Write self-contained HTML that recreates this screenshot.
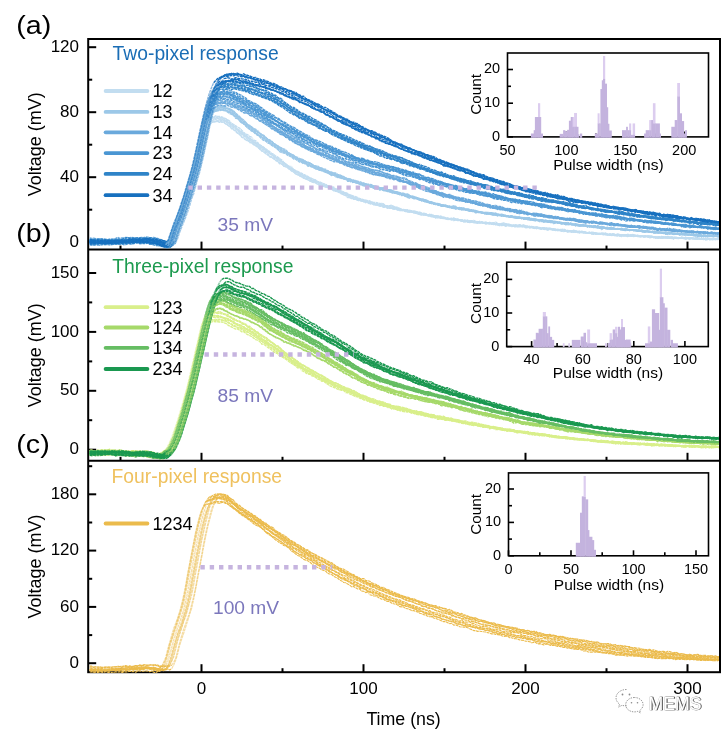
<!DOCTYPE html><html><head><meta charset="utf-8"><style>html,body{margin:0;padding:0;background:#fff;overflow:hidden;}svg{display:block}</style></head><body>
<svg width="724" height="733" viewBox="0 0 724 733" font-family='"Liberation Sans", Arial, sans-serif'>
<rect width="724" height="733" fill="#fff"/>
<g stroke="#000" stroke-width="2" fill="none">
<rect x="88.2" y="39.0" width="631.8" height="633.2"/>
<line x1="88.2" y1="249.6" x2="720.0" y2="249.6"/>
<line x1="88.2" y1="460.8" x2="720.0" y2="460.8"/>
<line x1="201.5" y1="249.6" x2="201.5" y2="241.6"/>
<line x1="363.5" y1="249.6" x2="363.5" y2="241.6"/>
<line x1="525.5" y1="249.6" x2="525.5" y2="241.6"/>
<line x1="687.5" y1="249.6" x2="687.5" y2="241.6"/>
<line x1="120.5" y1="249.6" x2="120.5" y2="245.6"/>
<line x1="282.5" y1="249.6" x2="282.5" y2="245.6"/>
<line x1="444.5" y1="249.6" x2="444.5" y2="245.6"/>
<line x1="606.5" y1="249.6" x2="606.5" y2="245.6"/>
<line x1="201.5" y1="460.8" x2="201.5" y2="452.8"/>
<line x1="363.5" y1="460.8" x2="363.5" y2="452.8"/>
<line x1="525.5" y1="460.8" x2="525.5" y2="452.8"/>
<line x1="687.5" y1="460.8" x2="687.5" y2="452.8"/>
<line x1="120.5" y1="460.8" x2="120.5" y2="456.8"/>
<line x1="282.5" y1="460.8" x2="282.5" y2="456.8"/>
<line x1="444.5" y1="460.8" x2="444.5" y2="456.8"/>
<line x1="606.5" y1="460.8" x2="606.5" y2="456.8"/>
<line x1="201.5" y1="672.2" x2="201.5" y2="664.2"/>
<line x1="363.5" y1="672.2" x2="363.5" y2="664.2"/>
<line x1="525.5" y1="672.2" x2="525.5" y2="664.2"/>
<line x1="687.5" y1="672.2" x2="687.5" y2="664.2"/>
<line x1="120.5" y1="672.2" x2="120.5" y2="668.2"/>
<line x1="282.5" y1="672.2" x2="282.5" y2="668.2"/>
<line x1="444.5" y1="672.2" x2="444.5" y2="668.2"/>
<line x1="606.5" y1="672.2" x2="606.5" y2="668.2"/>
<line x1="88.2" y1="242.2" x2="96.2" y2="242.2"/>
<line x1="88.2" y1="177.2" x2="96.2" y2="177.2"/>
<line x1="88.2" y1="112.2" x2="96.2" y2="112.2"/>
<line x1="88.2" y1="47.2" x2="96.2" y2="47.2"/>
<line x1="88.2" y1="209.7" x2="92.2" y2="209.7"/>
<line x1="88.2" y1="144.7" x2="92.2" y2="144.7"/>
<line x1="88.2" y1="79.7" x2="92.2" y2="79.7"/>
<line x1="88.2" y1="449.7" x2="96.2" y2="449.7"/>
<line x1="88.2" y1="390.8" x2="96.2" y2="390.8"/>
<line x1="88.2" y1="331.9" x2="96.2" y2="331.9"/>
<line x1="88.2" y1="273.0" x2="96.2" y2="273.0"/>
<line x1="88.2" y1="420.2" x2="92.2" y2="420.2"/>
<line x1="88.2" y1="361.4" x2="92.2" y2="361.4"/>
<line x1="88.2" y1="302.4" x2="92.2" y2="302.4"/>
<line x1="88.2" y1="663.2" x2="96.2" y2="663.2"/>
<line x1="88.2" y1="606.9" x2="96.2" y2="606.9"/>
<line x1="88.2" y1="550.6" x2="96.2" y2="550.6"/>
<line x1="88.2" y1="494.3" x2="96.2" y2="494.3"/>
<line x1="88.2" y1="635.1" x2="92.2" y2="635.1"/>
<line x1="88.2" y1="578.8" x2="92.2" y2="578.8"/>
<line x1="88.2" y1="522.5" x2="92.2" y2="522.5"/>
<line x1="88.2" y1="466.2" x2="92.2" y2="466.2"/>
</g>
<clipPath id="cpa"><rect x="89.2" y="40.0" width="629.8" height="208.6"/></clipPath>
<g clip-path="url(#cpa)" fill="none" stroke-width="1.4" stroke-linejoin="round" stroke-dasharray="3 0.6">
<path stroke="#c2ddf0" d="M89.7 241.7l2 .1 2 .1 2-.2 2 0 2-.4 2 0 2 .5 2-.3 2 .7 2-.9 2 .3 2-.4 2-.4 2 1.4 2-1.3 2 .2 2-.4 2 .9 2-.4 2-.1 2-.1 2-.3 2-.2 2 0 2-.6 2 0 2 .6 2-.6 2 .4 2 .4 2 1.2 2 0 2 1.5 2 .1 2 .8 2 .4 2 .3 2-.2M203.7 124.0l2-1 2-.8 2 .3 2-.2 2-.1 2-.8 2 .2 2 .8 2-.5 2 .7 2 1.3 2 1.3 2 1.4 2 2.2 2 .9 2 1.7 2 2 2 1.1 2 2.6 2 1.1 2 1.4 2 .5 2 2.5 2 .3 2 1.3 2 1.6 2 1 2 2.2 2 2.1 2 .1 2 2.6 2 1.1 2 1.7 2 .6 2 1.6 2 1.7 2 .7 2 1.7 2 1.2 2 1.2 2 1.4 2 1.3 2 1.6 2 1.5 2 .9 2 2 2 .7 2 .8 2 .8 2 1.7 2 0 2 1.6 2 1 2 1.3 2 .2 2 .9 2 1.3 2 1.2 2 .4 2 .5 2 .5 2 .6 2 .6 2 1.2 2 1.5 2 .5 2 .3 2 .5 2 1.2 2 1.3 2 .8 2 1.1 2 1.1 2 .6 2 .7 2 .2 2 1.1 2 0 2 .5 2 1 2-.2 2 1.1 2 .9 2 .2 2 .8 2 .4 2 .5 2 .5 2 .5 2 .9 2-.1 2 1.1 2-.4 2 .4 2 .5 2 .5 2 .2 2 1 2-.1 2 0 2 .3 2 .3 2-.5 2 1.6 2 .1 2 .4 2 1.2 2 .7 2 .5 2 0 2-.1 2 .9 2 .5 2 .6 2-.4 2 1.4 2-.7 2 .4 2 .6 2-1 2 1.8 2 .3 2 .2 2-.1 2 1.2 2-.5 2 0 2 .3 2 1 2 0 2-.5 2 1.4 2 .1 2-.5 2 0 2 0 2-.1 2 1.1 2-.6 2 .3 2 1.3 2-.6 2-.5 2 1.6 2-.2 2-.4 2 1.2 2 .7 2-.2 2-.1 2 .4 2-.3 2 .3 2 .8 2-.6 2-.4 2 .3 2 .3 2 .5 2-.1 2 1 2-.2 2 .4 2-.2 2 .5 2 .7 2-.5 2-.1 2 1.2 2-.2 2 .3 2 .7 2-.9 2-.1 2 .6 2 .4 2 .2 2 .1 2 .7 2-.8 2 .2 2 .4 2 .7 2-.2 2 .5 2-.6 2 .6 2 1 2-.6 2-.5 2 .7 2 .2 2 .5 2 .8 2 .2 2 0 2-.5 2 .2 2 .2 2 .5 2-.3 2 .7 2 .1 2-.7 2 .9 2 .7 2-.5 2-.1 2 1.1 2-1 2 .1 2 .5 2-.2 2 .3 2 0 2-.8 2 .6 2 .9 2-.4 2-.4 2-.3 2 .6 2 .2 2-.2 2 .7 2 .4 2 .4 2-.4 2-1.2 2 1.4 2-.6 2 .9 2-.6 2-.3 2 .6 2-.2 2 0 2 .3 2-.1 2 .4 2 .5 2 0 2 0 2-.5 2 .2 2-1.1 2 .4 2 1 2 .2 2-.6 2 1.5 2-.2 2-.5 2 .8 2-.3 2 0 2-.5 2 .3"/>
<path stroke="#c2ddf0" d="M89.7 241.7l2-.6 2 .2 2-.4 2 .1 2 .3 2-.5 2 .9 2 0 2-.8 2-.3 2 .3 2 0 2-.8 2 1.2 2 0 2-.1 2-.9 2-.3 2-.4 2-.3 2 .1 2 .5 2 .2 2-1.3 2 .8 2-.1 2 0 2 .1 2-.2 2 0 2 1 2-.4 2 .4 2 .5 2 .2 2 .4 2 .6 2 .5 2 1.9 2-.3 2-2.1 2-1.3M207.7 126.6l2-2.6 2-1.6 2-.5 2-.4 2-.5 2 .3 2 .8 2-.5 2 2.2 2 1 2 1.3 2 1.1 2 2.6 2 1 2 1.7 2 1.5 2 2.6 2 .9M245.7 140.4l2 .1 2 1.3 2 1.1 2 1.8 2 .5 2 2 2 1.7 2 1.6 2 1.5 2 1 2 1.3 2 2.4 2 .8 2 .9 2 1.8 2 1.1 2 2.5 2 .1 2 2.3 2 .4 2 .9 2 1.1 2 2.1 2 1.3 2 1.9 2 1 2 .3 2 1.5 2 .9 2 1.5 2 .6 2 .8 2 1.3 2 .7 2 .1 2 1.2 2 1.1 2 1.2 2 .4 2 .6 2-.1 2 1.6 2 0 2 1.8 2 .6 2 .6 2 1.4 2 .9 2 .9 2 .8 2 1.9 2 .1 2 1 2 .7 2 .1 2 .9 2 .5 2 .2 2 .4 2 1.3 2-.3 2 1.6 2-.7 2 1.4 2 0 2 .4 2-.4 2 .9 2 .8 2-.1 2 1.3 2 .6 2 .2 2 .5 2 0 2 1 2 .5 2 .2 2 .4 2 .5 2 .5 2-.5 2 .6 2 .5 2 .7 2 .2 2 .9 2 .2 2 0 2 .8 2 0 2 .7 2 0 2 1 2 .7 2-.4 2 .5 2 .5 2-.3 2 .6 2 0 2 .5 2 .2 2 .1 2-.2 2 1.3 2-.2 2 .1 2 1.2 2 0 2-1 2 1.9 2-.6 2 .7 2 0 2 .6 2-.3 2-.6 2 .8 2-.6 2 .5 2-.4 2 1.5 2-.2 2 .4 2 .3 2 .6 2-1.3 2 1.2 2-.1 2-.4 2 .1 2 .9 2-.6 2 .3 2-.1 2-.2 2 1.7 2-.5 2 1.8 2-1.2 2 .7 2-1.1 2 .8 2 .6 2 .4 2 .4 2 .1 2 .5 2-.4 2-.1 2 .3 2 .8 2 .5 2 0 2-.7 2 .8 2 .5 2-.5 2 .6 2 0 2-.3 2 .1 2 .5 2 .1 2 .7 2 .2 2 .1 2-.3 2 .3 2 .9 2-.3 2 .2 2-.1 2 1.2 2-.6 2 .4 2-.6 2 .4 2-.1 2 .6 2 .6 2 .2 2-.3 2-.1 2-.9 2 .6 2 1.3 2-.7 2 1.1 2 .2 2-.8 2 0 2 .8 2-1 2 1 2 .1 2-.4 2 .1 2 .2 2 0 2-.2 2 .3 2 .4 2 .7 2 .1 2-.5 2 .6 2-.2 2-.2 2 .6 2-.4 2-.4 2 .3 2-.4 2 .5 2 .4 2 .1 2 .4 2 .1 2-.9 2 0 2 .4 2 0 2 .9 2-.6 2 .7 2 0 2-.4 2 0 2-1.1 2 1.7 2-.7 2-.2 2 .4 2 .6 2-.9"/>
<path stroke="#c2ddf0" d="M89.7 244.9l2-1.2 2 .2 2-.2 2 .6 2-.7 2 .4 2 .5 2 .2 2-1.2 2 .5 2-1.1 2-.4 2 1.1 2 0 2-.3 2-.3 2 .3 2-.8 2 .1 2 .2 2 .2 2-.6 2-.4 2 .7 2-1.2 2 .7 2-.1 2 .5 2 0 2-.1 2 1.4 2 .8 2 .1 2 1.2 2 .4 2 .4 2 .6 2-.4 2-1M205.7 122.8l2-1.6 2-.7 2 .3 2 .5 2-.3 2-.4 2-.6 2 .8 2 .1 2 .8 2 1.5 2 1.5 2 1.6 2 1.6 2 1 2 1.7 2 1.9 2 1.7 2 1.9 2 1.1 2 2.4 2 .9 2 1 2 1.5M255.7 145.7l2 .6 2 1.3 2 1.9 2 .4 2 1.9 2 1.8 2 2.2 2 1.3 2 1.2 2 .8 2 1.9 2 1.7 2 1.3 2 .9 2 .3 2 1.2 2 2.2 2 .9 2 1.6 2 1.6 2 1.6 2 1.8 2 .7 2 1.5 2 0 2 .4 2 2 2 0 2 .5 2 0 2 1.3 2 .8 2 1.6 2 .8 2 .5 2 .8 2 .8 2 .3 2 1.1 2 1.5 2 .9 2 .4 2 1 2 .5 2 .7 2 1.5 2 .7 2 .7 2 1.3 2 .3 2 .9 2 .4 2 1 2 .5 2-.8 2 1.6 2 .3 2 .8 2 .6 2 .9 2 .3 2 .8 2 .3 2 0 2 .6 2 .5 2 1 2-.2 2 .9 2 0 2 .8 2-.6 2 .7 2-.4 2 1 2 1.1 2 .5 2-.6 2 1.4 2-.4 2 .8 2 0 2 1.1 2-.6 2 .4 2 1.1 2-.1 2-.4 2 1.3 2 .9 2-.4 2-.1 2 1.5 2-.2 2 .7 2-.3 2 .8 2-.4 2 .1 2 .8 2 .3 2 .7 2 .6 2 .5 2-.3 2 .6 2-.3 2 .3 2 0 2 .6 2-.1 2 .1 2-.6 2 1.1 2 0 2 .2 2 .3 2 .5 2 .4 2-.5 2 .8 2-.2 2-.3 2 .4 2 1.5 2-.8 2 0 2 0 2 .8 2-1 2 .4 2-.9 2 .5 2-.1 2 1.5 2 .8 2-.7 2-.1 2 .7 2-.6 2 .7 2 1.1 2-.1 2 .1 2 .1 2 .1 2 .2 2 .1 2 .1 2 .4 2 .5 2 .4 2 .2 2 .9 2-.5 2 .8 2-.1 2 .7 2-.7 2 .5 2 .4 2-.8 2 .7 2-1 2 .7 2 .7 2-.1 2 .2 2-.4 2 .5 2 .1 2 .9 2-.7 2-.1 2 .6 2 .6 2-.1 2 .8 2-.5 2 .5 2-.5 2 .1 2 .3 2-.5 2 .9 2-.2 2 .6 2-1.5 2 .3 2 .9 2-.3 2 .4 2 .3 2 .5 2 .2 2-.2 2 .7 2 .1 2-.2 2 .4 2 .3 2-.4 2 .3 2-.5 2 .6 2-.5 2 0 2 1.2 2-.5 2 0 2 .5 2-.7 2-.5 2 .4 2-.2 2 1.1 2 .1 2-.2 2 0 2 .2 2 .5 2 .1 2-.2 2-.5 2 1.3 2-1.7 2 .6 2 .7 2-.6 2 .8 2-.7 2 .5"/>
<path stroke="#c2ddf0" d="M89.7 242.1l2 .2 2-.1 2 .1 2 .1 2 .6 2-.3 2-.1 2-.1 2 .3 2 .5 2-.3 2-.1 2-.1 2 0 2-.3 2 0 2-.5 2-.2 2-.5 2-.6 2 0 2 .8 2 .2 2 0 2-.1 2-.9 2 1.3 2-1.2 2 .9 2-.7 2-.4 2 1.1 2 1.1 2-1.2 2 .5 2 1 2 .3 2 1.1 2 0 2 .5 2 .8 2-1.3M211.7 121.4l2-1.9 2-.1 2-.6 2 .3 2 .7 2 .4 2 .8 2 1.3 2 1.1 2 1.3 2 1.1M235.7 128.7l2 1.2 2 2.4 2 .7 2 2.4 2 1.5 2 .8 2 1.7 2 2.2 2 .3 2 1.4 2 1.1 2 1.5 2 1.1 2 1.5 2 1.7 2 1.1 2 2.4 2 1.1 2 2 2 .9 2 1.7 2 1.4 2 1.6 2 1.5 2 1.9 2 .5 2 1.2 2 1.6 2 1.2 2 1.4 2 .4 2 1.6 2 1.1 2 1.6 2 1 2 1.2 2 .1 2 2.1 2-.1 2 1.2 2 .9 2 1.2 2 .7 2-.2 2 1.3 2-.1 2 .8 2 .6 2 .7 2 1.9 2 .7 2 .6 2 1.9 2-.1 2 1.6 2 .7 2 1.1 2 .4 2 1.1 2 .4 2 1.2 2-.2 2 1.6 2-.1 2 .6 2 .7 2 1.3 2-.3 2 .7 2 .8 2 .1 2 .6 2 .1 2 .8 2-.2 2 .6 2 1 2 .7 2-.4 2 .6 2-.1 2 1 2 .9 2 .5 2-.1 2 .4 2 .6 2-.2 2 .3 2 .9 2 .7 2 0 2 1 2 .5 2-.7 2 .9 2-.4 2 .6 2 .8 2 .1 2 .1 2 1.4 2 .8 2 .3 2 0 2 .2 2-.1 2-.4 2-.4 2 1.4 2 .2 2 .4 2 0 2 1.2 2 .1 2-.5 2 .1 2-.1 2-.2 2 .9 2 .3 2 1 2 .2 2 .5 2 .1 2 .1 2 .3 2-.3 2 .1 2 1.2 2-1 2 1.4 2-.6 2-.1 2 .9 2 0 2 .4 2-.6 2 1.7 2-.5 2 .5 2-.8 2-.4 2 .2 2 .1 2 .5 2 .8 2-.6 2 .6 2 .7 2 .1 2-.1 2-.4 2 .1 2-.1 2 1.2 2 0 2-.5 2 .8 2 .2 2 1.1 2-.2 2 0 2 .4 2 .4 2 .8 2-1 2 .9 2 .4 2-1.2 2 .6 2 0 2 .6 2 .6 2 .2 2-.2 2-.2 2 .1 2 0 2 .3 2 .4 2-.1 2 0 2 .6 2 .1 2 .4 2 .7 2 .4 2-1 2 .4 2 .4 2-.7 2 .1 2 .5 2-.4 2 .4 2-.1 2-.4 2 .3 2 .9 2 .1 2-.4 2 .7 2 .4 2-.5 2 .6 2 1 2-.4 2-.8 2 .6 2 .3 2 1 2-.9 2-.7 2 .6 2-1 2 .3 2 .3 2-.2 2 .9 2 .1 2-.2 2-.3 2 .8 2-.9 2 .7 2 .4 2 .1 2 .8 2-.9 2 .4 2-.1 2 .7 2-.5 2-.5 2 .5 2 .1 2-.1 2-.2 2 .3 2 .2 2 .1"/>
<path stroke="#c2ddf0" d="M89.7 241.6l2-.6 2-.6 2 .7 2-.1 2 0 2-.1 2 1 2-.8 2 .4 2 .2 2-.4 2 .1 2 .3 2-.4 2 .3 2-1 2 0 2 .3 2-.8 2-.1 2 .3 2 .4 2-.5 2 0 2-.4 2 .9 2 0 2-1.1 2-.1 2 .3 2 .5 2-.3 2 .1 2 1 2 .9 2 .8 2 .3 2 1.6 2 .3 2-.5 2-1.5M209.7 120.3l2-1.1 2-.1 2-.7 2-.1 2 .7 2 .1 2 1.3 2 .6 2 1 2 2.2 2 1.3 2 .9 2 2.6 2 1.1 2 2 2 1.4 2 1.1 2 1.6 2 1.4 2 2.6 2 .2 2 2.3 2 .9 2 1.9 2 1.4 2 1.1 2 .1 2 1.8 2 2.1 2 1.4 2 1.1 2 1.6 2 1.6 2 1.5 2 1.6 2 .6 2 1.4 2 1.1 2 2.4 2 1.4 2 1.6 2 1 2 1.6 2 1.5 2 1.3 2 .2 2 1.1 2 .6 2 1.8 2-.1 2 2.1 2 .3 2 1.1 2 .1 2 1.1 2 1.2 2 .9 2-.1 2 1.2 2 .8 2 1.3 2 .6 2 .8 2 .8 2 1.6 2 .7 2-.2 2 1.8 2 .7 2 .8 2 1.2 2 .7 2 0 2 1.2 2-.3 2 1.7 2 .9 2 .1 2 .9 2-.7 2 1.6 2 0 2 1.1 2-.3 2 .7 2 .2 2 1 2 .4 2 .4 2 .2 2 .8 2-.2 2 .7 2 .1 2 .7 2 .6 2 .8 2-.1 2 1.3 2 .5 2-.4 2 .6 2 .1 2 .6 2-.6 2 1.4 2 .7 2 .2 2 .1 2 .1 2 1.3 2-.3 2-.1 2 2 2-.5 2 .2 2 .4 2 .4 2 1.2 2-1.3 2 .9 2 0 2-.3 2 1.5 2-.3 2-.2 2 .3 2 .4 2-.2 2 1 2 0 2 .2 2 1.2 2-.2 2-1.2 2 1.2 2 .2 2 .7 2-.1 2 .5 2 0 2-.4 2 1 2-.2 2-.3 2 .6 2 .2 2-.4 2 .9 2 0 2 .8 2-.7 2 .8 2 0 2 .7 2-.5 2 0 2 .2 2 .9 2 .1 2 0 2 .7 2-.1 2-.1 2 .9 2-.3 2 .4 2-.6 2 .2 2-.6 2 1.1 2 .7 2-.5 2 .5 2 .1 2 .1 2 .5 2-.2 2 1.4 2-1.1 2 .4 2 .6 2 .5 2-.6 2 .9 2-.4 2 .6 2 0 2 .2 2-.5 2 .7 2 .2 2 0 2 .4 2 .3 2-.8 2 .3 2 1.2 2-.6 2 .6 2-.8 2 .2 2 .5 2 .5 2-.4 2 .3 2 .2 2-.4 2 1 2 0 2 .3 2 0 2-.4 2 .7 2-.5 2 .6 2 .2 2-.7 2 .1 2 0 2 .2 2 .7 2 1.2 2-.7 2 .4 2 .3 2 .1 2-.3 2-.3 2 .3 2-.7 2 1.3 2-.5 2 .7 2-.4 2 0 2 .1 2 .6 2-.8 2 .8 2-1 2 .4 2-.4 2 .1 2 .5 2-.1 2 .8 2 .1 2-.4 2-.4 2 .9 2-.2 2-1 2 .8 2 0"/>
<path stroke="#c2ddf0" d="M89.7 241.1l2 1.1 2-.8 2 0 2 1.4 2-1.2 2 0 2 .2 2-.1 2-.1 2 .4 2 .1 2 .2 2-.2 2 0 2-.9 2 .8 2-.4 2 .7 2-.9 2 .5 2-1 2 1.2 2-1 2 .2 2-.1 2-.9 2 .1 2 .6 2-.5 2 1.1 2-.2 2 1.6 2 0 2 .5 2 .6 2 1.5 2 .6 2-.6 2-2M205.7 120.4l2-2.1 2 .1 2-.3 2-.5 2 .1 2-.4 2 .6 2-.2 2 1.2 2 .8 2 1.8 2 1.1 2 1.4 2 .8 2 1.3M237.7 129.0l2 1.4 2 1.7 2 1 2 2.4 2 1.4 2 .9 2 2.2 2 .7 2 2.3 2 .4 2 2.3 2 1.6 2 2.1 2 .9 2 1.1 2 1.9 2 .3 2 2 2 1.5 2 1 2 1 2 2.5 2 1.1 2 1.2 2 1.6 2 2.4 2 .3 2 1.7 2 1.7 2 .7 2 1.8 2 .7 2 .6 2 .5 2 1.2 2 .6 2 .9 2 .5 2 1.5 2 1.1 2 1.1 2 1.4 2 1 2 .5 2 0 2-.1 2 1.9 2 1 2 .2 2 .9 2 1.3 2 .2 2 1.1 2 1 2 1.2 2 .8 2 .3 2 2.1 2 .4 2 .2 2 1.5 2-.6 2 1.2 2 .5 2 .2 2 0 2 1.2 2 .7 2 .8 2-.2 2 .6 2-1 2 1.1 2 1.8 2-.4 2 .1 2-.5 2 2.1 2 0 2 0 2 1.6 2 .5 2 .7 2-.1 2 .9 2 0 2 1 2-.6 2 .5 2 .8 2 .3 2 .5 2 .9 2 .6 2 .3 2 .2 2 .7 2 .4 2 .2 2 0 2 .6 2-.4 2 .9 2 .3 2 .6 2 0 2 .4 2 .4 2-.3 2-.3 2 1.2 2 .2 2-.2 2 .5 2-.3 2 1 2 .1 2 .6 2-.1 2 0 2 .7 2-.3 2 .4 2 .8 2 .3 2-1 2 .6 2-.6 2 1.8 2-.7 2 .7 2 .1 2-.6 2 .1 2 .6 2-.2 2 1 2-.2 2 .4 2 .7 2-1.1 2 .4 2-.2 2 .9 2-.2 2 .2 2 .8 2 .5 2-.7 2 .5 2 .6 2 .3 2-.2 2 .6 2-.2 2-.2 2 .8 2 .3 2 .9 2 0 2-1 2 1 2-.2 2 .6 2 0 2-.2 2 .3 2 0 2 0 2 .5 2 0 2-.3 2 .7 2 .6 2 .7 2 .1 2 .1 2-.3 2 1.3 2-.2 2 0 2-.6 2 .6 2 .6 2 .1 2-.8 2 1.1 2-.8 2 .2 2 1.3 2 .1 2-.3 2 .3 2-.2 2-.5 2-.2 2 .2 2 1.1 2-.5 2 .1 2 .1 2 .4 2-.6 2-.1 2 1.1 2 0 2 .3 2-.3 2-.2 2-.1 2 0 2 .3 2-.1 2-.1 2 .4 2 1.2 2-.5 2 1.4 2-1.4 2 .5 2-.1 2-.8 2 .7 2-.2 2 .2 2-.3 2 .8 2 0 2 .3 2-1 2 1.3 2-.1 2-.8 2 .3 2 .8 2-.9 2 .5 2-.3 2 .4 2 .1 2 .6"/>
<path stroke="#c2ddf0" d="M89.7 240.3l2 .8 2-.3 2 .5 2-.7 2 .8 2-1.3 2 1.2 2 0 2 .4 2-.7 2 0 2-.5 2-.9 2 .1 2 .6 2 .4 2 0 2 0 2 .2 2-.9 2 0 2-.6 2-.1 2-.2 2-.5 2 .3 2 0 2 .8 2-.5 2 .1 2-.1 2 .4 2 .6 2 .2 2 .4 2 1.2 2-.2 2 .4 2 1.5 2-.1 2-.6 2-2M209.7 120.4l2-2.5 2-.4 2-.5 2 .2 2 .2 2 .6 2 .6 2 .6 2 1 2 2.3 2 .9 2 1.6 2 2.3 2 2.1 2 1.9 2 .5 2 2.5 2 .9 2 1.3 2 2.6 2 .5 2 2.5 2 .1 2 .5 2 2.4 2 1 2 1.4 2 2 2 1.2 2 2.2 2 1.5 2 1.4 2 1 2 1.2 2 1.4 2 1.9 2 1.8 2 1.5 2 1.4 2 1.3 2 .7 2 1.4 2 1.2 2 1.1 2 1 2 1.3 2 .8 2 1.2 2 1.1 2 1.4 2 .9 2 .5 2 .4 2 1.7 2 0 2 .9 2 1.7 2 1 2 .7 2 .7 2 1.9 2 .2 2 .6 2 .3 2 1.3 2 .1 2 1 2 1 2 .1 2 1.7 2 .9 2 .5 2 1.1 2 1.1 2 0 2 1 2 .9 2-.2 2 .2 2 .5 2 .8 2 .8 2 .8 2 0 2 1.5 2-.1 2 .4 2 .6 2-.4 2 .6 2-.8 2 .9 2 1.2 2 .9 2 .6 2 .7 2-.3 2 .9 2-.5 2 .6 2 .6 2 .1 2-.1 2 1.4 2-.4 2 1.2 2 .7 2-.2 2 1.5 2-.7 2 .5 2 .5 2 .2 2 .3 2-.1 2 .6 2 .8 2 .4 2 .6 2 .1 2 1.6 2-1.3 2 .6 2 1 2-.6 2 1 2 0 2 .8 2-.2 2-.2 2 .4 2 .1 2 .8 2-.7 2 .7 2-.2 2 .9 2-.9 2 .7 2 .4 2-.3 2-.1 2 1.3 2-.3 2 .7 2-1.2 2 .3 2 .5 2-.2 2 .5 2 .8 2-.2 2 0 2 .4 2 .6 2 .2 2-1.3 2 1 2 .3 2 .8 2-.6 2 .8 2 .5 2-.8 2 .7 2 .1 2 0 2 .8 2-.3 2-.2 2 1.3 2 .2 2 .1 2-.3 2 1 2-.3 2 0 2 1 2-.7 2 .4 2 .3 2-.9 2 .9 2 .6 2-.1 2 .6 2 0 2 .2 2 .2 2-.2 2 1.2 2-.5 2 .5 2-.1 2 .8 2-.5 2 0 2-.8 2 1.5 2 .3 2-.2 2-.1 2 .5 2-.1 2 .8 2-1.1 2 .9 2-.2 2-1.2 2 1.6 2 .4 2 .1 2-.9 2 1.1 2-.1 2-.1 2 .1 2-.2 2 .3 2 .4 2 0 2 .5 2 .2 2-.5 2 .4 2 .1 2 .3 2-.3 2 .9 2-.5 2 .1 2 .4 2-.8 2 .2 2-.1 2 .1 2 .4 2-.8 2 .5 2-.2 2-.1 2 1.2 2 0 2-.4 2-.2 2 0 2 1.3 2-1.3 2 .8 2-.5 2 .7 2-.3 2-.3 2 .8 2-.9"/>
<path stroke="#c2ddf0" d="M89.7 242.5l2 0 2 .2 2 .1 2-.4 2 0 2 .1 2 0 2 .5 2 .2 2-.6 2 .3 2-.3 2 .1 2 .3 2-.5 2-.7 2 .7 2 0 2-.7 2 .4 2-.1 2 .1 2 0 2-1.2 2 0 2 .1 2 0 2 .4 2 .1 2 .6 2 .2 2 .2 2-.2 2 .8 2 1.3 2 .7 2 .5 2 1.3 2-.6 2-1.2M207.7 119.2l2-1.8 2-.9 2 .5 2-1.2 2 .6 2 .1 2 .5 2 .8 2 .8 2 1.3 2 1M231.7 123.7l2 1 2 1.1 2 1.5 2 .9 2 2.1 2 2 2 1.9 2 .5 2 1.7 2 .8M253.7 140.3l2 .5 2 2.3 2 1.8 2 1 2 1.4 2 1.4 2 1.7 2 1.3 2 1.7 2 .9 2 1.9 2 .8 2 1.7 2 1.2 2 2.3 2 1.7 2 1.8 2 .8 2 0M293.7 170.0l2 1 2 .4 2 1.4 2 .5 2 1.1 2 .9 2 1.1 2 1.6 2 .5 2 1.2 2 .4 2 2.1 2 .8 2-.1 2 .9 2 .4 2 1.8 2-.1 2 1.9 2-1.1M335.7 189.4l2-.7 2 1.6 2 1.6 2 .7 2 0 2 1.3 2 1.1 2 .3 2 .9 2 .5 2 1 2 1 2 .6 2 .3 2 .6 2 .4 2 1 2 .4 2 .5 2-.1 2 .5 2 .5 2 1 2-.1 2 1.4 2 .7 2 .5 2 0 2 1 2 .5 2 .6 2-.7 2 1.2 2 .2 2 .8 2 .2 2-.2 2 .5 2 1.3 2 .1 2-.3 2 1.4 2 .1 2-.3 2 .3 2 1.6 2 .1 2-.8 2 1.1 2 .3 2 1 2-.5 2 .9 2 .1 2 .8 2 .1 2 .7 2 0 2 .2 2-.1 2 .8 2 0 2 .7 2-.2 2 0 2 .4 2 0 2 .6 2 0 2 .5 2 .3 2 .3 2-.3 2 .2 2-.3 2 .8 2-.6 2 1.3 2-.6 2-.9 2 1.5 2 .4 2-.2 2-.9 2 .8 2 .6 2 .3 2 1.3 2-.4 2-.7 2 1.8 2-.8 2 .4 2-.6 2 1.1 2-.2 2 0 2 .6 2 .2 2 .7 2 .2 2 .1 2-.2 2 .2 2 .2 2 1.1 2 0 2-.5 2-.3 2 .9 2-.2 2 0 2 0 2-.3 2 1 2 .5 2 .4 2-.4 2 .6 2 .1 2 .4 2-.5 2 .9 2 .8 2-.7 2 .7 2-.5 2-.4 2 .4 2 .7 2 .5 2 .1 2-.4 2 .5 2 .5 2 .1 2-.6 2 .1 2 .4 2 .4 2 .7 2 0 2-.9 2 .2 2 .2 2-.1 2-.3 2 .5 2 .6 2 .2 2-.4 2 1.3 2-1.2 2 1.4 2-.1 2-.7 2-.4 2 .7 2 1.3 2-.7 2 .8 2-.2 2-.4 2-.1 2 0 2 .1 2-.2 2 .4 2 .4 2-.4 2 .4 2-.1 2 .2 2 0 2-.2 2 .2 2-.3 2 .3 2 .6 2 .2 2 .2 2-.5 2 .8 2 .2 2-.5 2-.5 2 1.4 2-1.2 2 .2 2 .3 2-.1 2-.1"/>
<path stroke="#9cc8e8" d="M89.7 242.8l2 .6 2-.2 2 .1 2-.2 2-.1 2-.8 2 .9 2-.8 2 .6 2 0 2-.2 2 .7 2-.3 2-.5 2 .7 2-.2 2-.5 2-.2 2-.1 2 .7 2-1.2 2 .3 2-.2 2 .5 2-.9 2 .1 2-.7 2 .4 2 .8 2 .2 2 .3 2 .2 2 1.5 2 0 2 .4 2 .7 2 .4 2 .2 2-.1 2-.7M209.7 113.3l2-1.5 2-.1 2-.7 2-.3 2-.1 2-.6 2 .2 2 .5 2 1.4 2 1.4 2 .8 2 1.3 2 2.6 2 .3M239.7 121.2l2 1.7 2 .5 2 2.1 2 2.3 2 .9 2 1.2 2 1.8 2 1.8 2 1.6 2 1.6 2 2.3 2 1.3 2 .7 2 2.1 2 .5 2 1.7 2 1 2 1.3 2 1.8 2 2.3 2 .8 2 .6 2 .2 2 2.1 2 .6 2 1.2 2 1.8 2 .1 2 1.4 2 1.6 2 .3 2 1.5 2-.5 2 2.6 2 .3 2 .5 2 1 2 .5 2 1 2 .7 2 .5 2 1 2 .2 2 .6 2 1.5 2 1.7 2-.6 2 1.9 2-.1 2 1.1 2 .1 2 1 2 0 2 .8 2 1.2 2 1.6 2-.4 2 .9 2 .2 2 1 2 1 2 .5 2 .5 2-.5 2 .8 2 1 2 .5 2 .4 2 .6 2 1 2-.8 2 .8 2 .8 2 .3 2 .8 2 .4 2 .3 2 .5 2 .1 2 .7 2-.1 2 1.2 2 .8 2 .8 2-.1 2 .9 2 .9 2-.3 2 1.3 2 .4 2 1.3 2 .4 2 .4 2 .1 2 1.2 2 .6 2-.1 2 1 2 .5 2 .5 2 .8 2-.3 2-.2 2 .6 2 .2 2 1.5 2-.6 2 1.2 2-.2 2 .9 2-.2 2 0 2 .5 2 .6 2 .8 2 .2 2 .5 2 1 2-.4 2-.2 2 .5 2 .1 2 .1 2 .7 2 .3 2 .8 2-.2 2 .1 2 1 2-.3 2-.2 2 1.1 2-.1 2 .4 2 .8 2-.1 2 .3 2 .6 2 .1 2-.2 2 0 2 .2 2 0 2 1 2-.2 2 .9 2 .5 2-.2 2 .2 2 1.2 2-.2 2-.2 2 .1 2 1 2-.2 2 .1 2-.5 2 0 2 .4 2 .4 2 .4 2-.1 2 1.9 2-.9 2 .5 2 .5 2-.1 2 0 2 .1 2 .5 2-.3 2 .4 2 .4 2 1.3 2-.2 2-.5 2 .6 2-.5 2 1.1 2-.9 2 .7 2 .5 2 .5 2 .2 2 .4 2 0 2-.1 2-.1 2 .5 2 0 2 .2 2 .8 2 .2 2-.9 2 .8 2-.8 2 .5 2 .6 2-.4 2 .3 2 1 2 .7 2-.7 2 0 2 .1 2 0 2 .7 2 .5 2-.2 2-.4 2 .5 2 .6 2 .2 2 .5 2-.7 2-.1 2 1.1 2-.3 2-.5 2 1.5 2-.7 2 .4 2-.2 2 .2 2-.2 2-.3 2-.4 2 1.4 2 .5 2 .3 2-.8 2-.1 2 1 2-.5 2 .1 2-.3 2 .2 2 0 2 .6 2 0"/>
<path stroke="#9cc8e8" d="M89.7 243.0l2 .1 2 0 2-.2 2-.6 2-.1 2-.5 2 .8 2-.3 2 0 2-.1 2-.1 2 .1 2 .3 2 0 2-.5 2 .2 2-.6 2 .6 2-.3 2-.6 2 .8 2-.3 2-.5 2 .3 2-.2 2-.2 2 .1 2 .5 2 .6 2-.1 2 .4 2 .6 2 0 2 .8 2 1.5 2 .2 2 .8 2-1.4 2-2.5M205.7 114.6l2-2.1 2-.7 2-.5 2-.4 2-.6 2-1.3 2 .7 2-.2 2 1 2 0 2 .7 2 .8 2 1.2 2 1.9 2 1 2 1.3M239.7 120.5l2 1.7 2 1.8 2 1.7 2 2 2 1.9 2 1.6 2 .8 2 2.1 2 1 2 .7 2 1.3 2 1 2 1.3 2 1.6 2 1.5 2 2.6 2 1 2 1.2 2 1.3 2 1.2 2 1 2 1.6 2 .5 2 1.2 2 1.7 2 .3 2 1.3 2 1.1 2 1 2 1.1 2 1.2 2 1.1 2 .3 2 1.2 2 .4 2 1.8 2 .7 2 1.8 2 0 2 1.3 2 .1 2 .7 2 1.2 2 .5 2 1.3 2 .8 2-.5 2 1 2 .8 2 1 2 .5 2 1 2-.2 2 2.6 2 .2 2-.1 2 .6 2 .5 2 .8 2 .8 2-.4 2 .7 2 .9 2 .4 2-.3 2 1.7 2 .6 2 .1 2 1 2-.1 2 .7 2 .5 2 1 2 .7 2-.1 2 1.3 2 .3 2 .3 2 .8 2 .4 2 1 2-.1 2 1 2 1.1 2 .7 2-1.1 2 1.2 2 .3 2 .7 2 .7 2-.6 2 1.7 2 .1 2 .6 2 .8 2 .4 2 .2 2 .6 2-.5 2 1.3 2 .2 2 1.2 2 .3 2 .7 2 .7 2-.2 2 1 2 .3 2 0 2 .2 2 .9 2-.1 2 .1 2 .1 2 .7 2 .6 2-.1 2 .9 2 .3 2-.1 2 .9 2 .1 2 .7 2-.1 2-.1 2 .2 2 .4 2 1.1 2-.9 2 .9 2 .7 2-.8 2 .7 2 0 2-.7 2 1.6 2 .4 2 .4 2 .5 2-.8 2 1.3 2 .5 2-.3 2-.3 2-.2 2 1.1 2-1 2 1 2 .9 2 .1 2-.1 2 .6 2 .5 2 0 2-.6 2 .2 2 .8 2 .5 2-.7 2 1.3 2 .9 2 .1 2 .2 2 .4 2-.2 2 .4 2 .1 2 .1 2 .5 2 .4 2 0 2-.7 2 .9 2 .2 2-.2 2 .7 2 .6 2-.3 2 .4 2 .5 2 .2 2-.5 2 .5 2 .5 2 .1 2-.8 2 .8 2-.1 2 .2 2 .5 2-.1 2 .6 2-.1 2-.5 2 .5 2-.3 2 .7 2 0 2 .4 2 .7 2-.8 2 .1 2 .6 2 .1 2 .3 2-.2 2-.1 2-.1 2 .7 2 .2 2 .2 2 .3 2 1.1 2-1.2 2 1.3 2 .1 2-.6 2 0 2 .1 2 .6 2 0 2-.1 2-.3 2 .9 2 .3 2-.1 2 .5 2 .5 2 .8 2-1 2 .9 2-1.4 2 .7 2-.3 2 .7 2 .1 2 .1 2-.3 2 .8 2-.1"/>
<path stroke="#9cc8e8" d="M89.7 242.2l2-1.2 2 .8 2-.3 2 0 2 .3 2 .3 2-.4 2-.1 2-.2 2 .2 2 .1 2-.5 2 .4 2 0 2-.5 2-.1 2 .5 2-1 2 .2 2 .8 2-.2 2-1.1 2 .3 2 .1 2-.3 2 .1 2-.1 2-.1 2 .7 2-1 2 2.1 2 0 2-.8 2 .3 2-.2 2 .8 2 .4 2 .9 2 1 2 .8 2-2.1M211.7 113.5l2-1.8 2-.4 2-.9 2-.8 2-.1 2 .1 2 .8 2 .7 2 1.3 2 1.6 2 1.1 2 1.9 2 1.4 2 2.5 2 .7 2 2.1 2 1.9 2 1.7 2 1.6 2 1 2 1.7 2 1.6 2 1.4 2 1.6 2 .9 2 1.5 2 1.9 2 1.5 2 1 2 2 2 .4 2 1.9 2 1.5 2 1.1 2 1.8 2 .2 2 1.2 2 .8 2 1.2 2 1.9 2 .3 2 2 2 .9 2 .3 2 1.3 2 1.2 2 .6 2 1.2 2 .8 2 .5 2 .8 2 1.5 2 0 2 1.3 2 .4 2 .1 2 1.2 2 1.1 2 .1 2 2.1 2 .4 2 .6 2 1.8 2-.1 2 1.1 2-.1 2 .6 2 .5 2 1.2 2-.1 2-.2 2 1 2 1.5 2 .7 2 1.3 2-.2 2 1 2 .7 2 .4 2-.3 2 1.6 2 1.1 2-1.6 2 1.7 2 .5 2 .9 2-.3 2 .9 2 .1 2 .8 2 .3 2 .5 2 .8 2 .2 2 .7 2 .7 2 0 2 1.8 2-.4 2 .8 2 1.1 2-.1 2-.4 2 .9 2 1 2 .9 2 1.1 2 .3 2 .8 2 .1 2-.1 2 .6 2 .5 2 .3 2 1.3 2-.6 2 .8 2 1 2 .1 2 .3 2 .3 2 .8 2-.6 2 .9 2 .6 2-.7 2 .8 2 .4 2 .9 2-.3 2 .8 2-.1 2 .8 2-.1 2 1 2 0 2 .9 2 0 2 0 2 .8 2 .3 2 0 2-.4 2 .5 2 1.1 2-1 2 1.3 2 .5 2-.3 2-.2 2 1.1 2 .5 2-.3 2 .2 2-.4 2 .9 2 .6 2 .3 2-.1 2 .4 2 .5 2-.1 2 0 2-.1 2 .7 2 1.5 2-.4 2 .1 2 .4 2-.1 2 .7 2-.2 2-.1 2 .6 2 .1 2 .1 2 .5 2-.2 2 .3 2-.1 2 .8 2-1 2 .9 2 0 2 1 2 .1 2 .2 2 .1 2 .1 2 .4 2 .4 2 .2 2 .9 2-.2 2 1.7 2-1.6 2 .3 2 .2 2-.3 2 .1 2 .4 2 .5 2 0 2 .1 2 .5 2-.2 2-.1 2 .2 2 .4 2 .2 2-.3 2 .2 2 .5 2 .1 2 .7 2 .5 2-.3 2-.2 2 .6 2-.4 2-1 2 1.7 2 .4 2-.6 2 .9 2-.1 2 .3 2-.3 2 .3 2 .4 2 .9 2-.7 2 .3 2-.6 2 .5 2-.4 2 0 2 1.1 2-.1 2-.5 2 .6 2 .4 2-.6 2 .3 2 1.3 2-.5 2 .3 2 .3 2-.1 2 .8 2 0 2-1 2 .4 2 .4"/>
<path stroke="#9cc8e8" d="M89.7 238.9l2 .2 2 .3 2 .1 2-.6 2 1 2-.7 2 .1 2 0 2 .3 2-.4 2 .6 2-1 2 .2 2-.5 2 .9 2-.4 2-.6 2 .1 2 0 2 .2 2-.4 2 .2 2-.7 2 0 2 .8 2-.8 2 .7 2 .1 2 0 2 .4 2-.3 2 .4 2 .9 2 0 2 1 2 .3 2 .7 2 .1 2-.7 2-2.6M207.7 112.8l2-1.1 2-.3 2-1.1 2-.6 2-.8 2-.1 2 .3 2-.3 2 1.2 2 .9 2 .5 2 1.2 2 2.2 2 1.7 2 1.6 2 1.5 2 2 2 1.4 2 1.8 2 1.3 2 1.9 2 1.4 2 1.1 2 2.1 2 1.7 2 .9 2 1.7 2 2.4 2 .9 2 1.1 2 1.4 2 1.5 2 1.2 2 1.5 2 .9 2 1.4 2 .7 2 2.2 2-.1 2 1.3 2 1.5 2 .6 2 1.9 2 1.2 2 1.1 2 .8 2 .4 2 1.3 2 .6 2 1.8 2 .4 2 1.5 2 .3 2 .9 2 1.4 2-.1 2 1.4 2 .7 2 .6 2 1.4 2 .5 2 1.7 2 0 2 .6 2 .8 2 .2 2 .4 2 1.2 2 1.2 2 .4 2 .6 2 .8 2 .2 2 .4 2 1.2 2 .5 2 .7 2 1 2 .6 2 .1 2-.1 2 .8 2 0 2 1.3 2 .1 2-.1 2 .8 2 1 2 .5 2 .3 2 .9 2 .5 2 .7 2-.1 2-.4 2 2.2 2-.8 2 1.6 2 1 2-.3 2 .6 2 .7 2 .1 2-.1 2 1.1 2 1.6 2 .6 2 0 2 .3 2 .9 2 .2 2 .2 2 2 2-.7 2 1 2 .5 2 .2 2 .7 2 .7 2 .4 2-.6 2 1.1 2 0 2 1.1 2-.3 2 0 2 .8 2-.1 2 1 2 .6 2 .2 2 .2 2 0 2 .3 2 0 2 .3 2 .7 2 .2 2 .4 2 .7 2-.4 2 .4 2 1.2 2 .2 2 .8 2-.4 2-.3 2 .6 2 .7 2-.3 2 .5 2 .4 2 0 2 .5 2-.5 2 1.3 2-.6 2 1 2 0 2 .8 2 .5 2-.6 2 .9 2 .5 2-.8 2-.3 2-.1 2 .4 2 1.8 2-.1 2 .8 2-.1 2 1.2 2-1 2 .2 2-.1 2 .3 2 .6 2 .8 2-.7 2 .6 2 0 2-.1 2 1.9 2-.4 2 .3 2-.1 2-.3 2 .3 2 .1 2 .8 2 .2 2 .1 2-.1 2 .3 2 .7 2-.3 2 .1 2 .5 2-.1 2-.5 2-.4 2 .9 2 .9 2-.6 2 .6 2 .8 2-.3 2 .1 2-.1 2 .9 2-.6 2 .6 2-.2 2 1.1 2-.8 2 .7 2 .5 2-.1 2 0 2 0 2 .2 2 1.3 2-.4 2-.3 2-.3 2 .6 2-.6 2 .5 2 1.2 2 .1 2-.8 2 1.1 2-1.3 2 .4 2 1.3 2-.4 2-.1 2 .7 2 .4 2-1.1 2 .7 2 .6 2-.6 2-.1 2 .1 2 .6 2 .3 2 .4 2-1 2 .6 2 .5 2 .1 2-.1 2 .2 2-.3"/>
<path stroke="#9cc8e8" d="M89.7 241.8l2 .1 2 .7 2 .3 2-.2 2-.5 2 .2 2 .7 2-.2 2-1.1 2 .8 2-.6 2 .4 2-.5 2 .2 2 .3 2-1.2 2 0 2 .4 2 .5 2-.5 2-.2 2-.3 2 .1 2 .8 2-.8 2-.9 2 .8 2-.4 2 .6 2-.7 2 1.2 2-.3 2-.5 2 1.3 2-1.3 2 1.6 2 1.3 2 .5 2 .8 2 .8 2-1 2-1.5M213.7 112.2l2-1.6 2-2.3 2-.4 2-.2 2 .8 2-.6 2 1.1 2 1.1 2 1.4 2 1.8 2 1.3 2 1.3 2 2.4 2 1.5 2 2.2 2 1 2 2.4 2 1.5 2 1.3 2 1.4 2 1.8 2 1 2 1.1 2 1.6 2 1.8 2 .8 2 2.1 2 1.9 2 1.3 2 1.1 2 .9 2 1.5 2 1.5 2 2.2 2 .7 2 .7 2 1 2 1.3 2 .9 2 1.5 2 .9 2 1.2 2 1.2 2 0 2 1.4 2 .5 2 1.4 2 .2 2 .8 2 2 2 .4 2 1.4 2-.3 2 1.9 2 .6 2 .7 2 .3 2 1.9 2 .4 2 .6 2 1.2 2 .8 2 .5 2 1.2 2 .2 2 .5 2 .6 2 .3 2 1 2 .3 2 .7 2 .5 2 1.1 2 .2 2 .8 2 .6 2 .7 2 .8 2-.1 2 1.2 2-.6 2 1.2 2 .7 2-.3 2 .8 2 1 2 .3 2 .7 2 0 2 1 2 .5 2-.1 2 .5 2 .9 2 0 2 1 2-.2 2 1.9 2 .3 2 .5 2 .1 2 .8 2 .6 2 .4 2 .4 2 .8 2 1.2 2 .6 2 .4 2 1.7 2 .3 2-.3 2 .2 2 .7 2 .3 2 .9 2 .1 2-.2 2 1.5 2 0 2 .6 2 .3 2 .1 2 1.1 2 0 2 0 2 .3 2 1.1 2-1 2 .1 2 1.6 2-.4 2 .6 2 .4 2 .6 2-.6 2 .6 2 .6 2-.1 2 1 2-.6 2 .6 2 .5 2-.8 2 .8 2 .7 2 .9 2 .1 2-.3 2 .6 2 .3 2 0 2 .2 2 .9 2-.7 2 .7 2-.6 2 1.1 2 .2 2 .8 2-.3 2 .9 2-.2 2 0 2 .1 2 .7 2 .1 2 .5 2 .5 2-.5 2 .7 2 .9 2 .2 2 .3 2-.9 2 1.2 2-.4 2 .3 2 .5 2 0 2-.1 2 .7 2 1.1 2-.4 2 .3 2-.4 2 1 2-.6 2-.2 2 .8 2-.5 2 .4 2 .4 2 .8 2-.7 2 1 2 .9 2 0 2 .1 2-.4 2 .3 2-.3 2 .3 2 .5 2-.1 2-.2 2 .2 2 1 2-.2 2-.2 2 .8 2-.1 2 .4 2-.4 2 .8 2 .1 2-.3 2 .5 2 .1 2-.2 2 .7 2 .2 2-.4 2 .5 2 .2 2-.5 2 1.1 2-1 2 1.1 2 .1 2 .1 2 .5 2-.4 2 .6 2 .6 2-.2 2-.7 2 .5 2 0 2 .6 2-1 2 1.2 2-.1 2 1.4 2-.6 2 .4 2-.4 2-.2 2 .3 2-.5 2 0 2 .3 2 .6"/>
<path stroke="#9cc8e8" d="M89.7 240.9l2 .8 2-.4 2 .3 2-.9 2 .7 2-1.6 2 .8 2-.1 2 .3 2-.2 2-.9 2 .4 2 .7 2-1 2-.2 2 .9 2-.1 2-.7 2 1.5 2-1.7 2 .6 2-.5 2-.4 2 .1 2 .1 2-.4 2 .6 2-.5 2 .6 2-.3 2 .6 2 .7 2 .5 2-.2 2 1.3 2 .6 2 .7 2 .4 2 .5 2-1M209.7 111.9l2-2.5 2-.6 2-1.5 2-.5 2-.9 2 1.8 2-.9 2 1.4 2 .2 2 1 2 1 2 2.3 2 2.2 2 1.4 2 1.7 2 1.2M243.7 122.3l2 .6M247.7 125.8l2 .1 2 1.9 2 1.9 2 .8 2 1.5 2 1.3 2 1.2 2 1.7 2 1.5 2 1.5 2 .6 2 2 2 1.7 2 1.3 2 2.2 2 1.4 2 1.1 2 .7 2 2 2 .9 2 .9 2 1.4 2 1.2 2 .4 2 1.8 2 .1 2 1.1 2 1.4 2 .9 2 .3 2 .4 2 1.6 2 1.2 2 .5 2-.4 2 2.4 2 .5 2 .7 2 .9 2 .3 2 1.6 2 .4 2 .8 2 .8 2 1 2 .6 2 .9 2 2 2-.7 2 .8 2 .9 2 .4 2 1.7 2-.6 2 1.1 2 .8 2 .4 2 .1 2 .9 2 .1 2 1.2 2-.4 2 .7 2-.4 2 1 2 .8 2 .5 2 1.4 2-.3 2 1.5 2 .3 2-.7 2 2 2 .1 2 .1 2 1 2 .5 2 .7 2-.6 2 1.2 2 .4 2 1.8 2-.2 2 1.1 2-.5 2 1 2 1.1 2 .3 2 .6 2 .6 2 .1 2 .4 2 .8 2 .5 2 1 2 .8 2-.1 2 1.4 2-1.1 2 .8 2 1.1 2-.6 2-.8 2 1.7 2 .3 2-.3 2 1.3 2-.6 2 1.3 2 .1 2 .2 2 .8 2-.1 2 1.2 2 .2 2-.3 2 .6 2 .4 2-.2 2 0 2 .2 2 0 2 .5 2 .5 2 1 2 .3 2 .5 2 .2 2 .4 2-.4 2 1 2-.5 2 .5 2-.2 2 1 2-.9 2 1.2 2 .6 2 .2 2 1 2-.9 2 .5 2-.2 2 0 2 .6 2 1.1 2 0 2 .7 2-1.3 2 1.3 2-1 2 1 2-.2 2 .6 2 .9 2-.5 2 .5 2 .4 2-.3 2-.2 2 1.4 2 .1 2 .6 2 0 2 .2 2 .1 2-.2 2-.4 2 .7 2 .9 2-.4 2 .8 2-.1 2 .7 2 0 2 1 2-.1 2-.9 2 1.9 2-.8 2 .3 2 .2 2-.6 2 1 2 .4 2-.3 2 .2 2 0 2-.2 2 .7 2 .2 2 .4 2 .1 2-.2 2 0 2 .1 2 .7 2 .7 2 .1 2-.8 2 .1 2 1.4 2-.9 2 .4 2 .7 2 .5 2-.9 2 .5 2 .8 2-.3 2-.5 2 .8 2-.8 2 1.2 2-1.2 2 .9 2 .6 2-.5 2-.4 2 1.1 2-.7 2 0 2 1.5 2-.7 2 .2 2 .5 2 1.2 2-1.2 2-.1 2-.6 2 1.4 2 0 2-.2 2-.5 2 1.1 2-.3"/>
<path stroke="#9cc8e8" d="M89.7 241.5l2 .2 2 .4 2 .8 2-1.4 2 .6 2-.1 2 .3 2 .1 2 .1 2-.3 2-.8 2 .7 2-.8 2-.2 2 .5 2-.5 2 .5 2 .2 2-.2 2-.8 2-.2 2 .9 2-.9 2 .6 2-.7 2-.4 2 .3 2 .4 2-.4 2 .8 2 .4 2 .2 2 .9 2 .7 2 .3 2 .4 2-.1 2 1.7 2-1.2 2-2.5M207.7 111.8l2-2.5 2-.7 2 0 2-1 2-.3 2-.2 2 .1 2-1 2 .8 2 1.2 2 .5 2 1.2 2 1.3 2 2.2 2 2 2 1.2 2 2.5 2 1.8 2 1M247.7 124.6l2 .7 2 1.6 2 1.9 2 .5 2 2.6 2 1.3 2 1.4 2 .7 2 2 2 2 2 1.7 2 .7 2 1.8 2 1.2 2 1.3 2 1 2 1.4 2 .5 2 .7 2 2.4 2 1.3 2 1 2 1.5 2 1.4 2 1.1 2 .8 2 0 2 .7 2 1.6 2 .5 2 1.6 2 .5 2 1.5 2 1.1 2 .9 2 0 2 .4 2 1.4 2 0 2 1.7 2 .7 2 1 2 .2 2 .1 2 1.6 2 .2 2 1.6 2 .1 2 1.4 2 1.2 2-.2 2 .8 2 .5 2 .3 2 .8 2 .4 2 .7 2 .5 2 1.4 2 0 2 0 2 .5 2 1.1 2 .4 2 .7 2 .5 2 .7 2 0 2 .3 2 .9 2 .2 2 .9 2 .7 2 .5 2 .6 2 1.5 2 .2 2 .4 2 .6 2-.9 2 1.5 2 .8 2 2 2-.7 2 .8 2 1.3 2-.3 2 .3 2 1.1 2-.1 2 1.1 2 .4 2 1.1 2 .3 2 0 2 .3 2 .9 2 .6 2-.4 2 1 2 .2 2 .1 2 .3 2-.5 2 1.5 2 0 2 .1 2 .8 2 .9 2-.5 2 .5 2 .4 2 .7 2-.1 2 1.4 2-.2 2 .4 2 1.4 2 .1 2 .1 2-.4 2-.6 2 1.2 2-.7 2 .8 2 .4 2 .9 2-.6 2 .7 2 .9 2 .2 2-.5 2 1.1 2-.3 2 .8 2 .2 2 .3 2 0 2-.4 2 .3 2 2 2-.3 2-.3 2 1.1 2-.1 2 .1 2-.7 2 .8 2-.2 2 .3 2-.1 2 .8 2 .7 2 0 2 .5 2 0 2-.2 2 1.3 2-.2 2-.7 2-.1 2 .6 2 .6 2 .5 2 .9 2-.2 2-.1 2 0 2 .3 2 .1 2 .9 2 .3 2 .5 2 .4 2-.1 2-.3 2-.6 2 .7 2 .4 2-.3 2 1.7 2 .2 2-.5 2-.1 2 .2 2-.2 2 .3 2 1.2 2-.8 2 .6 2-.3 2 .1 2 .9 2 0 2 .5 2-.9 2 .5 2-.1 2 .3 2 .4 2-.3 2 1.3 2-.1 2 0 2 .3 2 .7 2-.9 2 .4 2 1.3 2-.8 2-.2 2-.1 2 .7 2 .4 2-.1 2-.2 2 .8 2-.3 2 .2 2-.1 2 .3 2 .4 2-.1 2 .1 2 .1 2 1 2-1.1 2 1.7 2-.8 2-.4 2-.3 2 .1 2-.6 2 .8 2 1 2 .5"/>
<path stroke="#9cc8e8" d="M89.7 241.2l2-.4 2 .1 2 .6 2-.8 2 .7 2 0 2 .3 2-.5 2-.4 2 .4 2-.1 2 .4 2-.5 2 .2 2-.8 2 .9 2-.5 2-.1 2-.7 2 .2 2 .9 2-1.5 2 .8 2-.9 2 1.2 2-.8 2-.4 2 1.2 2-.3 2-1.6 2 1 2-.3 2 1.1 2 .6 2 .3 2 .3 2 .6 2 .6 2 1.1 2-.2 2-.2 2-2.1M213.7 109.5l2-1.7 2-.9 2 .1 2-.8 2 1.1 2 1.4 2-.2 2 .1 2 1.6 2 1 2 2 2 1.6M239.7 117.5l2 1.1 2 1.2M245.7 122.6l2 2.1 2 1.3 2 1.2 2 1.5 2 1.2 2 .3M259.7 133.1l2 1.6 2 1.1 2 2.1 2 1.3 2 1.3 2 .6 2 2.2 2 1.6 2 .8 2 1.4 2 1 2 1.8 2 1.2 2 1.2 2 1 2 1.2 2 .7 2 1.7 2 .5 2 1.3 2 .9 2 1.7 2 .5 2 1.3 2 0 2 1.5 2 1 2 .8 2 .7 2 1.1 2 1.1 2-.4 2 1.4 2 .8 2 .7 2 .3 2 1.2 2 .7 2 .6 2 .5 2 .6 2 1.4 2 1 2 .4 2 .6 2 1 2 .6 2 1.1 2 .6 2 .4 2 1 2 .6 2-.7 2 1.2 2 .3 2 .6 2 .3 2 .8 2 .8 2 .6 2 0 2-.6 2 1 2 1 2 0 2 .4 2 1.4 2 .2 2 .3 2 .7 2 .5 2 .2 2 .8 2 .7 2 .7 2 .4 2 .4 2 1.4 2-.1 2 1.9 2-.4 2 .5 2 .1 2 .8 2 1.9 2-.2 2 .4 2 1 2 .5 2 .3 2 .6 2-.1 2 .4 2 1.3 2 .2 2 .7 2-.9 2 1.3 2 .1 2-.1 2 .6 2-.3 2 .5 2 .3 2 1 2 0 2 1 2-.2 2 .7 2 .1 2 1 2 .2 2 1.3 2-.3 2-.5 2 .6 2-.3 2-.3 2 1.2 2-.3 2 1.3 2 .1 2 0 2 .7 2 .3 2-.7 2 .2 2 1.3 2 .2 2 0 2-.1 2-.2 2 .9 2-.5 2-.1 2 1 2 .2 2 .7 2 0 2 .8 2 .1 2 .4 2 .3 2-.3 2 .4 2-.5 2 .7 2 0 2 .5 2-.1 2 1.5 2 0 2 .4 2 0 2 .4 2-.1 2 .1 2 1.2 2-1.2 2 .7 2 .1 2 .8 2-.2 2 0 2 .7 2 0 2-.5 2-.2 2 .1 2 1.1 2 .1 2 .6 2 .4 2 .4 2-.4 2 .6 2-.2 2 .5 2-.2 2 .1 2-.4 2 1.4 2-.7 2 1.1 2-.5 2 0 2 .9 2-.3 2-.5 2 1 2-.8 2 1.4 2-.5 2 .9 2 .2 2-.3 2 0 2-.1 2 .6 2 .2 2 .3 2-.2 2 1.5 2-.6 2-.3 2 .5 2 0 2 .3 2-.3 2 .3 2-.4 2 1 2-.4 2 .5 2 .5 2 .4 2 .3 2 .2 2-.6 2-1.2 2 1.1 2-.2 2 .3 2 .4 2-.4 2 1 2-1 2 1.2 2-.9 2 .4"/>
<path stroke="#6aa9dc" d="M89.7 242.2l2-.4 2 .3 2-.3 2 .3 2 .5 2-.4 2 .5 2-.5 2-.1 2 .2 2 .2 2 .2 2-.8 2 .4 2-1 2 .1 2 .4 2-.3 2-.2 2 0 2-.2 2-.3 2-.3 2-.1 2-.1 2-.2 2 1.1 2-.3 2 .2 2-.2 2 .6 2 .3 2-.3 2 .3 2 1 2 .7 2 1 2 .2 2 1.4 2-.1 2 0M213.7 108.7l2-1.9 2-1.2 2-.7 2 .5 2 .3 2 .3 2-.6 2 1 2 .8 2 .3 2 .2 2 1.5 2 1.2 2 1 2 1.4 2 .4 2 .1 2 2 2 .7 2 .7 2 1.9 2 .5 2 2.1 2 .6 2 1.4 2 1.3 2 1.2 2 1.1 2 2.1 2 .5 2 1.8 2 .7 2 1.9 2 1 2 .5 2 2.1 2 .4 2 2.2 2 .5 2 2.1 2 .7 2 .9 2 1 2 1.5 2 .4 2 1.7 2 .7 2 1.2 2 .5 2 .7 2 1.3 2 1.2 2 .6 2 1.1 2 1 2 .9 2 .9 2 1.1 2 .6 2 1.1 2 .1 2-.2 2 1.5 2 .3 2 1.1 2 1 2 .3 2 .9 2 .3 2 .2 2 1.9 2-1.3 2 1.9 2 1 2 .2 2 .8 2 .2 2 1.6 2 .7 2 .6 2-.1 2 .4 2 .4 2-.1 2 1 2 .9 2 .8 2 .6 2-.2 2 1.2 2-.4 2 .5 2 1.7 2 0 2 .7 2 0 2 1.2 2 1 2 1 2 .7 2 .3 2 1.4 2 .9 2 .7 2 .6 2 1.1 2 .4 2 .3 2 .5 2 1 2 .3 2 1.5 2 .2 2 .6 2 1.5 2-.7 2 .3 2 .7 2 .2 2 1.3 2 .8 2 .7 2 .1 2-.3 2 .7 2 .4 2 .7 2-.2 2 1.6 2-.7 2 1.3 2 .1 2 .8 2 .7 2-.1 2-.1 2 1.3 2 .7 2 .7 2 0 2-.1 2 1.2 2-.4 2 1.2 2-.5 2 0 2 1.1 2 .6 2 .1 2 .1 2 1.2 2 .3 2 .5 2-.6 2 .6 2 .2 2 .9 2-.7 2 .5 2 1.2 2 .6 2-.7 2 .5 2 0 2 .7 2-.2 2 .7 2 .4 2 .1 2-.4 2 .3 2 .2 2 .3 2 .6 2-.3 2 1.4 2-.2 2 .4 2-1.1 2 .9 2 .7 2 0 2 1.5 2-.6 2 .4 2 1.1 2-.6 2 .5 2 .2 2-.5 2-.2 2 .5 2 .2 2 .9 2-.3 2 .2 2 .9 2 .4 2-.7 2 .5 2 .2 2-.4 2 .7 2-.7 2 .5 2 1.2 2-1.2 2 .8 2 .8 2 .2 2 .2 2 0 2-1 2 1.4 2-.1 2 .7 2 .3 2-.3 2 .2 2 .1 2 .3 2 1.3 2-.3 2 .1 2 .5 2-.5 2-.7 2 .2 2 1 2 .4 2 0 2 .3 2-.3 2 .8 2-.6 2 .2 2 .8 2-.6 2 .4 2 .1 2 .3 2 .6 2 0 2-.5 2 .7 2-.5 2 .2 2 .5 2-.4 2-.2 2 .5 2 .4 2-.4"/>
<path stroke="#6aa9dc" d="M89.7 241.8l2 0 2-1.2 2 .5 2 .3 2 .4 2-.4 2 .2 2 .4 2 .1 2 0 2-.2 2-.1 2-.2 2 .2 2-.5 2-.7 2 .2 2 .6 2-.1 2 .1 2-.7 2-.2 2 .7 2-.3 2-.2 2-.2 2-.1 2 .1 2-.3 2 .6 2-.3 2 0 2 1.3 2 .5 2-.1 2 1.4 2 .7 2 1.3 2 0 2-1.5M211.7 106.2l2-1 2-1.2 2 .2 2-1.1 2 .6 2-.6 2 .8 2 .3 2 .1 2 1.4 2 .7 2 .4 2 2 2 .3 2 .9 2 .5 2 1.6 2 .3 2 1.5 2 1.2 2 1 2 .2 2 2.6 2 1.2 2 .8 2 1.9 2 .4 2 1.7 2 1.2 2 1.9 2 1 2 .9 2 1.9 2 1 2 1.2 2 .9 2 1.9 2 .6 2 1.1 2 1.6 2 1.6 2 .9 2 1.9 2 0 2 1.7 2 1 2 .4 2 1.5 2 .7 2 .4 2 1.4 2 .4 2 .9 2 1.4 2 .4 2 .7 2 .8 2 1.3 2 .2 2 1.1 2 1.1 2 .6 2 1 2 .7 2 .1 2 1.4 2 .8 2 1.6 2 .4 2 1.2 2 .1 2 .2 2 1.5 2 .3 2 .1 2 .9 2 1.2 2 .5 2-.4 2 1 2 1.2 2 .2 2 .9 2 .2 2 .5 2-.1 2 .8 2 .6 2 .1 2-.3 2 1.9 2 .1 2 1.4 2 .6 2 0 2 .6 2 .4 2 .7 2 .7 2 1 2 .6 2 .8 2 .4 2 1.4 2 .4 2 .4 2 .9 2 1.2 2 .7 2 1 2 1 2 0 2 .7 2 .4 2 1.4 2 .4 2-.4 2 .6 2 .8 2 .2 2 .9 2-.1 2 1.5 2-.8 2 2.1 2-.2 2 1.4 2-.8 2 .5 2 .6 2 .6 2 .7 2 .9 2 .5 2 .1 2 .4 2-.6 2 1 2 0 2 .9 2 1 2 .5 2-.4 2 1.4 2-.4 2 .3 2 1 2-.5 2 .7 2 .6 2 .1 2-.6 2 1.4 2-.3 2 .8 2-.4 2 1.4 2 .7 2-.2 2 .7 2-.1 2 .3 2 .5 2-.2 2 .8 2-.3 2 .8 2-.1 2 1.1 2-.5 2 1.4 2-.1 2-.1 2 .7 2-.5 2 1.2 2 .2 2-.3 2 .3 2 .5 2 .1 2 .3 2 .7 2 .6 2-.3 2 .5 2 .2 2-.6 2-.1 2 .8 2-.5 2 .8 2 .2 2 1.1 2-.6 2-.2 2 .7 2-.4 2 .3 2 .6 2-.2 2-.1 2 .9 2-.1 2 .3 2 .6 2 .3 2 .6 2 .2 2 0 2-.8 2 1 2 0 2 .5 2-.3 2-.2 2 .8 2 .3 2-.2 2 .5 2-.4 2 1.4 2-.7 2-.9 2 1.1 2-.2 2 .2 2 .7 2 .2 2 .5 2 .8 2-.7 2-.3 2 .6 2 .2 2 .6 2-.1 2 .1 2-.2 2-.7 2 .8 2 .6 2 0 2-.2 2 .3 2 .8 2 .1 2-.2 2-.3 2 0 2 .8 2-.4 2 1 2-1.3"/>
<path stroke="#6aa9dc" d="M89.7 241.4l2-.1 2 .2 2 .2 2 .9 2-.2 2 .3 2-.6 2 .3 2 .5 2-1.2 2 0 2-.2 2 .2 2 0 2-.8 2 .2 2-.4 2 .1 2 .2 2-.5 2 .7 2-.3 2-.3 2 .3 2-.9 2 .9 2 0 2-.2 2-.5 2 1.2 2 .3 2 .7 2 .8 2 .4 2-.1 2 1.1 2 .4 2-.5M209.7 105.2l2-1.2 2 .1 2-.3 2-1 2-.6 2 .5 2 .6 2 0 2 .2 2-.1 2 .5 2 1.9 2 .7 2 .5 2 1.1 2 .8 2 .9 2 1.1 2 .3 2 1.4 2 1.7 2 .4 2 1.3 2 1.2 2 .6 2 1.5 2 2.4 2 .8 2 1.1 2 1.8 2 .9 2 1.8 2 .6 2 2 2 1.3 2 .6 2 2.2 2-.1 2 2.1 2 2 2 1 2 1.1 2 1.7 2-.3 2 .6 2 2.3 2 .6 2 .5 2 1.9 2 .4 2 1 2 1.9 2 .1 2 .6 2 1.3 2 .9 2 .3 2 .7 2 1.3 2 1.6 2 .1 2 .8 2 .7 2 .8 2 1.1 2 .4 2 1.3 2-.5 2 1.5 2 .8 2-.1 2 1.5 2 .3 2-.2 2 2 2 .1 2 .2 2 .7 2 1.3 2 .3 2 1.3 2 0 2 .8 2 .8 2 .1 2 .4 2 1 2 1.1 2 0 2 .1 2 .6 2 1.1 2 .2 2 .9 2 .4 2 .9 2 .8 2-.2 2 .7 2 .9 2 1.4 2-.2 2 .9 2 1.4 2 .6 2 .5 2 .9 2 .6 2 .4 2 .8 2 1.6 2 .2 2 .3 2 .7 2 1.3 2-.5 2 1 2 .8 2 1 2 0 2 .3 2 .5 2 .6 2 0 2 .7 2 .6 2 1.3 2 .1 2 0 2 .8 2 .2 2 .6 2 1.3 2 0 2 .1 2 1.6 2-.5 2 .8 2 .6 2 .8 2-.9 2 .9 2 .7 2-.6 2 1.4 2 .1 2 .2 2 .7 2 .1 2 .8 2 .2 2 .7 2 .3 2-.1 2 1.3 2-.8 2 .1 2 .8 2 .3 2-.1 2 .9 2 .2 2-.3 2 1 2-.2 2 .5 2 .7 2 0 2-.2 2 .3 2-.1 2 1.4 2 0 2 .4 2 .2 2 .8 2-.5 2 1 2-.5 2 .4 2 .8 2-.1 2 .5 2 1.1 2-.4 2 0 2 .1 2 .3 2-.5 2 .4 2 .2 2 .6 2 .2 2 .8 2-.6 2 .4 2-.2 2 .5 2 .5 2 .7 2 .1 2 .8 2-.1 2-.2 2 .1 2-.1 2 .9 2 0 2 .5 2-.5 2 .7 2 .2 2-.3 2 .1 2 1 2-.7 2 .6 2 .1 2-.2 2 .5 2-.5 2 .4 2 .9 2 0 2 0 2-.2 2 0 2-.2 2 1.8 2-.5 2-.7 2 1.1 2 .1 2 .2 2 .4 2-.6 2 1.2 2-.9 2 1 2-.7 2 .9 2 0 2 .5 2-.3 2 .2 2 .4 2-.1 2 .3 2-.3 2-.1 2-.5 2 1.5 2-.5 2 .1 2 .1"/>
<path stroke="#6aa9dc" d="M89.7 240.1l2 .1 2 .2 2 .7 2 .4 2-.5 2 0 2 .4 2 .5 2 0 2-.4 2-.8 2 .7 2-.2 2-.1 2-1.3 2 0 2 .8 2-.3 2 0 2-.1 2 .4 2-1 2 .9 2-.1 2-.4 2 0 2-.3 2 .1 2-.4 2 1.1 2-.7 2 .6 2-.4 2 1.1 2 .8 2 .3 2 .8 2 0 2 1.2 2-.4 2-1.1 2-2.5M213.7 103.7l2-1.6 2-1 2-.5 2 .4 2 .4 2-.1 2 .6 2 .5 2 .9 2 .8 2 .5 2 .7 2 1.4 2 .4 2 1.5 2 .7 2 1.4 2 .5 2 .8 2 1.3 2 1.3 2 .5 2 1.7 2 .6 2 1.8 2 1.5 2 1 2 1.6 2 1.6 2 2.1 2 .8 2 1.8 2 .9 2 1.6 2 1 2 1.1 2 1.3 2 1.7 2 .9 2 1.2 2 1.4 2 1.3 2 .3 2 2.4 2-.2 2 1.8 2 .5 2 1.3 2 1.1 2 1.6 2 .5 2 1.1 2 .9 2 .5 2 1.2 2 0 2 .5 2 1.6 2 1.1 2 .4 2 .8 2 .5 2 1.6 2 .2 2 1.1 2 1.4 2 0 2 0 2 .2 2 1.7 2 .2 2 .6 2 1.1 2 .6 2-.5 2 2 2-.3 2 .7 2 .7 2 1.2 2 .5 2-.1 2 .4 2 1.1 2 .7 2 .5 2 .3 2 .7 2 1.1 2 1 2 .3 2 .4 2-.1 2 1.5 2 .3 2 1.1 2 .4 2 0 2 .2 2 1 2 .4 2 1.1 2 1.1 2 .4 2 1 2 .6 2 .8 2 1 2 .1 2 1.1 2 0 2 1.4 2 .7 2 .6 2-.3 2 1.5 2 .3 2 .5 2 .9 2 .7 2 .7 2 .2 2 .1 2 .6 2 1.1 2 .6 2 .2 2 .3 2 .2 2 .3 2 1.6 2 .5 2 .2 2-.1 2 .1 2 1 2 .4 2 .9 2 .2 2 .6 2-.4 2 .8 2 0 2 .4 2 .8 2 .2 2-.1 2 .2 2 .6 2 .4 2 1.6 2-.1 2-.6 2 1 2 .2 2 .1 2 1.9 2-.6 2 .1 2 .5 2-.1 2 .6 2 .4 2 0 2 0 2 .8 2 0 2 0 2 .7 2 .6 2 .1 2 .2 2 1.1 2 0 2-.3 2 0 2 .1 2 .6 2 .3 2-.2 2 .5 2 .6 2-.4 2 1.6 2-.2 2-.1 2 .5 2-.1 2-.4 2 .5 2 1 2 0 2 .7 2-.1 2 0 2 0 2 1.1 2-.5 2 .2 2 .1 2 .5 2 .4 2 0 2 .3 2 .2 2-.5 2 .6 2 .6 2-1.1 2 1.1 2 .4 2 .3 2-1.2 2 1.8 2-.3 2 0 2 .2 2 1.1 2 .1 2-.4 2 0 2 1.9 2-1.3 2 .2 2 .1 2-.1 2 .7 2-.4 2-.3 2 .6 2 1.2 2-.5 2 1.2 2 .2 2-1 2 .9 2-.1 2-.1 2-.1 2 .8 2 0 2 0 2 .8 2-.9 2 0 2 .2 2 .9 2-.6 2 1 2-.4 2 .4 2-.4 2 .5"/>
<path stroke="#6aa9dc" d="M89.7 239.7l2 .1 2 .5 2 .2 2 .2 2 .7 2-.5 2-.1 2-.2 2-.7 2 .6 2-.1 2-.4 2 .7 2-.3 2-.6 2 .1 2 .1 2-.3 2 .3 2-.4 2-1.1 2 1.3 2 .3 2-.5 2-.5 2 1 2-.4 2-.6 2 .3 2-.4 2 .6 2 .4 2 .8 2 .2 2 .5 2 .7 2-.4 2 1.2 2 .1 2-2.1M209.7 105.8l2-2.2 2-.4 2 .2 2-.4 2-.4 2-.5 2 .3 2 .3 2 .4 2 .6 2 .8 2 .4 2 1.3 2 .5 2 .7 2 1.6 2 .6 2 .7 2 1.2 2 0 2 1.8 2 0 2 1.3 2 1.7 2 1.1 2 1.7 2 .6 2 1.9 2 .9 2 2.5 2 1.2 2 .3 2 2.3 2 1.3 2 1.6 2 .9 2 .8 2 1.3 2 1.7 2 1.3 2 .7 2 1.3 2 1.5 2 .3 2 2.1 2 1 2 .7 2 1.4 2 1.3 2 1.3 2 0 2 2.4 2 .3 2 1.3 2 1.1 2 .2 2 .8 2 .5 2 .8 2 .6 2 1.1 2 1.5 2-.2 2 1.2 2 1.2 2-.6 2 1.5 2 .6 2 .4 2 .4 2 .8 2 .1 2 1.8 2 .5 2 .5 2 .2 2 .7 2 1.8 2-.4 2 1 2 1.4 2-.9 2 1.4 2 .8 2-.4 2 .5 2 .8 2 1.1 2 .1 2 .9 2 .4 2 .9 2 .4 2 .7 2 .3 2 .4 2 1.6 2-.1 2 .8 2 1.3 2 .4 2 .7 2 .4 2 1.3 2 0 2 1.7 2 0 2 1 2 .3 2 .5 2 1.2 2 .6 2 .5 2 .3 2 1.3 2 .6 2 1 2 .7 2 .9 2 .6 2 .1 2-.2 2 .5 2 .8 2 .2 2 .7 2 1.1 2-.2 2 .9 2 .7 2 .4 2 .3 2 0 2 .9 2 .1 2 1.3 2 .2 2 .4 2 .5 2 .9 2 0 2 .6 2-.2 2 .6 2-1.4 2 1.4 2 .6 2 .7 2-.4 2 .2 2 1.6 2-.1 2 .7 2 .1 2 .7 2-.3 2 1.3 2-.1 2 .2 2 .7 2-.6 2 1 2 .4 2 .5 2 .3 2 .3 2 .6 2-.3 2 1 2 0 2-1.2 2 1.4 2 .2 2-.6 2 .7 2 .4 2 .2 2 .4 2 0 2 .5 2 .3 2 .1 2 1.2 2-.3 2-.4 2 1 2-.7 2 .4 2 1.2 2 0 2-.2 2 .2 2 .5 2 .3 2 .6 2-.3 2 .1 2 .4 2-.4 2 .9 2-.8 2 .5 2 .3 2 .8 2-.1 2-.1 2 .4 2-.3 2 1.8 2-.1 2 .6 2-.5 2 .1 2 .4 2-.6 2 .2 2 1 2-.5 2-.3 2 1.1 2-.6 2 1.1 2 1 2-.2 2 0 2 .3 2-.2 2 0 2 .4 2-.4 2 .7 2-.2 2 .5 2-.5 2-.4 2 1.7 2-.4 2 .8 2 .2 2 0 2 0 2 0 2 0 2 .2 2 .3 2-.1 2-.1 2 0 2-.5 2 1.8 2 .3 2-1.1 2 .3 2 .7 2-.1"/>
<path stroke="#6aa9dc" d="M89.7 238.0l2 .5 2-.3 2 .4 2 .2 2 0 2 .2 2-.1 2 .6 2 .1 2-.3 2-.3 2 .1 2-.7 2-1.1 2 1.1 2-.4 2-.1 2-.5 2 .3 2 0 2-.2 2 .2 2 .3 2-.2 2 0 2-.4 2 .3 2-.8 2 .2 2 .4 2 .2 2-.2 2 .5 2 .5 2 .8 2 .5 2 .8 2 .4 2-.2 2 .9 2 0 2-2 2-2.3M215.7 102.9l2-2 2-.6 2-.5 2-.6 2 1.4 2 .3 2 .4 2 1 2 .6 2 1.5 2 .9 2 .6 2 .9 2 .7 2 .9 2 1.3 2 1 2 1.4 2 1.2 2 .8 2 1.6 2 .7 2 1.1 2 2.1 2 1.1 2 1.5 2 2 2 1 2 1.6 2 .8 2 1.6 2 .2 2 2 2 1 2 1.7 2 1.5 2 .1 2 1.5 2 1.2 2 .7 2 2 2 .7 2 1.4 2 1 2 1.7 2 1.2 2 .3 2 .6 2 1.3 2 .5 2 1.4 2 1.1 2 .3 2 1.1 2 .9 2 1.4 2 .4 2 .3 2 1.5 2-.1 2 1.1 2 1.2 2 1.1 2-.4 2 1.6 2-.3 2 1.1 2 1 2 .3 2 .7 2 .9 2 1.2 2 .8 2-.2 2 .8 2 1 2 0 2 1 2-.3 2 2.3 2-.8 2 .8 2 1.5 2-.5 2 1.3 2-.7 2 2.5 2 .1 2-.2 2 1.4 2-.8 2 1.4 2 1.6 2 .1 2 .8 2 0 2 .6 2 .5 2 1.3 2 .7 2 0 2 2 2 1.4 2 .5 2 0 2 .8 2 1.6 2 .3 2 .9 2-.2 2 1.2 2 0 2 .8 2 1 2-.4 2 1.6 2-.1 2 1 2 .6 2 .6 2-.3 2 .9 2 .4 2 .8 2 .9 2 0 2 .4 2 .9 2-.8 2 1.3 2 1 2 .5 2-.2 2 .4 2 .4 2 .3 2 1.1 2 .2 2-.4 2 1 2 0 2 .4 2 .5 2 .4 2 .9 2 .5 2 1.3 2-.9 2 0 2 1.1 2-.5 2 .3 2 .7 2 .7 2 .7 2 .3 2 .5 2 .3 2 .5 2-.2 2 .5 2 .7 2-.2 2 .2 2 .1 2 .6 2 .1 2 .3 2 .3 2 .5 2 .2 2-.1 2 .4 2 .3 2 .2 2 .2 2 .3 2 .9 2 .1 2-.9 2 1.4 2 0 2-.3 2 .3 2 .4 2 .3 2 .6 2 .3 2-.5 2 .4 2 .6 2-.1 2 .2 2 .2 2 .5 2 .1 2 .1 2 .3 2 1.2 2-.2 2 .2 2 .7 2-.3 2 .4 2 .7 2-.7 2 .7 2-.3 2 .2 2 0 2 .6 2 .5 2-.5 2 .6 2 .3 2-.5 2 1.2 2-.8 2 1.1 2-.7 2 .9 2 .1 2 .7 2-.8 2 1.4 2 0 2 .1 2 .7 2-1 2 0 2 .3 2 .5 2-.7 2 .7 2 .3 2 .3 2 .5 2-.2 2 .7 2-1.1 2 .5 2-.6 2 .7 2 0 2 .7 2-.4 2 .2 2 .1 2 .2 2 .9 2-.8 2 1.3"/>
<path stroke="#6aa9dc" d="M89.7 243.7l2 .9 2-.6 2-.2 2 1 2-1.2 2 .1 2-.6 2 .5 2 .5 2-.7 2 1 2-.4 2-1 2 .7 2 0 2-.1 2-.7 2 .5 2-1.1 2 .1 2-.8 2 1.2 2-1 2 .1 2 1 2-.4 2-.5 2 0 2-.1 2-.4 2 1.5 2 .4 2-.3 2 .5 2 1.6 2 .2 2 .6 2 1 2-.6 2-1.1 2-1M213.7 102.0l2-2.2 2-1.8 2-.5 2 .1 2-.8 2-.1 2 1.1 2 .2 2 1.2 2 .2 2 1.3 2 .8 2 1.2 2 .6 2 1.1 2 .9 2 1.7 2 .7 2 .9 2 1 2 .9 2 1.7 2 1.7 2 1.1 2 2.4 2 1.4 2 .6 2 1.5 2 1.4 2 1.7 2 1 2 1.9 2 .5 2 1.3 2 1.9 2 1.7 2 1.2 2 .8 2 1.1 2 1.4 2 1.2 2 1.4 2 1.3 2 1.3 2 0 2 1.2 2 .8 2 1.8 2 0 2 1.7 2 .9 2 1.3 2 .7 2 .3 2 .9 2 1 2 .5 2 2.2 2 .6 2 .4 2 1 2 .7 2 .9 2 .7 2 .5 2 1.4 2 .4 2 .5 2 .5 2 .8 2 1.7 2-.5 2 .5 2 1.6 2-.1 2 .6 2 .4 2 1.1 2 .6 2 .1 2 .9 2 .1 2 .7 2 .5 2 1.2 2 .4 2 .7 2 .3 2 1.3 2 .6 2 .7 2-.2 2 .6 2 .6 2 1.1 2 .2 2 .6 2 1.7 2 .5 2 .5 2 .5 2 1.5 2 1.2 2-.2 2 .3 2 1.8 2 .3 2 .3 2 1.8 2 .6 2 0 2 .8 2 1 2 .4 2 .3 2 1.2 2 .2 2-.3 2 1.1 2 1.2 2 .5 2-.1 2 .5 2 .6 2-.1 2 1 2 .1 2 .6 2 .9 2 .2 2 1.6 2-.4 2 .3 2 1.2 2 .5 2 .4 2 .3 2 .2 2 .6 2 .1 2-.3 2 1.2 2-.1 2 .2 2 1.2 2 .6 2 .1 2 .5 2 1.4 2 .3 2-1.3 2 1.2 2-.4 2 1.4 2 .1 2 1.3 2 .5 2-.2 2 .3 2-.5 2 0 2 .4 2 .7 2-.1 2 .9 2 .3 2 .3 2 .8 2-.4 2 .7 2 1 2-1.1 2 1 2 1 2-.3 2 .4 2 1 2-1.7 2 .7 2-.3 2 1 2 .4 2 .5 2-.1 2 .3 2 .7 2-.2 2 .8 2 .5 2-1.1 2 1 2 .9 2-.8 2 .5 2 .3 2 .4 2 .2 2 0 2-1.1 2 2 2 .1 2-.4 2 0 2 .4 2 .2 2 .2 2 .6 2 .3 2-.4 2 0 2 .6 2-.4 2 .3 2 .5 2-.5 2 .4 2 1.3 2-.7 2 .6 2 .4 2 1 2-.2 2 .2 2-.4 2 0 2 1.1 2-.5 2 .1 2 .5 2-1.2 2 1.8 2 .1 2-.2 2-.5 2 1.3 2-.1 2-.7 2 1.2 2-.2 2-.5 2 1.4 2 .3 2-.5 2-.2 2 .5 2 .9 2-.9 2 .1 2 1 2-.3 2-.2 2 .4 2-.3"/>
<path stroke="#6aa9dc" d="M89.7 241.7l2 .6 2-.4 2-.1 2-.5 2 .9 2-.2 2-.4 2 .6 2 .4 2 0 2 .4 2-.6 2-.3 2-.9 2 .3 2-.7 2 .8 2-.5 2 .4 2-.2 2 .4 2-.2 2 .6 2-1.1 2-.2 2 .1 2 .5 2-.3 2-.6 2 .5 2 .9 2 1 2-.7 2 .8 2 1.7 2 0 2 .6 2-.1 2-1.2M211.7 98.7l2-.3 2-1.4 2 .4 2-.7 2 1.1 2-1.7 2 .6 2 .8 2 .3 2 .5 2-.1 2 2 2 1.5 2 0 2 1.6 2 1.5 2 .9 2 1.4 2 .9 2 .9 2 1.3 2 .3 2 1.2 2 1.9 2 1.3 2 1.3 2 1.9 2 1 2 1.2 2 1.1 2 2 2 .7 2 1.8 2 1.5 2 .9 2 1.9 2 .1 2 2.3 2 1 2 1.8 2 1 2 1 2 .3 2 2 2 .7 2 2.3 2 .6 2 .9 2 1.2 2 .9 2 .6 2 2 2 .7 2-.1 2 1.2 2 .7 2 2 2-.2 2 1.6 2 .1 2 1.2 2 1 2-.1 2 1.3 2 .6 2 1.1 2 1.4 2 .5 2 .2 2 .4 2 .3 2 .7 2 1.3 2 1.1 2 .2 2 1.2 2 .6 2 .1 2 1 2 .4 2 .8 2 .1 2 .2 2 .3 2 1.3 2 .6 2 .9 2-.1 2 1.3 2 .8 2-.1 2 .4 2 .7 2 1.2 2 .1 2 0 2 .4 2 1.7 2 .8 2 .6 2 1.7 2-.2 2 .9 2 1.2 2 .8 2 .4 2 .6 2 .6 2 1.1 2 .8 2 .9 2 .7 2 1.3 2 .6 2-.3 2 1.6 2 .6 2 .1 2 .1 2 1.4 2 0 2 .8 2 .3 2 1.5 2-.6 2 .2 2 1 2 .6 2-.2 2 1 2 .1 2 0 2 .8 2 .7 2-.1 2 1.2 2 1.3 2-.9 2 1 2 1.3 2 1 2-.4 2 .3 2-.1 2 .5 2 .8 2 .2 2-.1 2 .1 2 .9 2 .1 2 .1 2 1.2 2 .1 2-.7 2 1.3 2 .2 2 .6 2 .9 2 .6 2-.2 2-.1 2 0 2 .7 2-.1 2 .5 2 .7 2 .2 2-.2 2 .9 2 .3 2-.2 2 .6 2 .6 2 .2 2 .5 2 .6 2-.6 2 .7 2 .4 2-.2 2 0 2 1.2 2-.2 2 .3 2 .9 2-.4 2 .2 2 .6 2 .2 2-.5 2 .2 2 1 2-.5 2-.5 2 1.1 2 0 2 .7 2-.4 2 .2 2 .4 2 .1 2-.1 2 .7 2 .2 2 .4 2 .2 2 .6 2-.5 2 .6 2 .1 2 .4 2-.7 2 1.1 2 .1 2-.2 2 .3 2 .1 2 .5 2-.4 2 .3 2 .6 2 .5 2 .4 2 .1 2 .1 2-.1 2-.8 2 .2 2 1.6 2-.5 2-.3 2 1.4 2-.1 2 .1 2-.1 2 .6 2 0 2 .2 2 .1 2 .4 2-.1 2-.5 2 1.4 2-.6 2-.2 2 .1 2 .6 2 .2 2-.5 2 .2 2 .3 2 .1 2 .6"/>
<path stroke="#4a96d3" d="M89.7 241.0l2 .6 2 .1 2-.5 2 .2 2 .4 2-.6 2-.4 2 0 2-.1 2 .6 2-.3 2 .5 2-.3 2 .6 2-1.7 2 .6 2-.4 2-.5 2 .1 2 .2 2-1 2 1.2 2 .2 2-.4 2 .1 2 0 2-.3 2 .2 2-1.5 2 1.2 2 1.5 2 .2 2 .6 2 1.2 2-.1 2 1.3 2-.6 2 .5 2-1.6M209.7 102.9l2-1.3 2-.9 2-1 2-.1 2-.5 2-.8 2 .7 2-.4 2 1.3 2-.2 2 .5 2 1.4 2 .7 2 1.3 2 0 2 1.9 2 1.4 2 .2 2 2.3 2 .3 2 .9 2 .8 2 1 2 1.7 2 .7 2 1 2 2.4 2 .6 2 1.3 2 1.6 2 1.5 2 .2 2 1.2 2 .7 2 1.9 2 1.4 2 1 2 .8 2 1.1 2 .5 2 1.2 2 .8 2 1.7 2 1.4 2 .8 2 .9 2 2.4 2-.4 2 2 2 .2 2 1.8 2 .1 2 .8 2 1.4 2 1.7 2 .4 2 1 2 .7 2 .5 2 .6 2 .5 2 1.4 2 .8 2 1.3 2 .8 2 .8 2 1.5 2-.5 2 1.1 2 .2 2 .7 2 .3 2 1.5 2 .1 2 .6 2 1.3 2 .2 2-.1 2 .9 2 .3 2 1.3 2-.5 2 .7 2 .3 2 1.3 2 .7 2 .2 2 .4 2 .4 2 .9 2-1.3 2 1.1 2 0 2 1.1 2 .7 2 1 2 1.1 2 .2 2 1.1 2-.6 2 .7 2 .5 2 .2 2 1.1 2 1.3 2-.5 2 .6 2 1.3 2 .9 2 1 2-.4 2 1.7 2-.8 2 1.6 2 .3 2 .5 2 .1 2 .7 2 .8 2 1.4 2 .3 2 0 2 .3 2 .9 2 .6 2-.1 2 .9 2 .5 2 .2 2 .3 2 .6 2-.1 2 .1 2 .9 2 .9 2-.1 2 .8 2 0 2 .4 2 .3 2 1.1 2 1 2 .1 2 .5 2 0 2 .7 2 .5 2 0 2 .5 2 .6 2 1.1 2-.7 2 .8 2 .2 2 .4 2 .4 2-.5 2-.3 2 1.5 2-.4 2 1 2-.1 2 .9 2-.5 2 1.7 2 .7 2-.5 2-.1 2 .9 2 .5 2 .2 2 0 2 .9 2 0 2 .3 2-.3 2 .9 2 .2 2 1 2-.3 2 0 2 .8 2-.1 2 .1 2 1.4 2-.4 2 1.1 2 0 2-.1 2 .3 2 .6 2 .1 2 .8 2 .1 2-.1 2 .4 2 .3 2 1.1 2-.5 2 .8 2-.8 2 0 2 1.4 2-.2 2 .5 2 1 2-.6 2 1.6 2-.4 2 .1 2-.4 2 .7 2-.2 2-.9 2 1.5 2 0 2 .9 2 .1 2 .4 2 .1 2-.3 2 .5 2 .2 2-.4 2 .3 2 .6 2 0 2-.4 2 .9 2 .6 2-.6 2 .2 2 .2 2 .6 2 .3 2-.1 2 1.2 2 .4 2-.5 2-.1 2-.1 2 .3 2 .3 2 .1 2 0 2 .2 2 .4 2-.2 2 .3 2 .4 2 0 2 1.3 2-.4 2-.4 2 .1"/>
<path stroke="#4a96d3" d="M89.7 240.3l2 .1 2-.7 2-.2 2 0 2 0 2 .2 2 .8 2 0 2-.7 2-.1 2 1 2-1 2 .1 2 .8 2-.4 2-.6 2 .3 2-1 2 .9 2-.6 2 .5 2-.8 2 .8 2-1 2 .9 2-.4 2-.5 2-.3 2 .3 2-.4 2 .2 2 .7 2 .4 2 .5 2-.4 2 2.1 2-.5 2 1.1 2 .7 2 .3 2-.8 2-1.2M215.7 99.8l2-1.3 2-1.7 2-.1 2-1.2 2 .6 2 0 2 .9 2 1 2 1 2 .4 2 1.2 2 .7 2 1.1 2 1.4 2 1.5 2 1.3 2 .9 2 1.3 2 .6 2 1.5 2 1.4 2 1.7 2 .9 2-.1 2 2 2 1.6 2 1.2 2 1.5 2 1.2 2 1.7 2 .6 2 .7 2 1.7 2 1.8 2 .3 2 .9 2 1.4 2 .8 2 1.6 2 .1 2 2.1 2 .3 2 1.3 2 1.6 2 .5 2 1.6 2 1 2 .4 2 0 2 1.4 2 1.8 2 .4 2 .2 2 2 2 .2 2 .9 2 .8 2 .9 2 1.5 2 .7 2 .5 2 .4 2 .8 2 .6 2 1 2 .4 2 1.1 2 1.1 2 1 2 .1 2 .5 2 .9 2 .8 2 .4 2 .8 2 .6 2 .7 2 .5 2 1 2-.4 2 .5 2 .3 2 .4 2 .4 2 .5 2 1.2 2 .3 2 .2 2 .8 2 .3 2 .2 2 1.4 2-.2 2 1.5 2 .1 2 .2 2 .4 2 .9 2 1.7 2 .3 2 .3 2 .9 2 .3 2 .7 2-.3 2 .6 2 1.2 2 .2 2 1.3 2 1.3 2 .1 2 .3 2 .4 2 .9 2 .4 2 .1 2 1.3 2 .2 2 .3 2 .6 2 0 2 1 2 .1 2 .3 2 1.2 2 .4 2 1.1 2-.2 2 0 2 .3 2 1.1 2 .4 2-.1 2 .9 2 .3 2 .9 2-.6 2 .9 2 .7 2-.5 2 1.4 2-.2 2 1.1 2-.1 2 .7 2 .3 2-.4 2 1 2 .6 2-.2 2 .9 2 .1 2 .4 2 .2 2 1.3 2-.9 2 1.3 2-.4 2 .7 2 .3 2 .5 2 .4 2 .3 2 .5 2-.1 2 .4 2 .5 2 0 2 .6 2 .4 2 .4 2 .6 2-.5 2 .8 2 .6 2 .6 2 .3 2 .1 2-.3 2 .7 2 .5 2-.5 2 .7 2-.4 2 1.6 2-.5 2 .5 2 1.1 2-.1 2 .7 2-.5 2 .2 2 .7 2 .6 2 .6 2 .2 2-.3 2 .5 2 .9 2-.4 2-1 2 .8 2-.3 2 .9 2-.1 2 1 2-.3 2 .8 2 .7 2-.2 2 .5 2 0 2 .1 2 .3 2 0 2 1.1 2-.3 2 .6 2 0 2 0 2 .7 2-.3 2-.1 2 1.3 2-.6 2-.1 2 .5 2 .5 2 .5 2 .4 2-.2 2 .2 2 0 2 .4 2 .6 2-.9 2 1.4 2-.4 2 .6 2-.5 2 .5 2 .6 2-.4 2 .3 2-.6 2 1.7 2 .2 2 .2 2-.8 2 1.2 2-.7 2 .3"/>
<path stroke="#4a96d3" d="M89.7 244.9l2 .2 2 .1 2-.4 2-.1 2 .6 2-.5 2-.3 2-.2 2 .3 2 .3 2-.3 2-.4 2 0 2 0 2-.2 2 .1 2 .6 2-.2 2-.7 2 0 2 .4 2-.6 2-.3 2-.9 2 1.3 2-.1 2-.4 2 .5 2-.8 2 1.5 2-.1 2 .5 2 .8 2-.2 2 .2 2 .5 2 .6 2 1.4 2 0 2-1.3M213.7 99.8l2-2.3 2-1.2 2-.5 2-1.8 2 .4 2 0 2 .2 2 .9 2 0 2 1.9 2 .9 2 1 2 1.8 2 .5 2 .8 2 1.7 2 .3 2 1.6 2 1.6 2 1.3 2 .5 2 1.5 2 .3 2 2.1 2 .7 2 1 2 1.5 2 .8 2 1.2 2 .5 2 1.3 2 1.6 2 1.6 2 1.2 2 1.5 2 1.2 2 1.8 2 .6 2 1.5 2 1.4 2 .3 2 1.5 2 .5 2 1 2 1.3 2 .9 2 1 2 1.4 2 .7 2 2 2 .2 2 .5 2 .8 2 1 2 .4 2 1.5 2 .9 2 1.4 2-.1 2 1.7 2 .4 2 .6 2 .8 2 .7 2 1.2 2 1.5 2 .2 2 .4 2 .8 2 1 2 .7 2 .6 2 .2 2 1.2 2 .4 2 1 2 .1 2 .2 2-.3 2 1.3 2 .1 2 0 2 2.2 2 .2 2 .6 2-.5 2 .8 2 1.1 2 .6 2-.4 2 1.1 2 .7 2 .5 2 .3 2 .6 2-.1 2 1.9 2 0 2-.2 2 .8 2 .5 2 1.3 2 .6 2 1.3 2-.1 2 1.1 2 .4 2 .4 2 .7 2 .3 2 1.1 2 .5 2 0 2 1.3 2 .4 2 .5 2 .8 2 1.3 2-.6 2 .7 2 .7 2 .1 2 .7 2 .9 2-1 2 1.4 2 .8 2 .4 2 .4 2-.4 2 .7 2 1.2 2 0 2 .6 2-.8 2 2.6 2-.1 2 .5 2 .8 2 .3 2 .3 2 0 2 .4 2 0 2 .4 2 .6 2-.1 2 1.3 2-.1 2 .7 2 .9 2-.4 2 .3 2 .6 2-.2 2 1.7 2-.4 2 .3 2 .2 2 1.2 2 .2 2 0 2 .7 2-.1 2-.1 2 .5 2 .9 2 1.2 2 .1 2-.3 2 .6 2 .4 2 .1 2 .9 2-.2 2 .2 2-.7 2 1.4 2-.1 2 1.4 2-.5 2 .5 2 .5 2 0 2 0 2 .1 2 .9 2 .2 2 .1 2 .5 2 .1 2 .6 2 .5 2 1.4 2-.8 2 .1 2 .7 2-.2 2 .8 2-.2 2 .3 2-.6 2 .8 2 .9 2 .2 2 .2 2 .1 2-1 2 .4 2 1.7 2-.5 2 1.2 2-1.1 2 1.3 2-.1 2 .7 2 0 2 .1 2 .3 2 .2 2 .3 2-.2 2-.3 2 .4 2 .9 2-.5 2 1.1 2 0 2-.5 2 .2 2 .9 2 .6 2-.5 2 2 2 0 2 .2 2-.7 2 1.5 2-.6 2-.1 2-1 2 1.4 2-1.9 2 .9 2 1 2-.2 2 .5 2-.1 2 .5 2-.5 2 .5 2 .3 2-.2"/>
<path stroke="#4a96d3" d="M89.7 241.7l2 .1 2 0 2-.4 2 .7 2-.3 2 .1 2-.1 2-.3 2-.4 2 1.4 2-.2 2-.7 2 0 2-.5 2 .3 2 .4 2-.4 2 .1 2 0 2-.6 2-.1 2-.3 2 0 2-.4 2-.4 2 .9 2 .1 2-.5 2 1 2 .7 2-.7 2 2 2 .6 2-.2 2 .1 2 1.9 2-.4 2-1.5 2-1.9M209.7 97.7l2-1.1 2-1.6 2 .1 2-.8 2-.6 2-1 2 .6 2-.7 2 .1 2 1.5 2 .8 2 0 2 1.8 2 1.6 2 0 2 .9 2 1.7 2 1 2 .6 2 1.7 2 1.5 2 1 2 .4 2 1.5 2 1.4 2 1 2 .7 2 1.8 2 1.7 2 .8 2 2 2 1.2 2 1.2 2 1.5 2 .9 2 .8 2 1.2 2 1.2 2 1.2 2 1.2 2 .7 2 1.2 2 .9 2 1.3 2 1 2 1.2 2 1.5 2 .9 2 .5 2 2.1 2 1 2 1.3 2 1 2-.3 2 1.3 2 1.1 2 1.3 2 .2 2 .9 2 1.2 2 1.2 2-.1 2 1.3 2 1.4 2-.6 2 1.5 2 1.1 2 1.6 2-.1 2 1 2-.8 2 1.1 2 .6 2 .2 2 .6 2 1.1 2 .6 2 .4 2 .9 2 .2 2 .7 2 1.5 2-.3 2 1 2 .9 2 .1 2 .5 2 .1 2 .6 2 .4 2 .6 2 .2 2 1.3 2 .7 2 1 2 0 2 1.3 2-.6 2 .5 2 .9 2 .7 2 .7 2 .3 2 .5 2 1.8 2 .7 2 .3 2-.2 2 1.3 2 .5 2 .2 2 .1 2 .5 2 1.1 2 .6 2-.6 2 1.7 2 0 2 .2 2 1.6 2-.1 2 .4 2 1 2 .8 2-.1 2 1.1 2 1 2 0 2 1 2-.3 2 .4 2 1 2 0 2 1.3 2-.7 2 1 2 .2 2-.1 2 1.2 2 .2 2 1.1 2 .3 2-.3 2 .9 2 .2 2 1.4 2-.6 2 .8 2 .3 2 0 2 .5 2 1.4 2-.2 2 .9 2-.4 2 .7 2 0 2 .3 2-.2 2 1.4 2 .8 2 0 2 1.1 2-.1 2 1 2-.2 2-.3 2 .3 2 1.1 2 .5 2 0 2 .5 2 .9 2-.2 2-.1 2 .4 2 .1 2 .5 2 .3 2 0 2 1.1 2 .3 2-.1 2 .6 2-.5 2 .5 2 1 2 1.1 2 .5 2 .5 2-.5 2 .3 2 .4 2-.7 2 .4 2 .9 2-.7 2 2 2-1.1 2 1.4 2-.7 2 .4 2 .8 2 1 2-.6 2 .7 2-.9 2 .6 2 .1 2 .3 2-.6 2 1.6 2 .4 2-.5 2 1.6 2 0 2-1.2 2 .7 2 .5 2-.6 2 .3 2 .5 2 .5 2-.3 2 .8 2 .6 2 .7 2-.2 2 .7 2-.4 2 1 2 .2 2 .2 2-.6 2 .3 2-.1 2 0 2 .4 2 .4 2 .9 2-.5 2 .3 2-.3 2 .8 2-.4 2 1.2 2-.1 2-.4 2 0 2-.1 2 .6 2 .6 2-.6 2 .8 2-.1"/>
<path stroke="#4a96d3" d="M89.7 241.6l2 .1 2-.1 2-.2 2-.4 2-.4 2 .7 2 .3 2 0 2 .3 2 .6 2-.3 2-.3 2 .2 2-.7 2-.5 2 .5 2-.2 2-.2 2 .3 2-1.1 2 .5 2-.1 2-.7 2 1.1 2-1.1 2 .8 2-.5 2 .2 2 .4 2 .1 2-.2 2 .7 2 .3 2 1.3 2-.3 2 1.1 2 .3 2 .5 2 .6 2-.1 2-1.7M215.7 97.5l2-1.8 2-1.2 2-.5 2-.4 2 .4 2-.3 2 .2 2 2.1 2 .3 2 .9 2 1.5 2 .5 2 2 2 1.7 2 .7 2 .2 2 1.6 2 .8 2 1.4 2 1.4 2 .6 2 1.1 2 2.3 2 .2 2 2.2 2 1.8 2 .3 2 1.3 2 1.4 2 1 2 1.2 2 1.2 2 1.1 2 1.6 2 0 2 1.7 2 1.5 2 1.2 2 .6 2 1.2 2 1.2 2 1.3 2 .6 2 1 2 1.1 2 .8 2 1.9 2 .9 2 1.2 2 1.6 2 .4 2 .8 2-.1 2 1.1 2 1.6 2-.9 2 1.3 2 2 2 .9 2 .3 2 1.1 2 1 2 .7 2 .4 2 1 2 .3 2 1.4 2 .9 2-.1 2 1.3 2 .4 2 .4 2 .7 2 .3 2 .6 2 .3 2 1.5 2 .3 2 .1 2 .2 2 1 2 .5 2 .7 2 .5 2 .2 2 .8 2 .6 2 .7 2 0 2 .9 2-.3 2 1.1 2 1.4 2-.4 2 .7 2 .6 2 1 2 .7 2 .4 2 1.5 2 .6 2 .7 2-.1 2-.1 2 1.4 2 .3 2-.3 2 1.6 2 .8 2 .1 2 .4 2 .5 2 .5 2 .6 2 .7 2 .3 2 .9 2 .9 2 .3 2 1.5 2-.8 2 .7 2 .3 2 1.7 2-.1 2 .6 2 .9 2-.4 2 .8 2-.2 2 1 2 .1 2 .8 2 .2 2 .8 2 .7 2-.1 2 .2 2 .9 2 .1 2 .2 2 .9 2 0 2 .6 2 .5 2-.4 2 .3 2 1.8 2-.7 2-.2 2 1.1 2 .6 2 .4 2 .9 2-.2 2 1.3 2 .1 2-.4 2 .7 2-.5 2 .3 2 1.3 2-.3 2 .5 2 .7 2 .7 2 .1 2 .5 2 .8 2 .7 2-.2 2-.8 2 .9 2 .7 2-.3 2 .5 2 .3 2 .2 2 .3 2 .1 2 1.4 2 0 2 .8 2-.1 2 .5 2 .5 2-.1 2 .6 2 .2 2 .3 2 0 2 1.1 2-1.6 2 1.1 2-.1 2 .6 2-.3 2 .3 2 .5 2 .6 2 0 2 .5 2 .4 2 1.1 2-.3 2 .3 2 1.1 2 .4 2-.1 2-.9 2 .5 2 .7 2 .4 2 0 2 0 2 .6 2 .6 2-.6 2 .3 2 .4 2 .9 2-.1 2 .5 2 .4 2 .1 2-.1 2-.1 2 .3 2 .1 2 .5 2 .6 2-.6 2 .5 2 .9 2-.7 2 .3 2 0 2 1 2-.3 2 0 2 .5 2-.1 2 .1 2 0 2 .6 2 1.3 2-.7 2 .6 2 .2 2-.8 2 1 2-.1"/>
<path stroke="#4a96d3" d="M89.7 241.4l2 .2 2 .1 2 .1 2 0 2 .6 2-.4 2-1.3 2 .5 2 0 2-.4 2-.2 2 1 2-.6 2-.1 2-.1 2-.2 2 .7 2-.5 2-.4 2-.1 2-.6 2 .3 2-.8 2 1.4 2-.8 2-.5 2 .2 2 .3 2 .1 2-.1 2 1.1 2 1.2 2 .5 2 1.4 2-.3 2 .5 2 1.5 2-1 2-1 2-2.2M211.7 97.1l2-1.8 2-2 2-.1 2-.1 2-1.3 2 1.2 2 .1 2-1.1 2 1.7 2 .9 2 .2 2 1.5 2 .2 2 1.6 2 .6 2 2.1 2 .3 2 1 2 .8 2 1.1 2 1.5 2 .9 2 1.1 2 1.4 2 1.5 2 1.1 2 1 2 2.1 2 1 2 .9 2 2.3 2 1.9 2 .6 2 1.8 2 .5 2 1.5 2 .6 2 1.7 2 1.3 2-.3 2 1.3 2 1.5 2 1.6 2 1.1 2 1.3 2 .3 2 .6 2 1.6 2 .8 2 1.2 2 1.3 2 1.2 2 .9 2 0 2 2.2 2-.2 2 1.3 2 1.2 2 .4 2 1.3 2 .4 2 .2 2 1.5 2 1.2 2 .5 2 .4 2 1.4 2 .2 2 1.6 2-.2 2 .3 2 1.4 2 0 2 1.2 2 .8 2-.4 2 1.5 2 1 2 0 2 .7 2 1 2 .2 2 .4 2 .7 2 .6 2-.3 2 .4 2 1.4 2-.3 2 .4 2 0 2 2 2-.5 2 1.6 2-.4 2 1.2 2 .1 2 .1 2 1.5 2 .5 2 .8 2 .1 2 .7 2 1.3 2 1.2 2 .7 2 .6 2 .2 2 1.3 2-.6 2 1.4 2 0 2 0 2 1.2 2 .8 2 0 2 1 2 .9 2-.2 2 .8 2 .1 2 .6 2 1.5 2-.3 2 .9 2-.4 2 1.6 2-.4 2 .2 2 .5 2 1 2-.1 2 1.3 2 .8 2 .2 2 .3 2 .3 2 1.1 2 .3 2 .3 2-.2 2 1.9 2-.3 2-.2 2 1 2-.2 2 .8 2 .3 2-.1 2 .4 2 1.7 2-.4 2 .1 2 1.2 2-.8 2-.2 2 .8 2 1.5 2 .7 2 .2 2 .6 2 .2 2-.3 2 .7 2 0 2 .3 2 .2 2 .5 2 .5 2 .7 2 .4 2 .4 2 0 2 .2 2 .2 2 .7 2-.1 2-.1 2 .8 2 .1 2-.2 2 .6 2 1.4 2-.1 2 1.3 2 .2 2 .9 2-.7 2 .7 2-.3 2 0 2 .9 2 .1 2 .5 2-.4 2 .7 2-.7 2 .9 2 1.3 2-.2 2 .7 2-.3 2-.7 2 .9 2 1 2-.3 2 .4 2 .5 2-.4 2-.1 2 .4 2 1.2 2-.3 2 1.4 2-1 2 .8 2 .2 2 .1 2-.6 2 .9 2 .6 2 .1 2 .8 2-.5 2 0 2 1.3 2-.4 2 .4 2-.2 2 .1 2-.4 2 1 2 1 2-.2 2 .2 2 .7 2-.5 2 .5 2-.2 2 .9 2 .1 2 0 2-.3 2 .5 2 .2 2 .4 2-.2 2-.3 2 .4 2 .1 2 .5 2 .3 2 .5 2 0"/>
<path stroke="#4a96d3" d="M89.7 242.8l2-.1 2 .3 2 .6 2-1.6 2 .8 2-.1 2-.3 2-.6 2 1.3 2-.2 2-.3 2 .3 2-.6 2 .8 2-.9 2 .2 2-.6 2 .6 2-1 2-.8 2 .6 2 .2 2 .3 2-.4 2-.1 2 .9 2-.3 2-.7 2-.4 2-.8 2 1 2 .5 2 .2 2 1.7 2-.5 2 .9 2 .3 2 .3 2 .4 2 1.7 2-.6 2-1.1 2-1.8M219.7 93.5l2-1.6 2-1.5 2-.8 2 .1 2 1 2 .3 2 1.3 2-.2 2 1.6 2 .9 2 .8 2 1.8 2 .8 2 2.4 2 .5 2 1.2 2 1 2 .6 2 1.4 2 1.6 2 1.2 2 1.7 2 1.3 2 1.3 2 1 2 1.5 2 .6 2 2.3 2 .3 2 1.5 2 1.8 2 .5 2 1.2 2 1.7 2 .9 2 1.4 2 .3 2 1.4 2 1.5 2 1 2 1.1 2 1.3 2 1.1 2 .8 2 .8M311.7 139.2l2 .4 2 .2 2 .9 2 .6 2 1.1 2 1 2 .7 2 1.7 2 .3 2 .2 2 2.1 2-.1 2 1.2 2 .7 2 1.3 2 .1 2 .9 2 .8 2 1.1 2 .6 2 .8 2 1.7 2 .5 2 .5 2-.2 2 .4 2 2.2 2-.8 2 .9 2 .6 2 .1 2 .2 2 .4 2 .8 2 .8 2 .7 2 .8 2 0 2 .7 2 .4 2 .2 2 1 2 .2 2 .9 2 .4 2 .7 2 .3 2 .8 2 .8 2 .3 2 .1 2 1.4 2 0 2 .6 2 1.8 2 0 2 1.7 2-.5 2 1 2 .3 2 .6 2 1.1 2 .3 2 1.6 2 .3 2 .4 2 .7 2 .3 2 .6 2 .7 2 .3 2 0 2 .9 2 .4 2 .7 2 1.6 2 .2 2-1.1 2 2.2 2-.5 2 .9 2 .4 2-.1 2 .5 2 .5 2 .5 2 .6 2-.4 2 .7 2 1 2-.7 2 1.3 2 .5 2 .2 2 1.4 2-.1 2 .4 2 .7 2 .9 2 0 2 .3 2 0 2 1 2-.5 2 1.2 2-.2 2 .5 2 0 2 .3 2 .2 2 .5 2 1 2 .4 2 .1 2 .3 2 0 2 .7 2 .7 2 .2 2 .9 2 .1 2 .6 2-.1 2 .6 2-.4 2 1.3 2 .8 2-.3 2 .9 2-.1 2-.2 2 .7 2 .9 2-.5 2 .7 2 .6 2 0 2 .4 2 .1 2 .4 2 .1 2-.3 2 1.5 2 .1 2-.3 2 .4 2 .5 2 .4 2 .5 2-.2 2 .6 2-.3 2 .1 2 .4 2 .6 2 0 2 1.3 2 .3 2-.2 2 .5 2 0 2 .5 2 .1 2 .5 2 .3 2 .1 2-.4 2 .8 2 1.1 2-.9 2 .8 2-.9 2 .7 2 .1 2 .6 2 .1 2 .1 2 .3 2 .7 2-.7 2 1.2 2-.2 2 1 2-.4 2 .2 2 .5 2 .2 2 .4 2-.9 2 .8 2-1 2 2.4 2-.6 2 .9 2-.4 2 .2 2-.2 2 1.2 2-.9 2 .4 2 .2 2-1 2 1 2 .2"/>
<path stroke="#4a96d3" d="M89.7 241.6l2 .4 2 0 2-.3 2 .1 2 .1 2-.7 2 .4 2-.3 2 .1 2 .8 2-.5 2 .5 2-1.2 2 .3 2-.1 2-.3 2-.7 2 .3 2-.3 2 0 2 .4 2-.3 2 .3 2 .6 2-1.1 2-.1 2 .1 2 0 2-.7 2 .9 2-.1 2 .5 2 1.1 2 1.2 2-.2 2 .6 2 .8 2 .1 2 .5 2 .2M213.7 97.0l2-2.2 2-1.9 2-1 2 .1 2-1 2 1 2-.7 2 1.1 2 .4 2 .7 2 .1 2 1.4 2 1.5 2 1.2 2 1.1 2 1.1 2 1.3 2 1 2 .6 2 1.6 2 .8 2 1.6 2 .5M261.7 110.1l2 .5 2 1.7 2 .9 2 1.5 2 1.3 2 1.2 2 .6 2 1.3 2 1.2 2 1.2 2 1.4 2 1.5 2 .9 2 1.5 2 .7 2 1.7 2 .9 2 1.4 2 1.2 2 1.3 2 .5 2 1 2 1.4 2 .8 2 .3 2 1.5 2 1.5 2 .8 2 1.2 2 1.1 2 .6 2 .6 2 .6 2 .5 2 1.6 2 .8 2 .1 2 2.1 2-.3 2 2 2 .8 2 1.1 2 .9 2 .3 2 0 2 1.3 2 .3 2 .9 2 1.5 2-.1 2-.8 2 1.5 2 .1 2 2 2-.2 2 .6 2 .4 2 .5 2 .5 2 .3 2 .7 2 1 2-.5 2 .6 2 .3 2 .5 2 1 2-.1 2 2 2 .2 2 .2 2 .7 2 .5 2 .9 2 0 2 .9 2 .6 2 .4 2 .5 2 .4 2 1.8 2 .5 2-.1 2 1 2 1 2 1.1 2 0 2 .9 2-.4 2 .7 2 1.4 2 .4 2 .5 2 .2 2 .8 2 .8 2 1 2-.1 2 .1 2 .8 2 .5 2 .9 2 .6 2 .2 2-.3 2 1.3 2 .5 2 .5 2 .2 2 1 2-.8 2-.4 2 1.7 2 .6 2 .8 2-.3 2-.2 2 1 2 .4 2 .1 2 1.6 2-.2 2 1.1 2 1 2 .1 2-.4 2 .4 2 .4 2 .4 2 .3 2 .6 2 .6 2-.5 2 1.5 2 .5 2-.8 2 1 2 0 2 .6 2-.4 2 1.7 2 .5 2 .1 2 .7 2-.4 2 1.3 2 .1 2 .6 2-1 2 .9 2-.3 2 1.3 2 .6 2 .3 2 .9 2-1.9 2 1.3 2 .2 2 .9 2 .1 2 .3 2 1 2 .8 2-.7 2 .2 2-.5 2 .7 2 .4 2 .2 2-.3 2 1 2 .5 2-.2 2 .5 2 .5 2-.8 2 .4 2 .9 2-.2 2 1.6 2 .1 2 .2 2 .1 2 .8 2 .4 2-1.3 2 1.3 2 .3 2-.1 2 .9 2 0 2 .4 2 .1 2 .2 2-.3 2 0 2 .5 2 .4 2 0 2 .5 2 .4 2 .8 2-.6 2 .3 2 .2 2-.3 2 .7 2 .4 2 0 2 .1 2-.1 2-.1 2 1.6 2-.1 2-.4 2 1 2 0 2 1 2-.7 2 .2 2 .3 2 .2 2-.1 2 .5 2-.4 2 .5 2 .4 2 .6 2-.8"/>
<path stroke="#2f84c8" d="M89.7 240.8l2 .1 2 .7 2 .2 2 .8 2-1.1 2 .6 2 0 2-.8 2-.1 2-.3 2 .5 2 .1 2-.8 2-.5 2 .6 2 0 2 0 2 .3 2 .2 2-.6 2-.5 2 .1 2 1.2 2-1.6 2-.5 2 .8 2-.8 2-.1 2 .7 2-.7 2 1.1 2 .6 2-1.1 2 2 2 .2 2 .6 2 .9 2 .3 2 .8 2-.3 2-2.3M215.7 93.4l2-2 2-1.8 2-.4 2-.2 2 .2 2-1.8 2 1.4 2 .7 2-.8 2 .3 2 .6 2 .4 2 .6 2 .2 2 .9 2-.1 2 1.7 2 .6 2 .8 2-.4 2 1.4 2 .3 2 1.2 2 .7 2 .7 2 .1 2 1.6 2 0 2 2.1 2 .6 2 1.4 2 1.7 2 .8 2 1.1 2 1.8 2 1.2 2 1.8 2 .5 2 1.6 2 .4 2 1.7 2 1.4 2 .5 2 .9 2 1.5 2 1.5 2 .5 2 .9 2 .9 2 .1M317.7 127.9l2 .7 2 .6 2 1 2 .8 2 .1 2 1.5 2 1.7 2 1.3 2 .5 2 1 2 1.1 2 .9 2 1 2 .8 2 1.1 2 .8 2 .7 2 .9 2 1.3 2 .5 2 1.1 2 .7 2 .9 2 .8 2 .1 2 1.5 2 .2 2 .7 2 1.5 2 1 2 1.3 2 0 2 .9 2 1.3 2-.2 2 .9 2 .6 2-.2 2 1.4 2 .4 2 .6 2 1.8 2-.1 2 0 2 .6 2 1.2 2 .1 2 1.5 2-.2 2 1.2 2 1.2 2-.4 2 1 2 1.2 2 .6 2 .4 2 .7 2 .7 2 .9 2 .7 2 .7 2 .4 2 .5 2 0 2 .7 2 1.1 2 .5 2 .2 2 1.2 2 .8 2 .8 2 .3 2 .8 2 .1 2 .4 2 1.1 2 .2 2 .1 2 .7 2 .8 2 .9 2-.7 2 1.7 2 .7 2 .6 2-.5 2 1 2 .6 2 .1 2 .4 2 0 2 .6 2 .3 2 1.2 2 0 2 .4 2 0 2 .2 2 .5 2 .6 2 1.1 2 .1 2 .9 2 .4 2 .3 2 .9 2 .2 2 .4 2-.4 2 1.3 2 .1 2 .2 2 .6 2 1 2-.1 2-.3 2 1 2-.5 2 .7 2-.7 2 .9 2 .2 2 .5 2 1.3 2 .8 2-.3 2 .8 2-.1 2 .6 2 .1 2-.3 2 .9 2 .3 2 .5 2 .1 2 .7 2 .2 2-.7 2 1.4 2 .6 2 0 2 1 2 .1 2 .4 2-.2 2 .3 2 0 2 .3 2 1 2 .3 2 .5 2-.2 2-.3 2 .6 2 .8 2-.4 2 .2 2 .6 2 .1 2-.5 2 1.6 2 .1 2 .2 2-.3 2 1.5 2-.4 2 .6 2 .1 2 .3 2 0 2 .6 2-.3 2 .6 2 1 2-.7 2-.1 2-.1 2 1.4 2-.3 2-.1 2 .9 2-.6 2 .6 2 .1 2 .1 2 .9 2-.2 2 .6 2 .2 2 .9 2 .4 2 .1 2-.6 2 .1 2 .3 2-.4 2-.2 2 0 2 1.1 2 .3 2-.1"/>
<path stroke="#2f84c8" d="M89.7 241.6l2-1 2 .4 2 0 2 0 2-.4 2-.1 2 .1 2 .4 2-.4 2 .3 2-1.1 2 1.1 2-.2 2-.9 2 .3 2 .2 2-.6 2-.3 2 .6 2-.5 2 0 2 .4 2-.3 2 .6 2-1.2 2 .5 2-.2 2 .1 2 .2 2 1.1 2 .3 2-.8 2 1.2 2 .4 2 .6 2 .2 2 1.3 2-.5 2-.7M211.7 92.7l2-2.1 2-.3 2-1.7 2-.7 2-1.3 2 .5 2-.9 2 1.5 2-.3 2-.5 2 .9 2-.1 2 .2 2 .5 2-.1 2 1.8 2 .5 2 .2 2 .7 2 1 2 .6 2 1.4 2 .3 2 .7 2 .7 2 .3 2 1 2 .5 2 1.3 2 1.2 2 .6 2 .8 2 1.5 2 1.6 2 .6 2 .3 2 2 2 1.1 2 1.5 2 1M293.7 114.2l2 .3 2 1.8 2 .8 2 1.1 2 .5 2 .9 2 2 2 1.3 2 0 2 2.1 2 .9 2 .9 2 1.3 2 .9 2 1.4 2 .9 2-.2 2 2 2 1 2 .3 2 .8 2 1.5 2 1.1 2 .7 2 .8 2 .9 2 1.3 2 .8 2 .1 2 1 2 .3 2 .6 2 1.5 2 .9 2 1.1 2 1.1 2 1.4 2-.4 2 1.2 2 1 2 1.1 2 1 2-.3 2 1.1 2 .4 2 .5 2 1 2 .1 2 1.6 2 .4 2 1 2 .3 2 1 2 1.8 2-.6 2 1.1 2 .9 2 1.4 2-.5 2 1.4 2-.1 2 1.1 2 .1 2 1.2 2-.3 2 .6 2 1.3 2 1 2 .4 2 1.2 2 .3 2 1.4 2-.1 2 0 2 2 2 0 2 .3 2 .7 2 .7 2 .9 2 .4 2 .8 2-.2 2 .7 2 .4 2 .7 2 .5 2 .7 2 .8 2 .3 2 .3 2 1.1 2 .4 2 .5 2 .6 2 .2 2-.1 2 1.1 2-.1 2 .5 2 .8 2 .5 2 .6 2-.7 2 1.5 2 0 2 1.8 2 0 2 .4 2 .1 2 .5 2 .6 2-.1 2 .6 2 .9 2 .2 2 .6 2 .2 2 .6 2-.2 2 .8 2 1.3 2 .1 2 1.2 2-.4 2 .1 2 .6 2-.2 2 0 2 .4 2 .5 2-.2 2 1.4 2-.4 2 .5 2 .5 2 .1 2 .8 2 .3 2 .8 2-.1 2 1.9 2-.5 2 0 2 .3 2-.1 2 .4 2-.1 2 1.3 2 .5 2 .3 2-.3 2 .2 2 .8 2 .4 2 .3 2 .5 2-.9 2-.3 2 1.5 2-.4 2 1.5 2-.5 2 .8 2-.6 2 .5 2 .7 2 1.1 2-.2 2 .9 2 .5 2 .6 2-.1 2-.9 2 .5 2-.2 2 .8 2 1 2 .5 2-.3 2 .2 2-.1 2 .1 2 .8 2-.2 2 .2 2-.9 2 1.4 2 .3 2 .5 2 .3 2 .1 2 0 2 .8 2-.8 2 .7 2-.3 2 1.3 2-.5 2-.4 2-.1 2 1.5 2-.5 2 1.3 2-1.1 2 0 2 .1 2 .6 2-.5 2 .7 2 .7 2-1.5 2 .4"/>
<path stroke="#2f84c8" d="M89.7 239.2l2 .7 2-.4 2 .2 2 0 2-.3 2-.3 2 .8 2-.1 2 .2 2 .2 2-.4 2 .5 2-.7 2-.6 2 .7 2-.2 2-.9 2-.7 2-.4 2 .9 2-.4 2 .2 2-.1 2-.1 2 .2 2-.6 2 .9 2-.8 2 .8 2-.7 2 .4 2 .6 2-.5 2 .9 2 .6 2 .2 2 1.3 2-.1 2 1 2 .8 2-.5M217.7 90.0l2-2.3 2-1 2-.6 2-1.2 2 .4 2-.1 2-.4 2 .9 2-.1 2 1.1 2-.5 2 1.4 2 .5 2 1.1 2 .1 2-.1 2 .2 2 .8 2 1.4 2 .5 2 .4 2 .8 2 1.4 2 .6 2 1.1 2 .1 2 1.6 2 .9 2 .7 2 2.2 2 .4 2 1.4 2 .6 2 1.1 2 1.8 2 1.5 2 1.5 2 1.4 2 1.2 2 1.1 2 .9 2 1 2 2.1 2 .2 2 1.9 2-.3 2 1.4 2-.4 2 1.6 2 2.2 2 1.2 2 .8 2 1.3 2 1.9 2 .4 2 .9 2 1.2 2 .8 2 1.1 2-.1 2 1.8 2 .9 2 1.6 2 .4 2 1.1 2 .4 2 1.5 2 .1 2 1.7 2 .8 2 .9 2 .9 2 .3 2 .3 2 2.2 2 .1 2 .8 2 1.9 2-.3 2 .5 2 .1 2 .6 2 1.2 2 1.1 2 .1 2 .5 2 1.6 2 0 2 1 2 1.1 2-.4 2 2 2 .5 2 1.1 2 .5 2-.1 2 1.7 2-.2 2 1.5 2 .6 2 1.1 2 .4 2 .9 2 .6 2-.3 2 1.5 2 .6 2 1.2 2-.2 2 .9 2 1.3 2 .2 2 .6 2 .5 2-.1 2 1.4 2 .9 2-.8 2 1.7 2-.3 2 .9 2 .9 2-.4 2 1.1 2 1.1 2 .3 2 .7 2 .1 2 .5 2 .6 2 .4 2 2 2-.7 2 1.1 2 .2 2 .3 2 1 2 .6 2 0 2 .3 2 .4 2 .9 2 .3 2 .8 2 .9 2 0 2 .6 2-.2 2 .8 2 .5 2 .1 2 1 2 .2 2 .3 2-.4 2 .7 2 .5 2 .1 2 1.3 2 .1 2 .7 2-.4 2 1 2 .6 2 .8 2-.1 2 .9 2 .1 2 .3 2 .9 2-.1 2 .1 2 .7 2-.2 2 .4 2 .2 2 2 2-.7 2-.3 2 .8 2 .6 2 1.1 2 .4 2 .3 2-.7 2 1.1 2 .1 2 .6 2-.1 2 0 2 .9 2 .2 2-.1 2 .7 2 .1 2-.2 2 1.3 2-.2 2 .4 2 .9 2 .7 2-.3 2-.2 2 .2 2 .2 2 .9 2-.1 2 .3 2-.2 2 .5 2 .2 2 .5 2 .4 2 .6 2-.3 2 .9 2-.4 2 .9 2 0 2 .2 2 .5 2-.1 2-.5 2 .1 2 .5 2-.4 2 1.3 2 .3 2 0 2-.3 2 .6 2 .6 2-.2 2 .3 2 .4 2-.1 2 1.1 2-.4 2-.1 2 .6 2 .7 2-.2 2-.2 2 .2 2 .7 2 1 2-.6 2 1.2 2-.2 2-.6 2 0"/>
<path stroke="#2f84c8" d="M89.7 241.6l2-.5 2 .1 2 0 2-.3 2 1.3 2-.7 2 0 2-.5 2 .1 2 .5 2-.8 2 .6 2-.2 2-.6 2 0 2 .5 2-.4 2-1 2 .3 2 .7 2 .5 2-.8 2-.6 2 0 2-.1 2 .4 2 .3 2-.2 2 1.2 2-.8 2 1 2 0 2 .2 2 .6 2 .9 2 .7 2 1.2 2 0 2-.9M213.7 91.9l2-2.6 2-1.2 2-.9 2 0 2 .1 2-.1 2-.5 2-.2 2 .6 2 .2 2 .7 2-.5 2 1.4 2-.1 2 .4 2 1.3 2-.1 2-.5 2 2.2 2 0 2 1.5 2 .2 2 .5 2 1 2 .9 2 .8 2-.1 2 1.4 2 1.2 2 .8 2 1.4 2 1.7 2 .4 2 1 2 1.6 2 1.4 2 1.8 2 1 2 1 2 1.6 2 1.4 2 .7 2 1.5 2 1 2 .7 2 1.9 2 .3 2 1.3 2 1.4 2 1.1 2 0 2 1.8 2 .7 2 1.9 2 .6 2 .8 2 .8 2 .6 2 2.1 2 .3 2 1.3 2 1.6 2-.4 2 1.3 2 1 2 .6 2 .5 2 1.2 2 .1 2 1.9 2 .6 2 1.1 2 1.2 2 1.1 2 .3 2 .7 2 1.1 2 .3 2 1 2 0 2 1.4 2 1 2 .2 2 .4 2 .6 2 1.2 2 1.2 2 1.5 2 .5 2 .4 2 1.4 2 .5 2 .3 2 .6 2 .2 2 .7 2 .2 2 1.5 2 .8 2 .7 2 .2 2 1.2 2 1 2 1 2-.1 2 .8 2 1.2 2 0 2 1.1 2 .4 2 1.2 2 .1 2 .7 2 .5 2 .6 2 .8 2 .8 2 0 2 1.4 2 .2 2 1 2 .2 2 .9 2 .6 2 .3 2 .2 2 .4 2 .6 2 .7 2 .1 2 1.1 2-.1 2 .2 2 1.1 2 .5 2 .5 2 .9 2 .3 2 1.5 2-.9 2 1.1 2-.2 2 .8 2 1.1 2-.6 2 2 2-.5 2 .8 2 .3 2 .5 2 0 2 1.2 2 .1 2 .4 2 .3 2 .3 2 .2 2-.2 2 .4 2-.3 2 1.3 2 .1 2 .8 2 0 2 1.2 2-.4 2 1.4 2 .5 2 .4 2 .1 2-.7 2 1.2 2 .1 2 .9 2 .1 2 1.4 2-.6 2 .5 2 .3 2 .1 2 1.3 2-.1 2 0 2 1.1 2 .5 2-.4 2 .5 2 .2 2 1.4 2-1.2 2 .7 2 .7 2 .1 2-.4 2 1.3 2 1.1 2-.5 2 .4 2-.4 2 .6 2 .4 2 .2 2 .4 2 .2 2 1.2 2 0 2 .1 2 1 2-.2 2 0 2 .1 2 .5 2 .3 2-.1 2 .6 2-.8 2 .9 2-.2 2-.5 2 1.4 2-.1 2 .8 2 .2 2 .1 2 .6 2-.2 2-.1 2 .4 2-.4 2 1.2 2-.3 2 .8 2 .1 2 .1 2 .6 2-.5 2 1.4 2 .1 2-.6 2-.4 2 .8 2 .5 2 .4 2 .2 2 0 2-.1 2 1 2-.3 2 0 2 .1 2 1.1 2-.6 2 .1"/>
<path stroke="#2f84c8" d="M89.7 242.5l2-.2 2 .4 2 .4 2-.7 2 .7 2 .4 2-1 2 .2 2-.2 2-.3 2-.7 2 .7 2 .3 2-.1 2-.6 2 .5 2-.7 2 .8 2-.4 2-.3 2 .3 2-.7 2 .3 2 .6 2-.2 2-.1 2-.5 2 .8 2 0 2 .4 2 .9 2-.3 2 .6 2-.4 2 1.3 2 1.3 2 .5 2-.9 2-1.5M213.7 88.2l2-1.4 2-1.6 2 .1 2-1.1 2-.5 2-.1 2 .1 2 .6 2-.4 2-.1 2 .1 2 1.2 2 .7 2 .1 2 .5 2 .7 2 .4 2 1.1 2 .3 2 .6 2 1.4 2-.7 2 1 2 1.3 2 .4 2 .8 2 .8 2-.2 2 1.3 2 2 2 .9 2 1.2 2 1.5 2 .8 2 1.8 2 1.6 2 1.4 2 1.2 2 1.1 2 .8 2 1.7 2 1.4 2 1.8 2 .2 2 1.7 2 1 2 1 2 .9 2 1.3 2 .9 2 1.2 2 .6 2 .7 2 1.7 2 .5 2 2.5 2 .1 2 1.4 2 .7 2 .8 2 1.3 2 .7 2 1 2 .9 2 1.5 2 .7 2 1.2 2 .5 2 .5 2 .3 2 1.5 2 1.1 2 .7 2 1.1 2 .6 2 1.5 2 1.2 2-.4 2 1.1 2 1.3 2-.4 2 1.2 2 .8 2 .5 2 1.4 2 1.2 2 .3 2 .2 2 .8 2 .4 2 .2 2 1.6 2 .8 2 1.3 2 0 2 1.3 2 .5 2 1 2 .2 2 .4 2 1.2 2 .7 2 1.2 2 .8 2-.1 2 1.2 2 1.4 2 .6 2 .7 2 .4 2 .9 2 .4 2 .8 2-.3 2 1 2 .2 2 .4 2 1.3 2-.5 2 1.1 2 1.4 2 .4 2 .2 2 1 2 .7 2 .1 2-.1 2 1.1 2 0 2 1.7 2-.5 2 1.4 2 0 2 .3 2-.1 2 1 2 .2 2 1.7 2-.8 2 .5 2 .7 2 .9 2-.1 2 .5 2 .9 2 1 2-.5 2 .4 2 1.5 2-.5 2 .6 2 .9 2-.7 2 1.5 2 .1 2 .1 2 1.2 2 .6 2 .3 2 1 2 .1 2 .4 2 .4 2 .9 2 .3 2-.9 2 1.6 2-.1 2-.3 2 .8 2 1.3 2 .4 2-.4 2 .9 2-.2 2-.4 2 2.1 2-.2 2-.8 2 1 2 0 2 1 2 .1 2 .4 2 .8 2 .3 2 .2 2 .2 2 .6 2 .1 2 .8 2-.7 2 1.4 2-.6 2 .7 2 .1 2 .6 2 .4 2 .1 2 .3 2 .9 2 .3 2-.1 2 .6 2-.1 2 .8 2-.7 2 .9 2 .3 2 .1 2 .1 2 .6 2 1.4 2-.2 2-1 2 .5 2 1.2 2-.2 2 1.1 2-.3 2 .4 2 .8 2-1 2 .7 2 .1 2-.5 2 1.7 2-1.5 2 .9 2-.1 2 .2 2 .6 2 .3 2 .1 2 .2 2 .2 2 .7 2 1.4 2-.7 2-.1 2 .8 2-.1 2 .1 2-.2 2 .8 2-.5 2 .3 2-.1 2 .9 2-.3 2 .8 2 0 2-.6"/>
<path stroke="#2f84c8" d="M89.7 243.7l2 .5 2 0 2-.1 2 0 2-.7 2 .3 2 .3 2-.1 2-.4 2-.2 2 .9 2-.7 2-.5 2 .7 2 .2 2-.7 2 .2 2 0 2-.1 2-.3 2 .1 2-.4 2-.5 2 .7 2-.6 2 .5 2 .1 2-.1 2-.3 2-.3 2 1.1 2-.1 2 .1 2 .6 2 .8 2 1.2 2-.7 2 1.8 2-.2 2 .8 2-1.6M219.7 87.2l2-1.3 2-.8 2-.7 2-.3 2 .4 2-.7 2 .5 2 0 2 1.1 2 .1 2 .4 2 0 2 1.7 2 .4 2 .4 2 1.2 2 .4 2 .2 2 1.8 2 .3 2 .8 2 .5 2 .6 2 .7 2 .4 2 2.2 2 1.1 2 .7 2 1.1 2 .8 2 2.1 2 .9 2 .6 2 2.2 2 1.2 2 1.5 2 1.4 2 .7 2 .5 2 1.4 2 1.3 2 1.1 2 .5 2 1.9 2 1.5 2 1 2 1.3 2 1 2 1.2 2 1.3 2 .7 2 .8 2 1 2 2 2-.5 2 1.8 2 1.4 2 .4 2 1.6 2 .2 2 .5 2 2 2 1 2 .3 2 2.1 2 .4 2 1.1 2 .9 2-.3 2 1.1 2 .7 2 .6 2 .7 2 1.5 2 .9 2-.8 2 2.3 2 .4 2 1 2 .3 2 .9 2 .8 2 1.3 2 .2 2 .8 2 .2 2 .8 2 .9 2 1.1 2 .7 2 0 2 1.6 2-.2 2 1.8 2 .4 2 1 2 .4 2 1.4 2 .6 2 .5 2 1.3 2-.3 2 .7 2 .9 2 .6 2 .6 2 1.4 2 1.1 2-.5 2 .6 2 1.3 2-.2 2 1.4 2 .2 2 .9 2 .2 2 1.1 2 .1 2 .3 2 .8 2 .3 2 .9 2 .7 2 .8 2 .5 2-.2 2 1.4 2-.1 2 .8 2 .8 2-.5 2 .6 2 .5 2 .9 2 .3 2 .4 2 .3 2 1.5 2 0 2 .8 2 1.2 2-1 2 .4 2 .3 2 1.1 2 .3 2 .6 2 .3 2-.1 2 1.1 2 1 2-.2 2 .8 2 .6 2 0 2 0 2 1 2-.7 2 1.6 2-.3 2 .6 2 .5 2-.3 2 1.5 2 .1 2-.9 2 1.2 2 .2 2-.1 2 .5 2 .4 2 1 2 .6 2 0 2 1 2 .3 2 .7 2 .7 2 0 2 .6 2 .3 2 .4 2 .2 2-.8 2 .7 2 .1 2 1.4 2-.6 2 .2 2 .7 2 .8 2 .3 2 .1 2 .6 2-.1 2 .4 2 .5 2 .4 2 .2 2 .5 2-1.1 2 .5 2 1.2 2 0 2 .7 2 .1 2 .3 2 .5 2-.2 2 .3 2 1.1 2-.5 2 0 2 .4 2 .2 2 .9 2-.1 2-.5 2 .9 2 .3 2 1.7 2-.7 2 .3 2 .4 2 .2 2-.3 2 .2 2 .7 2-.1 2 0 2 .6 2 0 2 .4 2 0 2 .9 2-.2 2-.3 2 1.4 2-.7 2 .6 2-1.4 2 1.2 2 1 2-.5 2-.1 2 .3 2 1 2-.5 2 .4 2-.4"/>
<path stroke="#2f84c8" d="M89.7 243.1l2-.5 2 .4 2-.3 2 0 2-.3 2-.5 2 .4 2 .4 2-.6 2 1.2 2-.7 2-.6 2 .5 2 0 2-.6 2-.6 2 .9 2-1 2 .7 2-1.1 2 .5 2-.2 2-.3 2 .4 2 .3 2-.6 2 1 2-.8 2 .4 2 .2 2 1.2 2-.7 2 .4 2 1 2 .4 2 1.1 2 1.1 2 0 2-1.4 2-2.4M215.7 86.5l2-2.1 2-.9 2-.5 2-1.4 2 .3 2-.8 2 .4 2 .6 2 .3 2 .2 2 .2 2 .7 2 1 2 .6 2 .3 2-.2 2 1.3 2 .3 2 .1 2 1.8 2-.2 2 .9 2-.3 2 1.6 2 1.6 2 .4 2 1.6 2 .7 2 .9 2 1.3 2 1.2 2 .6 2 1.3 2 1.6 2 1.7 2 1.4 2 .8 2 2 2 .7 2 1.2 2 1.3 2 1.2 2 1.5 2 1 2 .8 2 1.6 2 1.3 2 1.2 2 1.1 2 .5 2 1.5 2 .3 2 1.3 2 .9 2 .2 2 2 2 1.2 2 2 2 0 2 1 2 1.9 2 .4 2 1.2 2 .7 2 1.4 2 1 2 .7 2 1.2 2 0 2 1.7 2 .9 2-.6 2 1.9 2 1.2 2 .4 2 1 2 .2 2 .3 2 1.4 2 .6 2 .7 2 1 2 .9 2 .5 2 1.7 2 .2 2 .4 2 1.5 2-.3 2 .7 2 1 2 .1 2 .2 2 1 2 1 2 .9 2 .3 2 1.9 2 .3 2 .7 2 .9 2 .7 2 1.4 2 .1 2 1.8 2 .1 2 1.1 2 1 2 .2 2-.2 2 1.2 2 .2 2 .6 2 1.4 2 .2 2 .9 2 .3 2 .5 2 1.2 2 .3 2 .4 2 .6 2 .2 2 1.4 2-.4 2 1.1 2 0 2 .7 2 1 2 .3 2 .3 2 .6 2 .4 2 .7 2 0 2 0 2 1.8 2 0 2 2.3 2-.6 2 .7 2-.1 2 .7 2-.4 2 .7 2 .4 2 .8 2 1.1 2 0 2 0 2 .5 2 0 2 1.4 2 .4 2-.1 2 .6 2 .3 2 .1 2 1.2 2-.1 2 1.2 2-.1 2 .7 2 .7 2-.5 2 .6 2 .8 2 .6 2 0 2 1.5 2-.3 2 .5 2 1.1 2 .6 2-.5 2-.1 2-.1 2 .3 2 .8 2 0 2 1 2 1.2 2-.5 2-.5 2-.4 2 1.9 2 .3 2 .3 2 .6 2 .7 2-.2 2 .8 2-.1 2 .5 2 .4 2-.2 2 .5 2 .9 2 .8 2-.2 2-.1 2-.2 2 .3 2 .2 2 .4 2 .4 2 .3 2 .9 2-.5 2 .7 2 0 2 0 2 1 2-.4 2 1 2-.4 2 .7 2-.1 2 .1 2-.1 2 1.3 2 1 2-.4 2 .4 2 .1 2 .2 2-1.4 2 .8 2 1.2 2-.2 2 .1 2 .2 2 1.1 2 .2 2 .3 2 .2 2 .2 2-.5 2 .3 2-.1 2 .5 2 .4 2-.1 2 .9 2 .6 2 .8 2-.4 2-.5 2 .4 2 0 2-.6 2 .6"/>
<path stroke="#2f84c8" d="M89.7 241.6l2 .4 2 .2 2-.4 2 0 2-.1 2 0 2-1.2 2 1 2-.1 2 .1 2 .1 2 .1 2-.4 2-.6 2 1.3 2 .2 2-.9 2 1.5 2-1.5 2-1 2 .9 2-.9 2 .7 2-.9 2 .9 2-.3 2 .3 2 .3 2-.5 2 .2 2-.3 2-.4 2 .7 2 .3 2 .2 2 .9 2-.7 2 1.9 2 0 2 1.1 2-.1 2-.8M221.7 84.5l2-1.5 2-.8 2-1.2 2 .2 2-.7 2 .1 2 .6 2 1.1 2-.4 2 1 2 .4 2 .1 2 .4 2 1.3 2 0 2 2 2-.1 2 1.2 2 1.2 2 .8 2-.3 2 .6 2 .8 2 1.8 2 .2 2 1.9 2 .1 2 2.1 2 .8 2 .5M283.7 101.7l2 1.2 2 1.5 2 1.5 2 1.6 2-.1 2 1.6 2 1.2 2 1.8 2 1.1 2 .4 2 1.4 2 1.6 2-.1 2 1.5 2 1.2 2 .7 2 1.4 2 1.3 2 .8 2 1.7 2 1.3 2 1.1 2 .7 2 1.6 2 1 2 .8 2 .9 2 .9 2 .8 2 .9 2 .5 2 1.4 2 .5 2 .9 2 1.3 2 .6 2 1.1 2 .7 2 .6 2 1.2 2 1.4 2 .2 2 .5 2 1.3 2 .8 2 1 2 .2 2 .7 2 .7 2 .9 2 .8 2 1.3 2 1.1 2-.2 2 1.6 2-.1 2 .8 2 .5 2 .5 2 1.4 2 .6 2 .6 2 1.2 2 .1 2 1.8 2 .4 2 1.4 2-1 2 1 2 .6 2 .8 2 .8 2 .9 2 1.4 2-.1 2 1 2 1 2 .8 2-.5 2 1.9 2-.4 2 1.6 2 .2 2 1.4 2-1 2 1.4 2 .8 2 .2 2 1.1 2 0 2 .7 2 1.1 2-.4 2 .9 2 .7 2 .7 2 .1 2 .5 2 1 2 .1 2 .1 2 .8 2 .7 2 .3 2 1.5 2-.6 2 1.1 2 .9 2 0 2-.2 2 .6 2 1.2 2 .4 2 .5 2-.2 2 .7 2 .4 2 .5 2 .2 2 .9 2 .5 2 .3 2-.2 2 1 2-.2 2 1.5 2 .9 2 .1 2-.7 2 .6 2 .8 2 1.2 2-.1 2 .1 2-.3 2 1.1 2 .2 2 .5 2 .3 2-.3 2 .7 2 .5 2 .2 2 .6 2 .4 2 .8 2 .6 2 .3 2 .3 2 .8 2-.2 2 .4 2 1 2 .2 2 .2 2 .2 2 .4 2-.2 2 .8 2-.3 2 .7 2 .8 2 .5 2-.2 2 .1 2 .1 2-.2 2 .3 2 0 2 .6 2 1.4 2-1 2 1 2-.4 2 .8 2 .7 2 0 2 1.2 2 .1 2-.1 2 .6 2-.2 2-.1 2 .9 2 .3 2 .4 2-.3 2 .9 2-1.3 2 .6 2 .6 2 .1 2 .6 2 0 2 .5 2 .3 2 .1 2 .6 2 .3 2-.7 2 1.1 2 .3 2-.4 2 1 2 .6 2 .3 2-.4 2 .4 2-.2 2-.7 2 1 2-.3 2 .2 2 .3 2 .3 2 0 2 1.2 2-.3"/>
<path stroke="#1770bf" d="M89.7 239.8l2 .2 2 .3 2 .7 2-1.2 2 .8 2 0 2-.1 2-.4 2 .9 2-1 2 1.4 2-.6 2-.3 2-.1 2 .2 2-.5 2 .1 2 .3 2-.6 2-.9 2 .6 2-1 2 .5 2 .4 2-.8 2 1 2-.8 2-.3 2 .6 2-.2 2 .8 2-.3 2-.2 2 .7 2 .5 2 .1 2 .1 2 1.1 2 1.2 2 .6 2 .3 2-1.1 2-1.9M221.7 84.9l2-1.9 2-1.2 2-.1 2-.1 2-.1 2 .1 2 .1 2 .2 2 1.1 2-.9 2 .4 2 .3 2 .3 2 .1 2 1.1 2 .8 2 .6 2-.6 2 1.8 2-.6 2 1.1 2 1.2 2 .1 2 .5 2 1.2 2 0 2 .8 2 1 2 .1 2 .7 2 1.8 2 1.2 2 .4 2 1.3 2 1 2 .8 2 .2 2 .9 2 1.9 2 .1 2 .7 2 1 2 .3 2 1.8 2 1.3 2 .9 2 .5 2 .3 2 2.2 2 .6 2 .5 2 1.4 2 1.2 2 1.7 2 0 2 1.5 2 .8 2 1.3 2 .2 2 2.2 2 .9 2 .7 2 .8 2 .8 2 1.6 2 .9 2 1.1 2 .8 2 1.1 2 .9 2 .1 2 1.1 2 .9 2 .7 2 1.5 2-.1 2 1.3 2 .8 2 .3 2 1.8 2 .8 2 .2 2 1.5 2 .4 2 .9 2 .9 2 1.1 2 .3 2 .9 2 1.1 2 1.1 2 .6 2 .8 2 .6 2 .6 2 1.1 2 .9 2-.4 2 .7 2 1.4 2 .4 2 1.7 2 .5 2 .7 2 .6 2 .1 2 1.1 2 1.3 2 .2 2 .8 2 2.2 2-.3 2 .4 2 .6 2 1.3 2-.6 2 1.3 2 1.5 2 .5 2 0 2 .2 2 1.8 2 0 2 1.3 2 .7 2 1.2 2 .3 2 0 2 1.1 2 .4 2 .6 2 .8 2 .3 2 .6 2 .7 2 1 2 .7 2-.8 2 2 2 .8 2-.4 2 1.5 2 .1 2 1.4 2 .1 2 .8 2 .6 2 0 2 .7 2 .9 2 .3 2 1.2 2-.2 2 .3 2 .9 2 .3 2 1 2-.1 2 .3 2 .9 2 .1 2 .1 2 1.7 2-.6 2 .9 2-.2 2 .8 2 .7 2 .1 2-.1 2 .9 2-.6 2 2.1 2 1.2 2-1 2 1.1 2 .2 2 .1 2-.9 2 1.4 2 0 2 .3 2 .4 2 .7 2 .3 2 .4 2-.1 2 .5 2 .8 2 .3 2 .5 2 .3 2 .4 2 .3 2 .1 2 .6 2-.3 2 .4 2 .2 2 .1 2-.3 2 1 2-.1 2 .8 2 0 2 .7 2 1.2 2-.5 2 .3 2 .1 2 1 2 .5 2-.5 2 .4 2 .8 2 .2 2 .8 2-1.2 2 1.7 2-.1 2 .7 2-.2 2 .1 2 .2 2 .2 2 .2 2 .7 2 .4 2-.4 2 1.1 2-.2 2-.7 2 1.1 2-.4 2 0 2 .7 2 .4 2-.3 2 .2 2 1.4 2-.3 2 .9 2 .4 2-.7 2 .3 2-.2 2 .1 2 .3 2-.2"/>
<path stroke="#1770bf" d="M89.7 242.3l2 .2 2-.8 2 1.5 2-.5 2 .7 2-1.1 2 1.3 2-.4 2-.4 2-.5 2 .8 2-.3 2-.3 2 .5 2-.7 2-.2 2-.5 2 .3 2-.1 2 .1 2-.3 2-.3 2 .2 2 .3 2-.8 2-.2 2 .6 2 .3 2 .2 2 0 2 .7 2 .7 2-.1 2 .1 2 1.5 2-.4 2 .5 2 .5 2 .7 2-1.2M217.7 86.3l2-2.6 2-1.1 2-.5 2-1.2 2 .1 2-1.1 2 .6 2-1 2-.5 2 .4 2 .6 2 1.3 2-.2 2 1.3 2-.3 2 1.8 2 .1 2 .7 2 .9 2 .3 2-.2 2 1 2 .3 2-.3 2 2 2 .7 2 .6 2 .3 2 1.3 2 .3 2 1.7 2 .5 2 .7 2 1.3 2 .7 2 .7 2 .4 2 .6 2 .5 2 1.4 2 1.2 2 1.1 2 1 2 .9 2 .8 2 .6 2 1.8 2 .8 2 1.1 2 .2 2 1.1 2 .9 2 .5 2 2.4 2 .3 2 1.1 2 .6 2 1.4 2 1.3 2 1.3 2 .9 2 .4 2 1.6 2 .9 2 .4 2 .8 2 1.1 2 1.3 2 .5 2 1.2 2 .8 2 .8 2 .2 2 1.4 2 .7 2 1.6 2-.1 2 1.7 2 1.8 2 0 2 1.8 2 1 2 .1 2 1.7 2 .3 2 .6 2 .4 2 1.2 2 .2 2 1.1 2 1.1 2 .7 2 .3 2 1.1 2 1.2 2 .3 2 1.9 2-.4 2 .7 2 .9 2 1 2 .7 2 1.1 2-.3 2 1 2 .5 2 .8 2 1.6 2 .3 2 .5 2 1.1 2 .8 2 .4 2 1.6 2 .5 2 .2 2 .9 2 1 2 .2 2 1 2 .1 2 .2 2 1 2 2 2-.3 2 .7 2 .9 2 1.5 2-.5 2 .9 2 .9 2 0 2 2.1 2-1 2 .8 2 1.6 2 .1 2-.6 2 1.4 2 1 2 .8 2 .6 2 .3 2 .6 2 .8 2 1 2 0 2 .1 2 .1 2 .6 2 .8 2 1.6 2 .5 2 .1 2 1 2 .9 2-.9 2 .7 2-.2 2 .3 2 .4 2 1.3 2 1.4 2-.1 2 .2 2 .9 2 0 2 .9 2 .4 2 .3 2 .2 2 .2 2 .6 2 .2 2 .2 2 1.4 2-.4 2 1.4 2-.1 2 .7 2-.3 2 .9 2-.4 2 .3 2-.2 2 .8 2 .4 2 .1 2 .6 2-.6 2 1.7 2-.4 2 .8 2 .3 2 .9 2 .7 2-.5 2-.2 2 1.5 2-.4 2 2 2-1.5 2 .9 2 .5 2 .5 2-.6 2 1.3 2-.4 2-.1 2 1 2 .5 2-.2 2 .8 2 .1 2 1.1 2-.1 2 .1 2 .2 2 .5 2-1 2 .3 2 .4 2 1.6 2-.1 2 .7 2 .2 2-.6 2 1 2-.3 2 .3 2-.3 2 .3 2 1 2-.2 2 1.3 2 0 2 .2 2-.5 2 .9 2 0 2 0 2-.1 2 .6 2-.5 2 1.5 2-.7 2 .6 2-.4 2-.1 2 1 2 .2"/>
<path stroke="#1770bf" d="M89.7 242.2l2 .6 2 0 2-.1 2 .1 2 .3 2-.2 2 .5 2 .1 2-.5 2 .4 2-1.4 2 1.1 2-.6 2 .5 2-.9 2 .5 2-.4 2-.2 2 .6 2-.9 2 .7 2-.9 2 .5 2 0 2-.4 2 .2 2 .1 2-.3 2-.4 2 1.7 2-.5 2 .4 2 .7 2 .7 2 .3 2 .7 2 .5 2 .9 2-1.6 2-2.5M217.7 82.8l2-1.3 2 0 2-.7 2 .1 2 .2 2-.4 2-1 2 1 2-1.2 2 .8 2 .1 2 1.1 2-.6 2 .6 2 .8 2 .7 2-.2 2 1.1 2 .6 2 .3 2-.3 2 2.1 2 .2 2 .5 2 1 2-.2 2 1.5 2 .4 2 .8 2 1.3 2 .4 2 .6 2 .9 2 .9 2 1.1 2 .4 2 .6 2 1 2 .7 2 1.5 2 1.1 2 1.1 2 .5 2 .8 2 .6 2 1.4 2 .4 2 .9 2 2.3 2 .9 2 .5 2 1.3 2 .5 2 1.8 2 .4 2 1.2 2 .8 2 1.1 2 .7 2 1.6 2 .6 2 .5 2 1.3 2 1 2 1 2 1 2 .2 2 1 2 1.7 2 1.2 2 .2 2 1 2 1 2 .9 2 1.6 2 .9 2 .9 2 .6 2 .7 2 .6 2 1.2 2 1.3 2 1 2 .2 2 1.5 2 .3 2 1.2 2 .1 2 .9 2 .8 2 2 2 .5 2 .8 2 1.1 2 0 2 1.2 2-.3 2 1.6 2 .6 2 .2 2 .9 2 1.4 2 1.4 2 .3 2 .3 2 1.7 2 .4 2 .6 2 .3 2 .6 2 .7 2 1.3 2 .5 2 .2 2 .5 2 .9 2 .8 2 .8 2 1.2 2 .8 2 .4 2 .4 2 .7 2 1.3 2 .7 2-.7 2 1.4 2 .8 2 .8 2 .4 2 .6 2 1.2 2 1 2-.3 2 .9 2 .2 2 .5 2 .7 2 .8 2 1.4 2 .1 2 1.2 2 .6 2 .6 2 .1 2 .9 2 .7 2 1 2-1 2 .8 2 .7 2 .5 2 .7 2 .2 2 .6 2 .8 2 .2 2 .5 2 .8 2 .5 2 .4 2 0 2 .9 2 .3 2-.4 2 1.6 2 .3 2 .6 2-.3 2 1.8 2-.1 2 .1 2 .5 2 .4 2 .4 2-.4 2 1.3 2 .1 2 .3 2 .6 2 .2 2 0 2-.1 2 1.2 2-.6 2 2.1 2-.7 2 1.3 2-.2 2 1.9 2-1.8 2 1.2 2-.1 2 .2 2 .5 2 .7 2-.3 2 1.2 2-.3 2 .1 2-.1 2 .8 2 .7 2-.3 2 1.2 2 .2 2 .4 2-.6 2 .5 2 .8 2-.2 2 .4 2 .6 2 .3 2 .6 2 .2 2-.6 2 1.1 2 .3 2-.3 2 .9 2 .3 2 .1 2 .4 2 .6 2 .2 2 .4 2-.3 2 0 2 .1 2 .7 2 .3 2-1.2 2 1.6 2 .5 2 .5 2-.1 2 .4 2 .4 2-.1 2 .7 2 .1 2-.6 2 1 2 .3 2 .3 2 .6 2-.7 2 .2 2-.2 2 .5"/>
<path stroke="#1770bf" d="M89.7 241.0l2-.1 2-.4 2 .1 2 .3 2 .7 2-.4 2-.2 2 .5 2-.8 2 .5 2 .1 2-.2 2 .3 2 .3 2-.5 2 .1 2-.6 2 1.3 2-1.1 2 0 2-.9 2 1 2-.5 2-.2 2 .3 2 0 2-.7 2 .2 2 .1 2 0 2-.4 2 .8 2 .5 2 0 2-.2 2 1 2 1.3 2-.1 2 .8 2 .6 2-1.3 2-1.1M219.7 84.2l2-2.4M223.7 78.6l2-.3 2-.5 2 .3 2 1.1 2-.8 2-.8 2 .6 2 .5 2 .2 2 .2 2 .9 2-.4 2 1.8 2-.3 2 .3 2 .9 2 0 2 1.1 2 .4 2 1.1 2 .3 2 .7 2 .4 2 1 2 .7 2 .7 2 .7 2 .5 2 1.3 2 .7 2 .6 2 1.7 2 .4 2 .5 2 1.4 2 1.3 2 .5 2 .8 2 1.4 2 .3 2 .6 2 1.2 2 .8 2 1.3 2 .2 2 1.4 2 .6 2 2.2 2 1.1 2 1 2 .5 2 1.3 2 .5 2 1.1 2 2.1 2 .2 2 2 2 1.6 2-.2 2 1.6 2 .1 2 .9 2-.1 2 2.2 2 1.5 2 .3 2 1 2 1.2 2 .5 2 1.2 2 1.1 2 .7 2 .4 2 1.3 2 0 2 2 2 1.6 2 0 2 .8 2 1 2 1.4 2 0 2 1.5 2-.2 2 1.5 2 .9 2 .5 2-.1 2 1.9 2 1.5 2-.6 2 1.6 2 1 2 1.1 2 .7 2 .4 2 .9 2 1.3 2 .3 2 .7 2 .6 2 1.8 2 0 2 0 2 .8 2 1.2 2 .3 2 1 2 .8 2 .4 2 1.2 2 .9 2 .5 2 .3 2 .6 2 .9 2 .9 2 1 2 .9 2-.1 2 1.6 2 .7 2-.1 2 .3 2 .8 2 1 2 .8 2 .8 2 1 2 .4 2 .9 2 .2 2 .8 2 1.2 2 .3 2 .3 2 .8 2 .5 2 1.4 2 .3 2 .9 2 .6 2 .3 2 .2 2 .7 2-.1 2 .6 2 1.4 2-.5 2 .7 2 1.3 2 .9 2-.1 2 .4 2 1 2 .1 2 1.1 2 .3 2 0 2 .2 2 .5 2-.2 2 .6 2-.1 2 1.4 2 .6 2 .7 2 .1 2 .9 2 .1 2-.1 2 .3 2 .3 2 1.1 2 0 2 .1 2 .7 2 .9 2 .7 2-.2 2 0 2 .9 2 .2 2 .4 2 .6 2 0 2 1 2 .2 2 .4 2 .2 2 .8 2-.6 2 .8 2 .3 2-.3 2 .2 2 .4 2 0 2 .4 2 .8 2 .7 2 .3 2 .6 2-.3 2 .7 2-.2 2 .6 2 .9 2 .6 2 .8 2-.4 2 .2 2 0 2-.5 2 .5 2 .1 2 .7 2 1 2 .8 2 .5 2-1 2 .5 2 0 2 .7 2 .1 2 .3 2-.1 2 .1 2 .5 2 .1 2 .4 2 .5 2 .1 2-.1 2 .5 2 .6 2-.3 2 .5 2-.8 2 1 2 .9 2-.4 2 .3 2 .3 2 .4 2-.3 2 .4 2 .6"/>
<path stroke="#1770bf" d="M89.7 241.0l2 0 2 .4 2 0 2-.4 2 1 2-.9 2 1 2-.4 2-.1 2 .4 2-.9 2 .2 2-.6 2 0 2 .2 2 .1 2-.1 2 .7 2-1.1 2-.3 2 .1 2 .3 2-.7 2 .6 2-.6 2 .2 2-.1 2-.3 2 1 2-.8 2 .4 2 1 2-.1 2-.2 2 1.8 2 .1 2 .3 2 1.3 2 0 2-.8 2-2.5M219.7 78.7l2-1.6 2-1.4 2 .2 2-.1 2-1.9 2 .4 2-.5 2 .5 2 0 2 .4 2 .6 2 1 2-.2 2 1.5 2-.4 2 .8 2 1.2 2 0 2 .7 2 .6 2 .2 2 .9 2 1 2 .6 2 .4 2 1 2 1 2 1 2-.4 2 1.6 2 .9 2 0 2 .4 2 1 2 1.2 2 .3 2 2 2 .2 2 1.9 2 1.3 2 1.7 2-.3 2 1.6 2 .8 2-.9M311.7 102.7l2 1 2 .3 2 .7 2 1.9 2 1.5 2 .4 2 1.5 2 .6 2 .8 2 .8 2 1.2 2 .9 2 1.6 2 1.3 2 .2 2 2.1 2 .5 2 .3 2 1.1 2 .8 2 1.8 2 .9 2 .7 2 1.2 2-.1 2 2 2 .3 2 .8 2 1 2 2 2 1 2 .7 2 .9 2-.1 2 1.9 2 .5 2 1.2 2 .4 2 .9 2 1.1 2 .8 2 1.5 2 .8 2-.2 2 .7 2 .9 2 1 2 .8 2 1.4 2 .4 2 1 2 .2 2 1.7 2 .5 2 .7 2 .6 2 1 2 0 2 2.1 2-.3 2 .6 2 1.8 2 .1 2 1.2 2 .3 2 1.2 2-.1 2 1.4 2 1.1 2-.3 2 .8 2 .5 2 .9 2 .6 2 .7 2 .7 2 .8 2 .9 2 .6 2 1.1 2 0 2 1.5 2 1.1 2 .4 2 1 2-.4 2 1.2 2 1.2 2 .5 2 0 2 1.7 2-.1 2 .9 2 .1 2 .6 2-.1 2 1.8 2 .5 2 .1 2 1.1 2 1 2 .4 2 .9 2 1 2 .4 2 .1 2 .6 2 .5 2-.4 2 .4 2 .8 2 1.3 2-.4 2 .9 2 .7 2 .5 2 .3 2-.4 2 1.3 2-.4 2 .9 2 .8 2 .1 2 1 2-.2 2 1.2 2 0 2 .3 2 .1 2-.1 2 1 2 .3 2 .6 2 .1 2 .8 2 1 2 .1 2 .2 2 .8 2-.4 2 1.3 2-.4 2 1 2 .1 2-.1 2 0 2 0 2 .7 2 .7 2 1.1 2-.2 2-.1 2 1 2-.2 2 .5 2-.5 2 1.3 2 .6 2-.4 2 .3 2 .9 2-1.1 2 1.5 2 .4 2-.2 2 .5 2 .8 2-.2 2 .7 2 .6 2 .3 2 .5 2-.2 2 .3 2 1 2-1.3 2 1 2 1 2-1.6 2 1.2 2-.1 2-.1 2 .3 2 1.4 2 .2 2 1.2 2-.6 2 .7 2 .9 2-1.4 2 .6 2 .1 2 .3 2 .1 2 .6 2 1.5 2-.8 2-.3 2 .2 2 .5 2 .6 2 0 2 .7 2-.7"/>
<path stroke="#1770bf" d="M89.7 242.5l2-.1 2 .5 2-.2 2-.3 2 .6 2-1.4 2 .5 2 .2 2 1.1 2-.5 2 .6 2-1.3 2 .8 2-.2 2-.6 2-.4 2 .7 2-.1 2-.2 2-.6 2 .1 2 .4 2-.7 2 0 2-.2 2 .2 2 .6 2-.1 2 1.3 2-.5 2 1 2-.2 2-.1 2-.2 2 1.6 2 1.4 2-.9 2-1.2 2-2.6M213.7 82.7l2-2.2 2-1.9 2-1.1 2-.3 2-.9 2-.2 2 .2 2-.6 2-.2 2 .4 2-.7 2 .7 2 .4 2 .4 2-.4 2 1.7 2-.5 2 .5 2 .9 2 .5 2 .9 2 .4 2 1 2 .7 2 1.7 2-1.1 2 .1 2 2.3 2-.1 2 .7 2 1 2 1 2 .8 2-.1 2 1.7 2 1.4 2-.5 2 2.1 2-.1 2 1.3 2 .5 2 1.2 2 1.1 2 .6 2 1.4 2 .1 2 1.2 2 .6 2 1.3 2 1.5 2 1.3 2 1.2 2 .4 2 1 2 1.3 2 1 2 .9 2 .8 2 .4 2 1.8 2 1.1 2 1.1 2 .8 2 1.3 2 1.3 2 .6 2 1.3 2 .8 2 1.7 2-.2 2 1.6 2 1.1 2 .2 2 1.6 2 .8 2 1.5 2-.2 2 1.4 2 .7 2 1.7 2-.5 2 .9 2 1.5 2 1 2 0 2 1.9 2 .7 2 .9 2 .9 2 .8 2 .5 2 .8 2 1.7 2 1.2 2 .2 2 .7 2 1.1 2-.8 2 1.5 2 1 2 1 2 1.4 2 .9 2-.1 2 2.1 2-1.1 2 1.8 2 1.6 2 .3 2-.3 2 2 2 .7 2 .9 2 .2 2 .5 2 .9 2 1 2 .4 2 .5 2 .9 2 .6 2 .4 2 1.4 2 .2 2 .8 2 1.2 2-.1 2 .9 2 0 2 1.3 2 .9 2 1.1 2 1 2 1 2-.6 2 1.6 2 .4 2 1.3 2 0 2 .8 2 .1 2 .8 2 .6 2 1.3 2-.2 2 .3 2 1.9 2 .6 2 .7 2-.6 2 .3 2 .4 2 .8 2 .8 2 .9 2 .3 2 .3 2 0 2 .5 2 .1 2 1.1 2-.2 2 1 2 .8 2 .4 2 .6 2 1.3 2 .3 2 .6 2 .3 2-.7 2 1.2 2-.3 2 1.1 2 .3 2 .5 2 .8 2-.1 2 .4 2-.5 2 1.1 2-.1 2 .7 2 0 2 1.2 2 .6 2 .4 2-.3 2 1 2-.3 2 .4 2 .9 2-.1 2-.2 2 1.5 2 .3 2 .1 2 .6 2 .4 2 0 2 .3 2 .4 2 .7 2 .2 2 .2 2 .3 2-.5 2 .8 2 .7 2 .1 2-.8 2 1.6 2-.3 2 0 2 .4 2 .7 2 .4 2 .4 2 .4 2-.2 2 0 2 .8 2 .8 2 .8 2-.8 2 .5 2-.8 2 1.3 2 .9 2-.4 2 1.1 2 1.2 2-1.1 2 .7 2-.1 2 .7 2 .5 2-.9 2-.1 2 1.3 2 .2 2-.3 2 .9 2-.5 2 .4 2 0 2 .3 2-.6 2 1.5 2 .7 2 .5 2-.3 2-.3"/>
<path stroke="#1770bf" d="M89.7 240.4l2-.5 2 1.1 2 0 2 .2 2-.3 2 .8 2-.2 2-.1 2-.4 2 .6 2-.2 2-.3 2 .1 2 .2 2-.5 2-.7 2 .6 2 0 2 .1 2-.8 2-.1 2-.1 2 .5 2-.6 2-.1 2 .3 2-.6 2-.2 2-.6 2 .3 2 1.8 2-.1 2 1 2 .4 2 .5 2 .4 2-.3 2 1.3 2 1.2 2-.7 2-2.4M221.7 77.4l2-.8 2-1.8 2 .3 2-1.2 2 .4 2-.8 2 .7 2 .5 2-.3 2 1.7 2-.4 2 .9 2 .8 2 .5 2 .5 2 .4 2 .7 2 .3 2 .9 2 1.1 2-.3 2 .2 2 1.4 2 .3 2 .7 2 .4 2 .5 2 2 2 .4 2 .9 2 .2 2 .3 2 1.8 2-.2 2 1 2 1.7 2 .7 2 .2 2 2.1 2 .9 2 2.1 2 .3 2 .6 2 1.3 2 1 2 1.4 2 .8 2 .6 2 1.5 2 1.1 2 1.2 2 .9 2 1.3 2 .1 2 1.5 2 1 2 1 2 1.7 2 .7 2 .2 2 1.1 2 .7 2 1.3 2 1.2 2 1 2 1.1 2 .3 2 .7 2 1.9 2 0 2 2.3 2-.5 2 1.6 2 .9 2 .4 2 1 2 1.2 2 1.3 2 1.6 2 .5 2 .4 2 1.6 2 0 2 1.7 2 .7 2 .9 2 .7 2 .8 2 1 2 1.1 2 .6 2 .3 2 1.6 2 .4 2 .8 2 .3 2 1.6 2-.1 2 .7 2 .8 2 1 2 .9 2 .7 2 .5 2 1.4 2 .5 2 1.3 2 .6 2 .5 2 .7 2 .8 2 1.7 2-.8 2 1.9 2 .2 2 1 2 0 2 .8 2 1.1 2 .4 2 .9 2 .4 2 .7 2 1 2 1.3 2 1.7 2-1.3 2 1.1 2 1.4 2 .2 2 .3 2 1.2 2 .8 2 .5 2 1.1 2 .8 2-.8 2 1.4 2 .7 2 .7 2 .5 2 .4 2 .1 2 1.2 2 .5 2 1.1 2 .2 2 .3 2 .9 2 .3 2-.2 2 .6 2 .6 2 1 2 .1 2 1.2 2-.8 2 1.3 2 1 2-.3 2 .7 2 .3 2 .2 2 .7 2 .7 2 .9 2-1 2 .8 2 1.8 2-1.1 2 2.2 2-.5 2 .5 2 .9 2 0 2 .4 2 1 2-.3 2 .7 2-.1 2 1.1 2 .2 2-.4 2 .6 2 .1 2 .7 2 0 2 1 2-.3 2 .8 2 1.1 2 .3 2 0 2 .9 2-.4 2-.4 2 1.6 2-.5 2 .4 2 1.4 2 .3 2 .2 2 .3 2-.2 2 1.1 2-.8 2 .6 2 .4 2 1.1 2 .5 2-.4 2 .4 2 0 2 .5 2-.1 2 .6 2 .3 2 0 2 .5 2 .2 2 .2 2 .2 2-.3 2 .2 2-.1 2 .5 2 .7 2 .3 2 .5 2 .5 2 .5 2 .4 2-.2 2 .6 2-1.1 2 1.4 2-.5 2 .4 2-.2 2 .9 2 0 2 .2 2 .9 2 .6 2 .2 2 .5 2 0 2 1.3 2-1"/>
<path stroke="#1770bf" d="M89.7 244.1l2-.6 2 .2 2-.8 2-.5 2 .8 2-.6 2-.3 2 1.3 2-.4 2 .2 2-.4 2 .5 2-.3 2-.1 2-.5 2 .4 2-.3 2 .2 2-.1 2 .1 2 0 2 0 2-.9 2 .4 2 .4 2-.3 2 0 2-.9 2 .3 2 .3 2 .4 2 0 2 1.1 2 .5 2 1 2 .1 2 1.1 2 .5 2-.2 2-2M217.7 80.5l2-2 2-2.1 2-.6 2-1.7 2 .1 2 .1 2-1 2 .8 2-.4 2-.4 2 1.1 2 .4 2-1 2 1.4 2 .1 2 .7 2 .8 2 .9 2-.3 2 1.5 2-.2 2 1.4 2-.3 2 .9 2 .7 2 .9 2 1.2 2-.1 2 1.1 2 1 2 1.1 2 .3 2 1.6 2 1 2 .7 2 .4 2 .4 2 1.1 2 .2 2 2.1 2 .5 2 1.6 2-.2 2 2.1 2 .9 2 1.2 2 .7 2 .9 2 1.4 2 .3 2 1 2 1.6 2 .7 2 .4 2 1.5 2 .9 2 1.3 2 1.3 2 .9 2 1.9 2 .6 2 .8 2 1.3 2 .9 2 .5 2 1.7 2 1.3 2-.2 2 1 2 .5 2 1.6 2 1.2 2 .9 2 1.9 2 1 2 .4 2-.1 2 1.4 2 .5 2 1.7 2 .1 2 1.2 2 .7 2 .8 2 1 2 1 2 1.7 2 .9 2 .5 2 1.4 2 .5 2 .3 2 2 2 .2 2 1.1 2 .4 2 1.4 2 .5 2 1.1 2 .5 2 .3 2 .6 2 .9 2 1.5 2-.1 2 1 2 .3 2 .6 2 .9 2 1.7 2 .3 2 .9 2 .7 2 .8 2 .8 2 1 2 .3 2 1 2 .9 2 1.4 2-.1 2 1.1 2 0 2 .6 2 .3 2 1.1 2 1 2 1 2 .8 2 .6 2 .3 2 .8 2 0 2 1.4 2 .6 2 1.2 2-.4 2 1 2 .8 2 .4 2 1.1 2 .7 2 .7 2 1 2 1.2 2 .4 2 0 2 .7 2 .9 2 .7 2-.4 2 1.3 2-.4 2 .7 2 .8 2 .2 2 .5 2 1.1 2 .2 2 .7 2 .3 2 .4 2 .2 2-.3 2 1.6 2-.2 2 1 2 .3 2 1.1 2-1.4 2 1.2 2 .7 2-.3 2 .6 2 1.6 2-.3 2 .6 2 .4 2 .8 2 .5 2 .4 2 .2 2 0 2 .2 2 .4 2 .4 2 .2 2 .7 2 .1 2 .1 2 .9 2 .9 2-.2 2 .8 2-.1 2 .8 2 .4 2 .3 2 .3 2-.3 2 1.7 2-.9 2 0 2 .1 2 1.1 2 .4 2 .2 2 .6 2-.5 2 .9 2 .1 2 .8 2 .1 2 0 2-.1 2 .2 2 .6 2-.2 2 .9 2 .2 2-.2 2 2.1 2-.7 2 .8 2-.3 2 .4 2 0 2 .2 2 .1 2 .5 2 .6 2 .4 2 .2 2-.2 2 1.6 2-.3 2 .3 2 .5 2-1 2 .5 2 .1 2 .7 2-.5 2 .6 2 .5 2 .1 2 .5 2 .2 2 .5 2 .4 2-.3"/>
<path stroke="#c2ddf0" stroke-opacity="0.5" d="M165.7 244.8l2-2.8 2-4.6 2-7.2 2-5.2 2-4.3 2-6 2-5.8 2-6.3 2-4.6 2-6.7 2-7.5 2-5.7 2-7.1 2-8.3 2-9.2 2-8.5 2-9.1 2-7.2 2-4.7"/>
<path stroke="#9cc8e8" stroke-opacity="0.5" d="M169.7 245.2l2-4.2 2-5.3 2-6.8 2-4.9 2-4.2 2-6.1 2-6 2-5.9 2-5.7 2-6.4 2-7.6 2-6 2-7.8 2-9.2 2-8.3 2-9.9 2-8.8 2-8.5 2-7.1 2-3.2M237.7 118.5l2 2.7"/>
<path stroke="#6aa9dc" stroke-opacity="0.5" d="M171.7 246.0l2-4 2-3.7 2-6.9 2-5.1 2-6.3 2-4.3 2-6.1 2-5.8 2-6.4 2-6.1 2-6.7 2-6.9 2-6.8 2-7.7 2-8.6 2-9.1 2-9.5 2-9.4 2-7.5 2-6.9 2-3.5"/>
<path stroke="#4a96d3" stroke-opacity="0.5" d="M167.7 242.8l2-3.7 2-5.2 2-6.6 2-4.9 2-5.8 2-5.2 2-5.9 2-5.8 2-6.3 2-5.5 2-6.9 2-7.5 2-7.1 2-8.4 2-9 2-9.3 2-9.2 2-9.8 2-8.1 2-5.7 2-4"/>
<path stroke="#2f84c8" stroke-opacity="0.5" d="M171.7 242.1l2-3.8 2-6.2 2-5.2 2-6.1 2-4.5 2-6.1 2-4.5 2-6.8 2-5.6 2-6.6 2-7 2-7.5 2-7 2-8.9 2-9.1 2-9.1 2-9.8 2-9 2-8.9 2-7.3 2-5.5 2-4.2M315.7 125.2l2 2.7"/>
<path stroke="#1770bf" stroke-opacity="0.5" d="M175.7 240.9l2-5.3 2-6.5 2-5 2-5.1 2-5.2 2-5.8 2-7.2 2-5.4 2-6.5 2-6.5 2-7.1 2-6.6 2-7.8 2-8.5 2-9.4 2-8.9 2-9.8 2-8.2 2-9.1 2-7 2-7.3 2-4.4 2-3.4"/>
<path stroke="#c2ddf0" stroke-opacity="0.5" d="M173.7 240.8l2-6.6 2-6.4 2-4.6 2-6.1 2-4.8 2-5.3 2-5.9 2-5.8 2-7 2-6.5 2-7.1 2-6.5 2-9.6 2-8 2-9.2 2-8.6 2-6.2M243.7 137.5l2 2.9"/>
<path stroke="#9cc8e8" stroke-opacity="0.5" d="M167.7 242.6l2-5 2-6.1 2-5.6 2-5.4 2-5 2-5.9 2-4.9 2-7.2 2-5.4 2-6.9 2-7 2-7 2-7.2 2-9.3 2-8.6 2-10 2-9.1 2-8.2 2-4.2M237.7 117.4l2 3.1"/>
<path stroke="#6aa9dc" stroke-opacity="0.5" d="M169.7 244.1l2-2.7 2-6.1 2-6.1 2-5 2-5.3 2-5.6 2-5.8 2-6.2 2-5.9 2-6.3 2-7.5 2-6.5 2-6.7 2-8.1 2-9.4 2-9.6 2-9 2-9 2-8.9 2-5.4 2-2.8"/>
<path stroke="#4a96d3" stroke-opacity="0.5" d="M173.7 241.4l2-5.2 2-6.5 2-5.4 2-3.9 2-6.4 2-4.8 2-5.6 2-7.2 2-6.1 2-5.7 2-6.4 2-7.3 2-8.3 2-9.2 2-9 2-9.1 2-9.6 2-8.9 2-7.3 2-5.9 2-3.8"/>
<path stroke="#2f84c8" stroke-opacity="0.5" d="M167.7 242.7l2-4.6 2-6.5 2-4.9 2-5.1 2-4.9 2-6.3 2-5.9 2-6.2 2-6.7 2-5.8 2-7.3 2-7 2-7.6 2-8.8 2-8.6 2-10.4 2-8.3 2-9.5 2-8.6 2-7.2 2-5.9 2-3.9M291.7 111.5l2 2.7"/>
<path stroke="#1770bf" stroke-opacity="0.5" d="M169.7 244.9l2-3 2-5 2-6.8 2-4.4 2-5.4 2-5.2 2-6.5 2-6.2 2-6.2 2-6.5 2-6.7 2-6.8 2-6.9 2-8.2 2-8.6 2-9.4 2-10.4 2-8.2 2-9 2-8.5 2-6.9 2-5.9 2-4.4 2-3.5"/>
<path stroke="#c2ddf0" stroke-opacity="0.5" d="M167.7 246.0l2-3.5 2-5.7 2-6.7 2-5.3 2-4.2 2-5.7 2-4.6 2-5.2 2-6.8 2-6.7 2-7 2-7.8 2-8 2-7.8 2-9 2-8.7 2-8.7 2-7.3 2-4.5M253.7 143.0l2 2.7"/>
<path stroke="#9cc8e8" stroke-opacity="0.5" d="M171.7 243.1l2-3 2-6.2 2-5.3 2-6.1 2-4.6 2-5.1 2-5.9 2-5.9 2-5.6 2-6.7 2-7.3 2-7.7 2-5.6 2-8 2-10 2-9.3 2-9.4 2-7.7 2-6.9 2-3.3"/>
<path stroke="#6aa9dc" stroke-opacity="0.5" d="M165.7 244.5l2-2.7 2-4.3 2-6 2-4.9 2-4.8 2-5 2-5.8 2-6.2 2-6.4 2-6.2 2-6.7 2-6.6 2-7.3 2-8.1 2-8.3 2-9 2-9.2 2-9.4 2-8.6 2-6.8 2-4.1 2-2.9"/>
<path stroke="#4a96d3" stroke-opacity="0.5" d="M169.7 246.8l2-3.5 2-6.2 2-5.7 2-4.9 2-4.5 2-6.1 2-6.1 2-5.9 2-6.3 2-6.9 2-6.3 2-6.6 2-8.1 2-7 2-10.1 2-9.4 2-8.3 2-10.2 2-8.2 2-7.2 2-6.4 2-3.1"/>
<path stroke="#2f84c8" stroke-opacity="0.5" d="M171.7 242.5l2-3 2-3.7 2-7.3 2-5.1 2-4.5 2-4.5 2-6.3 2-6.1 2-6.1 2-6.3 2-6.3 2-7 2-7.3 2-7.3 2-9.7 2-8.6 2-8.6 2-10.3 2-9.3 2-8.2 2-7.3 2-5.8 2-3.9"/>
<path stroke="#1770bf" stroke-opacity="0.5" d="M169.7 242.5l2-5.6 2-6 2-5.5 2-4.8 2-5.6 2-6 2-6.8 2-4.9 2-6.7 2-7 2-6.7 2-6.6 2-8.9 2-8.3 2-9.3 2-9.3 2-9.1 2-8.9 2-9 2-6.6 2-6.8 2-5 2-3.4 2-2.9"/>
<path stroke="#c2ddf0" stroke-opacity="0.5" d="M173.7 244.5l2-2.7 2-5.9 2-5.5 2-6 2-4.6 2-5.4 2-6 2-5.8 2-6.1 2-6.1 2-6.9 2-6.1 2-7.7 2-7.4 2-9 2-10.2 2-8.7 2-7.9 2-5.1M233.7 125.8l2 2.9"/>
<path stroke="#9cc8e8" stroke-opacity="0.5" d="M169.7 238.8l2-4.9 2-5.3 2-5.6 2-5.5 2-5.4 2-5.5 2-6.2 2-6.3 2-5.7 2-6.5 2-6.7 2-5.9 2-9 2-8.8 2-9.8 2-7.8 2-10 2-7.1 2-4"/>
<path stroke="#6aa9dc" stroke-opacity="0.5" d="M173.7 240.2l2-6.5 2-6.6 2-3.7 2-5.8 2-6.1 2-5.5 2-5.3 2-7 2-6.9 2-5.9 2-7.6 2-6.7 2-8.8 2-9.1 2-8.6 2-9.3 2-10.2 2-7.1 2-6.8 2-3"/>
<path stroke="#4a96d3" stroke-opacity="0.5" d="M167.7 241.8l2-6.4 2-5.8 2-6.2 2-4 2-5.9 2-5.8 2-5.6 2-6.4 2-6.7 2-6.2 2-7.4 2-7.1 2-7.6 2-8.8 2-10.4 2-9.3 2-8.5 2-8.9 2-7.7 2-5.8 2-3.6"/>
<path stroke="#2f84c8" stroke-opacity="0.5" d="M167.7 244.3l2-3.1 2-4.5 2-6.4 2-5.9 2-4.8 2-4.8 2-5.8 2-6.6 2-6.1 2-6.3 2-5.6 2-7.6 2-7.7 2-6.4 2-10.3 2-9.1 2-9.4 2-8.8 2-9 2-8.7 2-7 2-4.8 2-3.7"/>
<path stroke="#1770bf" stroke-opacity="0.5" d="M173.7 242.1l2-5.1 2-6.3 2-6.1 2-4.4 2-5.2 2-5.8 2-5.9 2-6.4 2-6.1 2-5.8 2-6.9 2-8.2 2-7.2 2-7.9 2-9.7 2-9.4 2-9.7 2-9.4 2-7.7 2-7.8 2-5.6 2-6.5 2-4.8M221.7 81.8l2-3.2"/>
<path stroke="#c2ddf0" stroke-opacity="0.5" d="M171.7 243.0l2-4.3 2-5.2 2-6.2 2-4.5 2-5.4 2-5.9 2-5.4 2-6.7 2-7.1 2-5.7 2-6.8 2-6.6 2-7.9 2-7.7 2-9.7 2-9.1 2-9.6 2-5.7 2-3.2"/>
<path stroke="#9cc8e8" stroke-opacity="0.5" d="M173.7 243.5l2-3.7 2-5.8 2-6 2-4.8 2-5.4 2-4.7 2-5.9 2-6.3 2-5.4 2-7.5 2-6.6 2-6.7 2-7.8 2-8.6 2-8.7 2-9.6 2-9.3 2-8.1 2-6.4 2-4"/>
<path stroke="#6aa9dc" stroke-opacity="0.5" d="M169.7 241.0l2-3.4 2-6.9 2-5.6 2-5.1 2-4 2-5.7 2-7.1 2-7 2-5.6 2-6.6 2-6.2 2-6.9 2-7.8 2-8.2 2-9.3 2-9.9 2-9 2-8.8 2-6.7 2-5.4"/>
<path stroke="#4a96d3" stroke-opacity="0.5" d="M171.7 243.4l2-2.8 2-6.4 2-5.5 2-4.6 2-6.2 2-4.9 2-6.3 2-6.3 2-6.4 2-5.6 2-6.2 2-7.3 2-8.4 2-7.7 2-9.2 2-9.6 2-9.6 2-8.4 2-8.9 2-7.5 2-4.7 2-3.4"/>
<path stroke="#2f84c8" stroke-opacity="0.5" d="M167.7 244.1l2-6 2-6.2 2-4.9 2-6 2-6.5 2-4.6 2-5.8 2-5.8 2-6.3 2-6.6 2-6.8 2-7.1 2-7.7 2-9.2 2-9.3 2-9 2-10.2 2-8.4 2-8.7 2-6.2 2-6.4 2-4.9 2-3.3"/>
<path stroke="#1770bf" stroke-opacity="0.5" d="M171.7 241.2l2-5.8 2-6.5 2-5.3 2-5.5 2-5.1 2-5.4 2-6.6 2-5.6 2-7 2-6.3 2-7.2 2-7.1 2-8 2-9.1 2-8.9 2-11 2-9 2-7.8 2-8.1 2-7.5 2-7.4 2-5.3 2-4.2 2-2.8M309.7 99.9l2 2.8"/>
<path stroke="#c2ddf0" stroke-opacity="0.5" d="M167.7 243.6l2-2.9 2-6.7 2-5.2 2-5.7 2-5.3 2-5.4 2-5.8 2-5.7 2-6.3 2-6.1 2-6.6 2-7.4 2-7.8 2-7.7 2-9.7 2-8.9 2-8.8 2-7.3 2-3.9M235.7 126.1l2 2.9"/>
<path stroke="#9cc8e8" stroke-opacity="0.5" d="M169.7 243.5l2-2.7 2-6.3 2-5.7 2-4.6 2-4.9 2-6 2-6.4 2-5 2-7.1 2-5.9 2-6.5 2-6.9 2-7.3 2-7.9 2-8.9 2-9.3 2-9.5 2-8.8 2-6.4 2-5.5M241.7 119.2l2 3.1M245.7 122.9l2 2.9"/>
<path stroke="#6aa9dc" stroke-opacity="0.5" d="M175.7 237.4l2-6.5 2-5.6 2-5.5 2-4.9 2-4.8 2-7.3 2-5.1 2-6.6 2-6.2 2-7.1 2-6.1 2-7.7 2-8.6 2-9 2-9.7 2-9.7 2-8.2 2-7.5 2-5.1 2-3.3"/>
<path stroke="#4a96d3" stroke-opacity="0.5" d="M169.7 241.5l2-5.5 2-6.4 2-5.9 2-4.8 2-5 2-6 2-5.5 2-6.3 2-7 2-6.6 2-6.8 2-7.1 2-8.4 2-8.7 2-9 2-10.2 2-8.6 2-8.2 2-7.7 2-7.2 2-3.5"/>
<path stroke="#2f84c8" stroke-opacity="0.5" d="M171.7 246.0l2-4.9 2-6 2-5 2-5.3 2-6 2-4.8 2-5.1 2-6.5 2-6.6 2-6.4 2-7 2-7.3 2-7.3 2-8.1 2-9.4 2-9.4 2-9.8 2-9.6 2-7.7 2-8.1 2-7.9 2-4 2-3.5 2-3.1"/>
<path stroke="#1770bf" stroke-opacity="0.5" d="M167.7 241.5l2-5.7 2-5.7 2-5.9 2-5.4 2-4.7 2-5 2-7.1 2-5.6 2-7.3 2-6.9 2-6.6 2-7.1 2-8.6 2-9.1 2-8.9 2-9.7 2-9.3 2-8.8 2-8.4 2-7.1 2-6.3 2-5.1 2-4.5"/>
<path stroke="#c2ddf0" stroke-opacity="0.5" d="M173.7 241.0l2-5.6 2-6 2-5.9 2-4.8 2-5.6 2-6.4 2-5 2-7.3 2-5.7 2-6.8 2-6.9 2-6.7 2-8.4 2-8.9 2-9.1 2-9.4 2-7.8 2-4.3"/>
<path stroke="#9cc8e8" stroke-opacity="0.5" d="M169.7 242.0l2-5.2 2-6.3 2-5.2 2-6 2-5.7 2-4.5 2-6.5 2-5.7 2-6.5 2-6.9 2-6.6 2-7 2-8.7 2-8.7 2-8.9 2-9.1 2-9.2 2-7.7 2-5.8M245.7 121.9l2 2.7"/>
<path stroke="#6aa9dc" stroke-opacity="0.5" d="M171.7 244.3l2-4.7 2-6.4 2-5.5 2-4.1 2-6.7 2-4.8 2-5.8 2-5.8 2-7 2-5.7 2-6.7 2-7.1 2-8.3 2-9 2-9.6 2-9.3 2-8.1 2-10.4 2-8 2-5.7 2-3.6"/>
<path stroke="#4a96d3" stroke-opacity="0.5" d="M175.7 242.9l2-4.5 2-6.1 2-5.1 2-4.9 2-5.1 2-5.4 2-6.1 2-7.1 2-4.9 2-7.7 2-7.2 2-6.4 2-8.7 2-8.3 2-9.6 2-8.7 2-10.6 2-8.3 2-8.3 2-6.9 2-5.4 2-4.1M309.7 136.2l2 3"/>
<path stroke="#2f84c8" stroke-opacity="0.5" d="M169.7 242.4l2-6.2 2-6.2 2-5.5 2-4.5 2-5.4 2-6 2-6.2 2-4.5 2-7.4 2-6.7 2-6.5 2-7.8 2-8.4 2-8.9 2-8.7 2-9.8 2-10.3 2-7.3 2-8.4 2-8 2-4.5 2-5.6 2-3.1"/>
<path stroke="#1770bf" stroke-opacity="0.5" d="M171.7 242.0l2-3.7 2-7.3 2-5.2 2-4.8 2-4.8 2-5.6 2-6.2 2-5.3 2-6.7 2-6.9 2-5.5 2-7.1 2-8.9 2-8.3 2-8.7 2-10.1 2-8.9 2-9.3 2-7.6 2-8.1 2-7.9 2-5.5 2-5.4 2-3.6 2-3.2"/>
<path stroke="#c2ddf0" stroke-opacity="0.5" d="M169.7 245.2l2-3.3 2-6.4 2-5.5 2-4.9 2-5.9 2-6.4 2-5.4 2-5.8 2-6.1 2-6.5 2-6.6 2-7 2-7.1 2-8.7 2-9.1 2-10.4 2-8.5 2-7.2 2-5.2M229.7 120.9l2 2.8M251.7 137.2l2 3.1M291.7 166.5l2 3.5M333.7 186.7l2 2.7"/>
<path stroke="#9cc8e8" stroke-opacity="0.5" d="M173.7 241.6l2-5.6 2-5.9 2-5.6 2-4.7 2-5.3 2-5.9 2-5.6 2-6.3 2-6.2 2-7.6 2-6 2-6.9 2-7.8 2-10.4 2-9.5 2-8.8 2-8.8 2-7.5 2-5 2-2.7M237.7 114.8l2 2.7M243.7 119.8l2 2.8M257.7 130.2l2 2.9"/>
<path stroke="#6aa9dc" stroke-opacity="0.5" d="M167.7 244.0l2-3.1 2-6.7 2-5.7 2-4.3 2-5.6 2-5.9 2-5.4 2-5.8 2-6 2-6.2 2-6.8 2-6.8 2-6.9 2-9.4 2-8.8 2-9.3 2-8.8 2-8.7 2-9.4 2-7.2 2-5.3 2-3.2"/>
<path stroke="#4a96d3" stroke-opacity="0.5" d="M169.7 245.0l2-3.7 2-5.4 2-5.8 2-5.4 2-5 2-6.4 2-4.8 2-5.8 2-6.1 2-6.5 2-7.1 2-6.1 2-8 2-7.7 2-9.1 2-9.4 2-8.8 2-9.3 2-9 2-7.4 2-7.1 2-4.1M259.7 107.3l2 2.8"/>
<path stroke="#2f84c8" stroke-opacity="0.5" d="M173.7 243.8l2-3.1 2-7 2-5.4 2-4.4 2-5.6 2-5.9 2-5.6 2-6.4 2-5.4 2-7 2-6.3 2-7.9 2-6.7 2-8.7 2-9.3 2-8.6 2-9 2-9.9 2-7.8 2-9.1 2-7.2 2-6 2-4.3 2-2.7M281.7 98.7l2 3"/>
<path stroke="#1770bf" stroke-opacity="0.5" d="M169.7 244.7l2-4.7 2-7 2-5.7 2-4.2 2-5.5 2-5.4 2-6.6 2-6.3 2-7 2-6.3 2-6.8 2-6.8 2-7.2 2-8.2 2-9.9 2-9 2-9.3 2-9.2 2-8.5 2-8.3 2-6.8 2-5.9 2-6 2-3.6"/>
</g>
<clipPath id="cpb"><rect x="89.2" y="250.6" width="629.8" height="209.2"/></clipPath>
<g clip-path="url(#cpb)" fill="none" stroke-width="1.4" stroke-linejoin="round" stroke-dasharray="3 0.6">
<path stroke="#d9ef8b" d="M89.7 452.7l2 0 2-.5 2 .6 2-.3 2-.1 2 .5 2 .4 2-.3 2-.6 2 .3 2-.1 2 .7 2-.4 2 0 2 .3 2-.6 2 .9 2 .4 2 0 2-.7 2 .7 2-.3 2 .2 2-.2 2-.1 2 .3 2-.2 2 .2 2 1.3 2-.5 2 .7 2 .4 2 .8 2-.4 2 .2 2-1.5 2-1.1 2-2.2 2-2.1M203.7 323.8l2-1.9 2 .5 2 .1 2-.6 2-.4 2 .2 2 0 2 .3 2-.1 2 .7 2 .7 2 1.5 2 1.3 2 .9 2 1.2 2 .9 2-.1 2 1.1 2 1.7 2 0 2 1.4 2 1.5 2 .8 2 1.1 2 1.5 2 1.5 2 .6 2 1.2 2 2.6 2 .1 2 1.5 2 1.7 2 1.2 2 1.5 2 1.6 2 1.4 2 .7 2 2.3 2 .6 2 1.3 2 1.2 2 1.3 2 1.8 2 1.1 2 1.3 2 1.4 2 1.9 2-.2M301.7 370.7l2 .7 2 1.4 2 1.2 2 .3 2 1.4 2 .5 2 1.2 2 1.7 2 .5 2 1.6 2-.3 2 2.1 2 1.2 2 1.4 2 .9 2 .9 2 .9 2 .9 2 .5 2 .6 2 .2 2 2 2 .3 2 1.1 2 .9 2 .9 2 .8 2 .4 2 1.2 2 .9 2 .5 2 .7 2 1 2 .3 2 1.2 2-.1 2 .9 2 .8 2 1.2 2-.4 2 1.2 2-.6 2 1.9 2-.2 2 .8 2 .3 2 .5 2 1.2 2 .3 2 .7 2 .4 2 .2 2 .2 2 .4 2 .3 2 .7 2 .8 2 .3 2 .4 2 .1 2 .7 2 .6 2 0 2 .9 2 .4 2 .2 2 .2 2 1.3 2 0 2-.2 2 .7 2 .5 2 .1 2-.4 2 1 2 .2 2 .4 2 .8 2 .1 2 .8 2 .2 2 .3 2-.2 2 .9 2 .1 2 .9 2-.5 2 .8 2 .4 2 .8 2 .3 2-.3 2 .5 2 1.3 2-.7 2 .5 2 1 2-.1 2 .1 2 0 2 .5 2 .8 2-.7 2 .6 2-.1 2 .5 2 .5 2-.1 2 .3 2 .7 2 .3 2 .7 2 .2 2 .7 2-.2 2 .9 2-.4 2 .3 2-.4 2 .1 2 .1 2-.5 2 1.5 2 1.1 2-.1 2 .5 2 .2 2 .3 2 .2 2 .1 2 0 2 .6 2 0 2 .2 2-.1 2 .7 2 .2 2-.4 2 .2 2-.2 2 .8 2 .5 2-.4 2-.1 2 .9 2 0 2 .6 2 .1 2 .4 2 0 2 .2 2 .2 2 0 2 .1 2 .3 2 .5 2 .3 2-.8 2-.1 2 .4 2-.4 2 .8 2 0 2-.3 2-.4 2 1 2 .2 2-.8 2 1.2 2-.3 2 .3 2 .2 2 .3 2-.5 2 1.2 2-.3 2 0 2-.3 2 .2 2-1.2 2 .7 2 .8 2 .1 2-.1 2 .3 2 .7 2-.6 2-.2 2-.3 2 .1 2 .8 2-1.2 2 .8 2-.5 2-.3 2 1.2 2 .5 2-.7 2 .3 2 0 2 .5 2-.7 2 .9 2 .6 2-.3 2 0 2-.4 2 .1 2 0"/>
<path stroke="#d9ef8b" d="M89.7 450.8l2-.6 2 .5 2 .1 2-.5 2-.1 2-.4 2 .4 2 0 2 0 2-1 2 1.4 2-.7 2 .6 2-.2 2 .4 2-.3 2 1 2-.1 2-.3 2 .5 2-.9 2 0 2 .8 2-.4 2 .8 2 0 2-.3 2-.7 2 1.1 2 .5 2 .2 2-.2 2 1.6 2-.1 2 .3 2 .8 2-1.5 2-1.7 2-1.4 2-1.7M207.7 321.3l2-1.6 2 .1 2 .5 2-.2 2-1 2 .1 2 .4 2 .9 2 .1 2 1.3 2 1.5 2 1.3 2 1.7 2-.1 2 1.6 2-.1 2 .5 2 1.4 2 .5 2 1.9 2 1 2 1.6 2 1.2 2 1.5 2 .7 2 1.7 2 1.4 2 1.7 2 1.1 2 .5 2 2.2 2 1.4 2 1.5 2 1.8 2 1.5 2 .8 2 1.5 2 1.8 2 1.2 2 1 2 1.2 2 1.8 2 .9 2 1.4 2 1.4 2 .9 2 1.8 2 .3 2 2.2 2 .9 2 1.2 2 1.2 2 1 2 1.5 2 .9 2 .5 2 1.6 2 .7 2 1.3 2 1 2 .8 2 .8 2 .8 2 1 2 .8 2 .3 2 2.2 2 .4 2 .7 2 1 2 .7 2 1.1 2 1.3 2 .3 2 1.2 2-.2 2 1 2 1.7 2 .6 2 1.1 2 1.3 2 .2 2 1 2 .1 2 .6 2 .5 2 .2 2 1.4 2 .4 2 .4 2 .5 2 1.9 2-.3 2-.1 2 1.1 2-.3 2 .2 2 1.3 2 0 2 .3 2 .6 2 1.3 2-.3 2 .7 2 0 2 .6 2 .5 2 .2 2 .7 2 .4 2 .7 2 .1 2 0 2 .5 2 .5 2 .6 2 .5 2 0 2 1.5 2-1 2 1.3 2-.7 2 .4 2 .8 2-.1 2 .4 2 .5 2 .7 2 .7 2 .4 2 .3 2 .9 2 0 2 .2 2 .4 2 .4 2 .3 2-.3 2 1.4 2-.1 2 .4 2 .1 2 .5 2 .2 2 .5 2 .1 2 .9 2-.1 2 1.1 2-1.1 2 .3 2 1 2 .5 2 .8 2 .3 2-.5 2 .3 2 .5 2 .2 2 .2 2-.2 2 .5 2 .7 2 0 2 .3 2 1.1 2-.5 2 .2 2 0 2 .9 2-.5 2 .2 2-.2 2-.1 2 1.3 2 0 2-.4 2 1.3 2 .2 2-.1 2 .8 2 0 2 .4 2 .2 2-.4 2-.4 2 1 2-.4 2 .6 2 .6 2 .1 2 .7 2 .2 2-.1 2 .4 2-.4 2 .9 2-.4 2-.1 2-.1 2-.5 2 1.2 2-.5 2 .7 2-.3 2-.2 2 .7 2-.3 2 .5 2 .5 2 .3 2 .5 2-.2 2-.4 2 .2 2 .7 2-.9 2 .4 2 .9 2 0 2-.4 2 1 2-.3 2 0 2 0 2 0 2-.4 2 .4 2 .2 2-.7 2 1.4 2 0 2-.2 2-.1 2-.4 2 .4 2-.1 2 1.4 2-1.3 2-.1 2 .6 2-.4 2 .5 2-.1 2-.6 2 .8 2 .5 2-.4 2 .6 2 0 2 0 2-.1 2-.7 2 .1 2 .7 2-.8"/>
<path stroke="#d9ef8b" d="M89.7 450.2l2 .3 2 .1 2 .1 2-.2 2 .1 2 .4 2-1.1 2 .8 2-.7 2 .5 2-.4 2 .2 2 1.3 2-.5 2 .1 2 .7 2-.4 2 .5 2-.4 2 .5 2-.7 2 .1 2-.2 2 .4 2-.7 2 0 2 1.4 2 .4 2 .5 2-.1 2 .2 2 .8 2 .5 2-.9 2-.3 2-1.2 2-1.3 2-1.4M203.7 321.2l2-1.6 2-.6 2-.2 2 .8 2 0 2 .7 2-.1 2-.4 2 .5 2 .7 2-.2 2 1.7 2 .9 2 .8 2 1.3 2 1 2 1.5 2 .1 2 1.6 2 1 2 1.3 2-.1 2 1.4 2 .8 2 1 2 1.6 2 1.9 2 .6 2 1.6 2 1.8 2 .8 2 1.5 2 2.4 2 .8 2 .9 2 1.7 2 1.3 2 1.1 2 1.7 2 1.8 2 1.3 2 1.4 2 1.2 2 1.9 2 1.8 2 .9 2 1.4 2 .9 2 .9 2 1.6 2 1.1 2 1.8 2 1.2 2 .7 2 1 2 .9 2 .9 2 .6 2 1.7 2 1.5 2 .3 2 1.5 2 .3 2 1.1 2 1.8 2 .8 2 .5 2 1.8 2 .1 2 .7 2 .7 2 .7 2 .7 2 .9 2 1.5 2 1.6 2 .1 2 .2 2 1.5 2 1.6 2-.3 2 .7 2 1.6 2-.6 2 1.2 2 .1 2 .8 2-.3 2 2.4 2 .1 2 .9 2-.1 2 .7 2 .4 2 .9 2 1.2 2 .3 2 .6 2 0 2-.1 2 .1 2 .4 2 .5 2 1.1 2 .3 2 1 2 .3 2 .1 2 .8 2 .6 2 .5 2-.2 2 .9 2 .7 2-.2 2 .4 2-.4 2 .9 2 1 2 0 2 .3 2 .4 2 .7 2 .1 2 .1 2 .4 2 .7 2-.5 2 1.5 2-.1 2 .9 2 .9 2 .3 2 .4 2 .2 2-.5 2 1 2-.1 2 .7 2 .3 2 .7 2-.5 2 .8 2 .6 2 .1 2-.5 2 1.1 2 .2 2 1 2 .2 2 0 2 1 2-.9 2 .6 2 .1 2 .6 2 .2 2 .6 2-.2 2 .3 2 0 2 .6 2 .3 2-.6 2 1.5 2-.1 2 0 2 0 2 1.1 2-.3 2 .2 2 .3 2 .6 2-.2 2 1 2 .1 2 .7 2-.6 2 .5 2-1 2 .5 2 .9 2 0 2 .5 2 .4 2-.2 2 .4 2 .4 2 .4 2-.7 2 .6 2 .2 2-.2 2 .4 2 .3 2-.3 2 .2 2 .5 2 .9 2-.2 2 .4 2-.3 2 .6 2 .3 2-.5 2 .5 2 .2 2-.2 2-.2 2 .4 2-.4 2 .9 2-.4 2 .6 2 .5 2 .1 2 .5 2-.3 2 0 2-.7 2 .5 2 .5 2-.3 2-.3 2 .3 2 .1 2 .5 2 0 2-.8 2 .6 2-.3 2 .2 2 .3 2 .4 2 .3 2-.2 2 .7 2-.3 2 0 2 .3 2 .6 2-.6 2-.2 2 .3 2 .9 2-1 2-.6 2 1.7 2 .5 2-.8 2 0 2-.2 2-.2 2 .2 2-.1 2 .2 2 .2 2 0"/>
<path stroke="#d9ef8b" d="M89.7 452.9l2 .1 2-.3 2 .3 2 .3 2 .1 2-.3 2 0 2-.3 2 .2 2 .2 2-.7 2 .8 2 0 2 0 2 .3 2-.1 2 .3 2 .1 2-.5 2 .7 2-.2 2-.1 2-.2 2-.2 2 .7 2 .2 2-.3 2-.4 2 .8 2 .7 2-.3 2 .9 2-.1 2-.1 2 .7 2-.6 2 1.1 2-1.6 2-1.4 2-1.7 2-1.9M209.7 318.6l2-1.3 2 .1 2 .3 2-.3 2 0 2 .1 2 .9 2 1.2 2 .6 2 1 2 .2 2 1.8 2 1 2 1.2 2 1.4 2 .8 2 .5 2 1.3 2 .7 2 1.2 2 1.2 2 1.2 2 1.6 2 1.5 2 2.1 2 .6 2 1.3 2 1.8 2 1.2 2 1.1 2 .7 2 1.7 2 1.3 2 2.4 2 .4 2 2.4 2 1.4 2 1.2 2 1.5 2 .6 2 2.2 2 1.5 2 .8 2 1.5 2 2.2 2 1.2 2 1.3 2 .9 2 .3 2 1.2 2 1.2 2 1.1 2 1.5 2 .7 2 1.6 2 1.4 2-.3M325.7 381.5l2 .3 2 1.1 2 1.3 2 .9 2 .5 2 .6 2 1.4 2 .4 2 .9 2 .6 2 2.2 2 .3 2 1.1 2 .4 2 1.5 2 1 2 .9 2 .6 2 .8 2 .1 2 1 2 1.5 2 .1 2 1 2 .2 2 .7 2 .6 2 .2 2 .7 2 .5 2 .8 2 .5 2 .2 2 1.4 2 .6 2 .7 2 .1 2 .4 2-.1 2 .5 2 .6 2 .2 2 1.2 2-.1 2 .6 2-.4 2 .9 2 1.2 2 .3 2 0 2 1.8 2 .1 2 .1 2 .3 2 .7 2-.2 2 .5 2 .4 2 .5 2 .4 2 .1 2 .6 2 .1 2 1.3 2-.5 2 .8 2 .5 2 0 2 .4 2 0 2 .3 2 .3 2 .4 2 .9 2 .4 2 1 2 .1 2-.2 2 .3 2 1 2-.1 2 0 2 .7 2 0 2 1 2 0 2 .6 2 .3 2 .1 2 .1 2 1.3 2-.5 2 .3 2 .6 2 .1 2 1.1 2-.4 2 0 2 .7 2-.1 2 .2 2 .7 2-.2 2 .2 2 .9 2 0 2 .5 2 .2 2 .8 2-.9 2 .6 2 .1 2 .3 2 .3 2 .6 2 0 2 .2 2 .4 2-.1 2 .4 2 .2 2-.2 2 .3 2 .4 2 .3 2-.1 2 .7 2-.8 2 1.2 2 .5 2-.2 2 .3 2 .5 2 .4 2 0 2-.7 2 .8 2 .3 2-.6 2 1.1 2 .2 2-.4 2 .2 2-.3 2 1.6 2-.3 2 1 2-.6 2 .5 2-.3 2 .1 2-.9 2-.1 2 .7 2 .1 2 0 2-.1 2 .5 2-1.5 2 1.6 2-.2 2 .6 2 .8 2 .1 2-.6 2 .1 2-.1 2 .4 2-1.3 2 .4 2 1.3 2-.7 2-.3 2 .7 2 0 2-.3 2 .3 2 .9 2-.6 2 .6 2-.9 2 1.2 2 .3 2-.7 2-.4 2 .7 2 .2 2 .5 2-.6 2 1.1 2-1.2 2 .7 2-.1 2 .4 2-.1 2-.9 2 1"/>
<path stroke="#d9ef8b" d="M89.7 454.3l2-.4 2 0 2 .4 2 0 2-.5 2 .4 2 0 2-.6 2 1.5 2-.6 2 0 2 .3 2-.6 2 .7 2-.6 2 0 2 .3 2 .5 2-.5 2 .1 2-.1 2 .3 2 0 2 .4 2 .4 2 .9 2-.3 2-.2 2 1.2 2 .2 2-.3 2 .1 2 1.3 2-1 2-.8 2-.8 2-1.4 2-2.6 2-2.1M205.7 317.0l2-1.2 2 .5 2-.3 2-.2 2 .2 2-.2 2 0 2 1 2 .8 2 .5 2 .5 2 1.2 2 1.1 2 1.1 2 1.6 2 .7 2 .8 2 1.1 2 .7 2 1.7 2 1.1 2-.2 2 1.6 2 1.3 2 1.1 2 1.1 2 1.4M261.7 339.4l2 .5 2 .9 2 2.4 2 1.1 2 .8 2 .8 2 1.8 2 .9 2 2.1 2 1.1 2 1.3 2 2 2 1.7 2 1.2M291.7 360.8l2-.3 2 2.1 2 .9 2 1.3 2 1.4 2 2.6 2 .1 2 1.2 2 1 2 1 2 1 2 2.1 2 .6 2 1.1 2 1.3 2 .6 2 1.3 2 .9 2 1.4 2 .4 2 .6 2 1.8 2 .9 2 .7 2 .7 2 .9 2 1.6 2-.2 2 1.2 2 1.2 2 .9 2 1 2 .4 2 .9 2 .9 2 .5 2 .9 2 .9 2 .6 2 .9 2 1.1 2-.3 2 1.5 2 0 2 1.7 2 .2 2 .1 2 .3 2 1 2 .6 2 .4 2 .5 2 1 2 .3 2 .6 2 .4 2 0 2 1.4 2-.1 2 .2 2 1.4 2 .4 2-.2 2 .3 2 .2 2 1.3 2-.4 2 0 2 .9 2-.2 2 .3 2 1.8 2-.2 2 .7 2 .9 2 .5 2 .2 2 .9 2-.1 2-.1 2 0 2 .9 2-.2 2 .7 2 1.3 2-.3 2 1 2 .3 2-.6 2 .3 2 1.4 2 .2 2 .4 2 .1 2 .3 2 .4 2 .5 2-.6 2 1.2 2 .5 2-.1 2 1.1 2-.3 2 .5 2 .2 2 .7 2-.1 2 1.1 2 .3 2 0 2 .5 2-.6 2 1 2 .7 2-.5 2 .2 2 .4 2 .9 2 .1 2 0 2 .2 2 .3 2-.1 2 1 2-.3 2 .3 2 .1 2 .7 2 .4 2 .1 2 .1 2 .6 2-.3 2 0 2 .3 2 1.2 2-.4 2 .8 2-.7 2 .4 2 .3 2 .6 2 .7 2-.1 2-.1 2 .3 2-.1 2-.9 2 1.4 2-.3 2 1.3 2-.5 2-.1 2 .3 2 0 2-.1 2 1.4 2-.5 2 0 2 0 2-.3 2 .7 2-.3 2 .3 2 .5 2 .1 2 .7 2-.1 2 .2 2 .2 2 .2 2-.5 2 .5 2-.6 2 .5 2 .2 2 .4 2-.5 2 .1 2 .2 2 .6 2-.3 2 .3 2 .2 2 .4 2-.1 2 .4 2-.1 2-.4 2 .7 2-.9 2 1.6 2-1 2 .3 2-.2 2 .3 2 .7 2-.8 2 0 2 .5 2 .9 2-1.2 2 .7 2-.2 2-.5 2 0 2 .5 2 .2 2-.7 2 .2 2 .6 2 .4 2-.3 2 .6"/>
<path stroke="#d9ef8b" d="M89.7 452.3l2-.9 2 1.1 2-.5 2 0 2 .3 2-.4 2-.1 2-.4 2-.1 2 .3 2-.7 2-.1 2 .3 2 0 2 .6 2 1.3 2-.7 2 1.1 2-.1 2-.5 2 .1 2-.2 2-.8 2 .7 2-.7 2-.3 2 .2 2 1.2 2 .3 2-.4 2-.2 2 1.3 2 .5 2 .2 2 .1 2 .1 2-.1 2-1.2 2-1.6 2-1.8 2-2.3M209.7 317.2l2-1.1 2-1 2 .5 2 1 2 0 2 .6 2 .7 2 .9 2 .3 2 .6 2 1.6 2 1.8 2 .5 2 1.4 2 .4 2 .7 2 .7 2 1.5 2 1 2 1.4 2 1.4 2 .4 2 2.3 2 1.6 2 .1 2 1M263.7 340.2l2 .7 2 1.4 2 1.8 2 1.5 2 1.4 2 1.5 2 1 2 1.9 2 1 2 2 2 .7 2 1.6 2 1.4 2 2 2 1.3 2 1.1 2 1.2 2 2 2 1.2 2 1.2 2 1.3 2 1.2 2 .9 2 1.5 2 .7 2 1.2 2 .6 2 1.8 2 1 2 1.8 2 .2 2 .8 2 1.1 2 .5 2 1.3 2 .9 2 .7 2 1.8 2 .3 2 .9 2 .7 2 1.6 2 .5 2 .3 2 .7 2 1.7 2-.2 2 1.7 2 1.4 2 0 2 1.2 2 .3 2 1.4 2 .6 2 .6 2 .5 2 .8 2 .8 2 .3 2 .8 2 .5 2 .8 2-.3 2 1.1 2 .4 2 .9 2 .6 2 .1 2 .4 2 .9 2 .6 2 .7 2 .3 2 .3 2 .4 2 .8 2 .1 2 .7 2-.6 2 1.1 2 1 2 .4 2 .9 2 .5 2-.2 2 .3 2 1 2 .1 2 .3 2-.8 2 1.1 2 .1 2 .7 2-.4 2 .5 2 1.3 2 .3 2 .8 2 .1 2 .4 2 .6 2 0 2 0 2 .3 2 .9 2 .2 2 .9 2-.7 2-.2 2 1.1 2 .1 2 .7 2 1.3 2-.7 2 .5 2 .9 2-.2 2-.2 2 .8 2 1 2 0 2 .4 2 0 2 .8 2 0 2 .6 2 .7 2-.4 2 0 2 .7 2-.5 2-.6 2 1.6 2-.5 2 0 2 .6 2 .8 2-.4 2 1.3 2 .1 2 .8 2-.8 2 1.5 2 .1 2 .2 2-.3 2 .3 2-.2 2 .4 2 .3 2 .2 2 .6 2 .2 2 .4 2-.1 2 .1 2 .9 2-.1 2-.3 2 .4 2 .2 2-.1 2 .5 2 .9 2-1 2 1.3 2-.7 2 .8 2 0 2 .9 2-.5 2 .3 2 .2 2-.2 2 .1 2-.2 2 .9 2 .2 2-.8 2 .5 2 0 2 .8 2-.4 2 0 2 .4 2-.2 2-.4 2-.4 2 1 2-.1 2 .9 2 .4 2-.5 2 .6 2-.5 2 .3 2-.2 2 .9 2 .2 2 .2 2-.5 2-.7 2 .1 2 .3 2 .4 2-.1 2 .6 2-.1 2-.2 2 .1 2 .1 2-.2 2 .3 2-.1 2 .6 2 0 2-.6 2 .6 2 .7 2-.9 2 .3 2 .2 2 .7 2-1.3 2 0 2-.2 2 .6 2-.3"/>
<path stroke="#d9ef8b" d="M89.7 452.9l2 .5 2-.1 2-.3 2 .2 2 0 2 0 2 .1 2 0 2-.1 2 .5 2-.2 2-.3 2 .9 2-.7 2 .7 2 .3 2-.4 2 0 2-.3 2 0 2 1 2-.2 2 .3 2 0 2-.6 2 .1 2 .2 2 .4 2 .7 2-.2 2 1.1 2 0 2 .7 2 .3 2-1.8 2-.2 2-1.9 2-1.4 2-2.5M205.7 317.7l2-1.4 2 .2 2-.9 2 .3 2 .1 2 .9 2-.3 2 0 2 1.2 2 .2 2 1 2 1.1 2 .9 2 .7 2 1.6 2 .8 2 .9 2 .8 2 1.4 2 1 2 1.2 2 1.4 2 1.3 2 1.2 2 1.3 2 1.4 2 1.7 2 1.2 2 1 2 2 2 1.2 2 1.2 2 1.1 2 2 2 1.3 2 1.4 2 1.1 2 1.5 2 1.4 2 1.6 2 .7 2 2 2 2.3 2 1.2 2 1.5 2 1 2 1.9 2 .7 2 1.7 2 .9 2 1.2 2 .7 2 1.2 2 1.6 2 .2 2 2.1 2 .8 2 1.4 2 0 2 .8 2 1.4 2 1.8 2 0 2 .6 2 2 2 .2 2 .9 2 1.2 2 1.4 2 .5 2 1.3 2 .4 2 1.6 2 .3 2 1.1 2 1.4 2 .6 2 .4 2 .3 2 .7 2 .3 2 1.7 2 1 2 .3 2 1.2 2 .8 2-.4 2 1.2 2 .6 2-.3 2 1.7 2 .8 2 0 2 .4 2 1.4 2 .1 2 .1 2 .1 2 .4 2 .5 2 1.4 2 .2 2-.3 2 1.5 2-.8 2 1.1 2 .2 2 1 2 .2 2 .4 2 .7 2-.2 2 1.5 2-.5 2 1.2 2-.3 2 .3 2 1 2-.5 2 .7 2 1 2-.1 2 0 2 .8 2 .2 2 0 2 .6 2 .3 2 .5 2 .5 2 .2 2 1.1 2 .2 2-.1 2 1 2-.3 2 .9 2 .3 2 .9 2 0 2-.2 2 1 2-.5 2 .5 2 1 2 1.1 2 0 2-.1 2 0 2 1 2-.3 2 .4 2 .9 2-.5 2 .7 2 .6 2-.7 2 1.2 2 .5 2 .3 2-1 2 .5 2 .4 2 .7 2-.1 2 .4 2-.2 2 1.2 2-.4 2 0 2 .9 2 .6 2-.3 2 .5 2 .2 2 .1 2-.3 2 1.3 2 0 2-.5 2 1.4 2-.6 2 .5 2-.2 2 .3 2-.3 2 1.4 2-.5 2 .7 2-.4 2 .5 2 .3 2-.5 2 .4 2 .2 2 .2 2 0 2-.5 2 .5 2 .3 2-.3 2 1.2 2 .2 2 .5 2 .5 2 .1 2-1 2 .8 2-.1 2-.2 2 .3 2 .5 2 0 2 0 2-.2 2 .8 2 .2 2-.2 2 .4 2-.3 2 .1 2-.6 2 .8 2 .3 2-.4 2 1 2 .6 2-.9 2 .3 2-.3 2-.1 2 .5 2-.5 2 .9 2-.4 2 0 2 .7 2-.5 2 .3 2-.6 2 .8 2 .6 2 .1 2-.9 2 .4 2-.2 2 .7 2 .1 2 .7 2-.6 2-.1 2 .2 2-.5 2 .5 2-.4 2 .4 2 .4"/>
<path stroke="#d9ef8b" d="M89.7 455.2l2-.7 2 0 2 .2 2-.8 2 .2 2 .3 2 .2 2 .3 2 0 2-.6 2 0 2 0 2-.4 2 .8 2 .2 2 .1 2 .2 2-.1 2 .6 2-.1 2-.3 2 .2 2-.1 2-.3 2-.5 2 .6 2-.1 2 0 2 .1 2 .9 2 .2 2 .3 2 .9 2 .8 2 .2 2 .1 2-.9 2-1.9 2-1M209.7 313.8l2-1 2-.7 2 .1 2-.1 2-.8 2 1.4 2 1.1 2 .3 2 .3 2 2 2 1.4 2 .6 2 1.5 2 1.1 2 .1 2 1.5 2 .8 2 .3M247.7 326.5l2-.2 2 2.5 2 .5 2 2.2 2 .6 2 1.9 2 1.2 2 1.5 2 .6 2 1.5 2 2.1 2 1.5 2 .8 2 2.2 2 .5 2 1.7 2 1.9 2 2.5 2 .9 2 .8 2 2.3 2 .8 2 1.7 2 1.3 2 1.6 2 1.4 2 2.1 2 1 2 1.3 2 .6 2 2.1 2 .1 2 .9 2 1.2 2 1.8 2 .8 2 .6 2 1.2 2 1.2 2 1.3 2 1.6 2 .9 2 .9 2 .8 2 .6 2 1.1 2 1.4 2 .4 2 1.1 2 1.4 2-.6M351.7 391.3l2-.5 2 1.4 2 1 2 1.1 2 .7 2 .6 2 .6 2 1.1 2 .8 2 .5 2 .5 2 1 2 .8 2 .1 2 1.4 2 .3 2 .7 2 1 2-.2 2 1.2 2 .5 2 .8 2-.1 2 .5 2 .1 2 .5 2 .4 2 1 2 .4 2 .9 2 .5 2-.3 2 1.1 2 .1 2 .2 2 .9 2 .2 2 .8 2 .4 2 .2 2 .2 2 1.3 2 0 2 .7 2 .1 2 .1 2 1.2 2 .2 2-.4 2 .4 2 1.1 2 0 2 .4 2 .3 2 1.5 2-.3 2-.4 2 1 2 .5 2-.1 2 .3 2 .3 2 .3 2 .9 2 .3 2 .4 2 .8 2 .4 2 1 2 .2 2 .8 2 0 2 .3 2 .8 2-.9 2 .7 2 0 2 .2 2 0 2 .4 2 .3 2 1 2 0 2 0 2 .8 2 .2 2-.3 2 .3 2 .4 2 .8 2 0 2 .4 2-.2 2 .8 2 .3 2-.4 2 1.1 2-.4 2 .2 2 .8 2 .2 2 .3 2-.3 2 .8 2 .3 2-.3 2 .3 2 .6 2 .2 2 .3 2 0 2 .3 2 .2 2 .5 2-.3 2 .8 2 .3 2 .2 2 .2 2-.2 2 0 2 .3 2 .4 2 0 2 .5 2-.5 2 .2 2 .6 2 .1 2-.5 2-.1 2 1.2 2-.4 2 .4 2 1 2-.1 2-.1 2 .5 2-.6 2 1.5 2-.4 2-.2 2 0 2 .1 2-.2 2-.2 2 .8 2 .1 2 .4 2 .3 2-.3 2-.7 2 .6 2 0 2-.2 2 .3 2 .4 2-.3 2 0 2 .1 2 .6 2 .4 2-.1 2 .2 2-.3 2-.4 2 .4 2 .2 2-.8 2 1.7 2-.7 2 .4 2 .2 2-.5 2 0 2-.8 2 .7 2-.4 2 1.3 2-1.3 2 .6 2-.2 2 1 2-.6"/>
<path stroke="#d9ef8b" d="M89.7 452.0l2 .2 2 0 2-.2 2-.1 2-.2 2-.2 2-.5 2 .4 2 .4 2 .3 2 .1 2-.3 2 .8 2 0 2-.4 2 .3 2-.1 2-.4 2 .4 2 .2 2 0 2 .4 2 .5 2-.4 2-.2 2 .1 2 .1 2 .1 2-.3 2 1.4 2 .3 2 .5 2 .5 2-.5 2-.8 2-.6 2-2.2 2-1.5M205.7 314.6l2-1.4 2-.6 2 .1 2-.1 2-.1 2 .7 2 .1 2 .6 2 .4 2 .2 2 1.8 2 .9 2 1.3 2 1.2 2 .5 2 .7 2 .9 2 1.3 2 1 2 .9 2 1.8 2 1.3 2 .7 2 1.3 2 1.5 2 1.5 2 1.4 2 1.8 2 1.1 2 1.6 2 1.7 2 .8 2 1.5 2 1 2 2.1 2 .7 2 1.3 2 2.5 2 1.4 2 1.5 2 1.5 2 1.2 2 1.1 2 2 2 1.3 2 2 2 1.2 2 .9 2 1 2 .8 2 1.1 2 1.1 2 2 2 .9 2 1.2 2 .9 2 .9 2 .8 2 1.7 2 1.9 2 .7 2 .6 2 .8 2 1.6 2 .2 2 1.3 2 .7 2 2.4 2 0 2 .8 2 .5 2 1.2 2 1 2 .8 2 1.5 2 1.4 2 0 2 1.2 2 1.1 2 0 2 1.5 2 .4 2 .6 2 1 2 .3 2 1.2 2 .1 2 .9 2 0 2 1 2 .2 2 1 2 .7 2 .1 2 .8 2 .8 2 .1 2 .9 2 .1 2 .9 2 .1 2 .8 2 .1 2 .8 2 .2 2 .2 2 .5 2 .1 2 .5 2 .8 2 1.2 2 .2 2 .9 2-.4 2 .9 2 .6 2 .1 2 .6 2-.1 2 .4 2 1.1 2-.1 2 .8 2-.3 2 1.5 2-.9 2 .9 2 .5 2 0 2 1.1 2-.1 2 1.4 2-.9 2 .3 2 .5 2 1 2-.4 2 .3 2 .5 2 .6 2 .2 2 .6 2 .2 2 .1 2 .5 2 .1 2 .7 2 .7 2 .3 2 .5 2-.1 2-.5 2 1.4 2-.6 2 1.2 2 0 2 .7 2-.4 2-.1 2 .9 2-.2 2 .8 2-.1 2 0 2 1 2 .1 2 .6 2-.5 2 .2 2 .5 2 .2 2 .9 2-.1 2 .6 2 1.1 2 .1 2 .2 2-.4 2-.2 2 .1 2 .1 2 .6 2 .5 2-.2 2 .6 2 .8 2-.2 2-.4 2 .1 2 .3 2 .4 2 .2 2-.1 2 .5 2 .3 2 1 2 0 2-.3 2 .3 2 .2 2 .7 2-.5 2 .2 2 .4 2-.3 2-.5 2 .6 2 .1 2-.4 2-.4 2 .8 2 .4 2 .4 2-.6 2 .7 2 .2 2 .2 2 .3 2 0 2-.5 2-.2 2 1 2-.5 2 1.2 2 .2 2-.3 2 .2 2 0 2 .5 2 .4 2-.7 2 1 2-1.3 2 .3 2 .4 2 .2 2-.5 2 1.6 2-.7 2 .4 2-.6 2 .2 2 0 2 0 2-.2 2 .2 2 .8 2 .3 2-.7 2 .8 2-.6 2-.2 2 1.1 2-1.4 2 .2 2 .1 2-.1"/>
<path stroke="#d9ef8b" d="M89.7 453.2l2-.5 2-.3 2-.1 2 .3 2-.4 2-.2 2 0 2 .5 2-.2 2 0 2-.2 2 .4 2-.2 2 .8 2 .2 2-1 2 .2 2 .3 2-.2 2-.5 2 .1 2-.2 2 .4 2 .5 2 .1 2-.6 2 .2 2 1.2 2-.3 2-.2 2 1 2 .3 2 .1 2 .6 2 .1 2 .5 2-.2 2-1.6 2-1.5 2-1.4 2-2.4M209.7 314.5l2-1.7 2 .2 2-.4 2 1 2-.7 2 .2 2 1.1 2 .6 2 1.6 2 .2 2 1.1 2 1.9 2 .3 2 1.5 2 .1 2 2.3 2 .4 2 .5 2 2.3 2 .8 2 1.1 2 1.3 2 1.7 2 .8 2 1.3 2 1.1 2 1.6 2 .8 2 1.8 2 1.5 2 1.3 2 1.9 2 1.4 2 .5M279.7 348.6l2 1.3 2 1.3 2 1.9 2 1.7 2 .9 2 2.4 2 .6 2 2.4 2 1.5 2 1 2 1 2 .6 2 2.1 2 1.1 2 .8 2 1.5 2 1.2 2 .9 2 .7 2 1.6 2 1.5 2 .8 2 1.6 2 0 2 2.2 2 .3 2 1.3 2 .2 2 .8 2 1.6 2 .5 2 1.2 2 1.5 2-.4 2 1 2 .8 2 .7 2 1.1 2 1.4 2 1 2 1.5 2-.3 2 2.1 2-.2 2 1.2 2 .4 2 .2 2 1.3 2 .4 2 1.5 2-.5 2 .3 2 1.2 2 1 2 .5 2 1.2 2 .3 2 .1 2-.4 2 .9 2 .8 2 .7 2 0 2 .4 2 1.3 2 .4 2 .2 2 .5 2 .7 2 1 2 .8 2-.1 2 .1 2 0 2 1.1 2 1.1 2-.1 2 .7 2-.1 2-.4 2 .6 2-.3 2 1.3 2 .3 2 .7 2 .4 2 .5 2 .5 2 .1 2 .9 2 .1 2 .4 2 .7 2 .6 2-.1 2 .3 2 .7 2 .4 2 .8 2-.1 2-.2 2 1.2 2-.5 2 .2 2 .6 2 .5 2-.1 2 .7 2 1 2-.5 2 .2 2 1.2 2 .3 2 .2 2 .1 2 .3 2 .3 2 .8 2-.5 2 .7 2 .2 2 .6 2 .1 2 .9 2 0 2 .2 2 .2 2 .1 2 .4 2 .4 2-.2 2 0 2 .2 2 .4 2 .4 2 .2 2 .2 2 1 2 .4 2-.1 2 .3 2 0 2-.2 2 .6 2 1.1 2-.4 2 .3 2 .2 2 .1 2 .2 2-.2 2 .9 2 .3 2-.2 2-.2 2 .8 2 .1 2 .6 2 0 2-.2 2 .2 2 .3 2 .2 2-.1 2 .1 2 .2 2 .4 2 .5 2-.4 2-.1 2 1.3 2-.6 2 .7 2 0 2 .3 2 .5 2-.5 2 .4 2-.3 2 .5 2-.2 2-.6 2 .4 2-.6 2 .3 2 .2 2-.4 2 .2 2 .1 2 .3 2-.1 2 .2 2 .3 2 .9 2-.6 2-.1 2 .6 2-.4 2 .5 2 .5 2 0 2 .6 2 .2 2-.6 2 .8 2-1.4 2 .6 2-.6 2 .5 2 .3 2 .1 2-.5 2 0 2 .3 2 .5 2-.6 2-.1 2-.2 2 .8 2-.2"/>
<path stroke="#a6d96a" d="M89.7 454.4l2-.8 2 .2 2-.8 2-.4 2 .7 2 0 2 .1 2 .3 2-.2 2 .5 2-.2 2 0 2 0 2-.5 2 .1 2 .2 2 1.1 2-.2 2 .3 2-.3 2 .5 2 0 2-.3 2-.5 2 .7 2-.4 2 .3 2 .1 2 0 2 .9 2-.5 2 1.6 2 .2 2 0 2-.2 2-.3 2-1.2 2-.4 2-1.1 2-2M211.7 309.9l2-.5 2-.2 2-.9 2-.2 2 .4 2 1 2 1.5 2 .5 2 1.8 2 .7 2 1.2 2 .6 2 .3 2 1.4 2 .3 2 1.1 2 .3 2 .9 2 .7 2 1.1 2 1 2 1.2 2 .9 2 1.2 2 .7 2 2.2 2 1.1 2 1.8 2 2 2 .6 2 1.5 2 1.5 2 .5 2 .8 2 .9 2 1.4 2 .4 2 1.4 2 .1 2 1.6 2 .3 2 1 2 1.3 2 .4 2 1.1 2 .6 2 .9 2 1.4 2 .8 2 1.3 2 1.5 2 1.5 2 1.5 2 .9 2 1 2 .1 2 1.4 2 1 2 1.1 2 1.8 2 1 2 .8 2 1 2 1.1 2 1.4 2 1 2 1.9 2 .4 2 1.4 2 1.6 2 .5 2 1 2 .6 2 1.5 2 1.5 2 .6 2 .1 2 2.2 2 .2 2 .7 2 .9 2 .8 2 1.2 2 .5 2 .6 2 .4 2 1 2 .6 2 .1 2 .2 2 .9 2 .9 2 .4 2 .8 2 .6 2 1.1 2 .3 2 .2 2 .3 2 .1 2 .2 2 1.2 2 0 2 .3 2 1 2 .5 2 .4 2-.1 2 .9 2-.1 2 .8 2 .5 2 0 2 .4 2 .6 2 .5 2 .5 2 .6 2-.1 2 .6 2 .2 2 1.1 2 .1 2 1.4 2 .4 2 .3 2 .7 2-.5 2 1.3 2-1.1 2 2.2 2 .3 2 .4 2 0 2 1.1 2-.3 2 .7 2 .4 2 .5 2 .9 2 .4 2 .6 2 .1 2 .9 2-.5 2 1.4 2-.2 2 .4 2 .5 2 .7 2-.1 2 1.1 2 0 2 .7 2 .8 2-.4 2 1.6 2-.7 2 .8 2 .7 2-.4 2 0 2 .9 2-.1 2-.4 2 1 2 .4 2-.5 2 1.4 2 .3 2 .1 2 .6 2 .5 2-.3 2 .5 2 .9 2 .6 2-.2 2 0 2 0 2 .9 2 .5 2 .1 2 .2 2 .1 2 .4 2-.4 2 .3 2 .6 2-1.2 2 .9 2 1 2 .1 2 1 2 .3 2 .3 2 0 2-.3 2 .6 2 .2 2 .4 2 .3 2-.2 2-.1 2 0 2 .6 2 .6 2-.3 2 .7 2 .2 2-.2 2 0 2 1.1 2-.5 2 .6 2-.3 2 .3 2 .1 2-.3 2 .7 2-.2 2-.3 2 .5 2 .2 2 .8 2-.2 2 .3 2-.1 2-.8 2 1.1 2 .3 2-.1 2 .4 2 .6 2-.1 2-.5 2 .3 2 .1 2 .5 2 .1 2 .4 2-.3 2-.5 2 .6 2-.4 2-.3 2 1 2-.4 2 .5 2 .1 2 .3 2-.2 2 .4 2 .1"/>
<path stroke="#a6d96a" d="M89.7 452.6l2-.9 2 .3 2 .1 2-.2 2 .1 2-.3 2 .4 2-.7 2 .6 2-.3 2 .7 2-.2 2-.8 2 .5 2 .2 2-.8 2 1.2 2-.3 2 .7 2-.5 2 .3 2 .5 2-.9 2 .7 2-1 2 .7 2 0 2 .2 2 .1 2 0 2 .2 2 .7 2 .7 2-.4 2 .7 2 1.1 2-.4 2-.1 2-1.1 2-1 2-2.3 2-2.5M213.7 311.5l2-1.7 2-.7 2-.6 2 .8 2 1.2 2 .4 2 1.4 2 .8 2 1.2 2 .8 2 1 2 .4 2 1.6 2 0 2 .7 2 .7 2 .5 2 1.2 2 1.5 2 .3 2 1 2 .9 2 1.7 2 1.6 2 1.4 2 1.5 2 1.7 2 1.1 2 1.1 2 1.5 2 .4 2 1.1 2 1 2 1.2 2 1.8 2 .4 2 .7 2 .9 2 .4 2 1.6 2-.1 2 1.1 2 .5 2 1.1 2 1.8 2 .7 2 .5 2 1 2 1.2 2 1.8 2 .7 2 1.7 2 .2 2 1.4 2 1.7 2 .2 2 1.8 2 1.2 2 .8 2 2 2 .1 2 1.6 2 1.5 2 .5 2 2.1 2 .2 2 1.8 2 .4 2 1.9 2 1 2 .1 2 1.8 2 .5 2 1.4 2 .6 2 .7 2 1.2 2 .3 2 .8 2 1 2 .3 2 1.2 2 .3 2 1.3 2 .5 2 .2 2 1.6 2 1.2 2-.3 2 1.2 2 .5 2-.2 2 1.7 2-.4 2 .4 2 .2 2 1.6 2 .5 2-.6 2 .6 2 .5 2-.2 2 1.6 2-.3 2 1 2 .4 2 .4 2 .1 2 .3 2 .2 2 1 2-.3 2 1.6 2 1 2-.5 2 .7 2 .4 2 .3 2 .9 2-.4 2 .3 2 .5 2 1.6 2 .1 2 1.3 2 0 2 .5 2 .4 2 .7 2 .3 2 .7 2 .6 2 .2 2-.1 2 1.6 2-.4 2 1.1 2-.4 2 .3 2 .4 2 .8 2 .3 2 0 2 .4 2 .6 2 .7 2 .1 2 1.1 2 .5 2 1.6 2-.4 2-.4 2 .7 2 1.3 2-.1 2-.4 2 .9 2 .4 2 .3 2 .3 2 .4 2-.6 2 1.2 2-.1 2-.1 2 .5 2 0 2 .8 2 .3 2 .1 2 .7 2-.1 2 1.4 2-.7 2 .6 2 .7 2 1.1 2-.3 2 .2 2-.2 2 .3 2 .1 2 .4 2 .3 2 .1 2 .5 2 .6 2-.2 2-.3 2 1.1 2 .6 2 .6 2-.7 2 .9 2-.2 2 .9 2-.4 2-.6 2 .1 2 .1 2 1.1 2-.1 2-.1 2-.1 2 .9 2 .2 2 .2 2 .4 2 0 2 0 2 .8 2-.6 2 .7 2 .2 2-.7 2 1 2-.7 2-.1 2 .9 2 .5 2-.3 2 .7 2 0 2 .3 2 .7 2-.4 2-.3 2 .6 2 0 2 .4 2 .4 2-.7 2-.1 2 .4 2 1.1 2-.2 2-.2 2 .4 2-.2 2-.3 2 .1 2-.3 2 1.2 2 .5 2-.4 2-.4 2 .9 2-.8 2 .3 2-.7 2 .2 2 .6 2 .5"/>
<path stroke="#a6d96a" d="M89.7 450.5l2 .3 2 .3 2-.3 2 .4 2-.4 2 .4 2-.3 2 .4 2-.7 2 .7 2-.3 2 .2 2 .4 2-.8 2 .7 2-.7 2 .3 2 .8 2 .4 2-.6 2 .4 2-.5 2-.1 2 .4 2-.5 2 .9 2-.1 2 .3 2 .9 2-.2 2 .3 2-.2 2 .7 2-.1 2 0 2-.6 2-.3 2-1.2 2-1.4 2-2.3M209.7 308.4l2-2.2 2-.5 2-1.1 2-.2 2-.4 2 .3 2 .4 2 1.9 2 .8 2 1.6 2 .9 2 .6 2 1 2 1.2 2 .2 2 .6 2 1 2 .7 2 1.2 2 .6 2 1 2 .3 2 1.1 2 1.3 2 .7 2 1.9 2 2.2 2 .5 2 2.4 2 2.1 2 .3 2 1 2 1.5 2 1.4 2 0 2 2.1 2 .9 2 1.1 2 .9 2 1.6 2 .4 2 .6 2 .2 2 1.6 2 .8 2 .8 2 .5 2 .9 2 1.5 2 1.4 2 1.5 2-.1 2 1.8 2 1 2 1.1 2 1.4 2 .4 2 1.6 2 .9 2 2.2 2 .7 2 1.8 2 1.3 2 1.4 2 .3 2 1.2 2 .8 2 1.8 2 1.4 2 1 2 1.2 2 .3 2 1.3 2 2.1 2 .1 2 1.8 2 .4 2 1.4 2-.2 2 2.1 2 .6 2 .4 2 1.2 2 .4 2 1.3 2 .1 2 .5 2 2.1 2-.5 2 .7 2 1.2 2-.1 2 .6 2-.2 2 1.1 2 .1 2 1.1 2 .2 2 .2 2 1 2 0 2 .9 2 .5 2 .8 2 .5 2 .3 2 .3 2 1.4 2 0 2-.2 2 .5 2 1 2-.5 2 .3 2 1.4 2 .2 2 .7 2 .2 2 .5 2 .3 2 .7 2 1 2-.2 2 .7 2 1 2-.3 2 .4 2 1.3 2 0 2 .9 2 .3 2 .5 2 .9 2-.1 2 1 2 .4 2 .4 2 1 2-.3 2 .5 2-.2 2 1.3 2 0 2 .5 2 .6 2 .3 2 .3 2-.1 2 1.4 2 .1 2 .6 2 .5 2 .9 2 .3 2-.3 2 1 2 .4 2 .5 2 .3 2 .3 2 .5 2 .5 2 .6 2-.8 2 .9 2 .4 2 .3 2 .3 2 .5 2 1 2-.2 2-.2 2 0 2 .7 2 .2 2 .1 2 1.1 2-.6 2 .3 2 .2 2 .6 2 .1 2 .4 2 1.2 2 .1 2 .3 2 .3 2 .7 2 .1 2 .3 2-.5 2-.3 2 .7 2 .3 2 .9 2 .1 2-.4 2 .9 2 .3 2 .2 2 .1 2 .3 2 0 2-.1 2 .4 2-.4 2 1.6 2-.4 2-.5 2 1 2 .4 2 .3 2-.4 2 .1 2 .7 2-.4 2 .8 2-.2 2 .2 2-.2 2 .6 2-.4 2 .8 2 1.4 2-1.6 2 .1 2 .6 2 .2 2 .2 2-.1 2-.3 2 0 2 1 2 .6 2-.8 2-.2 2 .4 2 .5 2-1.2 2 1.4 2-.7 2 1.2 2 .1 2-.2 2 .2 2 .1 2 .1 2-.5 2-.1 2 1.2 2-.2 2-.9 2 1 2 .8 2-.9"/>
<path stroke="#a6d96a" d="M89.7 450.6l2-.3 2 .7 2-.1 2-.6 2 .6 2-.5 2-.1 2 0 2-.1 2-.1 2 .5 2-.3 2 0 2 .8 2-1.3 2 .5 2 .8 2-.1 2-.2 2 .8 2-.1 2-.1 2-.2 2 .5 2 0 2 .1 2-.3 2-.3 2-.1 2 .8 2-.2 2 1.1 2 .5 2 .4 2 .2 2-.4 2 1.1 2-1 2-1.2 2-.5M171.7 449.2l2-2.4M213.7 307.8l2-2.3 2-.9 2-.7 2-.5 2 1.1 2 .7 2 1.9 2 1.2 2 1.7 2 .3 2 .7 2-.1 2 1.4 2 .9 2-.3 2 .9 2 2.1 2 .3 2 1.2 2 1 2 1.3 2 .8 2 .6 2 1.5 2 1.5M265.7 326.8l2 1 2 1.3 2 1.6 2 .6 2 1.1 2 1.6 2 1 2 1.2 2 .6 2 1.1 2 1.8 2 .6 2 .4 2 1 2 .3 2 1.7 2 1.1 2 .4 2 1.5 2 1.3 2 .9 2 .7 2 1.3 2 .9 2 1.1 2 .9 2 1 2 1.7 2 .8 2 1.5 2 1.5 2 .8 2 .6 2 2 2 .5 2 .8 2 1.5 2 2.3 2 .5 2 .9 2 1.3 2 1.5 2 .9 2 1.4 2 1.4 2 1.1 2 .6 2 1.3 2 1.2 2 1.2 2 .3 2 .2 2 2 2 .2 2 2 2-.6 2 .7 2 1.3 2 .5 2 .7 2 .4 2 .2 2 1.3 2 .3 2 .6 2 0 2 .6 2 .5 2 .8 2 .9 2 .4 2 .4 2 .8 2 .4 2 .7 2 .7 2-.5 2 .6 2 .4 2 .5 2 0 2 1.7 2-.2 2 .1 2 .7 2 1.1 2 .1 2 1 2 .4 2 .1 2 .2 2 .1 2 1.1 2 .4 2 .3 2 .8 2-.2 2 1.2 2-.6 2 1 2 1.2 2 0 2 1.1 2-.1 2 .5 2 .9 2 1.2 2-1 2 1.1 2 .7 2 1.1 2 0 2 1.2 2-.5 2 .7 2 .6 2 .1 2-.2 2 1.3 2 .1 2 .7 2 1.5 2-1 2 .6 2 .4 2 .6 2-.3 2 .9 2 .9 2-.1 2 .9 2 .6 2-.3 2-.5 2 1.6 2-.4 2 .4 2 .5 2 .1 2-.2 2 1.5 2-.6 2 .2 2 1.3 2 .8 2-.2 2 .3 2 .2 2 .5 2 .6 2-.5 2 .4 2 1.2 2-.5 2 0 2 .3 2 .9 2 .4 2-.7 2 1.7 2-.3 2-.1 2-.1 2 .9 2 .3 2-.3 2 .4 2 .7 2 .6 2-.3 2-.1 2 .9 2-.4 2 .6 2 .6 2 0 2-.7 2 .8 2 .1 2 .3 2 1.2 2-.7 2 .3 2 .2 2 .6 2-.3 2 .2 2-.1 2-.3 2 1.3 2 .1 2-.5 2 .2 2-.3 2 .4 2 1.1 2-1 2 .9 2 .3 2 .3 2 .7 2-1 2 .8 2 0 2-.6 2-.1 2-.2 2 1.3 2-.2 2 0 2 .6 2 .1 2-.9 2 .9 2-.3 2 .7 2-.4 2-.1 2 1.2 2-.6 2-.7 2 .6 2 0 2 1 2-.1 2 .3 2-.5"/>
<path stroke="#a6d96a" d="M89.7 454.7l2 .1 2-.6 2 0 2 1.1 2-.9 2 .5 2 .3 2-.6 2-.7 2 .2 2 .2 2-.1 2-.3 2 1.2 2-.5 2 .8 2-.8 2-.2 2 1.1 2 .3 2-.4 2 .6 2-.1 2-.5 2 .3 2-.8 2 .8 2-.3 2 0 2 1.8 2-.5 2 .7 2 0 2 .9 2-.5 2 .7 2-2.2 2-1.3 2-1.6M209.7 308.4l2-2.6 2-.3 2-.8 2-.2 2-.5 2 .5 2 .6 2 1.6 2 0 2 1.6 2 1.4 2 .2 2 1.2 2 1.4 2 .4 2 .5 2 1 2 .4 2 1 2 .5 2 2 2 1.1 2 .6 2 2.1 2-.5 2 1.2M263.7 325.5l2 .6 2 2.3 2 1.2 2 .9 2 1.7 2 .9 2 1 2 1.6 2 .8 2 .9 2 1.2 2 .4 2 .6 2 1.8 2 1.1 2 1.1 2 .2 2 1.1 2 1.3 2 1.2 2 .2 2 2 2-.3 2 1.9 2 1 2 1.9 2 .7 2 .8 2 1.7 2 .4 2 2.6 2 .7 2 1.1 2 1 2 .6 2 1.1 2 1.4 2 1.8 2 1.5 2 .2 2 2 2 .3 2 1.6 2 1 2 .7 2 1.1 2 1.8 2 1.4 2 .1 2 1.9 2 .4 2 1.7 2 .2 2 .9 2 0 2 .6 2 .8 2 1.2 2 .6 2 1.5 2 .2 2 .1 2 1.1 2 1.3 2-.2 2 .6 2 .4 2 .5 2 .6 2 .8 2 .8 2-.1 2 .3 2-.2 2 1 2 1 2 .6 2 .4 2 .2 2 .7 2 .8 2 .1 2 .6 2 0 2 .2 2 1.5 2 .2 2 .2 2 .9 2 1 2-.5 2 1.2 2 .6 2-.2 2-.2 2 1.1 2 1.3 2-.7 2 0 2 .3 2 .4 2 1.1 2 1.4 2 .4 2 .4 2 .7 2 .4 2 .2 2 .6 2 .4 2 .2 2 .3 2 .7 2 .4 2 .1 2 .9 2-.5 2 .9 2 .1 2 1.5 2 .4 2 1.1 2 .1 2 0 2 .1 2 1.4 2 .1 2 .2 2 .6 2 .3 2 .7 2 .3 2 .7 2-.7 2 .8 2 .3 2 .1 2 .5 2-.1 2 .4 2 .4 2 .2 2 0 2 1.1 2-.3 2 1.4 2-.2 2 .3 2 .2 2 .7 2 .3 2 .3 2 0 2 .2 2 .7 2-.5 2 1.2 2 0 2 .6 2 .5 2 .6 2 0 2 .5 2-.1 2 .2 2 .3 2 .3 2 .5 2-.3 2-.1 2 .1 2 .7 2 1.1 2-.1 2 0 2 .2 2 .2 2-.2 2 .1 2-.4 2 1.3 2-.8 2 1 2 0 2 .3 2-.5 2 .7 2 1.1 2-.7 2-.5 2 1 2 .2 2 .6 2-.9 2-.4 2 1 2 .5 2-.5 2 .1 2 .3 2 .2 2-.5 2 .5 2 .3 2 .4 2 .1 2 .5 2-1 2 .7 2 .1 2 .2 2 .7 2-.5 2 1.1 2 .1 2-.5 2 .1 2-1 2 1.1 2 0 2 .1 2-.4 2 .7 2-.1 2 .3 2-.1 2 .2 2 .2"/>
<path stroke="#a6d96a" d="M89.7 453.8l2-.2 2 0 2-.2 2 .2 2-.3 2 .3 2 .4 2-.4 2-.3 2-.3 2 .2 2 0 2-.3 2 .1 2-.4 2-.3 2 .8 2 .7 2 0 2-.1 2 .2 2 .4 2-.7 2 .6 2-.1 2-.4 2-.5 2 1.4 2-.5 2 .2 2-.3 2 1.4 2-.2 2 .7 2 .4 2 .4 2 .2 2 .2 2-.8 2-1 2-1.5M173.7 451.1l2-2.4M215.7 305.8l2-1.6 2-.7 2-.3 2 .2 2 1.9 2 0 2 1.2 2 2.2 2 .5 2 1.2 2 .5 2 .5 2 0 2 1.7 2-.2 2 1.4 2 .7 2 1 2 1.4 2 .9 2 .9 2 1 2 2.3 2 1.2 2 1 2 2.4 2 .7M271.7 330.6l2 .9 2 1.2 2-.1 2 1.8 2 .3 2 1.3 2 1.5 2 1.1 2 .3 2 .1 2 2 2 .2 2 2.3 2-.2 2 2 2 1 2 .6 2 .8 2 1.5 2 .5 2 1.3 2 1.8 2 .7 2 1.2 2 1.3 2 1.7 2 .3 2 1.6 2 1.2 2 1.1 2 1.2 2 1.7 2 .5 2 1.6 2 .9 2 1.3 2 1.4 2 1.1 2 1.3 2 1.3 2 .3 2 1.2 2 1 2 .3 2 1.9 2 .1 2 1.4 2 .5 2 1.7 2 .3 2 2.3 2 .8 2 .4 2 .3 2 .9 2 1.4 2-.5 2 .5 2 1.9 2 .9 2-.3 2 .5 2 .6 2 .3 2 .6 2 1 2 .3 2 .3 2 1.1 2-.6 2 .1 2 .5 2 1.4 2 .2 2 .6 2 .5 2 .1 2 1.1 2-.3 2-.2 2 1.3 2 0 2 .8 2 1.1 2 .6 2-.3 2 .5 2 .6 2 1 2-.1 2 .5 2 .6 2 .4 2 .7 2 .4 2 1.6 2 .1 2-.1 2 .5 2 .6 2 .3 2 1.1 2-.5 2 1 2 .2 2 .2 2 1 2 .1 2 1 2 .2 2 .4 2 1.1 2-.3 2 1.1 2 1.2 2-.3 2 .6 2 .1 2 .9 2-.3 2 1.5 2-.1 2 .3 2 .6 2 .6 2 0 2 .7 2 .3 2 0 2 .3 2 .2 2 .4 2 .5 2 0 2 .8 2 0 2 0 2 1.1 2 .8 2 .1 2-.3 2 1.1 2 .3 2-.2 2 .8 2 .3 2-.5 2 1 2 .7 2 .4 2-.4 2 .9 2-.3 2 .7 2 .1 2 .8 2-.1 2-.3 2 .5 2 .3 2 .6 2-.1 2 .9 2 .3 2 .3 2-.4 2-.3 2 1 2-.3 2 .5 2-.4 2 1.1 2 .3 2-.6 2 1.1 2-.5 2 .1 2 .4 2 .3 2 .8 2-.3 2-.2 2 .1 2 .1 2 .3 2-.5 2 .8 2 0 2 .6 2 .1 2 0 2 .2 2 .2 2 .2 2 0 2 .3 2 .1 2-.8 2 1.4 2-.1 2 .8 2 .3 2-.3 2 .6 2-.5 2 .3 2-.8 2 .3 2 .4 2 .8 2-.7 2-.3 2 1.3 2-.2 2-.2 2 0 2 .3 2 .3 2 .3 2-.1 2 0 2 .5 2-.7 2 .6"/>
<path stroke="#a6d96a" d="M89.7 454.3l2-.9 2 .1 2 .2 2 0 2-.6 2 .5 2 .2 2-.4 2-.3 2 .1 2 .1 2 .1 2 0 2 .5 2 .8 2 .4 2-.1 2-.3 2 .1 2-.2 2 .3 2-.2 2-.5 2 .6 2 0 2 .3 2 0 2 0 2 .8 2-.3 2 .4 2 0 2 1 2-.1 2 .9 2-1.2 2-.7 2-1M209.7 306.7l2-2.3 2-.6 2-.4 2-1.1 2 .2 2 .1 2 1 2 .1 2 1.6 2 .5 2 1 2 1.7 2 .7 2 .5 2 .5 2 1 2 1 2 .4 2 1.8 2 1.1 2 .1 2 .5 2 1.3 2 .8 2 1.6 2 1.8 2 1.2 2 1.8 2 .4M269.7 327.9l2 2 2 .5 2 1.6 2 1.4 2 .7 2 .6 2 1.1 2 .9 2 1.6 2 0 2 1.3 2 .2 2 1.5 2 .1 2 1.5 2 1.2 2 1.5 2 .7 2 1.4 2 1.4 2 .8 2 1.1 2 1.4 2 .8 2 1.1 2 1.4 2 1.6 2 1.2 2 1.1 2 .9 2 1.1 2 1 2 .9 2 1.6 2 1.3 2 1.4 2 1.2 2 1.3 2 .5 2 1.8 2 .2 2 1.2 2 1.1 2 1.5 2 1.3 2 .7 2 1.2 2 1 2 .3 2 .9 2 .6 2 1.3 2 .4 2 .8 2 1.3 2 .4 2 1.4 2 0 2 .7 2 .1 2 1.3 2 .8 2 .1 2 1 2 .9 2 1.2 2 .2 2 .2 2-.1 2 0 2 .5 2 .7 2-.2 2 1.2 2 1.1 2 .4 2 .3 2 .2 2 1.2 2-.2 2 1.1 2 .2 2 .5 2 .1 2 .3 2 .4 2 .7 2 .5 2 .3 2 1.3 2 .1 2 .7 2-.7 2 1.7 2 0 2 1.2 2 .2 2-.1 2 1.2 2 .3 2 .7 2 .9 2 .2 2 0 2 .2 2 1.5 2-.6 2 .1 2 1.1 2-.1 2 1.1 2 .7 2 0 2 .7 2 .3 2 .6 2 .5 2 .7 2-.5 2 2.2 2-.5 2 .4 2 .9 2 0 2 .6 2 .6 2 1.2 2-.2 2 0 2-.3 2 .9 2-.1 2 1.2 2-.6 2 .9 2-.2 2 .5 2 .1 2 1.1 2 .5 2-.2 2 .8 2-.7 2 1.1 2 .7 2 .7 2-.8 2 .2 2 .8 2 .4 2 .9 2-.7 2 .8 2-.1 2 0 2 .9 2 1 2-.3 2 .1 2 1.6 2-.8 2-.3 2 .4 2 1.1 2 .1 2-.3 2 .9 2 0 2 0 2-.2 2 .4 2 .2 2 .2 2 .5 2 .4 2-.8 2 1.1 2 .8 2 .1 2-.1 2-.6 2 .7 2-.6 2-.1 2 .7 2 .4 2 .4 2 1 2 0 2 0 2-.6 2 .5 2-.1 2-.8 2 0 2 1.2 2-.5 2 .4 2 .6 2 .1 2 .6 2 0 2 .2 2 .9 2-.7 2 .4 2 .1 2 .2 2-.3 2 .3 2 .2 2-.3 2 .2 2 0 2 .3 2-.5 2 .2 2 .5 2-.2 2 .5 2 .3 2-.5 2 .5 2 .3 2-.7"/>
<path stroke="#a6d96a" d="M89.7 453.0l2 0 2 0 2-1.1 2 .2 2 0 2 .2 2 .2 2 0 2-.4 2-.2 2 .7 2-.4 2-.3 2 0 2-.2 2 .2 2 .4 2 .5 2-.3 2-.2 2 1.3 2 .3 2-.7 2 1.3 2-1 2 .8 2-.8 2-.1 2 .6 2 0 2 .5 2-.3 2 .1 2 .5 2 1.1 2 1 2-1.2 2 .6 2-1.6 2-.3 2-2.2M215.7 303.9l2-2.3 2-.5 2-.4 2 .6 2 .6 2 1.1 2 .8 2 2.1 2 .8 2 1.1 2 .9 2 .6 2 .7 2 .4 2 1 2 .8 2 1.2 2 .7 2 1.5 2 1.6 2 .4 2 1 2 1.3 2 2.2 2 .8 2 2.6 2 .9 2 1.8 2 1.5 2 .6 2 .5 2 2.1 2 .6 2 .4 2 2.2 2 .1 2 .8 2 1.3 2 1 2 1.2 2 .4 2 1.9 2 .9 2 .7 2 1.1 2 .7 2 1.7 2 .7 2 1.1 2 1.1 2 1.7 2 .2 2 2.3 2 1 2 .6 2 1.5 2 .9 2 .9 2 1.8 2 1.5 2 1 2 1.7 2 1.5 2 .2 2 1.2 2 1.3 2 1.1 2 .4 2 1 2 1.8 2 .1M359.7 377.2l2 1 2 1.2 2 1 2 1.3 2 .3 2 1.2 2 .5 2 .8 2 .8 2 .3 2 .7 2 .9 2 .5 2 .6 2 .3 2 1.1 2 .6 2 .4 2 1 2 .3 2 .9 2 .7 2 0 2 .5 2 .9 2 .3 2 .6 2-.3 2 .8 2 .6 2 .8 2 0 2 .1 2 1.1 2 .8 2 .3 2 .2 2 .2 2 .2 2 1.4 2-.1 2 .8 2 .4 2 .9 2 .2 2 .1 2 1.1 2 .1 2 1 2 .1 2 1.5 2 .3 2-.5 2 .8 2 .7 2 .6 2 .8 2 .6 2 .3 2 .6 2 .7 2 .2 2 .3 2 .8 2-.6 2 1 2 .4 2 .4 2 0 2 1.3 2 .5 2 .7 2-.9 2 1.3 2 1 2-.4 2 .5 2 .7 2 .7 2 .4 2 .5 2 .7 2 .8 2-.6 2 .6 2-.3 2 .3 2 .9 2 .5 2 1 2-.7 2 .6 2 .1 2 .8 2 .3 2-.5 2 .9 2 0 2 .6 2 .9 2-.7 2 1.5 2-.1 2 .2 2 0 2 .8 2 0 2 .6 2 .9 2-.4 2 .7 2-.7 2 1.4 2-.3 2 .4 2 0 2 .2 2 1.2 2-.2 2 .2 2-.3 2-.8 2 1.4 2-.2 2 .5 2 .9 2-.2 2 .9 2 .1 2-.2 2-.2 2-.2 2 .7 2 .1 2 .2 2 .2 2-.1 2 .6 2-.4 2 0 2 .9 2 .3 2 .1 2 .2 2 .4 2 .8 2-.5 2 .2 2 .5 2 .2 2 0 2-.3 2 .3 2-.2 2 1.1 2-.8 2 .4 2 0 2-.6 2 .1 2 .6 2 .4 2 .2 2 .3 2-.1 2 .6 2 0 2 .2 2-.2 2 0 2 .3 2 .2 2 .4 2-1 2 .3 2 .9 2-.5 2 .8 2-.4 2 .6"/>
<path stroke="#a6d96a" d="M89.7 451.3l2 .4 2-.6 2 .3 2 .5 2 .1 2-.1 2 .5 2-.5 2 .5 2 .2 2-1.2 2 .1 2 .5 2-.3 2 .7 2 .2 2-.5 2-.6 2 1 2 .4 2-.9 2 1.1 2-.9 2 .1 2 0 2 .7 2-.6 2 .5 2 .3 2 1.2 2-.2 2-.1 2 .4 2 .5 2 0 2-.3 2-.7 2-.8 2-2.4 2-1.8M211.7 303.8l2-1.6 2-1.1 2-.8 2-.5 2 .8 2 .3 2 1.2 2 .4 2 1.8 2 1.5 2 .9 2 .5 2 1.4 2 .8 2 .1 2 1.9 2 .7 2 .6 2 .4 2 .9 2 .7 2 1.9 2 1.4 2 .2 2 1.9 2 2.6 2 1.1 2 1.4 2 1.1 2 1.9 2 1.5 2 1.5 2 .5 2 1.1 2 .3 2 1.9 2 .3 2 .7 2 1 2 1.2 2-.1 2 2.1 2 1.2 2-.2 2 .7 2 2.2 2 1.2 2 0 2 1.9 2 1.5 2 1.1 2-.3 2 2.2 2 1.6 2 .2 2 1.4 2 1 2 1.5 2 1.3 2 2.2 2 .2 2 1.9 2 1.3 2 .9 2 1 2 1.2 2 .8 2 1.8 2 .7 2 .6 2 2 2 .8 2 1.5 2 1.5 2 .5 2 1.5 2 .6 2 1.2 2 .9 2 1.3 2 1.4 2 .7 2 .3 2 .8 2 0 2 .3 2 .8 2-.1 2 1.3 2 .4 2 1.1 2 1.1 2 .2 2 0 2 1.9 2 0 2-.1 2 2 2 .2 2 .4 2-.2 2 .5 2 .5 2 .1 2 .2 2 1.4 2-.1 2 0 2 .7 2 .8 2 .6 2 .7 2 .3 2 0 2 .3 2 .2 2 1 2 .8 2 .5 2 1 2 1.1 2-.2 2 1 2 .2 2 .8 2 .2 2 .3 2 .7 2 0 2 .7 2 .7 2 .4 2 .4 2 .8 2 .2 2 .9 2-1 2 1.1 2 .4 2 .3 2 1.2 2-.3 2 .6 2 1.2 2 .5 2-.1 2 1 2 .7 2 0 2 0 2 1.8 2-.3 2-.5 2 1.1 2 1.1 2-.1 2 .5 2-.3 2 .6 2 .7 2-.4 2 1.1 2-.2 2 .4 2 .1 2 .1 2 1 2-.1 2 .6 2 1 2-.1 2 .2 2 .8 2 .3 2-.2 2 .4 2 .8 2 1.1 2-1.1 2 1.1 2 .4 2 0 2 .5 2 .2 2 .3 2 .2 2 .7 2 .8 2-.3 2 .7 2-.5 2 .9 2-.4 2 .5 2-.4 2 .5 2-.5 2 .9 2 .6 2 .8 2-.3 2 .1 2 .2 2 .5 2 .6 2-.7 2 .5 2 0 2 0 2 .6 2-.4 2 .9 2-.2 2 0 2-.1 2 .9 2-.3 2 .6 2 .7 2-.4 2-.2 2 .9 2-.2 2-.2 2 .6 2 .4 2-.5 2 0 2 .6 2 .6 2-.1 2 .4 2-.2 2-.3 2 .3 2 0 2 .7 2 .5 2-.1 2-.8 2 .5 2 .2 2-.5 2 1 2-.4 2 1.2 2-.7 2 .6 2-.5 2 0 2-.4 2 .9 2 .2 2-.6"/>
<path stroke="#a6d96a" d="M89.7 453.0l2 .1 2-.8 2 0 2 0 2 .1 2-1.2 2 .7 2-.3 2 .2 2-.2 2 .9 2-.5 2 0 2-.8 2 .7 2-.1 2 .5 2 .1 2-.1 2 .3 2 .9 2-.5 2-.3 2 1.1 2-1.1 2 .8 2 0 2-.1 2-.7 2 .6 2 0 2 .3 2 .7 2-.5 2 2.1 2-.4 2 .6 2-.5 2-.9 2-1.9 2-1.8 2-1.8M215.7 303.2l2-2.5 2-1.2 2-.2 2 1 2 .5 2 2.4 2 .4 2 1.1 2 1.3 2 .6 2 1.6 2 .5 2 .7 2-.3 2 1.9 2 0 2 1.4 2 .8 2 .8 2 .9 2 1.7 2 .8 2 1.3 2 1.5 2 1.8 2 2 2 1.6 2 1.7 2 .8 2 1.7 2 .6 2 .5 2 1.4 2 1.6 2 1.3 2 1.1 2 1.1 2 1 2 .7 2 .2 2 .6 2 1.7 2 .3 2 .9 2 1.4 2 1 2 1.4 2 .3 2 1.5 2 2.2 2 .2 2 1.5 2 .9 2 1 2 2.1 2 .9 2 1.7 2 .5 2 1.9 2 .9 2 .8 2 1.6 2 .7 2 1.9 2 1.3 2 1.7 2 1.4 2 .7 2 .8 2 1.2 2 1.3 2 1.2 2 1.3 2 .4 2 1.3 2 1 2 1.3 2 .3 2 .2 2 1.3 2 .7 2 1.3 2 0 2 1.7 2 1 2 .5 2-.1 2 .7 2 .6 2 .6 2 .7 2 .4 2-.9 2 1.4 2 .8 2 .6 2 1.2 2-.5 2 1 2 .7 2 0 2 .9 2-.1 2 .7 2 0 2 1 2 .6 2 0 2 .1 2 1.3 2 .2 2 .8 2-.4 2 1 2 .5 2 .5 2-.2 2 1.4 2 .3 2 1.3 2 .1 2 .5 2-.3 2 1.7 2 .4 2 .3 2 .6 2-.6 2 1.6 2 .4 2 .6 2 1.1 2-.3 2 .9 2 .4 2 0 2 1 2 .7 2-.4 2 1 2 .4 2 .4 2 .6 2 .4 2 .8 2-.5 2-.3 2 1.4 2 .3 2 .5 2 .5 2 .8 2 .4 2 .3 2 .5 2-.4 2 1.2 2 0 2 0 2 .3 2 .9 2-.9 2 1 2 .8 2 .1 2 0 2 1 2 0 2 .7 2-.2 2 .2 2 1.1 2 .7 2 .2 2 .3 2-.4 2 0 2 .8 2 .5 2 .9 2 0 2-.2 2 .5 2-.5 2 1.7 2-.6 2 .1 2 .5 2 .4 2 .2 2 .6 2-.2 2 .2 2 .3 2-.3 2 .9 2 .6 2 .9 2-.2 2-.2 2 .6 2 .4 2 0 2-.2 2 .7 2-.1 2 .3 2-.2 2 .6 2 .5 2 .1 2 0 2 .7 2-.2 2-.5 2 .2 2 .8 2-.4 2-.2 2 1 2-.2 2 0 2 .4 2 0 2 .4 2 .1 2-.4 2 .3 2 0 2-.1 2 .5 2-.1 2 .7 2 .5 2 .4 2-.2 2 0 2-.3 2 .5 2 .2 2-.1 2 .5 2-.4 2-.3 2 .1 2 .3 2 .6 2-.1 2 .6 2 0 2-.2 2 .2"/>
<path stroke="#66bd63" d="M89.7 455.1l2 .8 2-.9 2 .8 2-.5 2 .2 2-.1 2-.9 2-.4 2 .5 2 .2 2 .2 2-.2 2 1.2 2-.4 2-.9 2 .8 2 .1 2 .4 2-.8 2 .7 2 .3 2 .1 2 .7 2-.7 2-.6 2 .1 2 .8 2-.4 2 .2 2 .4 2 .5 2 .8 2 .2 2-.7 2 1.6 2-.4 2 0 2-1.7 2-.4 2-2.4 2-2.1M213.7 305.7l2-1.6 2-1.8 2-1.3 2-.3 2-.1 2 .4 2 1.4 2 .6 2 1 2 .9 2 1 2 .3 2 1.3 2-.2 2 0 2 1.5 2 1.5 2 .5 2 1.4 2 1.1 2 1.6 2 .8 2 1.3 2 1.5 2 1 2 1.4 2 .8 2 1.8 2 1.3 2 .4 2 1 2 1.5 2 1 2 .8 2 .6 2 1.1 2 1.8 2 .3 2 .9 2 .5 2 1.6 2-.2 2 1.4 2 1.6 2 .4 2 1.1 2 1 2 1.6 2 .8 2 .9 2 1.6 2 1.1 2 1.3 2 .8 2 1.5 2 .7 2 1.8 2 .7 2 .9 2 1.9 2 1.4 2 1.6 2 1 2 1.2 2 .6 2 2 2 .8 2-.6 2 2.5 2 1.1 2 .5 2 1 2 2.1 2 .2 2 1.5 2 1.4 2 1.1 2 1 2 .9 2 .3 2 1.1 2 .7 2 1.1 2 .2 2 .3 2 .5 2 .8 2 1 2 .3 2 1.4 2-.1 2 .9 2 0 2 1 2 .9 2 .3 2 .3 2 .6 2 .4 2 .2 2 1.3 2 .3 2 .6 2 .8 2 .6 2 .6 2 .7 2-.3 2 .2 2 .5 2 .7 2 .9 2 .1 2 0 2 .4 2 1 2 .2 2 1.7 2-.5 2 1.5 2 .1 2 .4 2 1 2 .3 2 .5 2 .6 2 .6 2-.5 2 1.9 2 .2 2 1 2-.4 2 .7 2 .3 2 1 2 .5 2 0 2 .5 2 1.5 2 .1 2 .3 2 .4 2 .6 2 .2 2 .6 2-.6 2 1.5 2 .1 2 .7 2 .1 2 1.4 2 .2 2-.2 2 .7 2 .4 2 .7 2-.1 2 1.2 2 .2 2 .7 2-.1 2 1.1 2 .8 2-.1 2-.3 2 .6 2-.1 2 .4 2 .6 2 .5 2 .6 2-.1 2 .1 2 .4 2 .5 2 1 2 .4 2 .4 2 .7 2 0 2 .2 2 .1 2 1.2 2 .6 2 .4 2-.8 2 .8 2 .1 2 .8 2 .4 2 .3 2 .4 2-.8 2 1.1 2-.6 2 .6 2-.2 2 .2 2 0 2 .6 2 .6 2 .1 2 .4 2 .7 2 .7 2-1 2 .8 2-.5 2 1.1 2 0 2 .2 2 .3 2 .1 2-.7 2 .6 2-.2 2 .6 2 .1 2 .3 2-.4 2 .7 2 0 2 .6 2-.3 2 .8 2-.8 2 .2 2 .1 2 0 2 .4 2 .9 2-.3 2 .3 2 .6 2-.1 2-.3 2 .4 2 .1 2 .1 2-.5 2 .4 2 .3 2 .2 2-.4 2 .6 2-.3 2-.2 2-.1 2 .8 2 0 2 .4 2-.1 2-.1"/>
<path stroke="#66bd63" d="M89.7 453.8l2 .3 2-.7 2 1 2-.6 2 .5 2-.6 2 .2 2-.8 2 .8 2 0 2-.4 2 .2 2 1.2 2-.5 2 .6 2-.1 2-.7 2 .4 2 .4 2-.4 2 .8 2-1 2 .9 2-.9 2 .6 2 .3 2 .8 2 .1 2 .4 2 .6 2 .6 2 .6 2-.6 2 .3 2 0 2-.7 2-1.7 2-1.3M209.7 303.2l2-1.3 2-.9 2-.8 2-1 2 .5 2-.4 2-.6 2 1.2 2-.2 2 1.6 2 .7 2 .5 2 1.5 2 .5 2 1 2 .2 2 1.1 2 .7 2 .7 2 1 2 .7 2 1 2 1.3 2 1.6 2 .7 2 1.5 2 1 2 2.4 2 .8 2 1.8 2 .2 2 2.6 2 1.4 2 .4 2 .8 2 .3 2 1.2 2 .9 2 .6 2 .4 2 1.8 2 .9 2 .3 2 1.9 2 .5 2 1 2 2 2 .4 2 .7 2 2.1 2 .5 2 .3 2 1.8 2 1.5 2 .8 2 1 2 .9 2 1.6 2 .7 2 1.2 2 1.1M333.7 356.5l2 .4 2 .7 2 1.7 2 1.5 2 1.3 2 1.7 2 1.2 2-.3 2 2.1 2 1 2 1.3 2 .9 2 .9 2 1.6 2 .1 2 1.1 2 1.2 2 1.7 2 0 2 1.2 2 .9 2 1.2 2 .6 2 .8 2 0 2 1.2 2-.3 2 .8 2 1.1 2 .9 2 1.4 2-.4 2 .8 2-.1 2 1.2 2 .2 2 .8 2 .1 2 .8 2 .6 2 .7 2 .5 2 .3 2 1 2 .6 2 .4 2 .4 2 .4 2 .8 2-.3 2 .5 2 .9 2 .6 2 .4 2 .3 2 .7 2 .6 2 1.1 2 0 2 1 2-.2 2 1.1 2 .2 2 .5 2 .5 2 .6 2 .7 2 .7 2 .7 2 .7 2 .1 2-.2 2 1.6 2 .5 2-.1 2 .9 2 .6 2 .9 2 .3 2 .5 2 .2 2 .3 2 1.2 2-.2 2 .9 2 .9 2-.4 2 1 2 .8 2-.8 2 .6 2 .9 2 .6 2 .4 2 .7 2 .3 2 .8 2 .1 2-.2 2 .6 2 .8 2 .4 2 1 2-.3 2 .7 2 0 2 .4 2 .4 2 .3 2 .4 2 .8 2-.2 2 1 2 0 2 .1 2 .7 2 .1 2-.4 2 .6 2 1 2 .1 2 .8 2 .4 2 .2 2 .5 2 .8 2-.1 2 .6 2 .1 2 1 2-.6 2 0 2 .8 2 .7 2-.8 2 .7 2-.3 2 .7 2 .2 2 .1 2 .4 2 .5 2 0 2-.2 2 1.5 2-.7 2 .6 2-.6 2-.1 2 .8 2 .3 2 .9 2-.9 2 .4 2 .5 2 0 2 .8 2-.5 2 .6 2-.1 2 .7 2 0 2 .8 2-.7 2 0 2-.1 2 .1 2 0 2-.3 2 .6 2 .5 2 .2 2 .2 2-.5 2 1.3 2-.5 2-.4 2 .8 2 .7 2-.6 2 .1 2 .5 2-.3 2 .1 2 .2 2-.2 2 .6 2 0 2-.1 2 .6 2-.5 2 .1 2-.2"/>
<path stroke="#66bd63" d="M89.7 453.6l2-.8 2 .7 2 .1 2-.3 2 0 2 .1 2-.1 2-.3 2-.5 2 0 2 0 2-.1 2 .2 2 .7 2-.3 2 .6 2-.5 2 .7 2-.4 2 .2 2 1.1 2-.6 2 .2 2-.4 2 .2 2-.3 2 .4 2 .1 2 .2 2 .6 2-.5 2 1 2-.1 2 1.4 2 .3 2 .6 2-.4 2-1.3 2-1.6 2-2.3 2-1.9M215.7 300.5l2-1.1 2-.4 2-.3 2 .3 2-.5 2 1.7 2 .3 2 .3 2 2.1 2 .5 2 1 2 1 2-.3 2 1.1 2 .2 2 1.1 2 .8 2 1.6 2 1.5 2 1.5 2 .5 2 2.4 2 .8 2 1.3 2 .9 2 1.8 2 .6 2 1.7 2 1 2 1.5 2 1.2 2 .7 2 1.1 2-.2 2 1.3 2 1.1 2 1.7 2 .5 2 1.1 2 .9 2 .2 2 .9 2 .7 2 1.5 2 1 2 .9 2 1.3 2 1.4 2 1.4 2 .2 2 1.8 2 .8 2 1.1 2 1.3 2 1.7 2 .9 2 1.7 2 .6 2 1.2 2 1.5 2 .5 2 2.6 2 1 2 1.4 2 1.5 2 .4 2 1.6 2 1 2 1.3 2 1.1 2-.1 2 1.5 2 .3 2 2.3 2 1.4 2 .3 2 .9 2 .7 2 1.7 2 .9 2 .8 2 .8 2 .3 2 1.5 2 .2 2 .2 2 .9 2 .2 2 .7 2 1.6 2-.1 2 .9 2 .2 2 .9 2 .1 2 1 2 .3 2 .4 2 1.2 2 .4 2-.1 2 .3 2 .8 2-.1 2 .9 2 .8 2 .5 2 .2 2 .9 2-.1 2 .9 2 1.1 2-.7 2 1.4 2 .7 2-.3 2 .5 2 .9 2 .9 2 .2 2 .3 2 .1 2 .9 2 1.3 2-.5 2 1.3 2 .1 2 1.4 2 .2 2 .1 2 1 2 .3 2 0 2 .5 2 1.2 2 1.1 2 .2 2 1 2-.2 2 .9 2 .4 2 .3 2 .5 2 .4 2 .2 2-.2 2 1.8 2 .1 2 .2 2 .5 2 .8 2-.2 2 0 2 .9 2 .9 2 .6 2-.2 2 .1 2 1.2 2 .1 2-.2 2 0 2 .8 2 .8 2 0 2 1.2 2-.2 2 .9 2 .8 2 .2 2-.6 2 .8 2 .2 2 1 2 .6 2 .1 2 0 2 1.1 2-.2 2 1.1 2-.4 2 .7 2 .5 2 .4 2 .5 2-.1 2 1 2-.6 2 .5 2-.3 2 .6 2 .4 2 .6 2-.5 2 .4 2 .8 2 .1 2 .3 2 1.5 2-.5 2-.5 2 0 2 .8 2 .1 2 .4 2 .3 2 .4 2-.1 2 .1 2 .9 2-.3 2 .6 2-.3 2-.6 2 .2 2 .6 2 .5 2-.2 2 .2 2 .1 2 .9 2-.6 2 .5 2-.4 2 .5 2 .8 2-.6 2 0 2 .4 2 .2 2 1.1 2-.1 2-.3 2-.3 2 .8 2-.9 2 1 2-.6 2 1.3 2-.4 2 .3 2-.5 2 .2 2-.1 2 .4 2-.2 2-.4 2 0 2 .5 2-.8 2 1 2-.2"/>
<path stroke="#66bd63" d="M89.7 451.6l2-.5 2-.4 2 .4 2 .1 2 .1 2 .1 2-.5 2 0 2 .9 2-.4 2-.4 2 .1 2 .6 2-.1 2 .2 2-.4 2 .7 2 0 2 .7 2 0 2-.3 2-.4 2 .3 2-.9 2 .3 2 .9 2-.6 2 .7 2 .7 2 .6 2 .6 2 .3 2-.2 2 0 2 .2 2-.8 2-1.6 2-1.6 2-2.3M209.7 301.9l2-1.3 2-1.6 2-.6 2-.9 2-.7 2-.5 2 .2 2 .3 2 1.1 2 1.4 2 .9 2 1.1 2 1 2 1.1 2-.1 2 2 2-.5 2 1.4 2 .4 2 .3 2 2.2 2 1.3 2 .8 2 .8 2 1.6 2 1.2 2 2.1 2 .9 2 1.5 2 .8 2 1.5 2 1.1 2 .7 2 1 2 1.6 2 .2 2 1.9 2 .2 2 1.6 2 .7 2 .6 2 1 2 .6 2 1 2 1.1 2 .8 2 1.8 2 .1 2 1.6 2 1.2 2 .6 2 1.7 2 1.4 2 1.5 2 .5 2 1.3 2 1.4 2 .9 2 .9 2 .8 2 2.2 2 1.3 2 .3 2 2.3 2 .7 2 1.7 2 1.7 2 1 2 .8 2 1.1 2 .9 2 1.7 2 1.7 2 0 2 2.3 2 .6 2 1.2 2 .4 2 1.3 2 .5 2 .9 2 .9 2 .5 2 1.2 2 .8 2 .4 2 .4 2 1.8 2-.3 2 1.5 2 .2 2-.1 2 1.2 2 .7 2 .8 2 .8 2 1 2 .8 2 .3 2 .4 2 .2 2 .6 2 .7 2 .5 2 .4 2 .7 2 .1 2 .4 2 .6 2 .1 2 1 2 .4 2 1.1 2 .3 2 .2 2 .4 2 .5 2 .6 2 .5 2 .4 2 1.1 2 .4 2 .8 2 1.3 2-.4 2 .9 2 .9 2 .4 2-.6 2 .7 2 .9 2 .5 2 .1 2 .7 2 .8 2 1 2 .1 2 1.5 2-.8 2 1.7 2-.5 2 .3 2 .6 2 .5 2 .3 2 1.4 2 .2 2 1 2 .8 2-.8 2 1.3 2-.2 2 .7 2 .8 2 .4 2 .2 2-.6 2 1.3 2 1 2 .3 2-.1 2 .5 2 .7 2 .5 2 .2 2-.3 2 1.8 2-.5 2 .9 2 .1 2 .2 2 .7 2 .4 2 .4 2 .7 2 0 2 .2 2 .1 2 .6 2 .5 2 .3 2-.2 2 .4 2 .9 2-.4 2 1.3 2 0 2 1 2-.6 2 .3 2 .3 2 1.9 2-.9 2 .6 2 .6 2 .1 2 .2 2 1 2 0 2-.2 2-.1 2 .4 2 .4 2-.6 2 .2 2 .3 2 1.3 2-.2 2 1 2-.2 2 .8 2 .1 2-.7 2 .2 2 .6 2-.5 2-.1 2 .1 2 .1 2 .7 2 .6 2-.3 2-.1 2 .5 2 .5 2-.2 2-.9 2 .8 2 .3 2-.1 2 1.3 2 .2 2-.5 2 .7 2 .1 2 .1 2-.4 2 1 2-1.2 2-.5 2 1.4 2-.2 2 0 2 .1 2 .5 2 .4 2 .1 2-.5 2-1 2 1.4 2-1.1 2 1.5 2-.6 2-.3 2-.2"/>
<path stroke="#66bd63" d="M89.7 454.5l2-1.3 2-.1 2 .5 2-.3 2 .6 2-.2 2-.6 2-.6 2 .2 2 .5 2 .3 2-.8 2 .2 2 .2 2-.3 2 .3 2 0 2 1.4 2 0 2-.6 2-.2 2 1.4 2-1.3 2 1 2-.7 2-.3 2 .7 2-.1 2 .3 2 .6 2-.5 2 1.1 2 .1 2-.3 2 .9 2 .9 2-.7 2-1.2 2-.5 2-2.3 2-1.8 2-2.6M215.7 299.8l2-2 2-.2 2-.1 2-.7 2 .8 2 1.1 2 1.2 2 .7 2 .6 2 1.1 2 .1 2 1.6 2 .5 2 .9 2 1 2 .6 2 .7 2 1.3 2 .8 2 1.1 2 1.6 2 1.3 2 1.8 2 1.3 2 1.4 2 1.2 2 .6 2 1.8 2 1.3 2 .9 2 0 2 2.6 2 .1 2 1.6 2 .4 2 1 2 1.4 2 0 2 1.2 2 1.2 2 .7 2 .8 2 1.3 2 1.3 2 .9 2 1.5 2 1.3 2 1.6 2 .8 2 .8 2 .7 2 1.7 2 .6 2 .8 2 1.2 2 .9 2 1.1 2 1.4 2 1.7 2 1.4 2 .9 2 1.5 2 .9 2 1.3 2 1.8 2 1 2 1.9 2 .7 2 .9 2 1.2 2 1.5 2 .7 2 1.1 2 .5 2 .8 2 1.6 2 .4 2 1.2 2 1.5 2 .5 2 1.1 2 .7 2 .2 2 .2 2 1.9 2 .9 2 .6 2 .9 2 1.3 2-.5 2 .7 2 .1 2 .9 2-.3 2 1.1 2-.2 2 .8 2-.2 2 1.8 2 .3 2 .6 2 1 2 .4 2 .3 2 .3 2 .7 2 .7 2 .1 2 .3 2 .5 2 1 2 .5 2 0 2 .4 2 1.2 2-.3 2 1.4 2 .9 2 0 2 .5 2 .5 2 .4 2 1.3 2 .9 2-.4 2 .7 2 .8 2-.3 2 1.2 2 .3 2 1.2 2 .2 2 .5 2-.2 2 1 2 .8 2 .1 2 .4 2 .7 2 .8 2 .3 2 .4 2 .3 2 .7 2 1.2 2 .6 2 0 2 .7 2 .4 2 0 2 .7 2 .1 2 .3 2 .8 2 .3 2 .6 2-.4 2 1.7 2-.6 2 .7 2 .7 2 .1 2 .7 2 .4 2 .4 2 .5 2 .8 2 .7 2 0 2 .5 2 1.1 2-.6 2 .9 2-.5 2 1.5 2-.4 2 .3 2 0 2 .7 2 .8 2 .2 2 .1 2 1.5 2 0 2-.2 2 0 2 .2 2 .2 2 .7 2 .2 2-.1 2 .4 2 .3 2 .3 2 .6 2 .5 2-.2 2 .3 2 .9 2-.3 2 0 2 .5 2 .5 2 .2 2-.2 2 .3 2 .2 2-1 2 .9 2 .2 2 .6 2 .1 2 .7 2 .2 2-.1 2-.4 2-.2 2 .8 2 .1 2 .6 2 .1 2 .4 2-.2 2 1 2-.8 2 .5 2-.2 2 .4 2 .3 2-.1 2 .3 2-.3 2 0 2 .2 2-.7 2 1.1 2 .4 2-.5 2 .1 2 .2 2-.1 2 .4 2-.3 2 .7 2-.3 2 .4 2-.2 2 .3 2-.2 2 .7 2-.5 2 .3"/>
<path stroke="#66bd63" d="M89.7 452.6l2 .6 2-1.1 2 .1 2 .3 2 .1 2-.4 2 0 2-.4 2 .2 2-.5 2 .7 2 .1 2 .6 2-.2 2-.2 2 .5 2-.1 2-.3 2 .3 2 .6 2 .1 2 .3 2-.5 2 .2 2-.6 2 .8 2 0 2 .9 2-.3 2 .3 2 0 2 1.2 2-.4 2 .3 2-.3 2-.4 2-1.2 2-1.3 2-2.4M209.7 301.5l2-1.5 2-2.2 2-.3 2-1.8 2-.4 2 .1 2-.5 2 1 2 .9 2 .9 2 1 2 1.8 2 .3 2 1.1 2 .6 2 .7 2 .7 2-.1 2 1.5 2 .8 2 .8 2 1.8 2 .4 2 1.4 2 1.2 2 1.5 2 1.6 2 .9 2 1 2 1.8 2 .9 2 1.9 2 1.7 2 .5 2 2.1 2 0 2 .4 2 1.5 2 .4 2 1.4 2 .9 2 .8 2 1.3 2 .9 2 .7 2 .7 2 1.6 2 1 2 2 2 .7 2 .8 2 1.1 2 .5 2 .4 2 1.9 2 2.2 2 1.1 2 1.2 2 .5 2 1.4 2 1.3 2 1.7 2 1.8 2 .7 2 1 2 1.3 2 .5 2 2.2 2 .3 2 1.7 2 1.1 2 2.2 2 .8 2 .4 2 .9 2 1.7 2 .8 2 .9 2 1.6 2 .5 2 1.6 2 .5 2 1.4 2 .1 2 1.3 2 .1 2 .4 2 .6 2 1.4 2 1 2 .3 2 1.3 2 .2 2 1.5 2 0 2 .7 2 .7 2 .2 2-.2 2 .7 2 .7 2 .1 2 .5 2 1 2 .4 2 .7 2 .4 2 .2 2 .8 2 .9 2 .5 2 .1 2 .3 2 .2 2 1.1 2 .7 2 .4 2 .3 2 .6 2 .6 2 .6 2 .3 2 1 2 .2 2 .3 2 .9 2 1 2 .3 2 .2 2 .9 2 .5 2 .5 2 .2 2 .9 2 .3 2 .6 2 .5 2-.1 2 0 2 1.5 2 .5 2 .7 2 .6 2 .6 2 .8 2 .9 2 .2 2 .6 2 .9 2-.5 2 .6 2 .5 2 .6 2 .4 2 1 2 .1 2 .5 2 .6 2 .8 2-.3 2 .6 2 .2 2 .4 2-.2 2 1.5 2-.3 2 0 2 .6 2 .8 2 .1 2 .2 2 1.2 2 .1 2 .8 2-.2 2 .8 2 .3 2 0 2 .7 2-.1 2 .6 2 0 2 1.3 2 .2 2 0 2-.1 2 .7 2-.3 2 1.5 2 .1 2 .3 2 .8 2-.7 2 .9 2 1.4 2-.3 2 .2 2 .4 2-.8 2 .6 2 .3 2 .4 2 0 2 0 2 .8 2-.7 2 0 2 .1 2 .9 2-.3 2 .8 2 .6 2 0 2-.2 2 .4 2-.3 2 .7 2 .3 2 .5 2 .3 2 .1 2 .7 2 .2 2-.2 2-.1 2 .4 2-.1 2 .3 2-.3 2 .2 2-.3 2 1.2 2 .1 2 .2 2-.1 2-.6 2 .5 2-.5 2-.2 2 .9 2 .2 2 .2 2-.2 2-.2 2 .4 2 .2 2 .2 2 .4 2 .4 2-.5 2-.4 2 0 2 .8 2 .3 2-.3"/>
<path stroke="#66bd63" d="M89.7 452.7l2 .8 2-.4 2-.2 2 .2 2 0 2-.5 2 1.2 2-.9 2-.2 2-.4 2 0 2 .3 2 .8 2-.3 2 .5 2 .3 2-.5 2 .8 2-.3 2-.3 2 .3 2-.6 2-.1 2 .7 2-.1 2-.3 2 1.2 2-1.4 2 .2 2 .2 2 .3 2 .9 2 1.2 2 .4 2 .1 2 .8 2-1.5 2-.5 2-1.6 2-1.1 2-2.1 2-2.2M217.7 294.7l2-1 2-.3 2-.2 2 .7 2 1 2-.1 2 1.8 2 .8 2 .6 2 1 2 1.6 2 1.1 2 .1 2 1.1 2 .6 2 1.5 2 .4 2 1.6 2 .8 2 .7 2 1.3 2 1.6 2 1.3 2 1.6 2 1.7 2 .3 2 2.4 2 .6 2 .8 2 1.6 2 .8 2 1.2 2 1.1 2 .7 2 1.6 2 .2 2 .9 2 1.4 2 1 2 .5 2 1.7 2 1 2 .5 2 2.1 2 .8 2 1.3 2 .5 2 1.5 2 1.7 2 .3 2 1.3 2 .9 2 1.9 2 .3 2 2.1 2 1.2 2 1.2 2 1.3 2 1.8 2 .6 2 1.6 2 1.1 2 1.5 2 .8 2 1.5 2 .1 2 1.3 2 1.5 2 1.5 2 .9 2 2 2 .2 2 .6 2 2.2 2 .4 2 .9 2 .8 2 1.6 2 .5 2 .8 2 1.2 2 .8 2 .8 2 .2 2 .2 2 1.5 2 .6 2 .6 2 1.2 2-.3 2 1.3 2 .1 2 .1 2 1.7 2 .1 2 .7 2 1.1 2 .4 2-.1 2 .8 2 .7 2 .1 2 .8 2 .2 2 .2 2 0 2 1.3 2 .8 2 .8 2 .5 2 .3 2-.2 2 1 2 .3 2 .1 2 1.4 2 .7 2 .5 2 .5 2-.2 2 .9 2 .8 2 .4 2 .5 2 .6 2 .7 2 1.1 2 .1 2 1 2 .4 2 .3 2 .7 2 .4 2 .7 2-.3 2 1.6 2 .6 2-.2 2 .4 2 .8 2 .4 2 1.1 2 .6 2 .2 2-.9 2 .2 2 1.4 2 .5 2 .7 2 1 2 .6 2 .3 2-.2 2 .5 2 .5 2-.1 2 .9 2 .3 2 .4 2 1.6 2-.5 2 .2 2 .9 2 .6 2 .5 2-.4 2 1 2-.1 2 .8 2 .1 2 .8 2 1.5 2-.6 2 .4 2 .3 2 .7 2 .3 2-.6 2 .9 2 .1 2 .6 2 .1 2 .5 2 .2 2 .8 2 .6 2-.1 2 .8 2 .4 2-.3 2 .5 2 .1 2 .2 2 1.2 2-.7 2 .7 2 .2 2 .3 2 .3 2 0 2-.2 2 .8 2 .3 2 0 2-.2 2 .7 2 0 2-.3 2 .8 2 .2 2 0 2-.1 2 .6 2 .3 2-.2 2 .4 2 .7 2-.2 2 0 2-.1 2 .5 2 .4 2 .2 2-.8 2 1.3 2-.1 2-.4 2 .6 2 .7 2 .2 2-.1 2 .6 2-.8 2 .5 2 .2 2 .6 2-.5 2 .1 2 0 2 .5 2-.5 2-.2 2 0 2-.1 2-.4 2 1.2 2 .4 2-.8 2 .9 2-.3 2-.1"/>
<path stroke="#66bd63" d="M89.7 451.4l2 0 2 .7 2-.5 2-.8 2 .8 2 0 2 .9 2-1 2 .3 2-.5 2 .6 2-.2 2 .3 2 .4 2-.4 2 .3 2-.7 2 .6 2 .2 2-.4 2 .8 2-.2 2-.5 2-.2 2-.4 2 1.2 2-.7 2 1.3 2-.2 2 1.7 2-1.2 2 1.1 2 0 2 1 2-1.6 2-.1 2-2.2 2-1.5 2-2M211.7 298.2l2-1.2 2-1.2 2-.1 2-.6 2-.6 2 .5 2 .8 2 .9 2 .9 2 .7 2 1.3 2 .4 2 .4 2 .3 2 1.3 2 .7 2 .7 2 .6 2 1.6 2 .4 2 1.8 2 .8 2 2.2 2 .2 2 1.7 2 1 2 1.8 2 1.9 2 .6 2 2 2 .8 2 1.3 2 1 2 1.7 2-.7 2 1.9 2 .7 2 .8 2 .5 2 1.5 2 1.4 2 .3 2 1.1 2 1.3 2 .4 2 1 2 1.3 2 1.5 2 1.2 2 .6 2 .9 2 1.5 2 .8 2 1.1 2 1.7 2 .4 2 1.6 2 1.9 2 1 2 1.6 2 1.3 2 1.4 2 1.2 2 1.7 2 1 2 1 2 .8 2 2 2 .5 2 .7 2 2.3 2 .8 2 1.1 2 .8 2 1.9 2 .5 2 1.2 2 1.1 2 1.1 2 .1 2 .5 2 2 2-.5 2 1.5 2 .5 2 .8 2 .6 2 .8 2 1.7 2 .2 2 .8 2 .6 2 .3 2 .6 2 1.3 2-.1 2 .9 2-.1 2 .1 2 .7 2 1 2 .7 2 0 2 .9 2 .5 2 .8 2 .1 2 0 2 1.3 2 .9 2 1.3 2-.2 2 .7 2 .1 2 .1 2 1.2 2-.6 2 .9 2 .5 2 1.7 2-.7 2 1 2 .5 2 .8 2 .2 2-.1 2 1.4 2 .4 2 .6 2 .6 2 .6 2 .7 2-.1 2 .9 2 .9 2 .7 2 .3 2 .5 2 .2 2 .7 2 .4 2 .8 2 .2 2 .6 2 1.2 2-.1 2 1.3 2-.1 2 .3 2-.3 2 1 2 .7 2 .3 2 .6 2-.2 2 .4 2 1 2 .2 2 .8 2 1.2 2 .2 2-.2 2 .5 2 1 2-.2 2 .4 2 .9 2-.2 2 .6 2 .3 2-.3 2 1.5 2-.1 2 .7 2 .4 2 .3 2 .4 2 1 2 0 2-.1 2 .6 2 .6 2 .5 2-.1 2 1 2 .5 2 .4 2-.3 2 .9 2-.7 2 .6 2 .2 2 1 2-.2 2 .8 2-1 2 1.1 2 .4 2 .5 2-.9 2 .8 2 1.2 2 .5 2-.4 2-.2 2-.3 2 .3 2-.5 2 .8 2-.2 2 .6 2 1.1 2-.8 2 .6 2 .7 2 .4 2-.4 2 .2 2 .4 2 .4 2-.5 2 .2 2 .1 2 0 2 .3 2 .6 2-.1 2-.9 2 1.1 2 0 2 .7 2-.2 2-.2 2 .8 2 .1 2-.1 2 0 2 .6 2-.4 2 .4 2 .2 2 .2 2 .1 2 .3 2 .4 2-1.1 2 .6 2 .3 2-.3 2 .1 2 .1 2-.2 2 .2 2 .5"/>
<path stroke="#66bd63" d="M89.7 454.3l2-.7 2 .1 2 .3 2-.1 2-.8 2 .1 2 0 2-.4 2 .7 2-.7 2 .5 2 .7 2-.4 2 0 2 .6 2-.2 2-.6 2 .3 2-.4 2 1.5 2-.5 2 1.2 2-1.2 2-.1 2-.4 2 1.1 2 .5 2 0 2-.9 2 .3 2 1.4 2 .7 2 .3 2 0 2 1 2-.1 2 0 2-1.6 2-1.8 2-.9M171.7 451.1l2-2.2M217.7 294.5l2-1.6 2-1.2 2 .7 2 .4 2 .3 2 1.1 2 2.2 2 .9 2 1.3 2 .5 2 .1 2 .3 2 1 2 1.3 2 .5 2 .1 2 1.7 2 2.4 2 .1 2 2.4 2 1.1 2 1.3 2 1.2 2 1.6 2 1.1 2 .9 2 1.2 2 1.2 2 1 2 1.4 2 1.2 2 1.3 2 .6 2 1.3 2 .5 2 1 2 1.1 2 1.7 2-.4 2 2.2 2 .5 2 1.6 2 .4 2 1 2 1.1 2 .9 2 1.7 2 .7 2 1.4 2 1.4 2 .9 2 .7 2 2.3 2 .5 2 1.2 2 1.8 2 .5 2 1.5 2 .9 2 1.7 2 1 2 1.8 2 1.1 2 1.3 2 .8 2 1.6 2 1.6 2 .8 2 2.1 2 .5 2 1.7 2 1.1 2 1.4 2-.3 2 2.2 2 .3 2 1.4 2 .6 2 .8 2 .7 2 .4 2 1.6 2 .9 2 .4 2 1.4 2-.1 2 .2 2 .9 2 .3 2 1.7 2 .1 2 .4 2 1 2 0 2 1.1 2-.1 2 1 2 .4 2 .4 2 .3 2 1.2 2 .3 2 .9 2 .4 2 .1 2 .6 2 1 2 .2 2 .7 2-.2 2 1.7 2 .2 2 .3 2-.2 2 .4 2 1.1 2 .8 2 .3 2 .7 2 .6 2 .3 2 1 2-.4 2 1.4 2 .2 2 .9 2 .1 2 .9 2 .2 2 1.4 2 0 2 1.1 2 .4 2 .1 2 .5 2 1.1 2 0 2 .8 2 .7 2 .6 2-.1 2-.2 2 1.4 2-.2 2 .7 2 .1 2 .9 2 1 2 .6 2-.3 2 1.4 2 0 2 1.4 2 0 2 .5 2-.4 2 .6 2 .6 2 1 2 .4 2 .1 2 .2 2 .1 2 .7 2 .5 2-.1 2 1.1 2-.1 2 .7 2 .6 2 .4 2-.1 2 1.3 2-.3 2 1.1 2-.1 2 .1 2 .5 2 .7 2-.3 2 1 2 1 2 0 2-.1 2 .7 2-.6 2 .9 2 .3 2 .9 2 0 2 .1 2 .6 2 .3 2 .4 2 .4 2-.4 2 .9 2-.6 2 .7 2 .6 2 .6 2-.6 2 .1 2 .8 2-1 2 .3 2 0 2 .7 2-.2 2 1 2-.8 2 1 2 .4 2-.3 2 .6 2-.3 2 .4 2-.6 2 .6 2 .6 2-.1 2 1.1 2-.5 2 1.1 2-.6 2 1.4 2-.6 2 .3 2-.1 2 .2 2 .1 2-.1 2-.3 2-.1 2 .3 2-.2 2 1.3 2-.4 2-.2 2 .6 2-.9 2 .1 2 .3 2 .5 2-.8 2 1.4 2-.3 2 .6 2-.3 2-.5 2 .7"/>
<path stroke="#66bd63" d="M89.7 453.4l2 0 2-.8 2 .3 2-.4 2-.4 2 .6 2-.2 2 .4 2-.5 2-.1 2-.7 2 .9 2-.1 2 .7 2-.5 2 .8 2 .1 2-.8 2 .8 2-.2 2 .4 2 0 2-.2 2 1 2-.6 2-.6 2 .3 2 .7 2 .9 2-.6 2 .7 2 .6 2-.3 2 .5 2-.2 2-.7 2-.9 2-2.4 2-1.5M211.7 297.2l2-1.8 2-2 2 0 2-1 2-.4 2 .3 2 .4 2 1.2 2 .5 2 1.1 2 1.1 2 1 2 .4 2 .7 2 .8 2 .6 2 .9 2 1 2 1.5 2 1.4 2 1.2 2 1.5 2 .6 2 1.6 2-.1 2 1.9 2 1.5 2 1.9 2 1.6 2 1.2 2 1.7 2 1 2 .3 2 1 2 .8 2 1.2 2 1.5 2 .6 2 .5 2 1.3 2 .4 2 2.2 2-.1 2 1.5 2 .8 2 .3 2 2.1 2 1 2 .9 2 1.4 2 1.7 2 .4 2 1.1 2 1.2 2 1.7 2 2 2 .6 2 2.1 2 .8 2 1.7 2 .7 2 .9 2 .8 2 1.7 2 1.1 2 .9 2 1.7 2 1.1 2 1.3 2 1.8 2 1.1 2 1.5 2 .9 2 .7 2 1.7 2 .9 2 .9 2 1.4 2 .2 2 1.7 2-.3 2 1.1 2 1.1 2 1 2 .9 2 1 2 0 2 .6 2 1.1 2 .6 2 .4 2 .3 2 1 2 .3 2 .7 2 1 2 1.3 2-.5 2 1.5 2 .1 2-.3 2 1.4 2 .4 2 .5 2 2.1 2-.6 2 .8 2-.1 2 .6 2 .5 2 .5 2 .7 2 1.1 2-.1 2 .4 2 .6 2 .3 2 .6 2 .9 2 .2 2 .4 2 .5 2 1.3 2 0 2 1.5 2 .1 2 .3 2 .9 2 1.1 2 .4 2-.1 2 .3 2 1 2 .8 2 .7 2 .1 2-.1 2 1 2 .3 2 .2 2 .5 2 1.5 2 .3 2 .4 2 .5 2 .8 2 .1 2 1.1 2 0 2 0 2 1.7 2-.3 2 .8 2 .2 2 .3 2 .2 2 1 2-.5 2 1.3 2 .1 2 .2 2 .9 2 .2 2 .2 2 1.4 2-1 2 .8 2 .9 2 0 2 .7 2-.2 2 1.1 2-.3 2 1 2 1.3 2-.1 2 .7 2 .1 2 1.2 2-.6 2 .8 2 0 2 1 2 .1 2 .6 2 .7 2 .3 2 .3 2 0 2 0 2-.5 2 1.2 2 0 2 .8 2 0 2 .6 2-.3 2 .9 2-.6 2 .3 2-.5 2 .8 2 1.4 2-.9 2 .1 2 .5 2 .5 2 .3 2-.1 2 1.2 2-.5 2-.4 2 .6 2-.1 2 .1 2 .6 2 .9 2-.4 2-.2 2 .3 2 .4 2 .4 2-.4 2 .8 2-.1 2-.3 2 .4 2-.4 2 1 2-.1 2-.4 2 1.2 2-.9 2-.2 2 .1 2 1.1 2-.3 2 .1 2 .4 2 0 2 .4 2 .1 2-.8 2 .9 2-.1 2 .1 2 .2 2-.1 2 .4 2-.3 2-.7 2 1.3 2-.4 2-.1"/>
<path stroke="#1a9850" d="M89.7 453.9l2 0 2 .7 2-.4 2 .3 2 .4 2-.5 2 .1 2 .2 2-.6 2 0 2 0 2 .7 2-.9 2 .1 2 .7 2 .7 2 .2 2 .1 2-.3 2 .2 2-.4 2 0 2 .1 2 .5 2-.1 2-.4 2 .8 2-.6 2 .2 2-.1 2 .2 2 .1 2 1.4 2 0 2-.1 2 .6 2-.1 2-.6 2 .2 2-1.3M171.7 453.2l2-2.2M217.7 296.4l2-2.4M221.7 291.1l2 0 2-1.1 2 0 2 .6 2 1.2 2 1.8 2 .8 2-.1 2 .5 2 .9 2-.1 2 1.6 2 0 2 1.6 2 .6 2 1.4 2 .4 2 .8 2 .8 2 .8 2 1.2 2 1.8 2 .3 2 1.4 2 1 2 .6 2 1.1 2 1.3 2 1 2 .9 2 1.4 2 1.3 2 1.2 2 .6 2 1.7 2 .2 2 1.5 2 1.4 2 1 2 .8 2 2 2 .1 2 1.1 2 1.2 2 1.5 2 .6 2 2.1 2 .4 2 1.2 2 1 2 1.9 2 .5 2 .9 2 1.1 2 1.5 2 1.5 2 .9 2 1.5 2 1.4 2 .5 2 1.3 2 2 2 1.4 2 .6 2 1.9 2-.1 2 1.4 2 1 2 .9 2 1.1 2 .9 2 1.6 2 .7 2 1.2 2 1.5 2 .1 2 1.4 2-.1 2 1.1 2 1.1 2 .5 2 .6 2 .9 2 1.3 2 1.4 2 .4 2 .8 2 .6 2 0 2 1.4 2 0 2 1.2 2 .4 2 1.7 2 .3 2 .3 2 1.6 2 .9 2 .1 2 1 2 .7 2 .2 2 1.1 2 .4 2 1.3 2 .2 2 .4 2 .9 2 .2 2 .7 2 1.5 2 0 2 .8 2-.3 2 1.7 2 .3 2 .8 2 .1 2 1.7 2 .2 2 .4 2 .6 2 .2 2 .7 2 .7 2 .4 2 .5 2 1 2 .5 2 .4 2-.4 2 1.5 2 .5 2 .1 2 1 2 .7 2 .1 2 .1 2 1.6 2-.1 2 .4 2 .6 2 .9 2 .8 2-.7 2 1.4 2 .7 2 .9 2-.3 2 1.1 2 .5 2 .2 2 0 2-.2 2 .9 2 .3 2 .3 2 .2 2 .5 2 .8 2 1.1 2-.1 2-.7 2 1 2 .7 2 .5 2 .5 2 .4 2 .7 2 1.3 2 .8 2-.3 2 .1 2 .1 2 .8 2-.1 2 .8 2-.1 2 1 2-.1 2 1 2 .3 2-.3 2 0 2 .9 2 .4 2-.5 2 .2 2 1 2-.3 2 .1 2 .3 2 .6 2-.1 2 .8 2-.3 2 .8 2 0 2 .3 2 .6 2 1.1 2-.8 2-.3 2 .7 2 0 2 1.1 2-.5 2 .1 2-.1 2 .4 2-.1 2 .7 2 .1 2 .5 2 .1 2-.3 2 .3 2 .6 2 .4 2-.9 2-.2 2 1 2 .3 2 .5 2-.1 2 .3 2-.9 2 .6 2 .2 2 .6 2 .1 2 .4 2 .2 2 .1 2 0 2 .4 2-.5 2 1 2-1 2 0 2 0 2 .5 2 .1 2 .2 2-.6 2 .5 2 1 2-.7 2 .1"/>
<path stroke="#1a9850" d="M89.7 455.0l2-.4 2 .2 2-.1 2 0 2-.6 2 .5 2-.6 2 .7 2-.7 2-.4 2 .4 2 .3 2-.3 2 .5 2 .4 2-.8 2 .5 2 .5 2-.1 2-.4 2 1 2-1 2 .6 2 .1 2 .4 2-.8 2 .2 2 .2 2 1 2-.7 2 1.5 2-.3 2 .4 2 .5 2 .1 2 .4 2-1.4 2-1.1 2-2 2-1.7M213.7 297.9l2-2.4 2-1.6 2-1.1 2-.5 2-1.1 2 .2 2 .2 2 1.4 2 .5 2 .8 2 .8 2 .9 2-.2 2 1.3 2-.2 2 .7 2 1.6 2 .9 2 .7 2 1.5 2-.1 2 1.8 2 0 2 1.9 2 .7 2 .9 2 1.1 2 .2 2 1 2 1.5 2 .7 2 1.6 2 1.3 2 .2 2 1.5 2 1.6 2 .5 2 1.4 2 1 2 1.3 2 .7 2 1.4 2 1.5 2 .8 2 1.7 2 1.5 2 1.2 2 .2 2 1.7 2 1.5 2 .3 2 1.4 2 .6 2 1.7 2 .4 2 1.1 2 1.4 2 .4 2 2.1 2 .9 2 .7 2 1.4 2 1.3 2 .9 2 .9 2 1.9 2 1.7 2 .4 2 .9 2 1.6 2 1.6 2 .6 2 1.4 2 .5 2 1.1 2 1.5 2 .3 2 1.8 2 .6 2 1.2 2 .8 2 0 2 .9 2 .1 2 2.3 2 .4 2 .3 2 1.8 2 .8 2-.1 2 .3 2 1.5 2 .8 2 .2 2 1.2 2 .2 2 1.3 2 .1 2 1.1 2 1.2 2 .9 2-.1 2 .4 2 1.4 2 .4 2 .6 2 1.3 2 .9 2 .5 2 .6 2 .7 2 .6 2 .3 2-.1 2 1 2 1 2 .9 2 .8 2 .7 2 .2 2-.4 2 1.5 2 1 2-.1 2 .6 2 1.2 2 .9 2 .1 2 .7 2 0 2 .5 2 .4 2 1.3 2-.2 2 .9 2 .8 2 0 2 .8 2 .3 2 1.6 2-.3 2 1.3 2-.2 2 .7 2 .8 2 0 2 .6 2 .2 2 .6 2 .9 2-.2 2 1.1 2 .8 2-.3 2 1 2-.4 2 1.4 2 .4 2 .5 2 .4 2 0 2 .9 2-.2 2-.3 2 .8 2 1.4 2 0 2 .6 2 .7 2 .2 2 .3 2 .7 2 .1 2 .5 2 .9 2 .2 2 .6 2 0 2 .4 2 .5 2 .3 2 .1 2 .1 2-.3 2 1.2 2-.4 2 .4 2-.2 2 .7 2 .7 2 .4 2 .5 2-.3 2 .5 2 .1 2 .5 2 1.6 2-1.5 2 .5 2-.1 2 .4 2 1.1 2-.4 2 .7 2-.3 2 1 2 .2 2-.5 2 1 2-.2 2 0 2 .5 2 0 2 .7 2-.2 2 1.2 2-.6 2-.3 2 0 2-.2 2 1.6 2-.8 2 .5 2 .1 2 1.1 2-.5 2 .6 2 0 2-.1 2 .1 2 .7 2 .9 2-.4 2 .6 2-.9 2-.4 2 .6 2-1 2 1 2-.6 2 0 2 .7 2 .6 2 .1 2-1 2 .6 2 .3 2-.3 2 .1 2-.2 2 .3 2-.5 2-.2"/>
<path stroke="#1a9850" d="M89.7 451.2l2-.1 2 .9 2-.8 2 .6 2-.7 2 .6 2-.5 2 0 2 .4 2-.2 2 0 2-.8 2 .8 2-.5 2 .2 2-.2 2 .1 2 .5 2-.4 2 1 2 .1 2 .4 2-.5 2-.2 2-.2 2-.6 2 .4 2 0 2 1.3 2-.8 2 .7 2 0 2 .9 2-.5 2 .9 2 1 2 .1 2-.3 2-.3 2-1.8 2-1.4 2-2M219.7 293.6l2-2.1 2-.8 2 .2 2-.5 2 1.2 2 1.1 2 1.7 2 0 2 .6 2 1.3 2 .1 2-.1 2 1 2 1.5 2 .5 2 .5 2 1.4 2 1 2 1.1 2 .9 2 .8 2 .7 2 1.8 2 .2 2 1.9 2-.2 2 1 2 2.2 2 .9 2 .6 2 1.5 2 .5 2 1.2 2 .4 2 1.9 2 1.3 2 .8 2 1.2 2 1.5 2 1.1 2 1.2 2 .4 2 1.6 2 1.7 2 .8 2 1 2 1.9 2-.4 2 1.7 2 1.1 2 1.4 2 .8 2 1.6 2 1.6 2 1 2 .3 2 1.2 2 .9 2 1.8 2 .8 2 1.3 2 .7 2 1.8 2 1.1 2 1.4 2 1.3 2 .9 2 1.9 2 .4 2 1.5 2 .8 2 1.9 2-.5 2 1.2 2 .2 2 1.9 2-.2 2 1.8 2 .2 2 1.4 2 1 2 .5 2 .9 2 .7 2 1 2 1.1 2 1.3 2-.1 2 1.3 2-.4 2 1 2 .7 2 .8 2 1.2 2-.3 2 1.6 2 1.2 2 .5 2 1.2 2 .8 2-.4 2 1.3 2 .6 2 .4 2 .7 2 .5 2 .9 2 1 2 .3 2 1.5 2 .4 2 .8 2-.3 2 .7 2 1.2 2-.4 2 1.1 2 .1 2 1.3 2 .5 2 .1 2 .4 2 1 2 .4 2 .6 2 1 2 .1 2 .9 2 .1 2 1.1 2 0 2 .8 2 .6 2 .5 2 .4 2 .9 2 .5 2 .7 2 .7 2-.4 2 1 2 0 2 .4 2 1.6 2-.1 2 .3 2 .7 2-.1 2 .8 2 0 2 .2 2 1.1 2 .7 2 .5 2 .7 2 .1 2 .8 2 .3 2 .6 2 .4 2 .1 2 .5 2 .8 2 .6 2 0 2 .8 2-.4 2 .3 2 .8 2 .6 2 .6 2 0 2 .1 2 .2 2 2 2-.1 2 .7 2-.3 2 1.1 2-.4 2 .4 2-.2 2 .5 2-.3 2 .1 2 .3 2 1.4 2-.4 2 1.2 2 .2 2-.1 2 .2 2 .1 2 1 2-.6 2 1.2 2-1.1 2 .8 2 1.3 2-.2 2-.2 2 1 2-.7 2 .9 2 .2 2-.2 2 .4 2-.5 2 .8 2 1 2-.7 2 .4 2-.7 2 .3 2 .1 2 .9 2-.9 2 1.3 2 0 2 .2 2 .1 2 .6 2-.2 2 1.1 2-.6 2 .5 2 1 2-.2 2-.5 2 .3 2-.1 2-.1 2 .3 2 .3 2 0 2-.2 2-.3 2 .7 2 0 2 .3 2 .8 2-.2 2-1.1 2 .8 2 .2 2 .6 2-.6 2 .6 2-.3 2 0"/>
<path stroke="#1a9850" d="M89.7 453.5l2 .2 2 .3 2-1.6 2 .4 2 .1 2 .8 2-.7 2 .9 2-.8 2 .9 2-1.1 2-.3 2 .2 2 0 2 .4 2-.1 2-.5 2 1 2-.3 2 .9 2-.2 2 .1 2 .8 2-.4 2 .2 2 .3 2-1 2-.7 2 .8 2 1.2 2-.1 2 1.1 2 .3 2 .1 2 .5 2-1.1 2-.4 2-1.4 2-1.5 2-2.1M215.7 291.4l2-2.6 2-1.3 2-1.4 2-.5 2 .3 2 .9 2 .7 2 1 2 1.2 2 1.3 2 .7 2 .7 2 .6 2 .5 2 .6 2-.4 2 1.7 2-.1 2 .6 2 1.3 2 1.9 2 .4 2 1.1 2 .9 2 1.1 2 1.3 2 .3 2 1.2 2 .9 2 1.1 2 .9 2 1.3 2 1.4 2 1.5 2 1.6 2 1.8 2 .7 2 .6 2 1.6 2 1 2 .7 2 1.4 2 1 2 1.2 2 1.6 2 1.2 2 1.2 2 .6 2 1.5 2 .1 2 1.6 2 1.4 2 1.3 2 1.6 2 .5 2 1.4 2 .9 2 1.4 2 1.1 2 .8 2 1.4 2 1.7 2 .8 2 2 2 .8 2 1.1 2 1.1 2 1.6 2 .6 2 1.1 2 .3 2 1.8 2 2.1 2 1.1 2 .6 2 .6 2 1.1 2 .4 2 1.1 2 .8 2 1.4 2 .3 2 1.1 2 1.1 2 .8 2 .6 2 1.2 2 .4 2 .8 2 .7 2 .2 2 1.6 2 .8 2 .3 2 .8 2 1.7 2 .4 2 .6 2 .5 2 .5 2 1.2 2 1.2 2-.7 2 .9 2 1.2 2 1.3 2 .1 2 .6 2 .9 2-.3 2 1.6 2 .4 2 .4 2 1 2 1.2 2 .5 2 .6 2 .5 2 1.1 2 .4 2 .3 2 .7 2-.4 2 1.4 2 .2 2 .9 2 .9 2 .8 2-.3 2 1 2 .7 2 .3 2 .6 2 1 2 .4 2 .4 2 .3 2 .8 2 .7 2 .4 2 1.4 2 .7 2 .3 2 1.4 2-.3 2 .6 2-.5 2 .3 2 .8 2 1.3 2-.3 2 1 2 .2 2 1.1 2 .2 2 .6 2-.5 2 .9 2-.1 2 1.2 2-.3 2 .5 2 .9 2 0 2 1.2 2 .1 2 .6 2 .5 2 .5 2 0 2 1 2-.3 2 .9 2 .1 2 .5 2 .5 2 .1 2 .6 2 .3 2 .5 2 .1 2 .5 2 .8 2-.5 2 1.4 2 .4 2 .1 2 .3 2 .3 2-.1 2 .1 2 .1 2-.1 2 1.1 2 1 2-.8 2 .6 2 0 2 .6 2-.6 2 0 2 1.1 2 .6 2 0 2 .5 2-.1 2 .1 2-.5 2 .6 2 1.3 2 0 2 .4 2 .1 2 .6 2 .5 2-.6 2 .4 2 .3 2-.4 2-.4 2 .2 2 .7 2 .1 2 .3 2 .7 2-.5 2 .9 2-.7 2-.2 2 1.1 2 .7 2-.5 2 .8 2-.3 2-.2 2-.3 2 .5 2 .4 2 0 2 .2 2-.1 2 .1 2 .7 2-.5 2 .3 2-.5 2-.1 2 .6 2-.8 2 .5 2-.1 2 .9"/>
<path stroke="#1a9850" d="M89.7 452.3l2-.6 2-.3 2 .1 2-.5 2 .5 2-.4 2 .5 2-.1 2 .4 2-.6 2 0 2 .5 2 .1 2 .1 2 .2 2-.5 2 .2 2 .3 2 0 2 .5 2 0 2 .2 2-.3 2 0 2-.3 2 0 2-.4 2 .2 2-.1 2 .1 2 .2 2 .8 2 .9 2 .6 2 .3 2 .5 2-1.4 2 .4 2-1 2-1.3 2-2.3 2-1.8M219.7 290.1l2-1.3 2-1.3 2 .1 2-.1 2 .5 2 1.6 2 1.6 2 .2 2 1 2 .8 2 .6 2 0 2 .8 2 .6 2 .7 2 1.1 2 1.4 2 .5 2 1.4 2 .2 2 1.2 2 1.6 2 .7 2 1.6 2 1.1 2 1.2 2 .9 2 .5 2 .8 2 .6 2 1.2 2 1.9 2 1.1 2 .7 2 1.4 2 1.9 2 .8 2 1.8 2 1.3 2 1 2 .8 2 1.1 2 1.7 2 .5 2 1.2 2 1.3 2 .3 2 1.1 2 1.7 2 .9 2 1 2 2 2-.3 2 1.5 2 .6 2 1.1 2 1.4 2 .7 2 1.6 2 1.2 2 1.1 2 1.4 2 1.3 2 1.7 2 2 2 .8 2 1 2 1.7 2 .9 2 .7 2 1.4 2-.2 2 .7 2 1 2 1 2 1.4 2 1.6 2 1 2 .5 2 .9 2 .6 2 1.4 2-.1 2 1.6 2 .8 2 .2 2 1.2 2 .3 2 1.9 2 .6 2 .5 2 .3 2 1 2 .4 2 1.1 2 .7 2 .5 2 1.3 2 .2 2 .7 2 1.1 2 .8 2 .8 2 .7 2 .7 2 .4 2 .4 2 1.2 2-.1 2 1.2 2 .7 2 .2 2 1 2 .8 2 .2 2 .2 2 1.3 2 .4 2 1.9 2 0 2 .2 2 .4 2 .8 2 .5 2 1.2 2-.2 2 .2 2 1.5 2-.2 2 1.4 2 .2 2 1.1 2-.1 2 .6 2 .6 2 .3 2 .2 2 1.7 2 0 2 .3 2 1.2 2 .1 2 1.2 2 .2 2 .9 2 0 2 0 2 .1 2 1.7 2 .1 2 .5 2 .1 2 1 2 .2 2 .3 2 1.1 2-.3 2 .1 2-.1 2 1.2 2 .3 2 1.3 2 .3 2 .4 2 .3 2 .6 2-.2 2 1.1 2 .1 2 .3 2 .3 2 .2 2 1 2 .3 2 .4 2 .2 2 .7 2 0 2 .4 2 .3 2-.2 2 1.3 2 .4 2-.5 2 .6 2 0 2 1.3 2 .1 2 .2 2 .2 2 .1 2 .6 2 .4 2 .2 2 .4 2-.8 2 .9 2 .9 2-.5 2 .3 2 .9 2 .4 2-.5 2-.2 2 .1 2 .5 2 .3 2 .1 2 .1 2 .1 2 .8 2-.4 2 .4 2 .4 2-.7 2 1.1 2-.2 2 .6 2 .6 2-.9 2 .5 2-.1 2 1.1 2-.5 2 .5 2 .3 2-.1 2-.3 2 .6 2 0 2 .4 2 .7 2 0 2 .2 2 .2 2-.8 2 .6 2-.2 2 .3 2 .2 2 0 2-.2 2 .2 2-.2 2-.1 2 .4 2-.3 2 1.4 2-.7 2 .5"/>
<path stroke="#1a9850" d="M89.7 451.7l2-.1 2 .7 2-.5 2 .7 2 .8 2-1.7 2 .5 2-.1 2-.1 2-.2 2 .5 2-.4 2 .6 2-.1 2-1 2 1.6 2-1.2 2 .5 2 .1 2-.1 2 .8 2-.2 2-.3 2 .9 2 .1 2 .1 2-1 2 1 2-.3 2 .7 2 .5 2-.2 2 .3 2 .5 2 .7 2-.1 2-.7 2-1.1 2-2.1 2-1.7 2-2.6M217.7 289.0l2-2 2-1.9 2 0 2-.4 2 .1 2 1 2 1.1 2 1.2 2 .9 2 .7 2 .9 2 .3 2 .6 2 1.1 2 1.5 2 .5 2 1 2 .9 2 .3 2 .8 2 .7 2 1.8 2 1 2 1.7 2 .4 2 1.4 2 .7 2 1.5 2-.2 2 1.4 2 1.8 2 .6 2 .6 2 1.4 2 1.6 2 2.1 2 .5 2 .7 2 2.4 2 .1 2 1.1 2 .8 2 2.1 2 .9 2 1 2 1.1 2 1.3 2 2.3 2 1 2 .9 2 1 2 .9 2 1.4 2 1 2 1 2 .7 2 1.6 2 .7 2 1.4 2 .5 2 2 2 1 2 1.2 2 1.5 2 1.1 2 1.1 2 1.5 2 1.1 2 .8 2 .9 2 1.7 2 .9 2 1.2 2 .7 2 1.7 2 .1 2 0 2 1.7 2 1 2 .6 2 2.1 2 1 2 .5 2 .5 2 .9 2 1.5 2 .9 2 .3 2 .7 2 .9 2-.3 2 1.3 2 .8 2 .8 2 .8 2 .9 2 .6 2 1 2 .6 2 .8 2-.1 2 1.3 2 .5 2 .7 2 1 2 .2 2 1.3 2 .6 2 .8 2 .9 2 .9 2-.7 2 1.5 2 .9 2 .1 2 1.2 2 .5 2 1.4 2-.1 2 1.1 2 .4 2 .1 2 1.5 2-.3 2 .9 2 0 2 .4 2 .7 2 1.4 2 1.3 2 .2 2 0 2 .9 2 .9 2 .5 2 .8 2-.6 2 .7 2 .8 2 .1 2 .3 2 1.1 2 .6 2 .7 2 .3 2 .2 2 .5 2 1.1 2-.3 2 .6 2 .6 2 1.1 2 .6 2 .9 2-.1 2 .7 2 .2 2 .1 2 .8 2 .4 2 .7 2 1.1 2-.1 2-.8 2 1.6 2 .1 2 .3 2-.2 2 .3 2 1 2 .3 2 .5 2 .5 2 .9 2-.5 2 .9 2-.1 2 1.4 2 .3 2 0 2 .4 2-.1 2-.1 2 .5 2 .7 2 1.1 2-.2 2 1 2-.1 2 .6 2-.7 2 1.3 2-.4 2 0 2 .5 2-.3 2 1.4 2 .2 2 1 2-.1 2-.5 2 .4 2-.1 2 .2 2 .2 2 .9 2-.2 2 .7 2 0 2 .4 2-.9 2 1.3 2 .1 2-.2 2 .2 2 .9 2 .1 2 .2 2 .2 2-.3 2 .1 2 .1 2-.2 2 .9 2-.1 2 .7 2-.5 2-.4 2 .7 2 .1 2 .8 2-.1 2 .5 2 .3 2-.2 2-.3 2 .5 2-.8 2 2 2-1.1 2 .6 2-.7 2 1 2-.3 2-.4 2 1 2-.6 2 .9 2-.8 2 .5 2-.5"/>
<path stroke="#1a9850" d="M89.7 453.4l2-.1 2-.1 2 .3 2-.4 2 .3 2 .5 2-1 2 .1 2-.7 2 .6 2-.2 2-.1 2-.2 2-.7 2 1.4 2-.6 2 .9 2 .2 2-.1 2-.2 2-.1 2 .5 2 .2 2-.4 2 .2 2 .3 2 1 2-1.5 2 .6 2 .2 2 0 2 .5 2 .6 2 .8 2 .8 2 0 2-.1 2 .1 2-1.3 2-1 2-2 2-2.3M221.7 289.3l2-2 2 .3 2 .2 2 .1 2 1.1 2 .6 2 1.7 2-.1 2 1.4 2-.2 2 1.4 2 .1 2 1.1 2 .8 2 .2 2 1.2 2 .6 2 1.8 2 .6 2 1.2 2 .1 2 1.5 2 1.2 2 1.1 2 .4 2 1.1 2 2.4 2 .2 2 .7 2 2.3 2 .8 2 1.3 2 .5 2 1.7 2 1 2 .9 2 1.2 2 1.3 2 1.4 2 .5 2 1.6 2 .5 2 1.4 2 .7 2 2.1 2 1 2 1.3 2 1 2 1.7 2 .9 2 1.4 2 1.3 2 .4 2 1.9 2 .1 2 1.3 2 .8 2 1.8 2 .9 2 1.7 2 .7 2 1.9 2 1.2 2 1.9 2 1 2 1.2 2-.3 2 2.3 2 .6 2 .7 2 1.2 2 .8 2 1.1 2 1.9 2 .8 2 .8 2 .6 2 1.1 2 .4 2 1 2 1.3 2 .6 2 .6 2 1.6 2-.5 2 .5 2 .8 2 .9 2 .9 2 1 2 .6 2 1.4 2 .1 2 1.1 2 .5 2 .3 2 1.1 2 .8 2 1.4 2-.1 2 .6 2 .9 2 .8 2 .3 2 1.2 2 .6 2 .8 2 .7 2 .7 2 .7 2-.2 2 1.2 2 .4 2 .6 2 .6 2 .6 2 .9 2 .3 2 .8 2 .4 2 1.4 2 .1 2 .7 2-.1 2 1 2 1 2 .8 2 .5 2 .8 2 .5 2 .4 2 .7 2 .2 2 1.1 2-.1 2 .7 2 .8 2 .8 2 .8 2 .3 2 .9 2 0 2 .9 2 .4 2 1.1 2-.8 2 .8 2 .5 2 .7 2 .2 2 .3 2 .3 2 .7 2 .2 2-.1 2 1.7 2-.3 2 .9 2-.5 2 1.9 2-.2 2 .8 2 .5 2-.4 2 .1 2 1.3 2-.2 2 .6 2 .9 2 0 2 .9 2-.2 2 .9 2-.5 2 0 2 1 2-.1 2 1.1 2 .5 2 0 2 1.1 2 .5 2 .4 2-.2 2 .4 2 .5 2 1 2-.2 2 .8 2-.1 2 .1 2 .6 2 .5 2-.5 2 .4 2 .6 2-.1 2 .7 2-.1 2 .1 2-.1 2 .9 2-.6 2 .8 2-.1 2 .5 2-.2 2-.1 2 .1 2 1 2-.4 2 .2 2 .7 2-1 2 .8 2 .4 2-.1 2-.1 2-.2 2 1.1 2-.4 2 .7 2 0 2 .8 2 0 2-.2 2 .5 2 .3 2-.3 2-.1 2 .6 2-1 2 1.2 2 .2 2-.4 2 .6 2-.1 2 .6 2-.2 2 0 2 .6 2 0 2-.1 2 .5 2 .1 2-.5 2-.1 2 .4 2 0"/>
<path stroke="#1a9850" d="M89.7 451.7l2-.1 2 .4 2-.2 2 .6 2-.6 2 0 2 .1 2 .2 2 .2 2-.4 2 .4 2 .2 2-.1 2 .2 2-.9 2 .2 2 .4 2 .2 2-.1 2 .2 2-.1 2 .7 2 0 2-.2 2 .2 2 .4 2-.6 2-.1 2 1.5 2-.5 2 .8 2 .3 2-.2 2 .3 2 .7 2-.2 2-1.6 2-1.7 2-.8M215.7 289.7l2-2.5 2-1.7 2 0 2-.7 2-.7 2 1.3 2 1 2 .2 2 2.1 2 .1 2 1.1 2 .3 2 .8 2 .2 2 .7 2 1 2 .4 2 1.4 2 .7 2 .6 2 1.6 2 1.8 2 .4 2 .8 2 1.7 2 .1 2 1.2 2 1.2 2 1 2 .5 2 1.4 2 1.3 2 1.4 2 1.1 2 1 2 1.4 2 .7 2 1.3 2 1.3 2 1.5 2 .8 2 1.9 2 1 2 1 2 1.2 2 .9 2 1.5 2 .4 2 .8M315.7 331.3l2-.3 2 1.3 2 1.1 2 1.6 2 1.3 2 1.2 2 .7 2 .8 2 .6 2 2 2 1 2 1.2 2 1.4 2 1.7 2 1 2 1.1 2 .8 2 1.6 2 1.3 2 1.5 2 .3 2 2 2 .5 2 1.5 2 .3 2 1.6 2 .3 2 1.9 2 0 2 .6 2 1.7 2 .6 2 1.3 2 .6 2 1.2 2 .6 2 .4 2 1.3 2 1.1 2 .6 2 0 2 1.5 2 .2 2 .8 2-.4 2 1.6 2 1 2 1.1 2-.2 2 .9 2 1.1 2 .7 2 .7 2 1.1 2 1.6 2 0 2-.1 2 1.1 2 1.1 2 .5 2 .9 2 .4 2 .7 2 .9 2 .7 2 1.4 2-.1 2 1.5 2 .1 2-.3 2 1.1 2 .5 2 .5 2 1.4 2 .6 2 1.2 2-.1 2 .4 2 .6 2 .1 2 .5 2 .5 2 1 2 .5 2 .8 2 .8 2 .4 2 .8 2 .5 2 .2 2 0 2 .7 2 1.5 2 .3 2-.2 2 1.3 2 .3 2 .8 2-.5 2 1.2 2 .6 2 .2 2 .6 2 1.2 2-.7 2 1.3 2 .1 2 .6 2-.2 2 .7 2 .8 2 .1 2 .7 2 .6 2 0 2 .8 2 .8 2 .3 2-.7 2 .1 2 1.2 2-.3 2 1.5 2 0 2 .6 2 .8 2-.8 2 .4 2 1.9 2-.7 2 .7 2-.5 2 1 2 .6 2 .3 2 0 2 .8 2-.5 2 1.7 2-.5 2 1 2 .7 2-1.7 2 1.6 2 .3 2 .5 2-.2 2 0 2 .8 2-.3 2 .7 2-.3 2 .9 2 .1 2-.5 2 .9 2 .5 2 0 2-.3 2 .4 2-.1 2 1.5 2-.1 2-.1 2 .4 2-.9 2 .8 2-.2 2 .6 2-.2 2 1 2 .1 2 0 2-.3 2-.1 2 .5 2 0 2 .1 2 .4 2 .4 2 .4 2 0 2 .5 2-.3 2 .3 2 .3 2 0 2-.4 2 .5 2 .4 2-.7 2 .1 2 .7 2 .5 2-.4 2-.2 2-.2 2 .4 2 .4 2 .3 2 .5 2 0"/>
<path stroke="#1a9850" d="M89.7 455.4l2-.4 2-.4 2 .1 2-1 2 .9 2 .3 2-.5 2 0 2-.4 2-.2 2 .5 2 .5 2 .7 2-.8 2-.3 2-.2 2 1 2 0 2 0 2 .7 2-.6 2 .1 2 .5 2-1 2 .1 2 1 2-.9 2-.3 2 .5 2 .3 2 .3 2 .7 2 .6 2 0 2 .1 2 .7 2-.1 2 .8 2-1 2-1.9 2-1.5M223.7 283.9l2-1.9 2-.2 2 0 2 1.6 2 1.3 2 .7 2 .9 2 .7 2 .3 2 0 2 1.6 2 .5 2 .7 2 2.1 2 .1 2 1.2 2 .8 2 .3 2 1 2 1.6 2 1.2 2 .7 2 1.1 2 1.5 2 .4 2 1.9 2 1.1 2 .7 2 .9 2 2.1 2 .3 2 1.9 2 1 2 1.2 2 1.2 2 2 2-.1 2 2.3 2 .5 2 1.7 2 1.2 2 1.3 2 .1 2 1.2 2 1.7 2 .9 2 1.1 2 1.2 2 .8 2 2 2 .2 2 1.6 2 1.7 2 .7 2 1.1 2 1.4 2 1.7 2 .4 2 1.8 2 1.4 2 0M347.7 347.2l2 .8 2 .8 2 1.5 2 1.5 2 1.7 2 .6 2 1.3 2 1.7 2 .6 2 .7 2 1.2 2 1.1 2 .7 2 1 2 .4 2 1 2 1.5 2 0 2 1.2 2 .6 2 1.3 2 .5 2 .5 2 1.3 2-.4 2 1.5 2 .5 2 1.3 2 .2 2 1.5 2 .5 2 .6 2 1.4 2 .3 2 .7 2 .8 2 1.3 2 .6 2 .2 2 .6 2 2.1 2-1 2 .9 2 .7 2 1.5 2-.2 2 1.2 2 .6 2 .6 2 1.1 2 .2 2 .8 2 .9 2 .3 2 1.5 2-.2 2 1.1 2 .7 2 .4 2 .9 2 .7 2 1.2 2 .1 2 .5 2 1 2-.5 2 1.4 2 0 2 1.1 2-.4 2 .2 2 1.9 2 .7 2 0 2 1 2-.3 2 .5 2 .8 2-.2 2 1.3 2 .6 2 .8 2 .3 2 .2 2 1.2 2 .1 2-.2 2 1 2 .5 2 .9 2-.4 2 1 2 .5 2 .2 2-.2 2 1.4 2 .6 2 0 2 1.9 2-.2 2 .8 2-.3 2 .8 2 .4 2 .8 2-.8 2 .4 2 .5 2 .3 2 .7 2 .4 2 0 2 .3 2 .5 2 .3 2 .8 2 .6 2 .1 2 .6 2 .4 2-.1 2-.3 2 2 2-.4 2 0 2 .6 2 .4 2 .5 2 .6 2-.1 2 .5 2 1.3 2-.3 2-.6 2 .8 2-.6 2 0 2 .8 2-.1 2 1.3 2-.7 2 .4 2-.1 2 1.6 2-.2 2-.6 2 .1 2 .3 2-.4 2 1.4 2-.4 2 .6 2 .5 2-.2 2 .5 2 1.2 2-.7 2-.1 2 .1 2 .9 2-.2 2-.4 2 .4 2 .1 2 .3 2-.6 2 .4 2 .1 2 .1 2 .9 2-.3 2 .7 2-.3 2-.3 2 .4 2 .3 2 .1 2 .5 2-.1 2-.8 2 1 2 .5 2-.1 2-.4 2 .4 2 .3"/>
<path stroke="#1a9850" d="M89.7 452.8l2-.1 2-.3 2-.9 2 .5 2-.1 2-.1 2-.4 2 .4 2-.7 2 1.4 2-.7 2 .5 2-.5 2 .5 2-.2 2 1 2 .4 2-.9 2 .4 2 .2 2 .3 2-.6 2 .9 2-.5 2-.2 2 0 2-.1 2 .2 2 .1 2 .5 2 .3 2 .3 2 .1 2 .8 2 .6 2 .5 2-1.3 2-1.2 2-1.5 2-1.8M221.7 279.5l2-1.1 2-.1 2 0 2 .8 2 .9 2 1.3 2 1.2 2 .3 2 .5 2 1.1 2 .7 2 .8 2 .3 2 .3 2 2 2 0 2 1.9 2 .6 2 1.1 2 1.3 2 .2 2 1.6 2 .9 2 .6 2 1.7 2 1.4 2 .9 2 1.6 2 1.1 2 1 2 1.1 2 1.9 2 .9 2 1.2 2 .6 2 1.4 2 1.1 2 1.7 2 .7 2 2.3 2 .1 2 2.1 2 .4 2 2 2 1.2 2 .7 2 .9 2 1.8 2 .9 2 1.8 2 1.2 2 .5 2 .9 2 2.2 2 1 2 .4 2 1.8 2 1.3 2 1.3 2 1.8 2 .8 2 .9 2 1.6 2 1 2 1.3 2 1.4 2 1.8 2 .8 2 1.5 2 1.4 2 1.1 2 1.1 2 .4 2 .9 2 .8 2 1.1 2 .7 2 1.6 2 .4 2 1.5 2 .5 2 1.3 2 .6 2 .8 2 1.1 2 .3 2 .9 2 .8 2 .2 2 2 2 0 2 .8 2 .5 2 1.5 2 .8 2 0 2 1.2 2 1 2 .6 2 1.7 2-.2 2 .5 2 1 2 .3 2 0 2 1.7 2 .9 2 .6 2 .7 2 .9 2 .6 2 .7 2-.2 2 1.1 2 .3 2 1.4 2 .2 2 1.1 2 1.1 2 .5 2 .1 2 .8 2 .9 2 .5 2 .3 2 .9 2 .9 2 .3 2 .3 2 1.1 2 .6 2 0 2 1.4 2-.1 2 1.4 2-.1 2 .2 2 1.8 2-.6 2 .9 2 .7 2 .8 2 .6 2-.5 2 .6 2 1 2 .3 2 .7 2 1.2 2 .6 2 .7 2 .2 2-.1 2 1.1 2 .5 2-.2 2 .4 2 .1 2 .3 2 1.3 2 .2 2 1.2 2 .5 2 .1 2 .1 2 .8 2 .2 2 .1 2 .7 2 .3 2 1 2-.3 2 .7 2-.1 2 1.2 2 .7 2 .4 2 .5 2-.8 2 1 2 1 2 .1 2 .5 2 .9 2-.4 2 .7 2 .4 2-.3 2 1.3 2-1.1 2 .8 2-.3 2 .7 2 0 2-.2 2 1.1 2 .3 2 .5 2-.3 2 1.1 2-.5 2 0 2 .6 2-.2 2-.3 2 .6 2 .3 2 .2 2 .5 2 .4 2 .4 2-.4 2 .6 2 0 2-.4 2 1.2 2-.3 2 0 2-.2 2 1.2 2 .3 2 .4 2-.6 2 .3 2 .4 2 .5 2-.5 2 .9 2 .1 2 .1 2-.4 2-.4 2 .5 2 0 2 .5 2 .5 2-.8 2 1.1 2 .4 2-1.1 2 .5 2-.1 2 .1 2 .7 2-.5 2 .5 2 0 2 .1 2-1.1"/>
<path stroke="#d9ef8b" stroke-opacity="0.5" d="M167.7 449.4l2-4 2-4.6 2-4.4 2-6.8 2-5.2 2-6.4 2-7.9 2-7 2-7.5 2-7.3 2-8.6 2-8.4 2-9.1 2-8.1 2-8.8 2-8.2 2-8.3 2-5M299.7 367.7l2 3"/>
<path stroke="#a6d96a" stroke-opacity="0.5" d="M169.7 451.9l2-2.9 2-4 2-4.5 2-4.7 2-7 2-6.6 2-6.2 2-6.7 2-7.1 2-8.2 2-7.8 2-8.1 2-8.2 2-8.9 2-9.7 2-8.9 2-8.4 2-8.1 2-7 2-6.2 2-2.8"/>
<path stroke="#66bd63" stroke-opacity="0.5" d="M171.7 452.2l2-3.2 2-4 2-3.8 2-6.5 2-5.9 2-6.6 2-6.1 2-7.4 2-7.6 2-6.6 2-9.3 2-7.9 2-9 2-8.2 2-8.9 2-8.7 2-9.2 2-7.2 2-8 2-7.4 2-5"/>
<path stroke="#1a9850" stroke-opacity="0.5" d="M169.7 456.0l2-2.8M173.7 451.0l2-3.1 2-5.1 2-4.1 2-5.5 2-7.1 2-6.3 2-6.9 2-6.4 2-8.1 2-7.4 2-7.6 2-8.2 2-9 2-9.1 2-8.6 2-8.8 2-8.4 2-8.6 2-8 2-7.1 2-5.9 2-5.3M219.7 294.0l2-2.9"/>
<path stroke="#d9ef8b" stroke-opacity="0.5" d="M169.7 448.7l2-3.1 2-3.7 2-5.2 2-4.1 2-6.4 2-6.4 2-6.3 2-6.9 2-7 2-7.1 2-7.4 2-8.6 2-8.4 2-9.1 2-8.6 2-9.2 2-8.9 2-6.5 2-4.5"/>
<path stroke="#a6d96a" stroke-opacity="0.5" d="M173.7 448.6l2-3.3 2-3.7 2-5.3 2-5.7 2-6.8 2-6.7 2-7.2 2-6.2 2-7.7 2-7.2 2-8.1 2-7.6 2-9.9 2-8.1 2-8.9 2-8.9 2-9.5 2-6.6 2-6.6 2-3.1"/>
<path stroke="#66bd63" stroke-opacity="0.5" d="M165.7 454.4l2-3.1 2-4.5 2-3.3 2-4.9 2-6.7 2-6.7 2-5.9 2-6.7 2-6.8 2-6.9 2-8.4 2-8.5 2-7.8 2-8.3 2-9.8 2-8.6 2-9.6 2-8.3 2-7.6 2-8.2 2-6.7 2-3.9M331.7 353.8l2 2.7"/>
<path stroke="#1a9850" stroke-opacity="0.5" d="M169.7 452.0l2-3.4 2-3.6 2-4.7 2-6.1 2-5.5 2-7 2-6.2 2-7.3 2-7.2 2-8.1 2-7.1 2-8.7 2-8.2 2-8.9 2-8.9 2-9.1 2-8.3 2-8.7 2-8 2-6.6 2-7.3 2-5.2"/>
<path stroke="#d9ef8b" stroke-opacity="0.5" d="M165.7 449.6l2-3.3 2-4 2-4.8 2-5.9 2-5.3 2-5.9 2-7.1 2-6.7 2-6.9 2-6.9 2-8.1 2-8.8 2-8.8 2-8.4 2-8.9 2-8.3 2-8.5 2-7.9 2-3.9"/>
<path stroke="#a6d96a" stroke-opacity="0.5" d="M169.7 448.1l2-3.4 2-4.7 2-5 2-5.6 2-6 2-7.2 2-6.5 2-7.1 2-7.2 2-7.8 2-7.8 2-8.3 2-8.6 2-8.9 2-8.7 2-8.4 2-8.6 2-9 2-6.7 2-4.2"/>
<path stroke="#66bd63" stroke-opacity="0.5" d="M171.7 450.3l2-3.7 2-4.2 2-4.1 2-6.2 2-5.9 2-6.8 2-6.8 2-7.3 2-6.7 2-7.3 2-8.2 2-8.1 2-9.5 2-8 2-8.4 2-9.5 2-9.1 2-8 2-8 2-6.6 2-4 2-3.4"/>
<path stroke="#1a9850" stroke-opacity="0.5" d="M173.7 449.3l2-3.1 2-3.9 2-4.4 2-5.5 2-5.6 2-7.3 2-5.1 2-7 2-8.2 2-7.4 2-8.4 2-7.9 2-7.7 2-9 2-8.7 2-8.7 2-8.9 2-9.1 2-7.9 2-7.4 2-7 2-4.7 2-2.8"/>
<path stroke="#d9ef8b" stroke-opacity="0.5" d="M171.7 450.1l2-3.8 2-4.3 2-5.1 2-5.5 2-6 2-7.4 2-6.5 2-6.8 2-7.7 2-8 2-6.9 2-9.4 2-9 2-8.3 2-8.6 2-9 2-7.8 2-7 2-4.4M323.7 378.8l2 2.7"/>
<path stroke="#a6d96a" stroke-opacity="0.5" d="M169.7 451.9l2-2.7M173.7 446.8l2-3.2 2-4.1 2-5.6 2-5 2-7.7 2-6 2-6.6 2-6.6 2-7.5 2-7.1 2-8 2-8.7 2-9 2-7.7 2-9.3 2-9 2-8.8 2-7.3 2-6.7 2-5.1M263.7 324.1l2 2.7"/>
<path stroke="#66bd63" stroke-opacity="0.5" d="M167.7 448.7l2-3 2-3.5 2-4.7 2-6.2 2-5.9 2-6.6 2-6.7 2-6.7 2-8 2-7.5 2-7.3 2-7.9 2-9.5 2-8 2-9.7 2-8.5 2-9.3 2-8.1 2-7.2 2-6.8 2-5.7"/>
<path stroke="#1a9850" stroke-opacity="0.5" d="M169.7 450.7l2-3.2 2-4.1 2-4.1 2-6.1 2-6.5 2-6.3 2-5.6 2-7.8 2-6.4 2-7.9 2-8.6 2-7.7 2-9.1 2-8.7 2-8.9 2-8.8 2-7.9 2-9.2 2-7.6 2-7.5 2-7.1 2-5.5 2-4.7"/>
<path stroke="#d9ef8b" stroke-opacity="0.5" d="M167.7 449.9l2-4.6 2-4.3 2-5.2 2-6.5 2-6.4 2-5.9 2-7.6 2-6.7 2-7.3 2-8 2-8.2 2-9.2 2-8.2 2-8.7 2-8.3 2-9.3 2-7.8 2-6.9 2-3.8M259.7 336.0l2 3.4M289.7 358.0l2 2.8"/>
<path stroke="#a6d96a" stroke-opacity="0.5" d="M167.7 453.4l2-2.9 2-3 2-4.6 2-5.1 2-4.9 2-6.2 2-7.7 2-6.3 2-7.2 2-7.7 2-7.2 2-8.4 2-8.3 2-9.3 2-9 2-9.6 2-8.3 2-7.7 2-8.7 2-7.2 2-5.7M261.7 322.8l2 2.7"/>
<path stroke="#66bd63" stroke-opacity="0.5" d="M173.7 448.4l2-4.4 2-4.6 2-5.3 2-6.4 2-6.3 2-7.4 2-6.8 2-7.7 2-7.5 2-7 2-8.7 2-8.6 2-8.8 2-8.5 2-8.5 2-9.3 2-8 2-8 2-7.9 2-5.5 2-3.4"/>
<path stroke="#1a9850" stroke-opacity="0.5" d="M173.7 448.0l2-2.9 2-5.2 2-5 2-5.7 2-5 2-7.4 2-6.9 2-7.1 2-7.9 2-7.2 2-8 2-8 2-9.2 2-8.3 2-9.7 2-8.3 2-8.4 2-8 2-8.5 2-7.5 2-6 2-4.7 2-3"/>
<path stroke="#d9ef8b" stroke-opacity="0.5" d="M171.7 447.9l2-2.9 2-4.9 2-4.6 2-6.2 2-6.1 2-6.5 2-7.2 2-7.3 2-7.1 2-7.3 2-8.1 2-8.8 2-8.2 2-9 2-8.1 2-9.2 2-9.2 2-6.9 2-3.1M261.7 337.5l2 2.7"/>
<path stroke="#a6d96a" stroke-opacity="0.5" d="M171.7 453.8l2-2.7M175.7 448.7l2-4.5 2-4.1 2-6.7 2-6.4 2-6.1 2-6.4 2-6.9 2-7.7 2-6.7 2-8.7 2-7.4 2-9.5 2-8.2 2-8.8 2-8.8 2-9 2-8.9 2-7.3 2-7 2-3.8M269.7 327.8l2 2.8"/>
<path stroke="#66bd63" stroke-opacity="0.5" d="M167.7 450.2l2-2.8 2-4.2 2-4.1 2-6.4 2-6.1 2-6.5 2-6.1 2-8.4 2-6.8 2-7.3 2-7.6 2-8.3 2-8.1 2-8.7 2-9 2-8.4 2-9.8 2-8.1 2-7.8 2-6.9 2-7.3"/>
<path stroke="#1a9850" stroke-opacity="0.5" d="M171.7 447.5l2-4.1 2-4.1 2-5.6 2-6.1 2-6.5 2-7 2-7 2-6.6 2-7.7 2-8.1 2-7.5 2-8.1 2-9.6 2-8.8 2-9.3 2-8.2 2-8 2-8.3 2-7.4 2-7.4 2-4.7 2-5.4 2-3"/>
<path stroke="#d9ef8b" stroke-opacity="0.5" d="M167.7 449.7l2-4.5 2-4 2-5 2-6.4 2-6.3 2-6.5 2-6.8 2-7.6 2-7.2 2-7.5 2-8 2-7.5 2-9.5 2-8.5 2-8.9 2-9.4 2-8.4 2-7.2 2-2.8"/>
<path stroke="#a6d96a" stroke-opacity="0.5" d="M165.7 454.9l2-2.8 2-3 2-3.1 2-4.9 2-5 2-6.6 2-6.4 2-6 2-7.1 2-7.6 2-7.2 2-7.5 2-7.5 2-9.3 2-8.4 2-8.3 2-10 2-8.9 2-8.3 2-7.8 2-7.5 2-5M267.7 325.0l2 2.9"/>
<path stroke="#66bd63" stroke-opacity="0.5" d="M173.7 448.4l2-5.4 2-4.5 2-5.9 2-6.1 2-7.3 2-6 2-7.5 2-7.6 2-6.8 2-8.6 2-7.8 2-10 2-8.1 2-8 2-9.6 2-8.1 2-8.5 2-7.8 2-6.9 2-6.2 2-3.7 2-3.3"/>
<path stroke="#1a9850" stroke-opacity="0.5" d="M173.7 450.4l2-2.8 2-4.1 2-4.2 2-5.5 2-6.1 2-6.5 2-7 2-7.5 2-7.5 2-7.2 2-7.2 2-9.6 2-8.2 2-9.5 2-7.4 2-9 2-8.5 2-8.6 2-8.2 2-7.3 2-6.5 2-5.8 2-3.3 2-3.6"/>
<path stroke="#d9ef8b" stroke-opacity="0.5" d="M167.7 454.8l2-2.7 2-2.7 2-3.9 2-5.4 2-4.7 2-7.5 2-5.6 2-7.4 2-6.8 2-7.3 2-7.1 2-7.6 2-8.1 2-9.5 2-8.7 2-9.1 2-8.4 2-8.8 2-7.8 2-6.9 2-5M245.7 323.7l2 2.8M349.7 388.6l2 2.7"/>
<path stroke="#a6d96a" stroke-opacity="0.5" d="M171.7 452.2l2-2.9 2-3 2-4.8 2-4.2 2-5.9 2-7.1 2-5.3 2-6.7 2-7.4 2-7.2 2-7.2 2-8.8 2-8.2 2-8.2 2-9.3 2-8.2 2-9.6 2-8.5 2-7.9 2-8.3 2-6.3 2-3.3M357.7 374.5l2 2.7"/>
<path stroke="#66bd63" stroke-opacity="0.5" d="M167.7 448.3l2-3.2 2-5.4 2-3.7 2-5.9 2-6.3 2-6.7 2-6.2 2-7.3 2-6.7 2-7 2-9.1 2-7.9 2-9 2-9.5 2-6.9 2-10 2-8.5 2-8 2-7.8 2-6.9 2-5.3 2-2.8"/>
<path stroke="#1a9850" stroke-opacity="0.5" d="M167.7 451.5l2-2.8 2-3.3 2-3.5 2-5.2 2-6.2 2-5.9 2-6.2 2-7 2-6.8 2-7.6 2-7.5 2-7.3 2-8.7 2-9.7 2-8.1 2-8.7 2-9.3 2-8.2 2-8.5 2-7 2-7.9 2-6.9 2-5.4 2-4.1M313.7 328.2l2 3.1"/>
<path stroke="#d9ef8b" stroke-opacity="0.5" d="M165.7 450.1l2-2.9 2-3.5 2-4.1 2-4.7 2-7 2-6.8 2-6 2-6 2-7.5 2-7.9 2-6.6 2-8.3 2-8.6 2-9 2-9.6 2-8.3 2-9.3 2-8.3 2-6.8 2-4.3"/>
<path stroke="#a6d96a" stroke-opacity="0.5" d="M169.7 449.0l2-3.3 2-3.7 2-5.2 2-5.2 2-5.7 2-6.8 2-7 2-6.1 2-7.2 2-7.7 2-7.6 2-8.3 2-8.5 2-8.7 2-8.8 2-9.1 2-8.8 2-8.6 2-7.5 2-7.5 2-3.9"/>
<path stroke="#66bd63" stroke-opacity="0.5" d="M169.7 453.8l2-2.7M173.7 448.9l2-5 2-4.5 2-5.4 2-6.8 2-6.6 2-6.6 2-6.4 2-8.2 2-6.8 2-7.7 2-8.1 2-8.5 2-8.9 2-9.3 2-9.3 2-8 2-8.2 2-8.8 2-7.8 2-5.6 2-5.1 2-2.8"/>
<path stroke="#1a9850" stroke-opacity="0.5" d="M171.7 454.3l2-2.7 2-3.1 2-4.1 2-4.9 2-5.3 2-7.7 2-5.9 2-6.1 2-7.1 2-8 2-6.3 2-8.2 2-8.7 2-8.7 2-8.9 2-8.7 2-9.5 2-8.5 2-7.9 2-8.4 2-7.2 2-6.4 2-5.3 2-4.9 2-3.7 2-4.2M345.7 344.3l2 2.9"/>
<path stroke="#d9ef8b" stroke-opacity="0.5" d="M171.7 448.8l2-3.8 2-3 2-5.4 2-5.4 2-6.6 2-6.7 2-6.7 2-6.3 2-7.3 2-7.8 2-7.9 2-7.8 2-9.9 2-8 2-9.3 2-8.8 2-9.1 2-7.7 2-6.8M277.7 345.9l2 2.7"/>
<path stroke="#a6d96a" stroke-opacity="0.5" d="M173.7 449.2l2-3 2-3.6 2-5.5 2-5.6 2-6.9 2-5.8 2-7.1 2-7.7 2-6.9 2-7.3 2-7.9 2-8.5 2-7.5 2-9.2 2-9.2 2-8.5 2-8.7 2-8.8 2-7.1 2-7.3 2-3.9"/>
<path stroke="#66bd63" stroke-opacity="0.5" d="M167.7 450.4l2-3.3 2-3.6 2-4.7 2-5.7 2-6 2-6.1 2-6.3 2-8 2-8 2-6.5 2-8.2 2-7.8 2-8.1 2-10 2-8.1 2-8.7 2-9 2-8.2 2-8.6 2-6.8 2-6.8 2-4.7"/>
<path stroke="#1a9850" stroke-opacity="0.5" d="M169.7 450.6l2-3.2 2-2.9 2-4.8 2-4.7 2-6.2 2-7.1 2-5.6 2-7.6 2-7.2 2-7.5 2-7.9 2-7.1 2-8.9 2-9.1 2-8.9 2-9.1 2-8.4 2-8.1 2-8.2 2-8.1 2-6.7 2-6.2 2-6.4 2-4.6 2-3.8 2-2.8"/>
</g>
<clipPath id="cpc"><rect x="89.2" y="461.8" width="629.8" height="211.2"/></clipPath>
<g clip-path="url(#cpc)" fill="none" stroke-width="1.15" stroke-linejoin="round" stroke-dasharray="3 0.6">
<path stroke="#ebbb4c" d="M89.7 669.5l2 .3 2-.5 2-.5 2 .1 2-1.1 2 .7 2 1 2-.5 2 0 2 .3 2-.9 2 .5 2 .6 2-1.5 2 .3 2-.7 2 .6 2 0 2-1.1 2 .9 2-.6 2-.6 2 .5 2 .2 2-.3 2-.4 2 .6 2-.6 2 .6 2-.1 2 1.5 2 .5 2-.6 2-.1 2-.4 2-1.8M203.7 506.5l2-2 2-.3 2-.9 2 .3 2-.8 2-.3 2 .4 2 .5 2-.9 2-.1 2 1 2 .5 2 1.7 2 1.3 2 1.9 2 .5 2 2 2 1.6 2 1.4 2 .6 2 .9 2 1.7 2 1.7 2 .4 2 1.4 2 1.4 2 1.2 2 .9 2 1.5 2 1.1 2 1.9 2 .5 2 1.5 2 .7 2 2.4 2 .2 2 1.1 2 1.9 2 1 2 1.2 2 1.2 2 1.6 2 1 2 .9 2 .7 2 1.4 2 1 2 1.4 2 .9 2 2.2 2 1.3 2 1 2 1.2 2 .7 2 .9 2 1.1 2 1.4 2 .5 2 2 2-.2 2 1.7 2 .7 2 .3 2 1.3 2 1.2 2 .7 2 .9 2 1.2 2 1.2 2 .6 2 1.6 2 .8 2 .9 2 .3 2 1.2 2 1 2 1.3 2 .6 2 .6 2 1.3 2 .5 2 1.1 2 1.6 2 .5 2 .8 2 0 2 .3 2 1.8 2 1 2 1.6 2 0 2 .9 2 1.2 2 .1 2 1.5 2 .2 2 .6 2 1.1 2-.2 2 .5 2 1.5 2 .8 2-.1 2 1.1 2 1.1 2 .4 2 .2 2 .7 2 .2 2 .6 2 .3 2 .9 2 .9 2 .5 2 .5 2 .7 2 1 2 0 2 .8 2 .3 2 1.2 2 .7 2 .7 2 .1 2 .9 2 .9 2 .2 2 .9 2 .5 2 .9 2 .5 2 .1 2 1.2 2 .2 2 .5 2-.1 2 1.2 2 .5 2 .3 2 .6 2 .8 2 .9 2 .6 2 0 2-.1 2 1 2 .4 2 .4 2 1 2 .4 2 .4 2 .2 2 .6 2 .9 2-.4 2 .5 2 1 2 .3 2 .3 2 0 2 1.2 2-.7 2 .9 2 .1 2 .8 2 .4 2 .5 2 0 2 .9 2 .2 2 .5 2 .5 2-.8 2 .7 2 .7 2-.2 2 1.2 2-.1 2-.4 2 .6 2 1.5 2 .7 2-.5 2-.3 2 .7 2 .1 2 .1 2 .8 2 0 2 .1 2 .4 2 .3 2 1.1 2-.4 2 .8 2-.3 2 .1 2 1.3 2 1 2-.5 2 0 2-.2 2 .1 2 1 2 .3 2-.4 2 1.2 2-.5 2 .6 2 0 2 .4 2 .2 2 .1 2 1.1 2-.2 2 .4 2 .1 2 .3 2 .7 2 .3 2 .3 2 .1 2-.3 2 .8 2-.3 2 .7 2 .6 2 .5 2-.3 2-.1 2 .9 2-.9 2 .2 2 .8 2 .5 2-.5 2 .8 2 1.1 2-.4 2 .3 2 .4 2 .8 2-1.1 2 .8 2-.3 2-.1 2-.3 2 .8 2 .4 2-.2 2 0 2 .7 2-.6 2 .4 2 .4 2-.4 2 1 2-.4"/>
<path stroke="#ebbb4c" d="M89.7 670.6l2 .8 2-.7 2 .4 2 .6 2-.5 2 .2 2-.2 2 .1 2 0 2-.3 2-.6 2 .2 2 .2 2-.7 2 .8 2 .4 2 0 2-.7 2-.6 2 0 2-.5 2 .6 2-.3 2 0 2-.1 2-.5 2 .5 2-2 2 1.2 2-.5 2 .2 2 .6 2 .6 2 1.6 2-.6 2-.7 2 .5 2-1.1M209.7 504.0l2-1.2 2-.8 2-.7 2 .2 2 .4 2-.6 2 .4 2 .7 2 1.6 2 1.7 2 1.3 2 1.5 2 1.6 2 1.7 2 1.7 2 1.5 2 1.3 2 1.1 2 1.7 2 1.2 2 1.9 2 1.6 2 1.3 2 1 2 .5 2 1.4 2 2.3 2 1.6 2 .7 2 1.6 2 2 2 .5 2 1.7 2 1 2 1.7 2 1.2 2 1.6 2 1.6 2 1.1 2 1.6 2 .8 2 2 2 1.8 2 .4 2 1.1 2 .9 2 1.1 2 1.9 2 .7 2 1.1 2 1 2 2.2 2 .6 2 1.1 2 1.4 2 .7 2 .7 2 1.1 2 .8 2 1.4 2 1.4 2 1.2 2 1.5 2 .2 2 1.6 2 1.1 2 .5 2 1.5 2 1 2 .8 2 1.1 2 .8 2 .6 2 1 2 1.9 2 .7 2 0 2 1.4 2 1.5 2 .5 2 .4 2 1.3 2 .2 2 1 2 .7 2 1.4 2 .4 2 .6 2 1.8 2 .3 2 .8 2 .6 2 .6 2 1 2 .4 2 .1 2 .8 2 .5 2 .7 2 .7 2 1.1 2 .9 2 .3 2 .7 2 1 2 1.5 2 .2 2 1.2 2 0 2 1.1 2 .2 2 .3 2 .6 2 0 2 1.3 2 .8 2-.2 2 .7 2 .6 2 1.1 2 .8 2 .9 2 1 2 .6 2 .3 2 .6 2-.4 2 1.7 2 .4 2-.1 2 1.5 2 .8 2 .4 2 .2 2-.3 2 .5 2 .3 2 .6 2-.1 2 .6 2 .9 2 .4 2 .5 2 0 2 1.1 2 .2 2 0 2 1.2 2 .8 2-.4 2 .4 2 .6 2 .4 2 .4 2 .1 2 .5 2 0 2 1.1 2 .6 2 0 2 .6 2 0 2 .4 2 .4 2 .3 2 .6 2 .8 2 .2 2 .4 2 0 2 .3 2 0 2 .7 2-.2 2 .6 2 .6 2-.2 2 .5 2 .9 2 .1 2 .1 2 .8 2 0 2 .4 2-.1 2 .9 2-.3 2 .4 2-.1 2 1.2 2-.5 2 0 2 .4 2 .8 2 0 2 1.1 2 .4 2 .3 2 .1 2 0 2 .9 2-.8 2 1.2 2 0 2 .1 2-.4 2 1.1 2 .7 2-1 2 .3 2 .6 2 .2 2 .1 2 .3 2 .5 2 .9 2-1 2 .8 2 .1 2-.4 2 .5 2-.8 2 .9 2 .7 2 .1 2 .1 2 .1 2-.3 2 .4 2-.8 2 .9 2-.1 2-.2 2 1.1 2 .1 2-.6 2 .6 2 .1 2 .1 2 .3 2 .1 2 .6 2 .2 2-1 2 1 2-.1 2-.6 2 .4 2 .9 2-.2 2 0 2 .3 2-.5 2 0 2 .2"/>
<path stroke="#ebbb4c" d="M89.7 667.1l2 .1 2-.2 2-.1 2 .2 2 .1 2 .4 2-.3 2 0 2-.5 2 .9 2-.4 2-.5 2 .2 2-.6 2 .2 2-.4 2-.1 2-.5 2 .7 2-.2 2 .2 2 0 2-.6 2 0 2-.5 2 .2 2-.7 2-.2 2 1 2-.8 2 .3 2-.3 2 .4 2 0 2 .7 2 .4 2 .4 2-.3 2-.2 2 0 2-.9M215.7 499.7l2-.9 2-.9 2 .2 2 .2 2 1.5 2 .8 2 .3 2 1.4 2 2.3 2 1.3 2 1.5 2 1.9 2 .5 2 2 2 1.2 2 2 2-.1 2 1.7 2 .8 2 2.2 2 .8 2 1.4 2 1.2 2 .8 2 1.2 2 1.6 2 1.8 2 .9 2 1 2 1.5 2 1.5 2 1.4 2 1.9 2 1 2 .7 2 2.1 2 1 2 .6 2 2 2 .9 2 1.6 2 .8 2 1.8 2 1 2 1.3 2 1 2 1.2 2 2 2-.2 2 1.4 2 1.7 2 .8 2 .7 2 1.7 2 1 2 1.1 2 .7 2 1.3 2 .6 2 .8 2 1.1 2 .6 2 1.5 2 1.3 2 .6 2 1 2 1 2 .8 2 .4 2 1.6 2 1 2 1.2 2 .6 2 1.3 2 1.1 2 .9 2 .2 2 .8 2 1.6 2 .6 2 .7 2 .6 2 1.4 2 .4 2 .6 2 1.2 2 .8 2 1 2 1.3 2 .3 2 .7 2 1.6 2 0 2 .2 2 .8 2 .3 2 1.1 2-.2 2 1.5 2-.3 2 1.7 2 .6 2 1 2 .5 2 .8 2 .7 2 .5 2 .1 2 .5 2 1.1 2 0 2 1.5 2 .9 2 .7 2 0 2 1.2 2 .5 2-.3 2 .5 2 .9 2 1.8 2 .2 2 .3 2 .9 2 1 2-.1 2 1 2 .4 2-.9 2 1.4 2 1.2 2 .4 2-.4 2 1.1 2 0 2 1 2 .4 2 .4 2 1 2 .5 2 .3 2 .2 2 .5 2 .4 2 .7 2 .2 2 .8 2-.3 2 .3 2 .8 2 .5 2 .3 2 .4 2 .4 2 .9 2 .6 2 .4 2-.2 2 .3 2 .7 2 .1 2 .4 2 .6 2 .5 2 .3 2 .7 2-.3 2 .3 2-.4 2 .9 2 .7 2 .2 2-.1 2 .3 2 .9 2 .6 2 .8 2 .1 2 .3 2 .4 2-.6 2 1.5 2-.3 2 0 2 .5 2 .2 2 1.2 2 .1 2 .1 2 .1 2 .4 2 .8 2-.2 2 1.2 2 0 2-.4 2 0 2 .4 2 .5 2 .4 2 .1 2 .5 2 .4 2-.2 2 .5 2 .8 2 .1 2 .3 2-.3 2 1.5 2-.7 2 .9 2 .1 2 .1 2-.5 2 .7 2-.9 2 1.4 2 .2 2-.4 2 .4 2 .8 2 1.1 2-.7 2 .3 2 0 2 .6 2-.5 2 .7 2 .1 2 .5 2-.2 2 .9 2 0 2-.3 2 .4 2 .1 2 .3 2-.2 2 .7 2-.2 2-.5 2 .7 2 .3 2 .2 2-.5 2 .7 2 .6 2 0 2 .2 2-.7 2 .8"/>
<path stroke="#ebbb4c" d="M89.7 669.0l2-.3 2 .4 2 0 2 .1 2-.2 2-.2 2-.2 2 .6 2 0 2-.4 2 .4 2-.8 2 .2 2-.3 2 .6 2-.5 2-.3 2-.3 2 0 2-.7 2 0 2 0 2 .3 2-.9 2 .5 2-.2 2 .2 2 0 2-.2 2 .8 2 .1 2 .8 2-1.1 2 1.4 2-.8 2-1.8M205.7 501.6l2-.7 2-.1 2-1.4 2-.3 2-.1 2-1.2 2 .8 2 .5 2 .6 2 .7 2 1.6 2 1.4 2 2 2 2.3 2 1.5 2 1.4 2 1.7 2 1.3 2 1.1 2 1.5 2 1.9 2 1 2 1.5 2 1.1 2 1.7 2 .7 2 2.5 2 1.5 2 1.1 2 2.4 2 1.4 2 .9 2 2.2 2 1.3 2 .6 2 1.4 2 1.5 2 1.2 2 1.7 2 1.1 2 1.4 2 .6 2 2 2 1.7 2 1.3 2 1.3 2 1.7 2 1.1 2 .3 2 1.9 2 .7 2 .7 2 .9 2 2.1 2 .5 2 1.9 2 .4 2 1.6 2 1.5 2 .9 2 1.2 2 1.6 2 .1 2 1.9 2 .5 2 1.5 2 1.7 2 1 2 .7 2 .8 2 .9 2 1.4 2 1.1 2 1.5 2 .3 2 .9 2 1.9 2-.2 2 .8 2 .7 2 1.9 2 .6 2 .8 2 1.4 2 .6 2 .8 2 .3 2 .9 2 .4 2 1.5 2 1.2 2 0 2 1 2 .8 2 .6 2 1.5 2 .4 2 1.2 2 0 2 .5 2 .6 2 .5 2 1.1 2 .4 2 .4 2 1.3 2 .7 2-.1 2 1.6 2 1.1 2 1.1 2-.2 2 2 2-.4 2 .4 2 .8 2 .3 2 1.4 2 .3 2 .6 2 .8 2 .4 2 .4 2 .3 2 1.3 2 .4 2 .5 2 .5 2 1.1 2 .4 2 .3 2-.1 2 .8 2 .3 2-.5 2 1.1 2 1 2 .4 2-.3 2 1.2 2-.3 2 .8 2 .5 2 1.1 2-.1 2 1.4 2-.1 2 0 2 .7 2 1 2-.5 2 .4 2 .8 2 .3 2 .3 2 .5 2-.1 2 .4 2 .4 2 .5 2 1.1 2 .1 2-.2 2 1.7 2 .1 2 .6 2 .1 2-.3 2-.1 2 .5 2 .4 2 .3 2 1.5 2-.7 2 .5 2 .5 2 .4 2 .6 2-.3 2 1.1 2 .8 2-.1 2 .4 2 .1 2-.5 2 .7 2 .1 2-.2 2 1.5 2-.2 2 .3 2 .4 2 0 2 1.4 2 .1 2 .4 2 .3 2 .4 2 .4 2-.3 2 .1 2 .8 2-.5 2 .6 2 .4 2 .6 2-1 2 .3 2 .8 2 .1 2 .5 2-.3 2 .3 2-.2 2 .4 2 .9 2 .2 2-.5 2 1 2-.3 2-.4 2 .8 2-.4 2 .4 2 .1 2 1 2 0 2-.2 2-.1 2 .3 2-.2 2 .7 2-.3 2 .1 2-.2 2 .3 2-.2 2 .2 2 .5 2 0 2-.2 2 1 2-.4 2-.5 2 .7 2-.3 2 0 2 .1 2 .4 2 1 2-.9 2-.2 2-.4 2 .1 2-.6 2 .4 2 .9"/>
<path stroke="#ebbb4c" d="M89.7 670.5l2-.2 2 .6 2-.5 2-.4 2 .1 2 .1 2 .2 2 .4 2-.1 2-.1 2-.6 2-.3 2 .4 2 0 2-.2 2-.4 2 .2 2 .2 2-1.2 2 .4 2-.1 2 .2 2 .1 2-.7 2 .9 2-.7 2-.5 2-.6 2 .6 2 0 2 .2 2 .1 2 .4 2 .7 2-.4 2 .2 2 .1 2-.6M211.7 499.2l2-1.3 2-.7 2-.6 2 1.1 2-.9 2-.3 2 .9 2 2.6 2 .1 2 2.2 2 1.4 2 2.1 2 1.4 2 1.8 2 .6 2 1.4 2 2.1 2 1 2 1.5 2 .8 2 1.4 2 2.4 2 .2 2 1 2 2 2 1.1 2 1.2 2 1.8 2 1.2 2 .7 2 1.9 2 1.3 2 1.6 2 1.3 2 1.7 2 1 2 1 2 1.5 2 1.6 2 1.8 2 1.2 2 .5 2 1.3 2 2 2 .8 2 1.2 2 1.4 2 1.4 2 .2 2 1.6 2 2.1 2 .9 2 .3 2 1.2 2 1 2 1 2 1.4 2 1.3 2 1.1 2 .7 2 2.2 2 0 2 .5 2 1.8 2 1.1 2 0 2 1.8 2 1.6 2 1.2 2 1 2 1.1 2 .8 2 .8 2 .6 2 1.3 2 1.1 2 .6 2 .8 2 1 2 1.6 2-.6 2 1.4 2 .9 2 1 2 .3 2 .8 2 1.4 2 .4 2 1.1 2 .2 2 1.1 2 .9 2 .1 2 .6 2 .7 2 1.3 2 .1 2 1.2 2 .3 2 1.2 2 0 2 1.3 2 .6 2 .4 2 2 2 .3 2-.3 2 1.8 2 .4 2 0 2 .7 2 1.3 2 .3 2 1 2 .2 2 0 2 .9 2 .8 2 .4 2 .8 2 .7 2 1 2 .7 2 .4 2 1.2 2-.4 2-.4 2 .9 2 .2 2 1.7 2 .2 2 1.1 2 .5 2 .9 2 .7 2-.2 2 .8 2 .2 2 .6 2 .3 2 1.1 2 .3 2 .1 2 .1 2 1 2 .3 2 .4 2 0 2 .9 2 .4 2 .7 2-.2 2 1 2-.2 2 .8 2 .6 2 .1 2 .5 2-.5 2 1.2 2 .2 2 .9 2 .9 2-.5 2 .3 2 1 2 .2 2 0 2 .7 2 1 2-.7 2 .5 2-.3 2 .8 2 .2 2 .4 2 1.2 2-.1 2 1 2 0 2 .5 2 0 2 .7 2-.5 2 1 2 .7 2-.6 2 .8 2 .2 2 .6 2-.1 2 .4 2 .5 2-.4 2 .4 2 .4 2 0 2 1.3 2-.2 2 .4 2 0 2 .2 2 .3 2 .5 2-.1 2 .7 2-.1 2 .5 2 1 2 .6 2-.4 2-.1 2 .3 2 .7 2 .4 2 .2 2 .4 2-.5 2 .3 2-.2 2 .4 2-.2 2 .8 2-.1 2 .4 2-.2 2-.5 2 .1 2 .1 2 .7 2-.1 2-.3 2 1 2 .4 2 .5 2 .3 2 .1 2-.2 2 .5 2 .4 2 .3 2 .2 2-1.2 2 1.2 2-.1 2 .4 2-.1 2 .3 2-.4 2-.7 2 .9 2-.4 2 .4 2 0"/>
<path stroke="#ebbb4c" d="M89.7 673.0l2 0 2-.4 2 .2 2-.3 2 .6 2-.3 2-.2 2 .7 2-.7 2-.6 2 .6 2 .1 2-.9 2 .3 2-.3 2 1 2-.9 2 .1 2-.2 2-.5 2 .3 2-.1 2 .7 2-1.2 2-.3 2 .6 2-.1 2-.3 2 .1 2 .6 2-.4 2 1.1 2 .3 2-1 2-.4 2-1.8M205.7 502.0l2-1.6 2-.5 2-1.3 2-.4 2 0 2 .1 2-.4 2 .9 2 .5 2 1.1 2 1.8 2 1.5M231.7 506.4l2 1.2 2 1.7 2 .9 2 2.3 2 1.1 2 1.7 2 1.6 2 1.5 2 1.1 2 1 2 1.8 2 1.2 2 1.3 2 1.5 2 1.8 2 1.5M265.7 532.3l2 1.5 2 1.3 2 1.3 2 1.8 2 1.9 2 1.1 2 1.9 2 .4 2 2 2 .6 2 1.2 2 1.6 2 2.4 2 1 2 1.8 2 1.4 2 .6 2 1.7 2 1.6 2 .7 2 .6 2 1.2 2 1.8 2 1.7 2 1.1 2 1 2 .8 2 1.5 2 .6 2 .8 2 2.2 2 .6 2 .5 2 1.8 2 1 2 .9 2 1.8 2 .9 2 1.6 2 .3 2 1.3 2 1 2 1.8 2-.3 2 1.2 2 1.2 2 0 2 2.1 2 .1 2 1.4 2-.7M369.7 594.7l2 .5 2 .7 2 .1 2 1.1 2 1 2 1.1 2 0 2 1.7 2 .5 2 .1 2 1.7 2 .6 2 .3 2 .9 2 1.6 2 .3 2 .1 2 1.5 2 .3 2 .7 2 1.1 2-.1 2 1 2 .4 2 1.3 2 .6 2 .8 2 .5 2 1.1 2 .6 2 0 2 1.2 2 .4 2 .8 2 .7 2 1 2 .7 2 0 2 1.1 2 .9 2-.4 2 1.9 2-.2 2 .8 2 1 2 .3 2 .1 2 0 2 .7 2 1 2 .8 2 1 2 0 2 .8 2-.2 2 .3 2 .3 2 .2 2 .6 2 .5 2 .8 2-.1 2 .6 2 .2 2 .3 2 .9 2 .6 2-.3 2 .2 2 1.5 2 0 2 .8 2 .1 2 .5 2 .7 2 .4 2 .1 2 .9 2 0 2 .4 2 1.1 2-.3 2 0 2 1.4 2-.3 2 .6 2 .7 2-.9 2 .2 2 .9 2 .4 2-.3 2 .6 2 .7 2-.1 2 .7 2 .4 2-.1 2 .8 2-.1 2 .6 2 .3 2 .4 2-.1 2 .2 2 .5 2 1 2-.2 2 1 2 .4 2-.1 2-.2 2 .2 2 .1 2 .2 2 .4 2 .5 2-.1 2 .4 2-.1 2 .4 2 .4 2 .9 2-.1 2 0 2-.2 2 .5 2 .3 2 .4 2-.5 2 .4 2 0 2 .2 2-.5 2 .8 2 .1 2 .2 2 .6 2-.2 2 .2 2 .4 2 .2 2 .4 2-.2 2 .1 2 .5 2-.2 2 .2 2-.5 2 .3 2-.2 2 .8 2-.4 2 .5 2 .1 2-.3 2 .4 2 .3 2-.4 2 .2 2-.5 2-.2 2 .9 2 0 2 .6 2 .1 2-.7 2 .2 2 0 2-.2 2 .6 2 .4 2-.9 2 .4 2-.3"/>
<path stroke="#ebbb4c" d="M89.7 669.6l2-.6 2 1 2-.5 2 .2 2-.4 2 .6 2 .1 2 .2 2-.3 2-.4 2-.4 2 .9 2-1.3 2 .3 2 .1 2 .3 2-.3 2 .9 2-1 2 .5 2-.5 2-.3 2-.4 2 .4 2-.7 2 .1 2-.5 2 .1 2 .1 2 .2 2-.6 2-.2 2 1.4 2 .6 2 .2 2-.2 2 .7 2-1.3 2-1.5M211.7 500.4l2-1.4 2-1.5 2 .2 2-.8 2 .8 2 .2 2 1.2 2 .7 2 1.5 2 2 2 .9 2 2.2 2 2.3 2 1.2 2 2.1 2 1.3 2 .8 2 2.1 2 .6 2 1.9 2 .8 2 .6 2 2 2 1.1 2 .9 2 2.1 2 1.4 2 2 2 1.3 2 1.4 2 1.3 2 1.5 2 .9 2 1.5 2 1.4 2 1.4 2 1.8 2 .9 2 1.1 2 1.8 2 1.9 2 .7 2 .8 2 1.3 2 2.1 2 .2 2 1.6 2 .3 2 1.6 2 .7 2 1.5 2 1.6 2 .9 2 1.5 2 1.1 2 .9 2 1.4 2 .7 2 1.2 2 1.4 2 1.5 2 .5 2 1.1 2 .9 2 1.2 2 1 2 .5 2 1.8 2 .7 2 1.6 2 .7 2 1.2 2 .9 2 .9 2 1.4 2 .4 2 1.3 2 .7 2 1.3 2-.1 2 .9 2 1.2 2 .6 2 1.3 2 .5 2 1.3 2 .4 2 1.1 2 .4 2 1.2 2 .9 2 .2 2 1 2 0 2 1.4 2 .5 2 .9 2 1 2 1.1 2 .2 2 .5 2 1 2 .7 2 .7 2 1.1 2 0 2 .8 2 .5 2 .3 2 1.8 2 0 2 .5 2 .3 2 1 2 .9 2 .1 2 .6 2 1.5 2-.1 2 1.2 2 1.1 2 0 2 .8 2 1 2-1 2 1.6 2 .3 2 0 2-.2 2 1.5 2 .1 2 1.3 2 .3 2 .9 2 .6 2-.2 2 .2 2 .4 2 1 2 .9 2 .5 2-.1 2 .4 2 .4 2 1.1 2 .5 2-.2 2 .5 2-.1 2 .8 2-.1 2 0 2 .4 2 .4 2 1.4 2 .6 2 .2 2 .7 2 .9 2-.7 2 1.1 2 .2 2 .4 2-.1 2 .6 2 0 2-.1 2 1.5 2-.1 2 1.2 2-.7 2 .9 2 .7 2 .5 2-.3 2-.4 2 .7 2 1 2 .9 2-1 2 1.5 2 .8 2-.3 2 .1 2-.2 2 1 2 .4 2 0 2 .6 2-.1 2 .4 2-.1 2 .7 2 .3 2 .1 2 .3 2 1 2 .2 2-.1 2 .1 2-.8 2 .7 2 0 2 .6 2 .4 2 .2 2 0 2 .6 2-.3 2 1.2 2-.1 2 .5 2 .9 2-.8 2 .3 2 .6 2 .3 2-.7 2 1.1 2-.2 2 .4 2-.4 2 .5 2-.2 2-.2 2 .5 2 1.2 2 .2 2 .8 2-.7 2-.2 2 .7 2 .2 2-.4 2 .6 2-.3 2-.4 2 .8 2-.1 2-.3 2 .8 2-.1 2 .2 2 .7 2-.9 2 1.2 2-.2 2 .4 2 0 2 .3 2-.5 2-.2 2 .1 2 1.1"/>
<path stroke="#ebbb4c" d="M89.7 669.6l2-.6 2 .8 2-1 2 .8 2 .8 2-.9 2 1.1 2-.3 2-.4 2 .7 2-.6 2 .4 2 0 2-1.1 2 0 2 .2 2-.5 2 .3 2 .6 2-.2 2-1.5 2 0 2 1.2 2-1.2 2-.2 2 .6 2-.6 2 .6 2-.1 2-.6 2 .3 2 .1 2 .1 2 .4 2 .5 2 .3 2 .3 2 .1 2-1 2 .9 2-1.2M217.7 498.1l2-.8 2-.5 2 .7 2 .6 2 .7 2 1 2 1.5 2 1.1 2 1.8 2 2.2 2 1.2 2 1.8 2 1.3 2 1.4 2 .9 2 1.5 2 .8 2 1 2 1.2 2 1.9 2 .8 2 1.1 2 2.2 2 .7 2 .6 2 2.1 2 1.4 2 1.1 2 1.6 2 1 2 1.8 2 1.5 2 1.5 2 .9 2 1.3 2 1.3 2 1.2 2 .3 2 1.7 2 1.3 2 .8 2 1.7 2 1 2 1.8 2 .3 2 2.2 2 .1 2 1.4 2 1.3 2 .6 2 1 2 .9 2 .8 2 1.4 2 .9 2 1.2 2 .6 2 1.4 2 1.7 2 1 2 1 2 .9 2 .3 2 1.5 2 .9 2 1.6 2 1.1 2 .3 2 1.9 2 .6 2 1.3 2 .4 2-.2 2 2.1 2 0 2 .7 2 1.6 2 .7 2 .6 2 1 2 1.6 2 .7 2-.1 2 1.6 2 .5 2 .7 2 1.2 2 .7 2 .9 2 .9 2 .7 2 1 2 .6 2 .7 2 .2 2 .9 2 .9 2-.3 2 1.1 2 .8 2 .7 2 .7 2 .8 2 .7 2 .7 2 .9 2 .1 2 1 2-.6 2 1.7 2-.4 2 1 2 .4 2 .3 2 1.5 2-.6 2 1.2 2 1.1 2 .6 2 .3 2 1.3 2-.5 2 1.2 2 .6 2 .8 2 .9 2 .4 2 .9 2-.3 2 1.2 2 .6 2 .8 2 .2 2 .5 2 .5 2 1.1 2 .4 2 .5 2 .8 2 .1 2 0 2 .7 2 .5 2 .9 2-.1 2 .6 2-.1 2 .6 2 .3 2 .4 2 .8 2 .5 2 0 2 1 2-.2 2 .7 2 .7 2-.5 2-.1 2 1.5 2 .1 2 .4 2 .7 2 1.1 2-.5 2 .7 2 0 2-.2 2 1.1 2 .3 2-.1 2 .3 2 .8 2-.3 2 .6 2 .2 2 .9 2 .2 2 0 2 1 2 .4 2-.1 2 .3 2 .7 2 .6 2-.7 2 .7 2 .2 2 .7 2-.4 2 .7 2 .3 2 .7 2-.4 2 1.3 2-.2 2 .8 2-.6 2 1.2 2-1 2 .9 2 0 2 .4 2-.4 2 .8 2 .5 2 .6 2 .2 2 .2 2 1 2-.2 2 0 2 .3 2 .5 2 .6 2-.4 2 .5 2 .8 2-.1 2 .8 2-1 2 .9 2 .2 2-.2 2 1 2-.4 2 .5 2 .3 2-.7 2 .5 2 .4 2-.1 2 .7 2 .2 2 .3 2-.2 2 .8 2 0 2-.6 2 .9 2-.2 2 .4 2 .4 2 .1 2-.2 2 .1 2-.3 2 .5 2 0 2 .2 2 .3"/>
<path stroke="#ebbb4c" d="M89.7 670.0l2 .9 2-.3 2-.3 2 .4 2-.6 2 .1 2 .1 2 .2 2-.3 2 .1 2-.8 2 .2 2-.1 2-.1 2-.4 2 .2 2-.4 2-.1 2 .4 2-.4 2 .2 2-.3 2-.2 2-.8 2 .7 2-.8 2 .3 2 .4 2 0 2-.2 2 .3 2 1 2 .2 2-.2 2-.4 2-.1 2-.7M207.7 501.3l2-2.6 2-2.2 2-.1 2-.7 2-.5 2 .1 2 0 2 .3 2 .6 2 2.2 2 1.1 2 2.2 2 2.2 2 2 2 .7M239.7 509.6l2 .4 2 1.3 2 1 2 1.5 2 .9 2 1.6 2 1.3 2 2 2 1.1 2 1.2 2 2.5 2 1.4 2 2.1 2 1 2 2 2 .8 2 2.1 2 1 2 1.6 2 1 2 1.2 2 .8 2 2.2 2 1.6 2 1 2 1.7 2 1.9 2 .5 2 1.4 2 .8 2 1.5 2 2.1 2 .9 2 .4 2 1.9 2 1.7 2 1 2 1.4 2 1.6 2 1.6 2-.1 2 1.6 2 1 2 1.2 2 .8 2 1.1 2 .4 2 1.6 2 .6 2 1.7 2 .7 2 1.8 2 1.9 2 0 2 .7 2 1.2 2 1.7 2-.1 2 1.1 2 1.5 2 1 2 .2 2 1.4 2 .9 2 1.3 2 .5 2 1.4 2 .5 2 1.2 2-.2 2 1.6 2 .7 2 .4 2 .8 2 1.4 2 .2 2 .7 2 .8 2 1.1 2 .3 2 .7 2 1.2 2 .9 2 .3 2 .4 2 .8 2 1.4 2 .7 2 1.2 2 .2 2-.1 2 .3 2 1 2 .9 2 1.1 2 .1 2 1 2 1.1 2 .8 2 .4 2 .4 2 .1 2 1.3 2 .8 2 .6 2 .8 2 0 2 1.4 2 .2 2 .8 2 0 2 .8 2 .9 2 .4 2 .5 2 .1 2 .9 2 .6 2 1.1 2 .7 2 .2 2 0 2 .1 2 .5 2 0 2 1.3 2 .3 2 .5 2 .9 2 .7 2-.1 2-.3 2 1.2 2-.3 2 .5 2 .8 2 .4 2 .8 2 .1 2-.1 2 .6 2 .7 2 .5 2 .9 2 .4 2 .9 2 .2 2 0 2 .7 2-.3 2 .4 2 .4 2 .6 2 .6 2-.2 2 1.6 2-.1 2 .5 2-.5 2 .1 2 .1 2 1.3 2-.1 2 1 2 0 2 0 2 1.1 2 0 2 .3 2-.2 2 .2 2 1 2-.2 2 .8 2 .9 2-.2 2 .1 2 .4 2 .2 2-.7 2 .6 2-.1 2 .3 2 .9 2-.7 2 1.2 2 .4 2 .5 2-.2 2 .1 2 .1 2 .3 2 .2 2 .8 2 .2 2 .4 2 0 2 .3 2 .1 2 .3 2-.7 2 .9 2-.2 2 .6 2-.3 2-.1 2 .4 2 .1 2 .4 2 .2 2-.1 2 .2 2 .5 2 .4 2 0 2 .7 2-.6 2 .6 2 .1 2-.3 2 .5 2-.1 2 .4 2-.2 2 .5 2 .2 2 .3 2-.8 2 .9 2-.4 2 0 2-.1 2 .4 2 .4 2 0 2-.5 2 .2 2 .3 2 0 2-.1"/>
<path stroke="#ebbb4c" d="M89.7 666.1l2 0 2 1.4 2-.7 2 .4 2-.5 2 .5 2 0 2-.2 2 .5 2-.8 2 .6 2-.4 2 0 2-.5 2 .4 2 .2 2-.6 2 0 2 .8 2-1.1 2 .5 2-.4 2-.6 2 .4 2-.9 2 .4 2-.1 2 .7 2-1 2 .2 2-.7 2 1.1 2-.8 2 1.3 2 .6 2-.4 2-.6 2 .1 2 .3 2-1.3M213.7 498.2l2-2.1 2-1.4 2-.9 2 .3 2 .2 2 .5 2 .7 2 2.4 2 1.3 2 1.1M235.7 503.1l2 1.3 2 1.2 2 2 2 1.1 2 1.3 2 .9 2 1.7 2 1.7 2 1.1 2 .7 2 2.1 2 .8 2 1.6 2 1.9 2 .5 2 2.1 2 1.2 2 .6 2 1.2M275.7 530.8l2 1 2 1 2 1.8 2 .5 2 1.3 2 1.4 2 2.2 2 .7 2 1.6 2 1.3 2 1.1 2 .8 2 1.8 2 1 2 1.4 2 .2 2 1.5 2 2 2 .3 2 .8 2 2.2 2 1 2 .4 2 1.8 2 1.7 2 .3 2 .8 2 1.5 2 .9 2 .8 2 1.5 2 .8 2 1.3 2 1.1 2 1.4 2 .8 2 1.2 2 .4 2 1.4 2 1.1 2 .4 2 .9 2 2 2 .3 2 .9 2 1.4 2 1.1 2 0 2 1 2 .6 2 1.9 2 .8 2 .4 2 .2 2 .6 2 .8 2 1.7 2 1.3 2 .1 2 .6 2 .8 2 .4 2 1.2 2 1.3 2-.4 2 1.3 2 .8 2 .3 2-.1 2 1.3 2 .4 2 1.4 2 0 2 1.4 2 .5 2 .7 2 .5 2 .9 2 .6 2 .5 2 .6 2 .9 2 .8 2 .7 2 .2 2 1.1 2 1.2 2 .4 2 .2 2 .1 2 1.5 2-.3 2 1.3 2 .9 2 .7 2 0 2 1.3 2-.2 2 0 2 1.6 2 .3 2 .5 2-.2 2 1.2 2 .3 2 .9 2-.1 2 .6 2 .6 2 1.3 2 .1 2 0 2 .4 2 .2 2 0 2 1 2 .4 2 .9 2 .7 2 .6 2 .3 2 .7 2 .1 2 .1 2 .6 2 .2 2 1.4 2-.1 2 .2 2 0 2 .6 2 .6 2 .3 2 .1 2 .6 2 0 2 .5 2 .1 2 .6 2 .6 2 .5 2-.4 2 1 2 .2 2-.8 2 1.5 2 .3 2 .9 2 .1 2 .1 2 .7 2-.6 2 1.3 2 .5 2 .7 2-.2 2 .4 2 .2 2 .7 2-.3 2 .9 2 0 2 .3 2 .4 2 .1 2 0 2 .2 2 1.3 2-1.1 2 .8 2 .3 2 .4 2 .8 2-.6 2 .2 2 .7 2-.3 2 .7 2 .6 2-.3 2 .3 2 .3 2 .5 2-.3 2 1 2-.1 2 .3 2 0 2 0 2 .9 2-.2 2 .3 2 .7 2 .4 2 .2 2-.2 2-.3 2 .6 2 .2 2 .2 2-.2 2 .3 2 .4 2 .2 2 .4 2-.4 2 .6 2-.1 2 .4 2 .6 2-.4 2 .2 2-.5 2 .3 2 0 2 .7 2-.1 2 .2 2-.4 2 .6 2 .2 2 .1"/>
<path stroke="#ebbb4c" d="M89.7 670.7l2 .1 2 0 2 .3 2 0 2 .1 2-.5 2 .3 2 .2 2-1.1 2 .3 2 .1 2-.8 2 .5 2 .3 2 0 2-.5 2-.1 2-.2 2 .3 2-1.2 2 .9 2 0 2-.4 2 .4 2-.3 2-.1 2-.3 2-.7 2 .2 2 .7 2 .5 2 1.1 2-.7 2 .4 2-.2 2-.4M207.7 498.8l2-2.1 2-.7 2-.9 2-1 2-.2 2 .3 2 .4 2 .5 2 1.4 2 1.2 2 1.9 2 2.4 2 1.5 2 1.5 2 1.9 2 1.9 2 .9 2 1.1 2 1.6 2 2.6 2 .7 2 1.2 2 1.5 2 2.1 2 1.1 2 1.1 2 2 2 1.9 2 2 2 1.2 2 1.6 2 2 2 1.2 2 1.1 2 1.4 2 1.8 2 1 2 1.9 2 1.5 2 1.2 2 1.7 2 1.2 2 1.4 2 .7 2 1.9 2 .6 2 2.5 2 .6 2 1.2 2 1.5 2 .6 2 1.4 2 .8 2 .9 2 2.1 2 1.1 2 1.4 2 1.6 2 .8 2 1.7 2 1 2 1.4 2 .9 2 1 2 .4 2 1.9 2 1 2 .3 2 1.3 2 1.6 2 .1M351.7 583.8l2 .1 2 .9 2 .5 2 1.4 2 .8 2 1 2 .6 2 2.2 2 .5 2 .6 2 .1 2 .4 2 .8 2 2 2 .8 2 1.1 2 .9 2 1.1 2 0 2 .6 2 .3 2 1.1 2-.1 2 2.3 2 .6 2 1 2 .2 2 .3 2 1.4 2-.4 2 1.7 2 .8 2 1.6 2 .6 2-.4 2 1.7 2 .5 2 .4 2 .5 2 .2 2 1.2 2 .9 2 .5 2 .5 2 1.3 2 .3 2 .9 2 .1 2 .7 2 .5 2 .4 2 1.5 2 .8 2 .2 2 .7 2 .4 2 0 2 .6 2 0 2 .7 2 .6 2 .9 2 .3 2 .7 2 0 2 .7 2 .6 2-.1 2 .7 2 .6 2 1.1 2 0 2 .6 2 1.2 2-.2 2 .1 2 1.1 2 .3 2-.2 2 .3 2 .7 2 .8 2 .3 2-.3 2 1 2-.3 2 .4 2 1.1 2 .1 2 .2 2 .3 2 .9 2 .4 2 .5 2 .1 2 1 2 .2 2 .5 2 .1 2 .1 2 .6 2 .5 2 0 2 .3 2 .4 2 .3 2 .6 2-.1 2 .9 2 .4 2-.1 2 .7 2-.3 2 .2 2 .7 2 .2 2 .3 2 .2 2 .2 2 .1 2 .7 2-.3 2 1.4 2 0 2-.1 2 .7 2-.2 2-.1 2 .1 2 1.1 2 .2 2 .7 2 .1 2-.1 2 .7 2-.8 2 .1 2-.4 2 1.2 2-.3 2 .8 2 .2 2-.3 2 .3 2 .8 2-.6 2 .6 2 .3 2 .1 2 .3 2 .3 2 0 2 1 2-1 2 0 2 .7 2-.3 2 .4 2-.2 2-.1 2 .1 2 1.4 2-1.3 2 .4 2 0 2 .4 2-.2 2 0 2 0 2 .1 2 .5 2 .2 2 0 2-.2 2 .1 2 .4 2-.5 2 .7 2-.3 2-.1 2 .9 2-.1 2 .1 2-1.4"/>
<path stroke="#ebbb4c" d="M89.7 670.1l2-1.3 2 .9 2-.1 2 .6 2-.4 2 .9 2-.3 2-.2 2-.4 2 .2 2 .1 2-.4 2 .2 2 .5 2-.6 2 .2 2-.6 2 0 2-.1 2 .3 2-.7 2-.1 2-.4 2 .6 2-.2 2 0 2-.4 2 .3 2-.1 2 .3 2-.8 2 .5 2 .7 2 .1 2 .5 2-.2 2-.3 2-.3 2-.6M213.7 497.1l2-1.9 2-.4 2-.6 2 .3 2-.1 2 .9 2 1.5 2 1.2 2 1.4 2 1.3M235.7 503.4l2 2.1 2 .4 2 2 2 1.5 2 1.1 2 1.2 2 1.2 2 .7 2 2.1 2 1 2 1.4 2 1.8 2 2 2 .4 2 2.3 2 1.8 2 .7 2 1.8 2 1.4 2 1 2 1.7 2 1.5 2 1.6 2 .7 2 2.3 2 1.8 2 .4 2 1.6 2 .1 2 2.2 2 1.3 2 .9 2 1.5 2 1.1 2 1.8 2 1.1 2 .5 2 1.9 2 .7 2 .9 2 1.2 2 1.6 2 1 2 1.3 2 1.4 2 1.2 2 .5 2 1.5 2 1 2 .1 2 1.4 2 1.7 2 1.4 2 .8 2 1 2 .7 2 1.3 2 .3 2 1.5 2 1.1 2 .6 2 .8 2 1 2 1.1 2 .7 2 1 2 .8 2 1.3 2 .8 2 1 2 1.2 2 .2 2 1.3 2 .5 2 1.2 2 .3 2 .6 2 1.2 2 1 2 .3 2 1 2 .3 2 .8 2 .8 2 1.5 2 .8 2 .3 2-.1 2 1.5 2 .8 2 .9 2-.3 2 1.3 2 .9 2 .5 2 .7 2 .4 2 .8 2 .7 2 1.1 2 .8 2 .3 2 1.4 2 .3 2 .1 2 .7 2 0 2 1.9 2 .1 2 .9 2 .3 2 .6 2 1.1 2 .3 2 1 2-.2 2 1.4 2 .1 2 .3 2 .5 2 .7 2 .7 2 .7 2 .8 2 0 2 .2 2 .1 2 1.2 2 0 2 .9 2 .4 2 .8 2-.1 2 .9 2 .4 2-.3 2 1.5 2 .1 2 0 2 .6 2 .3 2-.2 2 .4 2 .6 2 .3 2 .8 2 .4 2 0 2 .4 2 1.2 2-.5 2 0 2 .8 2 1.1 2-.3 2 1 2-.2 2 1 2 .3 2 .6 2 .2 2 .4 2 .9 2 .2 2 .6 2-.3 2 .3 2 .5 2 .1 2 .5 2 .6 2 .7 2-.4 2 .6 2 .9 2-.3 2 .2 2 1 2-.7 2 .3 2 .9 2-.4 2 .4 2 .2 2 .8 2-.5 2 .8 2 .9 2 .1 2 .3 2 .5 2-.4 2 .1 2 1 2 0 2 .1 2 .1 2 .5 2 .4 2-.1 2 .9 2 .1 2 .2 2-.3 2 .2 2 .8 2 .7 2-.6 2 0 2 .4 2 .6 2-.5 2 .8 2-.1 2 .3 2-.2 2 .8 2-.8 2 .2 2-.4 2 1.5 2 .6 2-.6 2 .8 2-.2 2 .6 2-1.1 2 .2 2 0 2 .4 2 .7 2-.7 2 .4 2 0 2 .7 2-.2 2 .3 2 .4 2 .3 2 .2 2-.2 2 .8"/>
<path stroke="#ebbb4c" stroke-opacity="0.5" d="M161.7 666.4l2-4.4 2-4.6 2-8.2 2-6.9 2-7.1 2-6.9 2-5 2-5.7 2-6.3 2-7.9 2-8.5 2-10 2-11.8 2-10.1 2-11 2-10.1 2-10.3 2-8.3 2-7.7 2-5.8 2-3.3"/>
<path stroke="#ebbb4c" stroke-opacity="0.5" d="M165.7 669.5l2-3.2 2-5.8 2-7.2 2-7.6 2-6.8 2-6.1 2-5.6 2-6.1 2-6.7 2-7.1 2-8.5 2-9.8 2-10.7 2-10.8 2-10.4 2-10.5 2-10.7 2-8.7 2-8.2 2-7.1 2-4.5 2-3.4"/>
<path stroke="#ebbb4c" stroke-opacity="0.5" d="M171.7 665.2l2-2.9 2-4.1 2-7.9 2-8 2-6.7 2-6.6 2-5.3 2-5.9 2-5.5 2-8.1 2-7.7 2-9.8 2-11.4 2-10.1 2-10.8 2-11.6 2-9.7 2-9.1 2-8.4 2-7 2-5 2-3.9"/>
<path stroke="#ebbb4c" stroke-opacity="0.5" d="M161.7 666.2l2-2.8 2-4.1 2-6.7 2-8.9 2-5.5 2-6.8 2-5.5 2-6.2 2-6.6 2-5.9 2-7.9 2-10.3 2-10.2 2-11.8 2-10.2 2-10.7 2-9.7 2-9.6 2-8.3 2-7.6 2-5.2 2-4.1"/>
<path stroke="#ebbb4c" stroke-opacity="0.5" d="M165.7 669.0l2-3 2-4.1 2-5.6 2-7.5 2-7.1 2-6.9 2-5.6 2-5.1 2-7.1 2-6 2-7.8 2-9.4 2-10.6 2-11.1 2-10.6 2-10.3 2-10.1 2-10.1 2-8.5 2-7 2-6.4 2-6.3 2-3.6"/>
<path stroke="#ebbb4c" stroke-opacity="0.5" d="M161.7 669.4l2-4.1 2-5.3 2-7.8 2-7.3 2-6 2-6.8 2-5.7 2-6.3 2-6.2 2-7.1 2-8.6 2-10.8 2-12 2-11.3 2-9.9 2-10.8 2-10 2-7.9 2-8.3 2-6.3 2-5.1 2-3.8M229.7 503.7l2 2.7M263.7 529.6l2 2.7M367.7 591.9l2 2.8"/>
<path stroke="#ebbb4c" stroke-opacity="0.5" d="M167.7 667.1l2-4.3 2-5.2 2-8.5 2-6.9 2-6.9 2-5.2 2-5.2 2-6.6 2-6.8 2-7.2 2-8.9 2-10.7 2-10.8 2-10.5 2-11.1 2-10.3 2-10.2 2-8.6 2-8 2-6.7 2-4.7 2-3.4"/>
<path stroke="#ebbb4c" stroke-opacity="0.5" d="M171.7 668.7l2-3.7 2-4.8 2-6.3 2-8.6 2-6.2 2-5.9 2-6.2 2-6.2 2-6.4 2-6.3 2-8.9 2-9.9 2-10.6 2-10.8 2-10.5 2-10.5 2-10.3 2-9.3 2-7.7 2-7.8 2-6.4 2-3.7 2-3.6"/>
<path stroke="#ebbb4c" stroke-opacity="0.5" d="M163.7 668.2l2-2.7 2-3.7 2-7.1 2-7.3 2-7.5 2-5.8 2-6.4 2-5.3 2-6.4 2-6.3 2-8.7 2-9.3 2-10.7 2-10.8 2-11.3 2-10.3 2-10.5 2-8.8 2-9.1 2-7.5 2-6 2-5.4M237.7 506.6l2 3"/>
<path stroke="#ebbb4c" stroke-opacity="0.5" d="M169.7 664.9l2-4.2 2-3.6 2-7.8 2-8.5 2-6.8 2-6 2-6.4 2-5.1 2-7 2-7.4 2-7.2 2-9.9 2-11.8 2-10.5 2-11.1 2-10.6 2-9.1 2-8.8 2-7.8 2-8.3 2-4.2 2-4.6M233.7 500.3l2 2.8M273.7 528.1l2 2.7"/>
<path stroke="#ebbb4c" stroke-opacity="0.5" d="M161.7 669.9l2-2.9 2-4.1 2-6.3 2-8.4 2-7.4 2-5.8 2-6.2 2-6 2-6 2-6.7 2-6.5 2-10.3 2-10.3 2-11.8 2-10.3 2-10.4 2-10.7 2-9.7 2-8.9 2-7.2 2-6.8 2-5 2-3.4M349.7 581.1l2 2.7"/>
<path stroke="#ebbb4c" stroke-opacity="0.5" d="M167.7 668.5l2-3.1 2-4.1 2-7.2 2-8.2 2-6.5 2-6.1 2-6.2 2-6.6 2-5.8 2-7.1 2-7.7 2-9.9 2-10.6 2-11.2 2-10.3 2-10.3 2-10.4 2-8.6 2-9.1 2-7.9 2-5.7 2-5.8 2-3M233.7 500.7l2 2.7"/>
</g>
<line x1="188.3" y1="187.6" x2="541.4" y2="187.6" stroke="#c6b4df" stroke-width="4.4" stroke-dasharray="4.4 4.9"/>
<line x1="204.5" y1="354.5" x2="354.0" y2="354.5" stroke="#c6b4df" stroke-width="4.4" stroke-dasharray="4.4 4.9"/>
<line x1="200.4" y1="567.3" x2="332.3" y2="567.3" stroke="#c6b4df" stroke-width="4.4" stroke-dasharray="4.4 4.9"/>
<text x="217.5" y="231.3" font-size="19.2" fill="#7b77bc">35 mV</text>
<text x="217.5" y="402.0" font-size="19.2" fill="#7b77bc">85 mV</text>
<text x="213.0" y="614.4" font-size="19.2" fill="#7b77bc">100 mV</text>
<text x="79" y="246.8" font-size="17" text-anchor="end">0</text>
<text x="79" y="181.8" font-size="17" text-anchor="end">40</text>
<text x="79" y="116.8" font-size="17" text-anchor="end">80</text>
<text x="79" y="51.8" font-size="17" text-anchor="end">120</text>
<text x="79" y="454.3" font-size="17" text-anchor="end">0</text>
<text x="79" y="395.4" font-size="17" text-anchor="end">50</text>
<text x="79" y="336.5" font-size="17" text-anchor="end">100</text>
<text x="79" y="277.6" font-size="17" text-anchor="end">150</text>
<text x="79" y="667.8" font-size="17" text-anchor="end">0</text>
<text x="79" y="611.5" font-size="17" text-anchor="end">60</text>
<text x="79" y="555.2" font-size="17" text-anchor="end">120</text>
<text x="79" y="498.9" font-size="17" text-anchor="end">180</text>
<text x="201.5" y="694" font-size="17" text-anchor="middle">0</text>
<text x="363.5" y="694" font-size="17" text-anchor="middle">100</text>
<text x="525.5" y="694" font-size="17" text-anchor="middle">200</text>
<text x="687.5" y="694" font-size="17" text-anchor="middle">300</text>
<text x="403.6" y="724.7" font-size="17.8" text-anchor="middle">Time (ns)</text>
<text transform="translate(41.4 144.3) rotate(-90)" font-size="18" text-anchor="middle">Voltage (mV)</text>
<text transform="translate(41.4 355.2) rotate(-90)" font-size="18" text-anchor="middle">Voltage (mV)</text>
<text transform="translate(41.4 566.5) rotate(-90)" font-size="18" text-anchor="middle">Voltage (mV)</text>
<text transform="translate(16.3 33.8) scale(1.08 1)" font-size="26.5">(a)</text>
<text transform="translate(16.3 242.0) scale(1.08 1)" font-size="26.5">(b)</text>
<text transform="translate(16.3 453.0) scale(1.08 1)" font-size="26.5">(c)</text>
<text x="112.6" y="60.4" font-size="19.3" fill="#1a6db5">Two-pixel response</text>
<text x="112.3" y="273" font-size="19.3" fill="#1c9a4e">Three-pixel response</text>
<text x="111.6" y="483.4" font-size="19.3" fill="#efc15e">Four-pixel response</text>
<line x1="105.6" y1="91.0" x2="147.4" y2="91.0" stroke="#c2ddf0" stroke-width="3.8" stroke-linecap="round"/>
<text x="152.4" y="97.3" font-size="18">12</text>
<line x1="105.6" y1="111.9" x2="147.4" y2="111.9" stroke="#9cc8e8" stroke-width="3.8" stroke-linecap="round"/>
<text x="152.4" y="118.2" font-size="18">13</text>
<line x1="105.6" y1="132.3" x2="147.4" y2="132.3" stroke="#6aa9dc" stroke-width="3.8" stroke-linecap="round"/>
<text x="152.4" y="138.6" font-size="18">14</text>
<line x1="105.6" y1="153.1" x2="147.4" y2="153.1" stroke="#4a96d3" stroke-width="3.8" stroke-linecap="round"/>
<text x="152.4" y="159.4" font-size="18">23</text>
<line x1="105.6" y1="173.9" x2="147.4" y2="173.9" stroke="#2f84c8" stroke-width="3.8" stroke-linecap="round"/>
<text x="152.4" y="180.2" font-size="18">24</text>
<line x1="105.6" y1="195.2" x2="147.4" y2="195.2" stroke="#1770bf" stroke-width="3.8" stroke-linecap="round"/>
<text x="152.4" y="201.5" font-size="18">34</text>
<line x1="105.6" y1="307.2" x2="147.4" y2="307.2" stroke="#d9ef8b" stroke-width="3.8" stroke-linecap="round"/>
<text x="152.4" y="313.5" font-size="18">123</text>
<line x1="105.6" y1="327.5" x2="147.4" y2="327.5" stroke="#a6d96a" stroke-width="3.8" stroke-linecap="round"/>
<text x="152.4" y="333.8" font-size="18">124</text>
<line x1="105.6" y1="347.8" x2="147.4" y2="347.8" stroke="#66bd63" stroke-width="3.8" stroke-linecap="round"/>
<text x="152.4" y="354.1" font-size="18">134</text>
<line x1="105.6" y1="369.0" x2="147.4" y2="369.0" stroke="#1a9850" stroke-width="3.8" stroke-linecap="round"/>
<text x="152.4" y="375.3" font-size="18">234</text>
<line x1="105.6" y1="523.5" x2="147.4" y2="523.5" stroke="#ebbb4c" stroke-width="3.8" stroke-linecap="round"/>
<text x="152.4" y="529.8" font-size="18">1234</text>
<g stroke="#000" stroke-width="1.6" fill="none">
<rect x="507.5" y="53.0" width="201.0" height="83.9"/>
<line x1="566.4" y1="136.9" x2="566.4" y2="131.4"/>
<line x1="625.3" y1="136.9" x2="625.3" y2="131.4"/>
<line x1="684.2" y1="136.9" x2="684.2" y2="131.4"/>
<line x1="537.0" y1="136.9" x2="537.0" y2="133.4"/>
<line x1="595.9" y1="136.9" x2="595.9" y2="133.4"/>
<line x1="654.8" y1="136.9" x2="654.8" y2="133.4"/>
<line x1="507.5" y1="136.9" x2="513.0" y2="136.9"/>
<line x1="507.5" y1="103.2" x2="513.0" y2="103.2"/>
<line x1="507.5" y1="69.5" x2="513.0" y2="69.5"/>
<line x1="507.5" y1="120.1" x2="511.0" y2="120.1"/>
<line x1="507.5" y1="86.3" x2="511.0" y2="86.3"/>
</g>
<rect x="530.90" y="133.53" width="3.20" height="4.27" fill="#c4b3de"/>
<rect x="533.70" y="130.16" width="1.60" height="7.64" fill="#c4b3de"/>
<rect x="534.90" y="117.02" width="3.50" height="20.78" fill="#c4b3de"/>
<rect x="538.00" y="103.20" width="2.20" height="14.12" fill="#dccdef"/>
<rect x="538.00" y="117.02" width="2.20" height="20.78" fill="#c4b3de"/>
<rect x="539.80" y="117.02" width="1.40" height="20.78" fill="#c4b3de"/>
<rect x="540.80" y="133.53" width="2.20" height="4.27" fill="#c4b3de"/>
<rect x="559.70" y="133.87" width="3.80" height="3.93" fill="#c4b3de"/>
<rect x="563.10" y="130.16" width="2.20" height="7.64" fill="#c4b3de"/>
<rect x="564.90" y="131.17" width="2.60" height="6.63" fill="#c4b3de"/>
<rect x="567.10" y="129.82" width="2.20" height="7.98" fill="#c4b3de"/>
<rect x="568.90" y="120.72" width="2.25" height="17.08" fill="#c4b3de"/>
<rect x="570.75" y="117.02" width="2.25" height="20.78" fill="#c4b3de"/>
<rect x="572.60" y="117.02" width="1.90" height="10.07" fill="#dccdef"/>
<rect x="572.60" y="126.79" width="1.90" height="11.01" fill="#c4b3de"/>
<rect x="574.10" y="112.97" width="2.90" height="14.12" fill="#dccdef"/>
<rect x="574.10" y="126.79" width="2.90" height="11.01" fill="#c4b3de"/>
<rect x="576.60" y="126.79" width="1.90" height="11.01" fill="#c4b3de"/>
<rect x="578.10" y="134.20" width="1.30" height="3.60" fill="#c4b3de"/>
<rect x="580.00" y="133.53" width="2.20" height="4.27" fill="#c4b3de"/>
<rect x="594.80" y="133.53" width="3.20" height="4.27" fill="#c4b3de"/>
<rect x="597.60" y="113.31" width="2.00" height="10.41" fill="#dccdef"/>
<rect x="597.60" y="123.42" width="2.00" height="14.38" fill="#c4b3de"/>
<rect x="599.20" y="123.42" width="1.60" height="14.38" fill="#c4b3de"/>
<rect x="600.40" y="89.05" width="1.80" height="48.75" fill="#c4b3de"/>
<rect x="601.80" y="80.28" width="1.60" height="57.52" fill="#c4b3de"/>
<rect x="603.00" y="56.02" width="2.20" height="23.22" fill="#dccdef"/>
<rect x="603.00" y="78.94" width="2.20" height="58.86" fill="#c4b3de"/>
<rect x="604.80" y="83.65" width="2.20" height="54.15" fill="#c4b3de"/>
<rect x="606.60" y="107.24" width="1.60" height="30.56" fill="#c4b3de"/>
<rect x="607.80" y="123.76" width="1.60" height="14.04" fill="#c4b3de"/>
<rect x="609.00" y="130.50" width="2.80" height="7.30" fill="#c4b3de"/>
<rect x="622.00" y="130.16" width="4.50" height="7.64" fill="#c4b3de"/>
<rect x="626.10" y="126.79" width="1.80" height="11.01" fill="#c4b3de"/>
<rect x="627.50" y="130.16" width="2.00" height="7.64" fill="#c4b3de"/>
<rect x="629.10" y="123.42" width="2.10" height="7.04" fill="#dccdef"/>
<rect x="629.10" y="130.16" width="2.10" height="7.64" fill="#c4b3de"/>
<rect x="630.80" y="134.88" width="2.20" height="2.92" fill="#c4b3de"/>
<rect x="632.60" y="123.42" width="2.50" height="11.76" fill="#dccdef"/>
<rect x="632.60" y="134.88" width="2.50" height="2.92" fill="#c4b3de"/>
<rect x="644.10" y="133.53" width="2.00" height="4.27" fill="#c4b3de"/>
<rect x="645.70" y="130.16" width="3.90" height="7.64" fill="#c4b3de"/>
<rect x="649.20" y="120.05" width="2.40" height="10.41" fill="#dccdef"/>
<rect x="649.20" y="130.16" width="2.40" height="7.64" fill="#c4b3de"/>
<rect x="651.20" y="120.05" width="2.10" height="17.75" fill="#c4b3de"/>
<rect x="652.90" y="103.20" width="2.60" height="20.52" fill="#dccdef"/>
<rect x="652.90" y="123.42" width="2.60" height="14.38" fill="#c4b3de"/>
<rect x="655.10" y="123.42" width="4.80" height="14.38" fill="#c4b3de"/>
<rect x="659.50" y="133.53" width="1.50" height="4.27" fill="#c4b3de"/>
<rect x="671.30" y="126.79" width="3.80" height="11.01" fill="#c4b3de"/>
<rect x="674.70" y="120.05" width="2.90" height="17.75" fill="#c4b3de"/>
<rect x="677.20" y="82.98" width="2.80" height="13.78" fill="#dccdef"/>
<rect x="677.20" y="96.46" width="2.80" height="41.34" fill="#c4b3de"/>
<rect x="679.60" y="113.31" width="2.40" height="24.49" fill="#c4b3de"/>
<rect x="681.60" y="121.06" width="2.50" height="16.74" fill="#c4b3de"/>
<rect x="683.70" y="133.53" width="1.80" height="4.27" fill="#c4b3de"/>
<rect x="685.10" y="130.16" width="1.80" height="7.64" fill="#c4b3de"/>
<text x="500.2" y="140.8" font-size="14.5" text-anchor="end">0</text>
<text x="500.2" y="107.1" font-size="14.5" text-anchor="end">10</text>
<text x="500.2" y="73.4" font-size="14.5" text-anchor="end">20</text>
<text x="507.5" y="154.8" font-size="14.5" text-anchor="middle">50</text>
<text x="566.4" y="154.8" font-size="14.5" text-anchor="middle">100</text>
<text x="625.3" y="154.8" font-size="14.5" text-anchor="middle">150</text>
<text x="684.2" y="154.8" font-size="14.5" text-anchor="middle">200</text>
<text x="608.5" y="170.1" font-size="15.5" text-anchor="middle">Pulse width (ns)</text>
<text transform="translate(480.6 94.3) rotate(-90)" font-size="15.3" text-anchor="middle">Count</text>
<g stroke="#000" stroke-width="1.6" fill="none">
<rect x="506.7" y="262.2" width="201.6" height="84.4"/>
<line x1="531.6" y1="346.6" x2="531.6" y2="341.1"/>
<line x1="582.7" y1="346.6" x2="582.7" y2="341.1"/>
<line x1="633.8" y1="346.6" x2="633.8" y2="341.1"/>
<line x1="684.9" y1="346.6" x2="684.9" y2="341.1"/>
<line x1="557.1" y1="346.6" x2="557.1" y2="343.1"/>
<line x1="608.2" y1="346.6" x2="608.2" y2="343.1"/>
<line x1="659.4" y1="346.6" x2="659.4" y2="343.1"/>
<line x1="506.7" y1="346.6" x2="512.2" y2="346.6"/>
<line x1="506.7" y1="313.0" x2="512.2" y2="313.0"/>
<line x1="506.7" y1="279.4" x2="512.2" y2="279.4"/>
<line x1="506.7" y1="329.8" x2="510.2" y2="329.8"/>
<line x1="506.7" y1="296.2" x2="510.2" y2="296.2"/>
</g>
<rect x="533.40" y="339.54" width="2.80" height="7.96" fill="#c4b3de"/>
<rect x="535.80" y="332.82" width="2.50" height="14.68" fill="#c4b3de"/>
<rect x="537.90" y="333.16" width="1.10" height="14.34" fill="#c4b3de"/>
<rect x="538.60" y="328.79" width="3.90" height="18.71" fill="#c4b3de"/>
<rect x="542.10" y="328.79" width="1.10" height="18.71" fill="#c4b3de"/>
<rect x="542.80" y="311.99" width="3.10" height="4.67" fill="#dccdef"/>
<rect x="542.80" y="316.36" width="3.10" height="31.14" fill="#c4b3de"/>
<rect x="545.50" y="316.36" width="1.80" height="31.14" fill="#c4b3de"/>
<rect x="546.90" y="333.16" width="1.80" height="14.34" fill="#c4b3de"/>
<rect x="548.30" y="326.44" width="1.80" height="21.06" fill="#c4b3de"/>
<rect x="549.70" y="336.86" width="2.40" height="10.64" fill="#c4b3de"/>
<rect x="551.70" y="339.88" width="2.50" height="7.62" fill="#c4b3de"/>
<rect x="562.80" y="343.24" width="1.80" height="3.66" fill="#dccdef"/>
<rect x="568.30" y="343.24" width="1.80" height="3.66" fill="#dccdef"/>
<rect x="571.80" y="339.88" width="8.60" height="7.62" fill="#c4b3de"/>
<rect x="580.70" y="336.52" width="3.20" height="10.98" fill="#c4b3de"/>
<rect x="583.50" y="332.82" width="2.50" height="14.68" fill="#c4b3de"/>
<rect x="585.60" y="342.23" width="1.80" height="5.27" fill="#c4b3de"/>
<rect x="587.20" y="329.46" width="2.90" height="14.08" fill="#dccdef"/>
<rect x="587.20" y="343.24" width="2.90" height="4.26" fill="#c4b3de"/>
<rect x="589.70" y="343.24" width="7.30" height="4.26" fill="#c4b3de"/>
<rect x="605.00" y="343.24" width="1.90" height="3.66" fill="#dccdef"/>
<rect x="607.80" y="342.90" width="2.20" height="4.60" fill="#c4b3de"/>
<rect x="609.60" y="333.16" width="2.30" height="7.02" fill="#dccdef"/>
<rect x="609.60" y="339.88" width="2.30" height="7.62" fill="#c4b3de"/>
<rect x="611.50" y="339.54" width="1.60" height="7.96" fill="#c4b3de"/>
<rect x="612.70" y="329.46" width="2.80" height="18.04" fill="#c4b3de"/>
<rect x="615.10" y="326.78" width="2.30" height="6.68" fill="#dccdef"/>
<rect x="615.10" y="333.16" width="2.30" height="14.34" fill="#c4b3de"/>
<rect x="617.00" y="336.86" width="1.30" height="10.64" fill="#c4b3de"/>
<rect x="617.90" y="326.78" width="2.20" height="20.72" fill="#c4b3de"/>
<rect x="619.70" y="329.46" width="1.70" height="18.04" fill="#c4b3de"/>
<rect x="621.00" y="319.05" width="2.00" height="8.36" fill="#dccdef"/>
<rect x="621.00" y="327.11" width="2.00" height="20.39" fill="#c4b3de"/>
<rect x="622.60" y="327.11" width="2.40" height="20.39" fill="#c4b3de"/>
<rect x="624.60" y="339.88" width="1.70" height="7.62" fill="#c4b3de"/>
<rect x="625.90" y="339.54" width="4.70" height="7.96" fill="#c4b3de"/>
<rect x="630.20" y="342.57" width="1.00" height="4.93" fill="#c4b3de"/>
<rect x="645.00" y="343.24" width="3.20" height="4.26" fill="#c4b3de"/>
<rect x="647.80" y="326.44" width="2.50" height="17.10" fill="#dccdef"/>
<rect x="647.80" y="343.24" width="2.50" height="4.26" fill="#c4b3de"/>
<rect x="649.90" y="341.56" width="2.40" height="5.94" fill="#c4b3de"/>
<rect x="651.90" y="309.30" width="3.20" height="38.20" fill="#c4b3de"/>
<rect x="654.70" y="313.00" width="4.50" height="34.50" fill="#c4b3de"/>
<rect x="658.80" y="329.80" width="1.40" height="17.70" fill="#c4b3de"/>
<rect x="659.80" y="268.65" width="2.20" height="28.86" fill="#dccdef"/>
<rect x="659.80" y="297.21" width="2.20" height="50.29" fill="#c4b3de"/>
<rect x="661.60" y="297.21" width="1.80" height="50.29" fill="#c4b3de"/>
<rect x="663.00" y="303.26" width="1.80" height="44.24" fill="#c4b3de"/>
<rect x="664.40" y="307.62" width="3.10" height="39.88" fill="#c4b3de"/>
<rect x="667.10" y="329.80" width="3.20" height="17.70" fill="#c4b3de"/>
<rect x="670.60" y="339.88" width="2.40" height="7.62" fill="#c4b3de"/>
<rect x="672.60" y="343.24" width="5.30" height="4.26" fill="#c4b3de"/>
<text x="499.4" y="350.5" font-size="14.5" text-anchor="end">0</text>
<text x="499.4" y="316.9" font-size="14.5" text-anchor="end">10</text>
<text x="499.4" y="283.3" font-size="14.5" text-anchor="end">20</text>
<text x="531.6" y="363.7" font-size="14.5" text-anchor="middle">40</text>
<text x="582.7" y="363.7" font-size="14.5" text-anchor="middle">60</text>
<text x="633.8" y="363.7" font-size="14.5" text-anchor="middle">80</text>
<text x="684.9" y="363.7" font-size="14.5" text-anchor="middle">100</text>
<text x="608.0" y="378.0" font-size="15.5" text-anchor="middle">Pulse width (ns)</text>
<text transform="translate(480.6 303.5) rotate(-90)" font-size="15.3" text-anchor="middle">Count</text>
<g stroke="#000" stroke-width="1.6" fill="none">
<rect x="508.5" y="472.9" width="200.0" height="82.9"/>
<line x1="508.5" y1="555.8" x2="508.5" y2="550.3"/>
<line x1="571.0" y1="555.8" x2="571.0" y2="550.3"/>
<line x1="633.5" y1="555.8" x2="633.5" y2="550.3"/>
<line x1="696.0" y1="555.8" x2="696.0" y2="550.3"/>
<line x1="539.8" y1="555.8" x2="539.8" y2="552.3"/>
<line x1="602.2" y1="555.8" x2="602.2" y2="552.3"/>
<line x1="664.8" y1="555.8" x2="664.8" y2="552.3"/>
<line x1="508.5" y1="555.8" x2="514.0" y2="555.8"/>
<line x1="508.5" y1="522.4" x2="514.0" y2="522.4"/>
<line x1="508.5" y1="489.0" x2="514.0" y2="489.0"/>
<line x1="508.5" y1="539.1" x2="512.0" y2="539.1"/>
<line x1="508.5" y1="505.7" x2="512.0" y2="505.7"/>
</g>
<rect x="575.80" y="542.77" width="4.60" height="13.93" fill="#c4b3de"/>
<rect x="580.00" y="512.71" width="2.20" height="43.99" fill="#c4b3de"/>
<rect x="581.80" y="496.35" width="2.20" height="60.35" fill="#c4b3de"/>
<rect x="583.60" y="475.97" width="2.20" height="21.34" fill="#dccdef"/>
<rect x="583.60" y="497.02" width="2.20" height="59.68" fill="#c4b3de"/>
<rect x="585.40" y="499.35" width="2.80" height="57.35" fill="#c4b3de"/>
<rect x="587.80" y="530.08" width="1.60" height="26.62" fill="#c4b3de"/>
<rect x="589.00" y="536.76" width="3.40" height="19.94" fill="#c4b3de"/>
<rect x="592.00" y="540.10" width="2.20" height="16.60" fill="#c4b3de"/>
<rect x="593.80" y="549.79" width="2.20" height="6.91" fill="#c4b3de"/>
<text x="501.2" y="559.7" font-size="14.5" text-anchor="end">0</text>
<text x="501.2" y="526.3" font-size="14.5" text-anchor="end">10</text>
<text x="501.2" y="492.9" font-size="14.5" text-anchor="end">20</text>
<text x="508.5" y="573.7" font-size="14.5" text-anchor="middle">0</text>
<text x="571.0" y="573.7" font-size="14.5" text-anchor="middle">50</text>
<text x="633.5" y="573.7" font-size="14.5" text-anchor="middle">100</text>
<text x="696.0" y="573.7" font-size="14.5" text-anchor="middle">150</text>
<text x="609.0" y="589.8" font-size="15.5" text-anchor="middle">Pulse width (ns)</text>
<text transform="translate(480.6 514.3) rotate(-90)" font-size="15.3" text-anchor="middle">Count</text>
<g fill="none" stroke="#8a8a8a" stroke-width="0.9" stroke-dasharray="1.4 1.1">
<path d="M626.5 689.5c-6 0-10.5 3.8-10.5 8.3 0 2.6 1.4 4.8 3.6 6.3l-1 3 3.4-1.8c1.4 .4 2.9 .6 4.5 .6"/>
<path d="M634.5 697.5c-5 0-8.8 3.2-8.8 7.2s3.8 7.2 8.8 7.2c1.1 0 2.2-.2 3.2-.5l2.8 1.5-.8-2.5c2-1.3 3.4-3.4 3.4-5.7 0-4-3.8-7.2-8.6-7.2z"/>
</g>
<g fill="#8a8a8a"><circle cx="622.5" cy="694.5" r="0.9"/><circle cx="629.5" cy="694.5" r="0.9"/><circle cx="631.5" cy="702.8" r="0.8"/><circle cx="637.5" cy="702.8" r="0.8"/></g>
<text x="648.6" y="709.5" font-size="17.6" fill="#4a4a4a" stroke="#4a4a4a" stroke-width="0.4" transform="translate(0.9 0.6)">MEMS</text>
<text x="648.6" y="709.5" font-size="17.6" fill="#fff" stroke="#aaa" stroke-width="0.5" paint-order="stroke">MEMS</text>
</svg></body></html>
